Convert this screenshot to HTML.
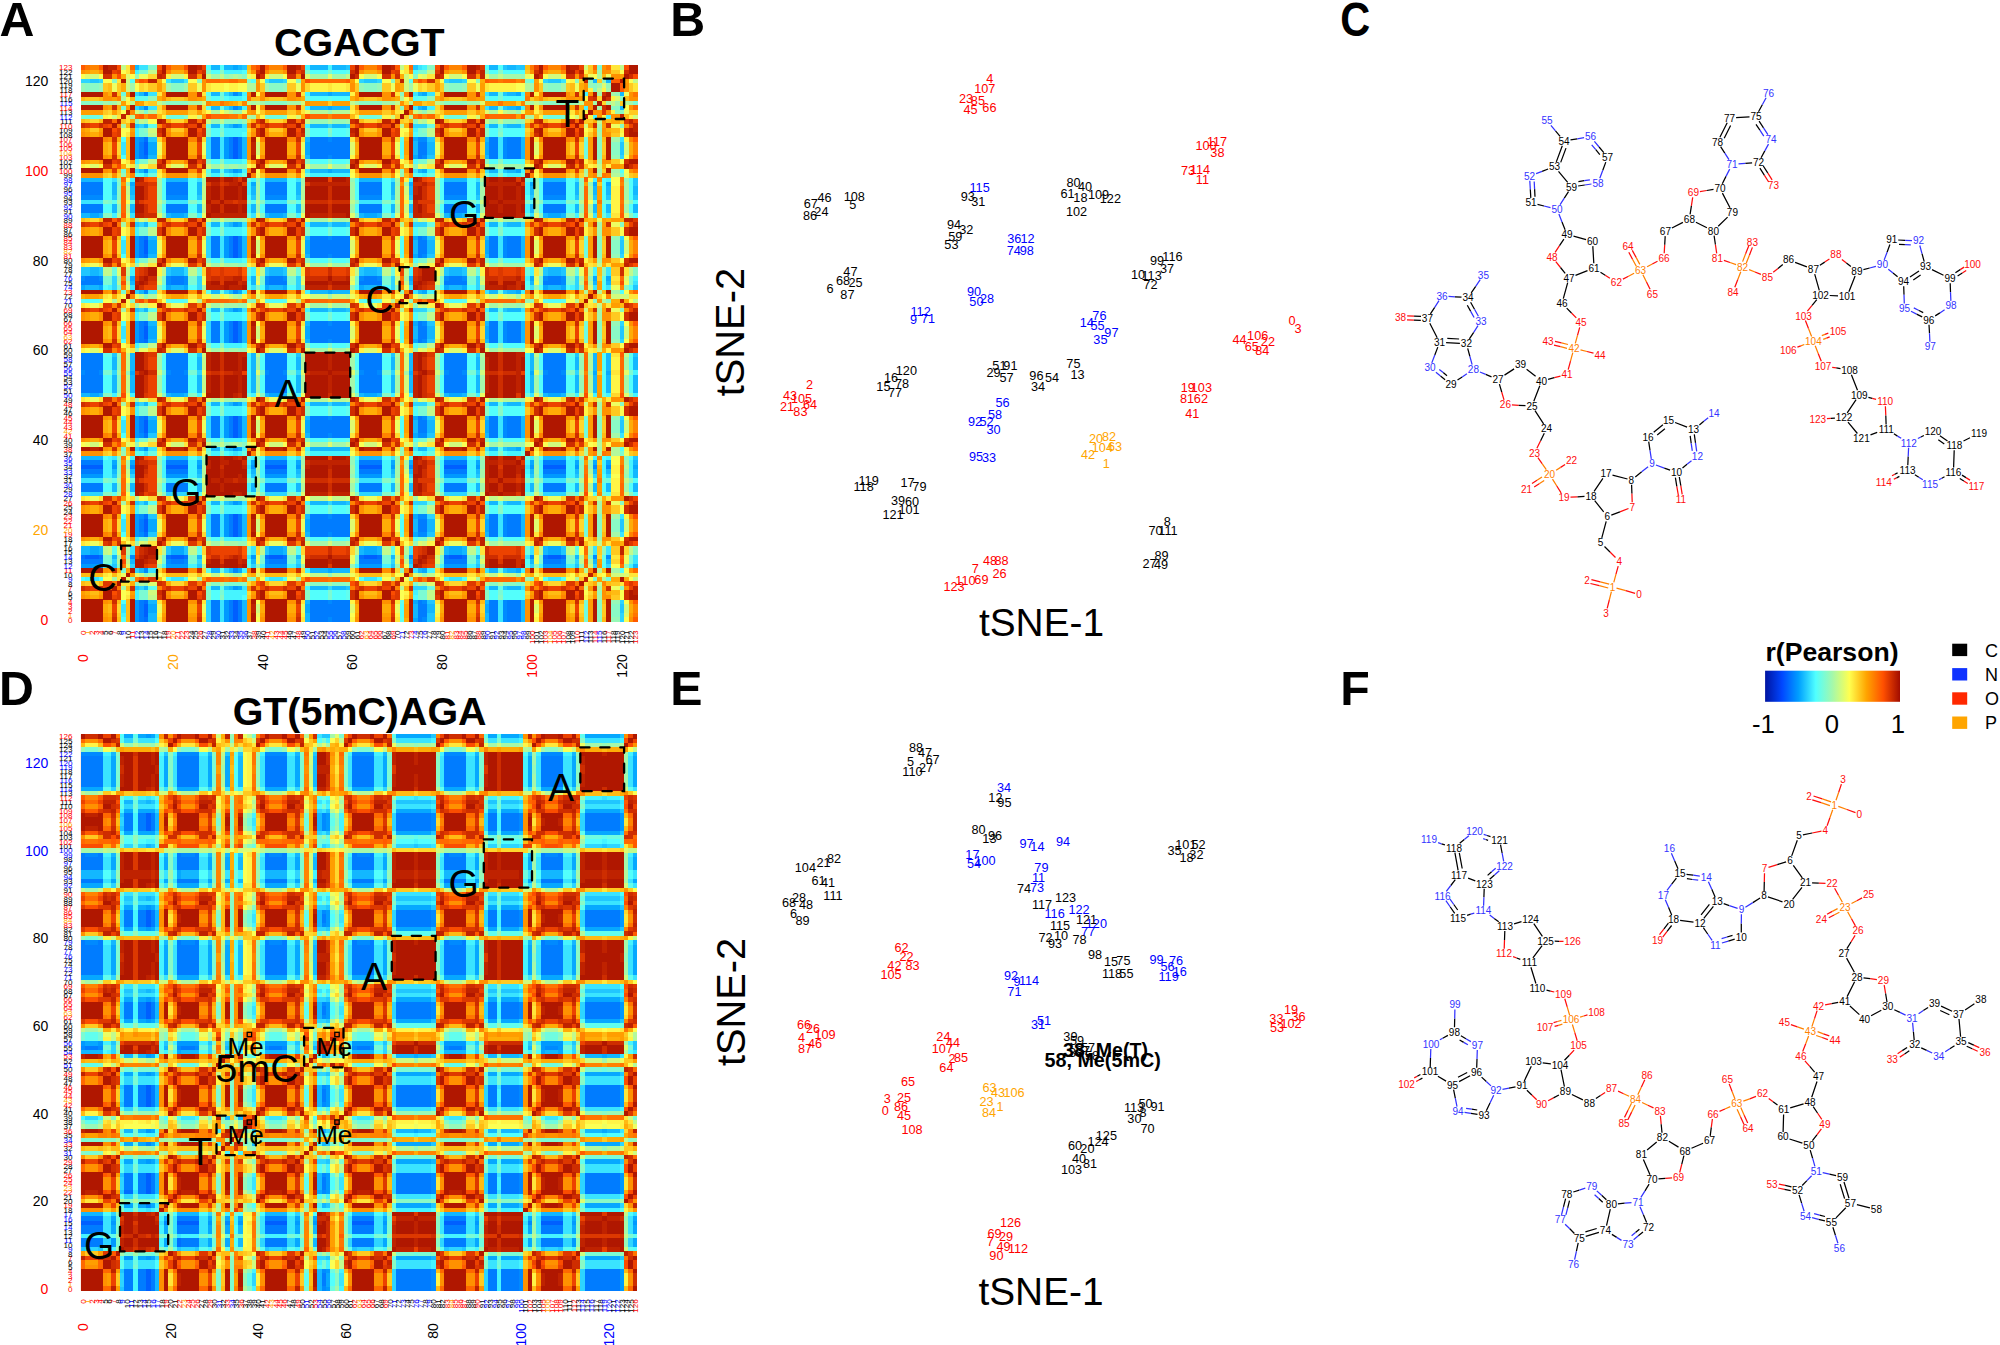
<!DOCTYPE html>
<html><head><meta charset="utf-8"><title>Figure</title>
<style>
html,body{margin:0;padding:0;background:#fff;}
body{width:2000px;height:1345px;overflow:hidden;}
svg{display:block;font-family:"Liberation Sans",sans-serif;}
</style></head><body>
<svg width="2000" height="1345" viewBox="0 0 2000 1345">
<rect width="2000" height="1345" fill="#fff"/>
<rect x="81.00" y="65.45" width="556.30" height="556.25" fill="#d85a10"/>
<g transform="translate(80.70 65.15) scale(4.49113 4.49073)" shape-rendering="crispEdges" fill="none" stroke-width="1.04">
<g transform="translate(0 .5)">
<path stroke="#005fff" d="M34 123h1M14 122h1M34 122h1M14 121h1M34 121h1M14 120h1M34 120h1M34 119h1M1 109h3M20 109h3M42 109h3M63 109h3M82 109h3M104 109h3M34 104h1M14 103h1M34 103h1M14 102h1M34 102h1M14 101h1M34 101h1M34 100h1M0 89h5M19 89h5M41 89h5M62 89h5M81 89h5M103 89h5M34 82h1M14 81h1M34 81h1M14 80h1M34 80h1M14 79h1M34 79h1M34 78h1M34 61h1M14 60h1M34 60h1M14 59h1M34 59h1M14 58h1M34 58h1M34 57h1M34 42h1M14 41h1M34 41h1M14 40h1M34 40h1M14 39h1M34 39h1M34 38h1M34 20h1M14 19h1M34 19h1M14 18h1M34 18h1M14 17h1M34 17h1M34 16h1"/>
<path stroke="#006eff" d="M14 123h1M14 119h1M0 109h1M4 109h1M19 109h1M23 109h1M41 109h1M45 109h1M62 109h1M66 109h1M81 109h1M85 109h1M103 109h1M107 109h1M14 104h1M14 100h1M14 82h1M14 78h1M14 61h1M14 57h1M14 42h1M14 38h1M14 20h1M14 16h1"/>
<path stroke="#007cff" d="M13 123h1M29 123h2M33 123h1M35 123h1M51 123h4M56 123h4M75 123h1M91 123h2M95 123h3M13 122h1M29 122h2M33 122h1M35 122h1M51 122h9M75 122h2M91 122h2M95 122h3M13 121h1M29 121h2M33 121h1M35 121h1M51 121h9M75 121h2M91 121h2M95 121h3M13 120h1M29 120h2M33 120h1M35 120h1M51 120h9M75 120h2M91 120h2M95 120h3M13 119h1M29 119h2M33 119h1M35 119h1M51 119h4M56 119h4M75 119h1M91 119h2M95 119h3M0 110h5M20 110h3M42 110h4M62 110h5M81 110h5M103 110h4M29 104h2M33 104h1M35 104h1M51 104h4M56 104h4M91 104h2M95 104h3M13 103h1M29 103h2M33 103h1M35 103h1M51 103h9M75 103h2M91 103h2M95 103h3M13 102h1M29 102h2M33 102h1M35 102h1M51 102h9M75 102h2M91 102h2M95 102h3M13 101h1M29 101h2M33 101h1M35 101h1M51 101h9M75 101h2M91 101h2M95 101h3M29 100h2M33 100h1M35 100h1M51 100h4M56 100h4M91 100h2M95 100h3M0 94h5M19 94h5M41 94h5M62 94h5M81 94h5M103 94h5M0 93h5M19 93h5M41 93h5M62 93h5M81 93h5M103 93h5M0 90h5M19 90h5M41 90h5M62 90h5M81 90h5M103 90h5M0 88h5M19 88h5M41 88h5M62 88h5M81 88h5M103 88h5M29 82h2M33 82h1M35 82h1M51 82h4M56 82h4M91 82h2M95 82h3M13 81h1M29 81h2M33 81h1M35 81h1M51 81h9M75 81h2M91 81h2M95 81h3M13 80h1M29 80h2M33 80h1M35 80h1M51 80h9M75 80h2M91 80h2M95 80h3M13 79h1M29 79h2M33 79h1M35 79h1M51 79h9M75 79h2M91 79h2M95 79h3M13 78h1M29 78h2M33 78h1M35 78h1M51 78h4M56 78h4M75 78h1M91 78h2M95 78h3M0 72h5M19 72h5M41 72h5M62 72h5M81 72h5M103 72h5M0 71h5M19 71h5M41 71h5M62 71h5M81 71h5M103 71h5M0 70h5M19 70h5M41 70h5M62 70h5M81 70h5M103 70h5M0 69h5M19 69h5M41 69h5M62 69h5M81 69h5M103 69h5M1 68h3M20 68h3M42 68h3M63 68h3M82 68h3M104 68h3M0 67h5M19 67h5M41 67h5M62 67h5M81 67h5M103 67h5M0 66h5M19 66h5M41 66h5M62 66h5M81 66h5M103 66h5M0 65h5M19 65h5M41 65h5M62 65h5M81 65h5M103 65h5M0 64h5M19 64h5M41 64h5M62 64h5M81 64h5M103 64h5M13 61h1M29 61h2M33 61h1M35 61h1M51 61h4M56 61h4M75 61h1M91 61h2M95 61h3M13 60h1M29 60h2M33 60h1M35 60h1M51 60h9M75 60h2M91 60h2M95 60h3M13 59h1M29 59h2M33 59h1M35 59h1M51 59h9M75 59h2M91 59h2M95 59h3M13 58h1M29 58h2M33 58h1M35 58h1M51 58h9M75 58h2M91 58h2M95 58h3M13 57h1M29 57h2M33 57h1M35 57h1M51 57h4M56 57h4M75 57h1M91 57h2M95 57h3M0 48h5M20 48h3M42 48h4M62 48h5M81 48h5M103 48h4M1 47h3M20 47h3M42 47h3M63 47h3M82 47h3M104 47h3M13 42h1M29 42h2M33 42h1M35 42h1M51 42h4M56 42h4M75 42h1M91 42h2M95 42h3M13 41h1M29 41h2M33 41h1M35 41h1M51 41h9M75 41h2M91 41h2M95 41h3M13 40h1M29 40h2M33 40h1M35 40h1M51 40h9M75 40h2M91 40h2M95 40h3M13 39h1M29 39h2M33 39h1M35 39h1M51 39h9M75 39h2M91 39h2M95 39h3M13 38h1M29 38h2M33 38h1M35 38h1M51 38h4M56 38h4M75 38h1M91 38h2M95 38h3M0 32h5M19 32h5M41 32h5M62 32h5M81 32h5M103 32h5M0 31h5M19 31h5M41 31h5M62 31h5M81 31h5M103 31h5M0 28h5M19 28h5M41 28h5M62 28h5M81 28h5M103 28h5M0 27h5M19 27h5M41 27h5M62 27h5M81 27h5M103 27h5M0 26h5M19 26h5M41 26h5M62 26h5M81 26h5M103 26h5M13 20h1M29 20h2M33 20h1M35 20h1M51 20h4M56 20h4M75 20h1M91 20h2M95 20h3M13 19h1M29 19h2M33 19h1M35 19h1M51 19h9M75 19h2M91 19h2M95 19h3M13 18h1M29 18h2M33 18h1M35 18h1M51 18h9M75 18h2M91 18h2M95 18h3M13 17h1M29 17h2M33 17h1M35 17h1M51 17h9M75 17h2M91 17h2M95 17h3M29 16h2M33 16h1M35 16h1M51 16h4M56 16h4M91 16h2M95 16h3"/>
<path stroke="#008aff" d="M55 123h1M76 123h1M94 123h1M94 122h1M94 121h1M94 120h1M55 119h1M76 119h1M94 119h1M14 112h1M34 112h1M19 110h1M23 110h1M41 110h1M107 110h1M11 109h1M73 109h1M100 109h1M114 109h1M117 109h1M13 104h1M55 104h1M75 104h2M94 104h1M94 103h1M94 102h1M94 101h1M13 100h1M55 100h1M75 100h2M94 100h1M11 89h1M73 89h1M114 89h1M117 89h1M13 82h1M55 82h1M75 82h2M94 82h1M94 81h1M94 80h1M94 79h1M55 78h1M76 78h1M94 78h1M0 68h1M4 68h1M19 68h1M23 68h1M41 68h1M45 68h1M62 68h1M66 68h1M81 68h1M85 68h1M103 68h1M107 68h1M55 61h1M76 61h1M94 61h1M94 60h1M94 59h1M94 58h1M55 57h1M76 57h1M94 57h1M14 50h1M34 50h1M19 48h1M23 48h1M41 48h1M107 48h1M0 47h1M4 47h1M19 47h1M23 47h1M41 47h1M45 47h1M62 47h1M66 47h1M81 47h1M85 47h1M103 47h1M107 47h1M55 42h1M76 42h1M94 42h1M94 41h1M94 40h1M94 39h1M55 38h1M76 38h1M94 38h1M0 29h5M19 29h5M41 29h5M62 29h5M81 29h5M103 29h5M14 23h1M55 20h1M76 20h1M94 20h1M94 19h1M94 18h1M94 17h1M13 16h1M55 16h1M75 16h2M94 16h1M14 9h1M34 9h1M14 6h1M34 6h1"/>
<path stroke="#0099ff" d="M12 123h1M32 123h1M12 122h1M32 122h1M12 121h1M32 121h1M12 120h1M32 120h1M12 119h1M32 119h1M34 116h1M0 111h5M19 111h5M41 111h5M62 111h5M81 111h5M103 111h5M38 109h1M12 104h1M32 104h1M12 103h1M32 103h1M12 102h1M32 102h1M12 101h1M32 101h1M12 100h1M32 100h1M34 97h1M0 91h5M19 91h5M41 91h5M62 91h5M81 91h5M103 91h5M7 89h1M26 89h1M38 89h1M48 89h1M69 89h1M88 89h1M100 89h1M110 89h1M14 85h1M34 85h1M12 82h1M32 82h1M12 81h1M32 81h1M12 80h1M32 80h1M12 79h1M32 79h1M12 78h1M32 78h1M34 75h1M12 61h1M32 61h1M12 60h1M32 60h1M12 59h1M32 59h1M12 58h1M32 58h1M12 57h1M32 57h1M34 54h1M12 42h1M32 42h1M12 41h1M32 41h1M12 40h1M32 40h1M12 39h1M32 39h1M12 38h1M32 38h1M34 35h1M34 23h1M12 20h1M32 20h1M12 19h1M32 19h1M12 18h1M32 18h1M12 17h1M32 17h1M12 16h1M32 16h1M34 13h1"/>
<path stroke="#06a8ff" d="M74 123h1M15 121h2M50 121h1M90 121h1M15 120h2M50 120h1M90 120h1M74 119h1M35 116h1M35 112h1M55 112h1M76 112h1M97 112h1M2 108h2M20 108h3M42 108h3M63 108h3M82 108h3M104 108h3M2 107h2M20 107h3M42 107h3M63 107h3M82 107h3M104 107h3M74 104h1M15 103h2M50 103h1M90 103h1M15 102h2M50 102h1M90 102h1M15 101h2M50 101h1M90 101h1M74 100h1M35 97h1M123 89h1M7 88h1M11 88h1M26 88h1M38 88h1M48 88h1M69 88h1M73 88h1M88 88h1M100 88h1M110 88h1M114 88h1M117 88h1M35 85h1M97 85h1M74 82h1M15 81h2M50 81h1M90 81h1M15 80h2M50 80h1M90 80h1M15 79h2M50 79h1M90 79h1M74 78h1M35 75h1M2 73h2M20 73h3M42 73h3M63 73h3M82 73h3M104 73h3M11 68h1M73 68h1M100 68h1M114 68h1M117 68h1M74 61h1M15 60h2M50 60h1M90 60h1M15 59h2M50 59h1M90 59h1M15 58h2M50 58h1M90 58h1M74 57h1M35 54h1M35 50h1M55 50h1M76 50h1M97 50h1M0 49h1M4 49h1M19 49h1M23 49h1M41 49h1M45 49h1M62 49h1M66 49h1M81 49h1M85 49h1M103 49h1M107 49h1M11 47h1M73 47h1M100 47h1M114 47h1M117 47h1M74 42h1M15 41h2M50 41h1M90 41h1M15 40h2M50 40h1M90 40h1M15 39h2M50 39h1M90 39h1M74 38h1M35 35h1M2 33h2M20 33h3M42 33h3M63 33h3M82 33h3M104 33h3M11 26h1M38 26h1M73 26h1M100 26h1M114 26h1M117 26h1M35 23h1M55 23h1M76 23h1M97 23h1M74 20h1M15 19h2M50 19h1M90 19h1M15 18h2M50 18h1M90 18h1M15 17h2M50 17h1M90 17h1M74 16h1M35 13h1M35 9h1M55 9h1M76 9h1M97 9h1M35 6h1M55 6h1M76 6h1M97 6h1M34 0h1"/>
<path stroke="#13b7ff" d="M15 123h2M36 123h1M50 123h1M90 123h1M98 123h1M15 122h2M36 122h1M50 122h1M74 122h1M90 122h1M98 122h1M36 121h1M74 121h1M77 121h2M98 121h1M36 120h1M74 120h1M77 120h2M98 120h1M15 119h2M36 119h1M50 119h1M90 119h1M98 119h1M14 116h1M29 116h2M33 116h1M51 116h4M56 116h3M91 116h2M95 116h3M13 112h1M29 112h2M33 112h1M51 112h4M56 112h4M75 112h1M91 112h2M95 112h2M123 111h1M11 110h1M38 110h1M73 110h1M100 110h1M114 110h1M117 110h1M7 109h1M26 109h1M48 109h1M69 109h1M88 109h1M110 109h1M0 108h2M4 108h1M45 108h1M62 108h1M66 108h1M81 108h1M85 108h1M103 108h1M0 107h2M4 107h1M45 107h1M62 107h1M66 107h1M81 107h1M85 107h1M103 107h1M36 104h1M50 104h1M90 104h1M98 104h1M36 103h1M74 103h1M77 103h2M98 103h1M36 102h1M74 102h1M77 102h2M98 102h1M36 101h1M74 101h1M77 101h2M98 101h1M36 100h1M50 100h1M90 100h1M98 100h1M14 97h1M29 97h2M33 97h1M51 97h4M56 97h3M91 97h2M95 97h3M7 94h1M11 94h1M26 94h1M38 94h1M48 94h1M69 94h1M73 94h1M88 94h1M100 94h1M110 94h1M114 94h1M117 94h1M123 94h1M7 93h1M11 93h1M26 93h1M38 93h1M48 93h1M69 93h1M73 93h1M88 93h1M100 93h1M110 93h1M114 93h1M117 93h1M123 93h1M123 91h1M7 90h1M11 90h1M26 90h1M38 90h1M48 90h1M69 90h1M73 90h1M88 90h1M100 90h1M110 90h1M114 90h1M117 90h1M123 90h1M123 88h1M0 87h5M19 87h5M41 87h5M62 87h5M81 87h5M103 87h5M13 85h1M29 85h2M33 85h1M51 85h9M75 85h2M91 85h2M95 85h2M36 82h1M50 82h1M90 82h1M98 82h1M36 81h1M74 81h1M77 81h2M98 81h1M36 80h1M74 80h1M77 80h2M98 80h1M36 79h1M74 79h1M77 79h2M98 79h1M15 78h2M36 78h1M50 78h1M90 78h1M98 78h1M14 75h1M29 75h2M33 75h1M51 75h4M56 75h3M91 75h2M95 75h3M0 73h2M4 73h1M19 73h1M23 73h1M41 73h1M45 73h1M62 73h1M66 73h1M81 73h1M85 73h1M103 73h1M107 73h1M7 72h1M11 72h1M26 72h1M38 72h1M48 72h1M69 72h1M73 72h1M88 72h1M100 72h1M110 72h1M114 72h1M117 72h1M123 72h1M7 71h1M11 71h1M26 71h1M38 71h1M48 71h1M69 71h1M73 71h1M88 71h1M100 71h1M110 71h1M114 71h1M117 71h1M123 71h1M7 70h1M11 70h1M26 70h1M38 70h1M48 70h1M69 70h1M73 70h1M88 70h1M100 70h1M110 70h1M114 70h1M117 70h1M123 70h1M7 69h1M11 69h1M26 69h1M38 69h1M48 69h1M69 69h1M73 69h1M88 69h1M100 69h1M110 69h1M114 69h1M117 69h1M123 69h1M38 68h1M7 67h1M11 67h1M26 67h1M38 67h1M48 67h1M69 67h1M73 67h1M88 67h1M100 67h1M110 67h1M114 67h1M117 67h1M123 67h1M7 66h1M11 66h1M26 66h1M38 66h1M48 66h1M69 66h1M73 66h1M88 66h1M100 66h1M110 66h1M114 66h1M117 66h1M123 66h1M7 65h1M11 65h1M26 65h1M38 65h1M48 65h1M69 65h1M73 65h1M88 65h1M100 65h1M110 65h1M114 65h1M117 65h1M123 65h1M11 64h1M38 64h1M73 64h1M100 64h1M114 64h1M117 64h1M15 61h2M36 61h1M50 61h1M90 61h1M98 61h1M36 60h1M74 60h1M77 60h2M98 60h1M36 59h1M74 59h1M77 59h2M98 59h1M36 58h1M74 58h1M77 58h2M98 58h1M15 57h2M36 57h1M50 57h1M90 57h1M98 57h1M14 54h1M29 54h2M33 54h1M51 54h4M56 54h3M91 54h2M95 54h3M13 50h1M29 50h2M33 50h1M51 50h4M56 50h4M75 50h1M91 50h2M95 50h2M1 49h3M20 49h3M42 49h3M63 49h3M82 49h3M104 49h3M11 48h1M38 48h1M73 48h1M100 48h1M114 48h1M117 48h1M38 47h1M2 46h2M20 46h3M42 46h3M63 46h3M82 46h3M104 46h3M2 45h2M20 45h3M42 45h3M63 45h3M82 45h3M104 45h3M15 42h2M36 42h1M50 42h1M90 42h1M98 42h1M36 41h1M74 41h1M77 41h2M98 41h1M36 40h1M74 40h1M77 40h2M98 40h1M36 39h1M74 39h1M77 39h2M98 39h1M15 38h2M36 38h1M50 38h1M90 38h1M98 38h1M14 35h1M29 35h2M33 35h1M51 35h4M56 35h3M91 35h2M95 35h3M0 33h2M4 33h1M19 33h1M23 33h1M41 33h1M45 33h1M62 33h1M66 33h1M81 33h1M85 33h1M103 33h1M107 33h1M7 32h1M11 32h1M26 32h1M38 32h1M48 32h1M69 32h1M73 32h1M88 32h1M100 32h1M110 32h1M114 32h1M117 32h1M123 32h1M7 31h1M11 31h1M26 31h1M38 31h1M48 31h1M69 31h1M73 31h1M88 31h1M100 31h1M110 31h1M114 31h1M117 31h1M123 31h1M7 28h1M11 28h1M26 28h1M38 28h1M48 28h1M69 28h1M73 28h1M88 28h1M100 28h1M110 28h1M114 28h1M117 28h1M123 28h1M7 27h1M11 27h1M26 27h1M38 27h1M48 27h1M69 27h1M73 27h1M88 27h1M100 27h1M110 27h1M114 27h1M117 27h1M123 27h1M7 26h1M26 26h1M48 26h1M69 26h1M88 26h1M110 26h1M0 25h5M19 25h5M41 25h5M62 25h5M81 25h5M103 25h5M13 23h1M29 23h2M33 23h1M51 23h4M56 23h4M75 23h1M91 23h2M95 23h2M15 20h2M36 20h1M50 20h1M90 20h1M98 20h1M36 19h1M74 19h1M77 19h2M98 19h1M36 18h1M74 18h1M77 18h2M98 18h1M36 17h1M74 17h1M77 17h2M98 17h1M36 16h1M50 16h1M90 16h1M98 16h1M14 13h1M29 13h2M33 13h1M51 13h4M56 13h3M91 13h2M95 13h3M13 9h1M29 9h2M33 9h1M51 9h4M56 9h4M75 9h1M91 9h2M95 9h2M120 9h1M13 6h1M29 6h2M33 6h1M51 6h4M56 6h4M75 6h1M91 6h2M95 6h2M120 6h1M114 3h1M117 3h1M12 0h1M29 0h2M32 0h2M35 0h1M51 0h4M56 0h3M91 0h2M95 0h2"/>
<path stroke="#20c6ff" d="M77 123h2M77 122h2M120 121h1M120 120h1M77 119h2M12 116h1M32 116h1M59 116h1M94 116h1M94 112h1M7 111h1M26 111h1M48 111h1M69 111h1M88 111h1M110 111h1M19 108h1M23 108h1M41 108h1M107 108h1M19 107h1M23 107h1M41 107h1M107 107h1M15 104h2M77 104h2M120 103h1M120 102h1M120 101h1M15 100h2M12 97h1M32 97h1M59 97h1M94 97h1M7 91h1M26 91h1M38 91h1M48 91h1M69 91h1M88 91h1M100 91h1M110 91h1M123 87h1M32 85h1M94 85h1M15 82h2M77 82h2M120 81h1M120 80h1M120 79h1M77 78h2M12 75h1M32 75h1M59 75h1M94 75h1M7 64h1M26 64h1M48 64h1M69 64h1M88 64h1M110 64h1M123 64h1M77 61h2M120 60h1M120 59h1M120 58h1M77 57h2M12 54h1M32 54h1M59 54h1M94 54h1M94 50h1M123 49h1M0 46h2M4 46h1M19 46h1M41 46h1M45 46h1M62 46h1M66 46h1M81 46h1M85 46h1M103 46h1M107 46h1M0 45h2M4 45h1M19 45h1M41 45h1M45 45h1M62 45h1M66 45h1M81 45h1M85 45h1M103 45h1M107 45h1M77 42h2M120 41h1M120 40h1M120 39h1M77 38h2M12 35h1M32 35h1M59 35h1M94 35h1M7 29h1M11 29h1M26 29h1M38 29h1M48 29h1M69 29h1M73 29h1M88 29h1M100 29h1M110 29h1M114 29h1M117 29h1M123 29h1M123 26h1M123 25h1M32 23h1M94 23h1M77 20h2M120 19h1M120 18h1M120 17h1M15 16h2M77 16h2M12 13h1M32 13h1M59 13h1M94 13h1M94 9h1M94 6h1M2 3h2M20 3h3M42 3h3M63 3h3M82 3h3M104 3h3M36 0h1M59 0h1M74 0h1M94 0h1M97 0h2"/>
<path stroke="#2dd5ff" d="M28 123h1M120 123h1M28 122h1M120 122h1M28 121h1M28 120h1M28 119h1M120 119h1M13 116h1M55 116h1M74 116h3M12 112h1M32 112h1M11 111h1M38 111h1M73 111h1M100 111h1M114 111h1M117 111h1M7 110h1M26 110h1M48 110h1M69 110h1M88 110h1M110 110h1M28 104h1M28 103h1M28 102h1M28 101h1M28 100h1M77 100h2M13 97h1M55 97h1M74 97h3M0 95h5M19 95h5M41 95h5M62 95h5M81 95h5M103 95h5M11 91h1M73 91h1M114 91h1M117 91h1M12 85h1M28 82h1M28 81h1M28 80h1M28 79h1M28 78h1M120 78h1M13 75h1M55 75h1M74 75h3M7 68h1M26 68h1M48 68h1M69 68h1M88 68h1M110 68h1M28 61h1M120 61h1M28 60h1M28 59h1M28 58h1M28 57h1M120 57h1M13 54h1M55 54h1M74 54h3M12 50h1M32 50h1M7 49h1M26 49h1M48 49h1M69 49h1M88 49h1M110 49h1M7 48h1M26 48h1M48 48h1M69 48h1M88 48h1M110 48h1M7 47h1M26 47h1M48 47h1M69 47h1M88 47h1M110 47h1M23 46h1M23 45h1M28 42h1M120 42h1M28 41h1M28 40h1M28 39h1M28 38h1M120 38h1M13 35h1M55 35h1M74 35h3M12 23h1M28 20h1M120 20h1M28 19h1M28 18h1M28 17h1M28 16h1M13 13h1M55 13h1M74 13h3M12 9h1M32 9h1M12 6h1M32 6h1M0 3h2M4 3h1M45 3h1M62 3h1M66 3h1M81 3h1M85 3h1M103 3h1"/>
<path stroke="#3ae4ff" d="M31 123h1M93 123h1M31 122h1M93 122h1M9 121h1M31 121h1M93 121h1M9 120h1M31 120h1M93 120h1M31 119h1M93 119h1M36 116h1M98 116h1M2 114h2M20 114h3M42 114h3M63 114h3M82 114h3M104 114h3M15 112h2M74 112h1M90 112h1M123 110h1M37 109h1M99 109h1M123 109h1M11 108h1M38 108h1M73 108h1M100 108h1M114 108h1M117 108h1M11 107h1M38 107h1M73 107h1M100 107h1M114 107h1M117 107h1M31 104h1M93 104h1M120 104h1M9 103h1M31 103h1M93 103h1M9 102h1M31 102h1M93 102h1M9 101h1M31 101h1M93 101h1M31 100h1M93 100h1M120 100h1M36 97h1M98 97h1M0 92h5M19 92h5M41 92h5M62 92h5M81 92h5M103 92h5M37 89h1M99 89h1M7 87h1M26 87h1M48 87h1M69 87h1M88 87h1M110 87h1M14 86h1M34 86h1M15 85h2M74 85h1M90 85h1M31 82h1M93 82h1M120 82h1M9 81h1M31 81h1M93 81h1M9 80h1M31 80h1M93 80h1M9 79h1M31 79h1M93 79h1M31 78h1M93 78h1M36 75h1M98 75h1M100 73h1M31 61h1M93 61h1M9 60h1M31 60h1M93 60h1M9 59h1M31 59h1M93 59h1M9 58h1M31 58h1M93 58h1M31 57h1M93 57h1M36 54h1M98 54h1M15 50h2M74 50h1M90 50h1M11 49h1M38 49h1M73 49h1M100 49h1M114 49h1M117 49h1M123 48h1M117 46h1M117 45h1M31 42h1M93 42h1M9 41h1M31 41h1M93 41h1M9 40h1M31 40h1M93 40h1M9 39h1M31 39h1M93 39h1M31 38h1M93 38h1M36 35h1M98 35h1M11 33h1M38 33h1M73 33h1M100 33h1M114 33h1M117 33h1M0 30h5M19 30h5M41 30h5M62 30h5M81 30h5M103 30h5M7 25h1M26 25h1M48 25h1M69 25h1M88 25h1M110 25h1M14 24h1M34 24h1M15 23h2M50 23h1M74 23h1M90 23h1M31 20h1M93 20h1M9 19h1M31 19h1M93 19h1M9 18h1M31 18h1M93 18h1M9 17h1M31 17h1M93 17h1M31 16h1M93 16h1M120 16h1M36 13h1M98 13h1M15 9h2M74 9h1M90 9h1M15 6h2M74 6h1M77 6h2M90 6h1M19 3h1M23 3h1M41 3h1M107 3h1M13 0h2M75 0h1"/>
<path stroke="#46f4ff" d="M9 122h1M12 118h1M32 118h4M12 117h1M32 117h5M74 117h1M50 116h1M90 116h1M1 114h1M36 112h1M50 112h1M77 112h2M98 112h1M5 111h2M18 111h1M24 111h2M40 111h1M46 111h2M61 111h1M67 111h2M80 111h1M86 111h2M102 111h1M108 111h2M122 111h1M12 105h1M32 105h4M12 99h1M32 99h4M12 98h1M32 98h4M50 97h1M90 97h1M37 94h1M99 94h1M37 93h1M99 93h1M5 91h2M18 91h1M24 91h2M40 91h1M46 91h2M61 91h1M67 91h2M80 91h1M86 91h2M102 91h1M108 91h2M122 91h1M5 90h2M18 90h1M24 90h2M37 90h1M40 90h1M46 90h2M61 90h1M67 90h2M80 90h1M86 90h2M99 90h1M102 90h1M108 90h2M116 90h1M122 90h1M5 89h2M18 89h1M24 89h2M40 89h1M46 89h2M61 89h1M67 89h2M80 89h1M86 89h2M102 89h1M108 89h2M116 89h1M122 89h1M5 88h2M18 88h1M24 88h2M37 88h1M40 88h1M46 88h2M61 88h1M67 88h2M80 88h1M86 88h2M99 88h1M102 88h1M108 88h2M116 88h1M122 88h1M6 87h1M11 87h1M38 87h1M73 87h1M100 87h1M109 87h1M114 87h1M117 87h1M29 86h2M33 86h1M35 86h1M51 86h9M76 86h1M91 86h2M95 86h3M36 85h1M50 85h1M77 85h2M98 85h1M12 83h1M32 83h4M12 77h1M32 77h4M12 76h1M32 76h4M50 75h1M90 75h1M7 73h1M11 73h1M26 73h1M38 73h1M48 73h1M69 73h1M73 73h1M88 73h1M110 73h1M114 73h1M117 73h1M123 73h1M37 72h1M99 72h1M37 71h1M99 71h1M37 70h1M99 70h1M37 69h1M99 69h1M37 68h1M99 68h1M123 68h1M37 67h1M99 67h1M37 66h1M99 66h1M37 65h1M99 65h1M37 64h1M99 64h1M12 62h1M32 62h4M12 56h1M32 56h4M12 55h1M32 55h4M50 54h1M90 54h1M36 50h1M50 50h1M77 50h2M98 50h1M6 49h1M109 49h1M37 47h1M99 47h1M123 47h1M11 46h1M38 46h1M73 46h1M100 46h1M114 46h1M11 45h1M38 45h1M73 45h1M100 45h1M114 45h1M12 43h1M32 43h4M12 37h1M32 37h4M12 36h1M32 36h4M50 35h1M90 35h1M7 33h1M26 33h1M48 33h1M69 33h1M88 33h1M110 33h1M37 32h1M99 32h1M37 31h1M99 31h1M37 28h1M99 28h1M37 27h1M99 27h1M37 26h1M99 26h1M11 25h1M38 25h1M73 25h1M100 25h1M114 25h1M117 25h1M29 24h2M33 24h1M35 24h1M51 24h9M76 24h1M91 24h2M95 24h3M36 23h1M77 23h2M98 23h1M12 21h1M32 21h4M12 15h1M32 15h4M12 14h1M32 14h5M74 14h1M50 13h1M90 13h1M114 11h1M117 11h1M36 9h1M50 9h1M77 9h2M98 9h1M112 9h1M33 7h3M36 6h1M50 6h1M98 6h1M112 6h1M12 1h1M32 1h4M50 0h1M55 0h1M76 0h1"/>
<path stroke="#53fffc" d="M9 123h1M71 122h1M71 121h1M71 120h1M9 119h1M29 118h2M36 118h1M51 118h4M56 118h3M74 118h1M91 118h2M94 118h5M29 117h2M51 117h4M56 117h3M91 117h2M94 117h5M0 114h1M4 114h1M19 114h1M23 114h1M41 114h1M45 114h1M62 114h1M66 114h1M81 114h1M85 114h1M103 114h1M107 114h1M120 112h1M116 111h1M37 110h1M99 110h1M29 105h2M36 105h1M51 105h4M56 105h3M74 105h1M91 105h2M94 105h5M9 104h1M71 103h1M71 102h1M71 101h1M9 100h1M29 99h2M36 99h1M51 99h4M56 99h3M74 99h1M91 99h2M94 99h5M29 98h2M36 98h1M51 98h4M56 98h3M74 98h1M91 98h2M94 98h5M123 95h1M5 94h2M18 94h1M24 94h2M40 94h1M46 94h2M61 94h1M67 94h2M80 94h1M86 94h2M102 94h1M108 94h2M116 94h1M122 94h1M5 93h2M18 93h1M24 93h2M40 93h1M46 93h2M61 93h1M67 93h2M80 93h1M86 93h2M102 93h1M108 93h2M116 93h1M122 93h1M123 92h1M37 91h1M99 91h1M116 91h1M5 87h1M18 87h1M24 87h2M40 87h1M46 87h2M61 87h1M67 87h2M80 87h1M86 87h2M102 87h1M108 87h1M116 87h1M122 87h1M13 86h1M32 86h1M75 86h1M94 86h1M120 85h1M29 83h2M36 83h1M51 83h4M56 83h3M74 83h1M91 83h2M94 83h5M9 82h1M71 81h1M71 80h1M71 79h1M9 78h1M29 77h2M36 77h1M51 77h4M56 77h3M74 77h1M91 77h2M94 77h5M29 76h2M36 76h1M51 76h4M56 76h3M74 76h1M91 76h2M94 76h5M5 72h2M18 72h1M24 72h2M40 72h1M46 72h2M61 72h1M67 72h2M80 72h1M86 72h2M102 72h1M108 72h2M116 72h1M122 72h1M5 71h2M18 71h1M24 71h2M40 71h1M46 71h2M61 71h1M67 71h2M80 71h1M86 71h2M102 71h1M108 71h2M116 71h1M122 71h1M5 70h2M18 70h1M24 70h2M40 70h1M46 70h2M61 70h1M67 70h2M80 70h1M86 70h2M102 70h1M108 70h2M116 70h1M122 70h1M5 69h2M18 69h1M24 69h2M40 69h1M46 69h2M61 69h1M67 69h2M80 69h1M86 69h2M102 69h1M108 69h2M116 69h1M122 69h1M5 67h2M18 67h1M24 67h2M40 67h1M46 67h2M61 67h1M67 67h2M80 67h1M86 67h2M102 67h1M108 67h2M116 67h1M122 67h1M5 66h2M18 66h1M24 66h2M40 66h1M46 66h2M61 66h1M67 66h2M80 66h1M86 66h2M102 66h1M108 66h2M116 66h1M122 66h1M5 65h2M18 65h1M24 65h2M40 65h1M46 65h2M61 65h1M67 65h2M80 65h1M86 65h2M102 65h1M108 65h2M116 65h1M122 65h1M116 64h1M29 62h2M36 62h1M51 62h4M56 62h3M74 62h1M91 62h2M94 62h5M9 61h1M71 60h1M71 59h1M71 58h1M9 57h1M29 56h2M36 56h1M51 56h4M56 56h3M74 56h1M91 56h2M94 56h5M29 55h2M36 55h1M51 55h4M56 55h3M74 55h1M91 55h2M94 55h5M1 52h3M20 52h3M42 52h3M63 52h3M82 52h3M104 52h3M120 50h1M5 49h1M18 49h1M24 49h2M40 49h1M46 49h2M61 49h1M67 49h2M80 49h1M86 49h2M102 49h1M108 49h1M116 49h1M122 49h1M37 48h1M99 48h1M29 43h2M36 43h1M51 43h4M56 43h3M74 43h1M91 43h2M94 43h5M9 42h1M71 41h1M71 40h1M71 39h1M9 38h1M29 37h2M36 37h1M51 37h4M56 37h3M74 37h1M91 37h2M94 37h5M29 36h2M36 36h1M51 36h4M56 36h3M74 36h1M91 36h2M94 36h5M123 33h1M5 32h2M18 32h1M24 32h2M40 32h1M46 32h2M61 32h1M67 32h2M80 32h1M86 32h2M102 32h1M108 32h2M116 32h1M122 32h1M5 31h2M18 31h1M24 31h2M40 31h1M46 31h2M61 31h1M67 31h2M80 31h1M86 31h2M102 31h1M108 31h2M116 31h1M122 31h1M123 30h1M5 29h2M18 29h1M24 29h2M37 29h1M40 29h1M46 29h2M61 29h1M67 29h2M80 29h1M86 29h2M99 29h1M102 29h1M108 29h2M116 29h1M122 29h1M5 28h2M18 28h1M24 28h2M40 28h1M46 28h2M61 28h1M67 28h2M80 28h1M86 28h2M102 28h1M108 28h2M116 28h1M122 28h1M5 27h2M18 27h1M24 27h2M40 27h1M46 27h2M61 27h1M67 27h2M80 27h1M86 27h2M102 27h1M108 27h2M116 27h1M122 27h1M5 26h2M18 26h1M24 26h2M40 26h1M46 26h2M61 26h1M67 26h2M80 26h1M86 26h2M102 26h1M108 26h2M116 26h1M122 26h1M5 25h2M18 25h1M24 25h2M40 25h1M46 25h2M61 25h1M67 25h2M80 25h1M86 25h2M102 25h1M108 25h2M116 25h1M122 25h1M13 24h1M32 24h1M75 24h1M94 24h1M120 23h1M29 21h2M36 21h1M51 21h4M56 21h3M74 21h1M91 21h2M94 21h5M9 20h1M71 19h1M71 18h1M71 17h1M9 16h1M29 15h2M36 15h1M51 15h4M56 15h3M74 15h1M91 15h2M94 15h5M29 14h2M51 14h4M56 14h3M91 14h2M94 14h5M12 7h1M29 7h2M32 7h1M36 7h1M51 7h4M56 7h4M74 7h1M91 7h2M94 7h5M11 3h1M38 3h1M73 3h1M100 3h1M29 1h2M36 1h1M51 1h4M56 1h3M74 1h1M91 1h2M94 1h5M28 0h1M31 0h1M90 0h1M93 0h1"/>
<path stroke="#61feee" d="M71 123h1M71 119h1M59 118h1M59 117h1M15 116h2M28 116h1M31 116h1M93 116h1M28 112h1M37 111h1M99 111h1M116 110h1M116 109h1M7 108h1M26 108h1M48 108h1M69 108h1M88 108h1M110 108h1M7 107h1M26 107h1M48 107h1M69 107h1M88 107h1M110 107h1M59 105h1M71 104h1M71 100h1M59 99h1M59 98h1M15 97h2M28 97h1M31 97h1M93 97h1M7 95h1M11 95h1M26 95h1M38 95h1M48 95h1M69 95h1M73 95h1M88 95h1M100 95h1M110 95h1M114 95h1M117 95h1M7 92h1M26 92h1M38 92h1M48 92h1M69 92h1M88 92h1M100 92h1M110 92h1M12 86h1M74 86h1M28 85h1M31 85h1M93 85h1M59 83h1M71 82h1M71 78h1M59 77h1M59 76h1M15 75h2M28 75h1M31 75h1M93 75h1M116 68h1M5 64h2M18 64h1M24 64h2M40 64h1M46 64h2M61 64h1M67 64h2M80 64h1M86 64h2M102 64h1M108 64h2M122 64h1M59 62h1M71 61h1M71 57h1M59 56h1M59 55h1M15 54h2M28 54h1M31 54h1M93 54h1M0 52h1M4 52h1M19 52h1M23 52h1M41 52h1M45 52h1M62 52h1M66 52h1M81 52h1M85 52h1M103 52h1M107 52h1M28 50h1M37 49h1M99 49h1M116 48h1M116 47h1M59 43h1M71 42h1M71 38h1M59 37h1M59 36h1M15 35h2M28 35h1M31 35h1M93 35h1M7 30h1M26 30h1M38 30h1M48 30h1M69 30h1M88 30h1M100 30h1M110 30h1M12 24h1M74 24h1M28 23h1M31 23h1M93 23h1M59 21h1M71 20h1M71 16h1M59 15h1M59 14h1M15 13h2M28 13h1M31 13h1M93 13h1M28 9h1M13 7h2M55 7h1M75 7h2M28 6h1M59 1h1"/>
<path stroke="#6ffce0" d="M112 122h1M112 121h1M112 120h1M77 116h2M100 114h1M117 114h1M31 112h1M93 112h1M37 108h1M99 108h1M37 107h1M99 107h1M112 103h1M112 102h1M112 101h1M77 97h2M11 92h1M73 92h1M114 92h1M117 92h1M37 87h1M99 87h1M15 86h2M36 86h1M50 86h1M77 86h2M90 86h1M98 86h1M112 81h1M112 80h1M112 79h1M77 75h2M37 73h1M99 73h1M116 73h1M112 60h1M112 59h1M112 58h1M77 54h2M31 50h1M93 50h1M7 46h1M26 46h1M37 46h1M48 46h1M69 46h1M88 46h1M99 46h1M110 46h1M7 45h1M26 45h1M37 45h1M48 45h1M69 45h1M88 45h1M99 45h1M110 45h1M112 41h1M112 40h1M112 39h1M77 35h2M37 33h1M99 33h1M116 33h1M11 30h1M73 30h1M114 30h1M117 30h1M37 25h1M99 25h1M15 24h2M36 24h1M50 24h1M77 24h2M90 24h1M98 24h1M9 23h1M112 19h1M112 18h1M112 17h1M77 13h2M1 11h3M20 11h3M42 11h3M63 11h3M82 11h3M104 11h3M31 9h1M93 9h1M50 7h1M90 7h1M9 6h1M31 6h1M93 6h1"/>
<path stroke="#7cfbd3" d="M112 123h1M112 119h1M13 118h2M55 118h1M75 118h2M13 117h2M31 117h1M55 117h1M75 117h2M93 117h1M33 115h3M74 115h1M97 115h1M11 114h1M38 114h1M73 114h1M114 114h1M9 112h1M5 110h2M18 110h1M24 110h2M40 110h1M46 110h2M61 110h1M67 110h2M80 110h1M86 110h2M102 110h1M108 110h2M122 110h1M5 109h2M18 109h1M24 109h2M40 109h1M46 109h2M61 109h1M67 109h2M80 109h1M86 109h2M102 109h1M108 109h1M113 109h1M122 109h1M13 105h2M55 105h1M75 105h2M112 104h1M13 99h2M55 99h1M75 99h2M13 98h2M55 98h1M75 98h2M37 95h1M99 95h1M116 95h1M6 92h1M109 92h1M116 92h1M8 90h1M8 89h1M8 88h1M111 88h1M28 86h1M120 86h1M9 85h1M13 83h2M55 83h1M75 83h2M112 82h1M112 78h1M13 77h2M55 77h1M75 77h2M13 76h2M55 76h1M75 76h2M5 68h2M18 68h1M24 68h2M40 68h1M46 68h2M61 68h1M67 68h2M80 68h1M86 68h2M102 68h1M108 68h1M122 68h1M13 62h2M55 62h1M75 62h2M112 61h1M112 57h1M13 56h2M55 56h1M75 56h2M13 55h2M55 55h1M75 55h2M9 50h1M8 49h1M5 48h2M18 48h1M24 48h2M40 48h1M46 48h2M61 48h1M67 48h2M80 48h1M86 48h2M102 48h1M108 48h2M122 48h1M5 47h2M18 47h1M24 47h2M40 47h1M46 47h2M61 47h1M67 47h2M80 47h1M86 47h2M102 47h1M108 47h1M122 47h1M13 43h2M55 43h1M75 43h2M112 42h1M112 38h1M13 37h2M55 37h1M75 37h2M13 36h2M55 36h1M75 36h2M6 30h1M109 30h1M116 30h1M8 26h1M28 24h1M120 24h1M13 21h2M55 21h1M75 21h2M112 20h1M112 16h1M13 15h2M55 15h1M75 15h2M13 14h1M31 14h1M75 14h1M93 14h1M35 12h1M0 11h1M4 11h1M19 11h1M41 11h1M45 11h1M62 11h1M66 11h1M81 11h1M85 11h1M103 11h1M107 11h1M14 10h1M9 9h1M123 8h1M28 7h1M31 7h1M93 7h1M37 3h1M99 3h1M13 1h2M55 1h1M75 1h2M115 0h1"/>
<path stroke="#8afac5" d="M115 123h1M115 122h1M118 122h2M115 121h1M118 121h2M115 120h1M118 120h2M115 119h1M28 118h1M31 118h1M50 118h1M90 118h1M93 118h1M28 117h1M50 117h1M90 117h1M120 116h1M12 115h1M29 115h2M32 115h1M36 115h1M51 115h4M56 115h3M91 115h2M94 115h3M98 115h1M14 113h1M71 112h1M8 111h1M111 111h1M10 109h1M72 109h1M109 109h1M123 108h1M123 107h1M28 105h1M31 105h1M50 105h1M90 105h1M93 105h1M115 104h1M115 103h1M118 103h2M115 102h1M118 102h2M115 101h1M118 101h2M112 100h1M115 100h1M28 99h1M31 99h1M50 99h1M90 99h1M93 99h1M28 98h1M31 98h1M50 98h1M90 98h1M93 98h1M120 97h1M5 95h2M18 95h1M24 95h2M40 95h1M46 95h2M61 95h1M67 95h2M80 95h1M86 95h2M102 95h1M108 95h2M122 95h1M8 94h1M8 93h1M5 92h1M18 92h1M24 92h2M37 92h1M40 92h1M46 92h2M61 92h1M67 92h2M80 92h1M86 92h2M99 92h1M102 92h1M108 92h1M122 92h1M8 91h1M111 91h1M111 90h1M111 89h1M8 87h1M39 87h1M121 87h1M31 86h1M93 86h1M71 85h1M36 84h1M74 84h1M28 83h1M31 83h1M50 83h1M90 83h1M93 83h1M115 82h1M115 81h1M118 81h2M115 80h1M118 80h2M115 79h1M118 79h2M115 78h1M28 77h1M31 77h1M50 77h1M90 77h1M93 77h1M28 76h1M31 76h1M50 76h1M90 76h1M93 76h1M120 75h1M5 73h2M18 73h1M24 73h2M40 73h1M46 73h2M61 73h1M67 73h2M80 73h1M86 73h2M102 73h1M108 73h2M122 73h1M8 72h1M8 71h1M8 70h1M8 69h1M109 68h1M8 67h1M8 66h1M8 65h1M28 62h1M31 62h1M50 62h1M90 62h1M93 62h1M115 61h1M115 60h1M118 60h2M115 59h1M118 59h2M115 58h1M118 58h2M115 57h1M28 56h1M31 56h1M50 56h1M90 56h1M93 56h1M28 55h1M31 55h1M50 55h1M90 55h1M93 55h1M120 54h1M11 52h1M38 52h1M73 52h1M100 52h1M114 52h1M117 52h1M14 51h1M71 50h1M39 49h1M111 49h1M121 49h1M109 47h1M123 46h1M123 45h1M28 43h1M31 43h1M50 43h1M90 43h1M93 43h1M115 42h1M115 41h1M118 41h2M115 40h1M118 40h2M115 39h1M118 39h2M115 38h1M28 37h1M31 37h1M50 37h1M90 37h1M93 37h1M28 36h1M31 36h1M50 36h1M90 36h1M93 36h1M120 35h1M5 33h2M18 33h1M24 33h2M40 33h1M46 33h2M61 33h1M67 33h2M80 33h1M86 33h2M102 33h1M108 33h2M122 33h1M8 32h1M8 31h1M5 30h1M18 30h1M24 30h2M37 30h1M40 30h1M46 30h2M61 30h1M67 30h2M80 30h1M86 30h2M99 30h1M102 30h1M108 30h1M122 30h1M8 29h1M8 28h1M8 27h1M111 26h1M8 25h1M31 24h1M93 24h1M71 23h1M28 21h1M31 21h1M50 21h1M90 21h1M93 21h1M115 20h1M115 19h1M118 19h2M115 18h1M118 18h2M115 17h1M118 17h2M115 16h1M28 15h1M31 15h1M50 15h1M90 15h1M93 15h1M14 14h1M28 14h1M50 14h1M55 14h1M76 14h1M90 14h1M120 13h1M12 12h1M32 12h3M74 12h1M97 12h1M23 11h1M120 10h1M71 9h1M118 9h2M0 8h5M19 8h5M41 8h5M62 8h5M81 8h5M103 8h5M120 7h1M71 6h1M1 5h3M20 5h3M42 5h3M63 5h3M82 5h3M104 5h3M114 5h1M1 4h3M20 4h3M42 4h3M63 4h3M82 4h3M104 4h3M114 4h1M7 3h1M26 3h1M48 3h1M69 3h1M88 3h1M110 3h1M113 3h1M116 3h1M36 2h1M74 2h1M28 1h1M31 1h1M50 1h1M90 1h1M93 1h1M15 0h2M77 0h2"/>
<path stroke="#97f9b8" d="M118 123h2M118 119h2M115 117h1M59 115h1M37 114h1M99 114h1M55 113h1M76 113h1M97 113h1M17 111h1M39 111h1M60 111h1M79 111h1M101 111h1M121 111h1M116 108h1M116 107h1M12 106h1M35 106h2M74 106h1M111 94h1M111 93h1M39 91h1M60 91h1M101 91h1M121 91h1M89 89h1M113 89h1M17 88h1M60 88h1M70 88h1M79 88h1M89 88h1M101 88h1M113 88h1M17 87h1M60 87h1M70 87h1M79 87h1M101 87h1M111 87h1M9 86h1M71 86h1M12 84h1M32 84h1M98 84h1M118 78h2M74 74h1M111 72h1M111 71h1M111 70h1M111 69h1M10 68h1M113 68h1M111 67h1M111 66h1M111 65h1M8 64h1M12 63h1M32 63h1M35 63h2M74 63h1M98 63h1M118 61h2M118 57h2M35 53h2M74 53h1M97 53h1M37 52h1M99 52h1M17 49h1M49 49h1M60 49h1M70 49h1M79 49h1M89 49h1M101 49h1M10 47h1M113 47h1M116 46h1M116 45h1M12 44h1M35 44h2M74 44h1M118 42h2M118 38h2M34 34h2M74 34h1M97 34h1M111 32h1M111 31h1M111 29h1M111 28h1M111 27h1M10 26h1M70 26h1M89 26h1M113 26h1M39 25h1M60 25h1M101 25h1M111 25h1M121 25h1M9 24h1M71 24h1M12 22h1M32 22h1M35 22h2M74 22h1M98 22h1M118 20h2M115 14h1M29 12h2M36 12h1M51 12h4M56 12h3M91 12h2M94 12h3M98 12h1M34 10h2M55 10h1M76 10h1M97 10h1M119 10h1M6 8h1M109 8h1M15 7h2M77 7h2M119 6h1M0 5h1M4 5h1M45 5h1M62 5h1M66 5h1M81 5h1M85 5h1M103 5h1M0 4h1M4 4h1M45 4h1M62 4h1M66 4h1M81 4h1M85 4h1M103 4h1M113 4h1M117 4h1M12 2h1M32 2h1M98 2h1"/>
<path stroke="#a5f8aa" d="M115 118h1M9 116h1M115 116h1M14 115h1M55 115h1M76 115h1M7 114h1M26 114h1M48 114h1M69 114h1M88 114h1M110 114h1M34 113h2M118 112h2M49 111h1M70 111h1M89 111h1M8 109h1M29 106h2M32 106h3M51 106h4M56 106h3M91 106h2M94 106h5M115 105h1M118 104h2M118 100h2M115 99h1M115 98h1M9 97h1M115 97h1M35 96h1M74 96h1M17 94h1M39 94h1M60 94h1M70 94h1M79 94h1M89 94h1M101 94h1M121 94h1M17 93h1M39 93h1M60 93h1M70 93h1M79 93h1M89 93h1M101 93h1M121 93h1M17 91h1M49 91h1M70 91h1M79 91h1M89 91h1M17 90h1M39 90h1M49 90h1M60 90h1M70 90h1M79 90h1M89 90h1M101 90h1M121 90h1M10 89h1M17 89h1M60 89h1M70 89h1M79 89h1M101 89h1M10 88h1M27 88h1M39 88h1M49 88h1M72 88h1M121 88h1M49 87h1M89 87h1M112 85h1M115 85h1M29 84h2M33 84h1M35 84h1M51 84h4M56 84h3M91 84h2M94 84h4M115 83h1M118 82h2M115 77h1M115 76h1M9 75h1M115 75h1M12 74h1M32 74h2M35 74h2M97 74h2M17 72h1M39 72h1M60 72h1M70 72h1M79 72h1M89 72h1M101 72h1M121 72h1M17 71h1M39 71h1M60 71h1M70 71h1M79 71h1M89 71h1M101 71h1M121 71h1M17 70h1M39 70h1M60 70h1M70 70h1M79 70h1M89 70h1M101 70h1M121 70h1M17 69h1M39 69h1M60 69h1M70 69h1M79 69h1M89 69h1M101 69h1M121 69h1M8 68h1M72 68h1M17 67h1M39 67h1M60 67h1M70 67h1M79 67h1M89 67h1M101 67h1M121 67h1M17 66h1M39 66h1M60 66h1M70 66h1M79 66h1M89 66h1M101 66h1M121 66h1M17 65h1M39 65h1M60 65h1M70 65h1M79 65h1M89 65h1M101 65h1M121 65h1M111 64h1M29 63h2M33 63h2M51 63h4M56 63h3M91 63h2M94 63h4M115 62h1M115 56h1M115 55h1M9 54h1M115 54h1M12 53h1M29 53h2M32 53h3M51 53h4M56 53h3M91 53h2M94 53h3M98 53h1M35 51h1M55 51h1M76 51h1M97 51h1M118 50h2M27 49h1M8 47h1M72 47h1M29 44h2M32 44h3M51 44h4M56 44h3M91 44h2M94 44h5M115 43h1M115 37h1M115 36h1M9 35h1M115 35h1M12 34h1M29 34h2M32 34h2M36 34h1M51 34h4M56 34h3M91 34h2M94 34h3M17 32h1M39 32h1M60 32h1M70 32h1M79 32h1M89 32h1M101 32h1M121 32h1M17 31h1M39 31h1M60 31h1M70 31h1M79 31h1M89 31h1M101 31h1M121 31h1M17 29h1M39 29h1M60 29h1M70 29h1M79 29h1M89 29h1M101 29h1M121 29h1M17 28h1M39 28h1M60 28h1M70 28h1M79 28h1M89 28h1M101 28h1M121 28h1M17 27h1M39 27h1M60 27h1M70 27h1M79 27h1M89 27h1M101 27h1M121 27h1M17 26h1M39 26h1M49 26h1M60 26h1M72 26h1M79 26h1M101 26h1M121 26h1M17 25h1M49 25h1M70 25h1M79 25h1M112 23h1M115 23h1M118 23h2M29 22h2M33 22h2M51 22h4M56 22h3M91 22h2M94 22h4M115 21h1M118 16h2M115 15h1M9 13h1M115 13h1M59 12h1M38 11h1M100 11h1M115 9h1M5 8h1M7 8h1M18 8h1M24 8h3M38 8h1M40 8h1M46 8h3M61 8h1M67 8h3M80 8h1M86 8h3M100 8h1M102 8h1M108 8h1M110 8h1M114 8h1M117 8h1M119 8h1M122 8h1M115 6h1M118 6h1M11 5h1M19 5h1M23 5h1M41 5h1M73 5h1M100 5h1M107 5h1M117 5h1M11 4h1M19 4h1M23 4h1M41 4h1M73 4h1M100 4h1M107 4h1M115 4h1M29 2h2M33 2h1M35 2h1M51 2h4M56 2h3M91 2h2M94 2h4M115 1h1"/>
<path stroke="#b3f99c" d="M71 116h1M13 115h1M28 115h1M31 115h1M50 115h1M75 115h1M90 115h1M93 115h1M116 114h1M15 113h2M112 112h1M115 112h1M27 111h1M8 110h1M113 110h1M111 109h1M10 108h1M72 108h1M113 108h1M10 107h1M72 107h1M113 107h1M59 106h1M71 97h1M12 96h1M32 96h3M36 96h1M97 96h2M8 95h1M49 94h1M113 94h1M49 93h1M113 93h1M8 92h1M27 91h1M27 90h1M113 90h1M27 89h1M39 89h1M49 89h1M72 89h1M121 89h1M27 87h1M112 86h1M115 86h1M118 86h2M118 85h2M34 84h1M115 84h1M71 75h1M29 74h2M34 74h1M51 74h4M56 74h3M91 74h2M94 74h3M8 73h1M49 72h1M113 72h1M49 71h1M113 71h1M49 70h1M113 70h1M49 69h1M113 69h1M111 68h1M49 67h1M113 67h1M49 66h1M113 66h1M49 65h1M113 65h1M17 64h1M70 64h1M79 64h1M89 64h1M113 64h1M71 54h1M59 53h1M7 52h1M26 52h1M48 52h1M69 52h1M88 52h1M110 52h1M116 52h1M15 51h2M34 51h1M112 50h1M115 50h1M8 48h1M113 48h1M111 47h1M59 44h1M71 35h1M59 34h1M98 34h1M8 33h1M49 32h1M113 32h1M49 31h1M113 31h1M8 30h1M49 29h1M49 28h1M113 28h1M49 27h1M113 27h1M27 26h1M27 25h1M89 25h1M112 24h1M115 24h1M118 24h2M71 13h1M14 12h1M55 12h1M76 12h1M11 11h1M37 11h1M73 11h1M99 11h1M13 10h1M15 10h2M29 10h2M33 10h1M51 10h4M56 10h4M75 10h1M91 10h2M95 10h2M11 8h1M37 8h1M39 8h1M73 8h1M99 8h1M121 8h1M9 7h1M71 7h1M37 5h2M99 5h1M37 4h2M99 4h1M34 2h1M115 2h1"/>
<path stroke="#c2fa8d" d="M15 118h2M77 118h2M77 117h2M115 115h1M123 114h1M13 113h1M29 113h2M33 113h1M51 113h4M56 113h4M75 113h1M77 113h2M91 113h2M95 113h2M10 110h1M72 110h1M111 110h1M89 109h1M5 108h1M18 108h1M24 108h2M40 108h1M46 108h2M61 108h1M67 108h2M80 108h1M86 108h2M102 108h1M108 108h1M122 108h1M5 107h1M18 107h1M24 107h2M40 107h1M46 107h2M61 107h1M67 107h2M80 107h1M86 107h2M102 107h1M108 107h1M122 107h1M31 106h1M93 106h1M115 106h1M15 105h2M77 105h2M15 99h2M77 99h2M15 98h2M77 98h2M29 96h2M51 96h4M56 96h3M91 96h2M94 96h3M10 94h1M27 94h1M10 93h1M27 93h1M17 92h1M39 92h1M60 92h1M70 92h1M79 92h1M101 92h1M111 92h1M121 92h1M10 90h1M31 84h1M59 84h1M93 84h1M15 83h2M77 83h2M15 77h2M77 77h2M15 76h2M77 76h2M59 74h1M10 72h1M27 72h1M10 71h1M27 71h1M10 70h1M27 70h1M10 69h1M27 69h1M10 67h1M27 67h1M10 66h1M27 66h1M10 65h1M27 65h1M10 64h1M39 64h1M49 64h1M60 64h1M72 64h1M101 64h1M121 64h1M31 63h1M59 63h1M93 63h1M115 63h1M15 62h2M77 62h2M15 56h2M77 56h2M15 55h2M77 55h2M31 53h1M93 53h1M115 53h1M123 52h1M13 51h1M59 51h1M75 51h1M77 51h2M10 48h1M72 48h1M111 48h1M5 46h2M10 46h1M18 46h1M24 46h2M40 46h1M46 46h2M61 46h1M67 46h2M72 46h1M80 46h1M86 46h2M102 46h1M108 46h2M113 46h1M122 46h1M5 45h2M10 45h1M18 45h1M24 45h2M40 45h1M46 45h2M61 45h1M67 45h2M72 45h1M80 45h1M86 45h2M102 45h1M108 45h2M113 45h1M122 45h1M31 44h1M93 44h1M115 44h1M15 43h2M77 43h2M15 37h2M77 37h2M15 36h2M77 36h2M14 34h1M111 33h1M10 32h1M27 32h1M10 31h1M27 31h1M17 30h1M39 30h1M60 30h1M70 30h1M79 30h1M101 30h1M111 30h1M121 30h1M27 29h1M113 29h1M10 28h1M27 28h1M10 27h1M27 27h1M31 22h1M59 22h1M93 22h1M115 22h1M15 21h2M77 21h2M15 15h2M77 15h2M77 14h2M13 12h1M31 12h1M75 12h1M90 12h1M93 12h1M115 12h1M77 10h2M94 10h1M8 8h1M17 8h1M60 8h1M70 8h1M79 8h1M101 8h1M111 8h1M118 8h1M115 5h1M123 3h1M31 2h1M59 2h1M93 2h1M15 1h2M77 1h2M9 0h1M71 0h1M120 0h1"/>
<path stroke="#d0fb7f" d="M39 121h1M121 121h1M39 120h1M121 120h1M15 117h2M112 116h1M32 113h1M94 113h1M118 113h3M113 111h1M17 109h1M70 109h1M79 109h1M6 108h1M109 108h1M6 107h1M109 107h1M14 106h1M28 106h1M55 106h1M76 106h1M39 103h1M121 103h1M39 102h1M121 102h1M39 101h1M121 101h1M112 97h1M59 96h1M115 96h1M17 95h1M39 95h1M60 95h1M70 95h1M79 95h1M101 95h1M111 95h1M121 95h1M72 94h1M72 93h1M49 92h1M89 92h1M10 91h1M113 91h1M72 90h1M2 84h2M20 84h3M28 84h1M42 84h3M63 84h3M82 84h3M104 84h3M39 81h1M121 81h1M39 80h1M121 80h1M39 79h1M121 79h1M112 75h1M31 74h1M93 74h1M115 74h1M111 73h1M72 72h1M72 71h1M72 70h1M72 69h1M17 68h1M70 68h1M79 68h1M89 68h1M72 67h1M72 66h1M72 65h1M27 64h1M28 63h1M39 60h1M121 60h1M39 59h1M121 59h1M39 58h1M121 58h1M112 54h1M14 53h1M28 53h1M55 53h1M76 53h1M29 51h2M33 51h1M51 51h4M56 51h3M91 51h2M95 51h2M118 51h4M113 49h1M17 47h1M70 47h1M79 47h1M89 47h1M14 44h1M28 44h1M55 44h1M76 44h1M39 41h1M121 41h1M39 40h1M121 40h1M39 39h1M121 39h1M112 35h1M31 34h1M55 34h1M76 34h1M93 34h1M72 32h1M72 31h1M49 30h1M89 30h1M10 29h1M72 28h1M72 27h1M28 22h1M39 19h1M121 19h1M39 18h1M121 18h1M39 17h1M121 17h1M15 14h2M112 13h1M28 12h1M50 12h1M7 11h1M26 11h1M48 11h1M69 11h1M88 11h1M110 11h1M123 11h1M12 10h1M32 10h1M74 10h1M27 8h1M49 8h1M10 5h1M72 5h1M10 4h1M72 4h1M10 3h1M72 3h1M2 2h2M20 2h3M28 2h1M42 2h3M63 2h3M72 2h1M82 2h3M104 2h3M112 0h1"/>
<path stroke="#dffc70" d="M121 122h1M60 121h1M101 121h1M60 120h1M101 120h1M15 115h2M77 115h2M12 113h1M39 113h1M74 113h1M90 113h1M121 113h1M10 111h1M17 110h1M70 110h1M79 110h1M89 110h1M49 109h1M8 108h1M8 107h1M13 106h1M50 106h1M75 106h1M90 106h1M60 103h1M101 103h1M60 102h1M101 102h1M60 101h1M101 101h1M31 96h1M93 96h1M49 95h1M89 95h1M27 92h1M10 84h1M50 84h1M55 84h1M72 84h1M76 84h1M90 84h1M60 81h1M101 81h1M60 80h1M101 80h1M60 79h1M101 79h1M14 74h1M28 74h1M55 74h1M76 74h1M17 73h1M39 73h1M60 73h1M70 73h1M79 73h1M101 73h1M121 73h1M39 68h1M49 68h1M60 68h1M101 68h1M121 68h1M2 63h2M20 63h3M42 63h3M50 63h1M55 63h1M63 63h3M76 63h1M82 63h3M90 63h1M104 63h3M60 60h1M101 60h1M60 59h1M101 59h1M60 58h1M101 58h1M13 53h1M50 53h1M75 53h1M90 53h1M39 51h1M94 51h1M10 49h1M17 48h1M70 48h1M79 48h1M89 48h1M39 47h1M49 47h1M60 47h1M101 47h1M121 47h1M8 46h1M8 45h1M13 44h1M50 44h1M75 44h1M90 44h1M60 41h1M101 41h1M60 40h1M101 40h1M60 39h1M101 39h1M13 34h1M28 34h1M75 34h1M90 34h1M115 34h1M10 33h1M17 33h1M39 33h1M60 33h1M70 33h1M79 33h1M89 33h1M101 33h1M113 33h1M121 33h1M27 30h1M72 29h1M2 22h2M20 22h3M42 22h3M50 22h1M55 22h1M63 22h3M76 22h1M82 22h3M90 22h1M104 22h3M60 19h1M101 19h1M60 18h1M101 18h1M60 17h1M101 17h1M90 10h1M89 8h1M119 7h1M116 4h1M1 2h1M10 2h1M50 2h1M55 2h1M76 2h1M90 2h1"/>
<path stroke="#edfe62" d="M39 122h1M17 121h1M27 121h1M49 121h1M70 121h1M79 121h1M17 120h1M27 120h1M49 120h1M70 120h1M79 120h1M118 116h2M10 114h1M9 113h1M50 113h1M60 113h1M101 113h1M72 111h1M39 110h1M49 110h1M60 110h1M101 110h1M121 110h1M27 109h1M39 109h1M60 109h1M101 109h1M121 109h1M2 106h2M20 106h3M42 106h3M63 106h3M82 106h3M104 106h3M17 103h1M27 103h1M49 103h1M70 103h1M79 103h1M17 102h1M27 102h1M49 102h1M70 102h1M79 102h1M17 101h1M27 101h1M49 101h1M70 101h1M79 101h1M118 97h2M2 96h2M14 96h1M20 96h3M28 96h1M42 96h3M55 96h1M63 96h3M76 96h1M82 96h3M90 96h1M104 96h3M27 95h1M72 91h1M113 87h1M39 86h1M121 86h1M1 84h1M13 84h2M37 84h1M75 84h1M99 84h1M17 81h1M27 81h1M49 81h1M70 81h1M79 81h1M17 80h1M27 80h1M49 80h1M70 80h1M79 80h1M17 79h1M27 79h1M49 79h1M70 79h1M79 79h1M118 75h2M2 74h2M13 74h1M20 74h3M42 74h3M50 74h1M63 74h3M75 74h1M82 74h3M90 74h1M104 74h3M10 73h1M49 73h1M89 73h1M113 73h1M27 68h1M10 63h1M13 63h2M72 63h1M75 63h1M17 60h1M27 60h1M49 60h1M70 60h1M79 60h1M17 59h1M27 59h1M49 59h1M70 59h1M79 59h1M17 58h1M27 58h1M49 58h1M70 58h1M79 58h1M118 54h2M2 53h2M20 53h3M42 53h3M63 53h3M82 53h3M104 53h3M12 51h1M32 51h1M60 51h1M74 51h1M90 51h1M101 51h1M72 49h1M118 49h2M39 48h1M49 48h1M60 48h1M101 48h1M121 48h1M27 47h1M111 46h1M111 45h1M2 44h2M20 44h3M42 44h3M63 44h3M82 44h3M104 44h3M17 41h1M27 41h1M49 41h1M70 41h1M79 41h1M17 40h1M27 40h1M49 40h1M70 40h1M79 40h1M17 39h1M27 39h1M49 39h1M70 39h1M79 39h1M118 35h2M50 34h1M27 33h1M49 33h1M72 33h1M113 25h1M39 24h1M121 24h1M10 22h1M13 22h2M72 22h1M75 22h1M17 19h1M27 19h1M49 19h1M70 19h1M79 19h1M17 18h1M27 18h1M49 18h1M70 18h1M79 18h1M17 17h1M27 17h1M49 17h1M70 17h1M79 17h1M118 13h2M77 12h2M36 10h1M50 10h1M98 10h1M121 10h1M121 6h1M7 5h1M26 5h1M48 5h1M69 5h1M74 5h1M88 5h1M110 5h1M7 4h1M26 4h1M48 4h1M69 4h1M74 4h1M88 4h1M110 4h1M13 2h2M37 2h1M75 2h1M99 2h1M113 2h1M117 2h1"/>
<path stroke="#fbff54" d="M39 123h1M121 123h1M60 122h1M101 122h1M39 119h1M121 119h1M9 118h1M71 118h1M120 118h1M9 117h1M71 117h1M112 117h1M120 117h1M5 114h2M18 114h1M24 114h2M40 114h1M46 114h2M61 114h1M67 114h2M72 114h1M80 114h1M86 114h2M102 114h1M108 114h2M113 114h1M122 114h1M17 113h1M28 113h1M31 113h1M36 113h1M49 113h1M70 113h2M79 113h1M93 113h1M98 113h1M109 113h1M116 113h1M121 112h1M118 111h2M27 110h1M111 108h1M111 107h1M10 106h1M72 106h1M9 105h1M71 105h1M120 105h1M9 99h1M71 99h1M120 99h1M9 98h1M71 98h1M120 98h1M13 96h1M50 96h1M75 96h1M10 95h1M113 95h1M10 92h1M113 92h1M118 91h2M118 88h2M10 87h1M118 87h2M60 86h1M70 86h1M101 86h1M0 84h1M4 84h1M45 84h1M62 84h1M66 84h1M81 84h1M85 84h1M100 84h1M103 84h1M113 84h1M117 84h1M9 83h1M71 83h1M120 83h1M39 78h1M121 78h1M9 77h1M71 77h1M120 77h1M9 76h1M71 76h1M120 76h1M10 74h1M72 74h1M27 73h1M72 73h1M1 63h1M37 63h1M99 63h1M9 62h1M71 62h1M120 62h1M39 61h1M121 61h1M39 57h1M121 57h1M9 56h1M71 56h1M120 56h1M9 55h1M71 55h1M120 55h1M10 53h1M37 53h1M72 53h1M99 53h1M5 52h2M10 52h1M18 52h1M24 52h2M40 52h1M46 52h2M61 52h1M67 52h2M80 52h1M86 52h2M102 52h1M108 52h2M122 52h1M9 51h1M17 51h1M49 51h2M70 51h1M79 51h1M109 51h1M116 51h1M121 50h1M27 48h1M10 44h1M72 44h1M9 43h1M71 43h1M120 43h1M39 42h1M121 42h1M39 38h1M121 38h1M9 37h1M71 37h1M120 37h1M9 36h1M71 36h1M120 36h1M10 30h1M113 30h1M118 26h2M10 25h1M118 25h2M60 24h1M70 24h1M101 24h1M39 23h1M121 23h1M1 22h1M37 22h1M99 22h1M9 21h1M71 21h1M120 21h1M39 20h1M121 20h1M9 15h1M71 15h1M120 15h1M9 14h2M71 14h2M112 14h1M15 12h2M6 11h1M109 11h1M9 10h1M28 10h1M31 10h1M39 10h1M93 10h1M121 9h1M10 7h1M72 7h1M39 6h1M12 5h1M32 5h1M35 5h2M97 5h2M12 4h1M32 4h1M35 4h2M97 4h2M5 3h2M18 3h1M24 3h2M40 3h1M46 3h2M61 3h1M67 3h2M80 3h1M86 3h2M102 3h1M108 3h1M122 3h1M0 2h1M4 2h1M11 2h1M45 2h1M62 2h1M66 2h1M73 2h1M81 2h1M85 2h1M100 2h1M103 2h1M114 2h1M9 1h1M71 1h1M120 1h1"/>
<path stroke="#fff446" d="M60 123h1M101 123h1M17 122h1M27 122h1M49 122h1M70 122h1M79 122h1M60 119h1M101 119h1M112 118h1M10 117h1M72 117h1M6 113h1M27 113h1M115 113h1M39 112h1M70 108h1M70 107h1M1 106h1M37 106h1M77 106h2M99 106h1M112 105h1M39 104h1M121 104h1M121 100h1M112 99h1M112 98h1M1 96h1M10 96h1M37 96h1M72 96h1M99 96h1M72 95h1M118 94h2M118 93h2M72 92h1M118 92h2M118 90h2M118 89h2M72 87h1M17 86h1M27 86h1M49 86h1M79 86h1M39 85h1M121 85h1M11 84h1M19 84h1M38 84h1M41 84h1M73 84h1M107 84h1M114 84h1M112 83h1M39 82h1M121 82h1M60 78h1M101 78h1M112 77h1M112 76h1M1 74h1M37 74h1M99 74h1M118 72h2M118 71h2M118 70h2M118 69h2M118 67h2M118 66h2M118 65h2M0 63h1M4 63h1M45 63h1M62 63h1M66 63h1M81 63h1M85 63h1M100 63h1M103 63h1M113 63h1M117 63h1M112 62h1M60 61h1M101 61h1M60 57h1M101 57h1M112 56h1M112 55h1M1 53h1M15 53h2M77 53h2M72 52h1M113 52h1M6 51h1M27 51h2M31 51h1M36 51h1M71 51h1M93 51h1M98 51h1M39 50h1M17 46h1M70 46h1M79 46h1M89 46h1M17 45h1M70 45h1M79 45h1M89 45h1M1 44h1M37 44h1M77 44h2M99 44h1M112 43h1M60 42h1M101 42h1M60 38h1M101 38h1M112 37h1M112 36h1M77 34h2M118 32h2M118 31h2M72 30h1M118 30h2M118 29h2M118 28h2M118 27h2M72 25h1M17 24h1M27 24h1M49 24h1M79 24h1M60 23h1M101 23h1M0 22h1M4 22h1M45 22h1M62 22h1M66 22h1M81 22h1M85 22h1M100 22h1M103 22h1M113 22h1M117 22h1M112 21h1M60 20h1M101 20h1M39 16h1M121 16h1M112 15h1M120 14h1M5 11h1M18 11h1M24 11h2M40 11h1M46 11h2M61 11h1M67 11h2M80 11h1M86 11h2M102 11h1M108 11h1M113 11h1M116 11h1M122 11h1M60 10h1M71 10h1M101 10h1M112 10h1M118 10h1M39 9h1M10 8h1M112 7h1M118 7h1M60 6h1M101 6h1M29 5h3M33 5h2M51 5h4M56 5h3M91 5h6M113 5h1M116 5h1M29 4h3M33 4h2M51 4h4M56 4h3M91 4h6M109 3h1M19 2h1M23 2h1M38 2h1M41 2h1M107 2h1M112 1h1"/>
<path stroke="#ffe63a" d="M17 123h1M27 123h1M49 123h1M70 123h1M79 123h1M17 119h1M27 119h1M49 119h1M70 119h1M79 119h1M10 118h1M72 118h1M9 115h2M71 115h2M112 115h1M120 115h1M8 114h1M5 113h1M8 113h1M18 113h1M24 113h2M40 113h1M46 113h2M61 113h1M67 113h2M80 113h1M86 113h2M102 113h1M108 113h1M111 113h2M122 113h2M60 112h1M101 112h1M118 109h2M17 108h1M79 108h1M89 108h1M17 107h1M79 107h1M89 107h1M0 106h1M4 106h1M15 106h2M45 106h1M62 106h1M66 106h1M81 106h1M85 106h1M100 106h1M103 106h1M113 106h1M117 106h1M10 105h1M72 105h1M60 104h1M101 104h1M39 100h1M10 99h1M72 99h1M10 98h1M72 98h1M0 96h1M4 96h1M45 96h1M62 96h1M66 96h1M81 96h1M85 96h1M100 96h1M103 96h1M117 96h1M118 95h2M60 85h1M101 85h1M23 84h1M77 84h2M10 83h1M72 83h1M60 82h1M101 82h1M17 78h1M27 78h1M49 78h1M70 78h1M79 78h1M10 77h1M72 77h1M10 76h1M72 76h1M0 74h1M4 74h1M45 74h1M62 74h1M66 74h1M77 74h2M81 74h1M85 74h1M100 74h1M103 74h1M113 74h1M117 74h1M118 68h2M118 64h2M11 63h1M19 63h1M38 63h1M41 63h1M73 63h1M77 63h2M107 63h1M114 63h1M10 62h1M72 62h1M17 61h1M27 61h1M49 61h1M70 61h1M79 61h1M17 57h1M27 57h1M49 57h1M70 57h1M79 57h1M10 56h1M72 56h1M10 55h1M72 55h1M0 53h1M4 53h1M45 53h1M62 53h1M66 53h1M81 53h1M85 53h1M100 53h1M103 53h1M113 53h1M117 53h1M8 52h1M5 51h1M8 51h1M18 51h1M24 51h2M40 51h1M46 51h2M61 51h1M67 51h2M80 51h1M86 51h2M102 51h1M108 51h1M122 51h2M60 50h1M101 50h1M118 47h2M39 46h1M49 46h1M60 46h1M101 46h1M121 46h1M39 45h1M49 45h1M60 45h1M101 45h1M121 45h1M0 44h1M4 44h1M15 44h2M45 44h1M62 44h1M66 44h1M81 44h1M85 44h1M100 44h1M103 44h1M113 44h1M117 44h1M10 43h1M72 43h1M17 42h1M27 42h1M49 42h1M70 42h1M79 42h1M17 38h1M27 38h1M49 38h1M70 38h1M79 38h1M10 37h1M72 37h1M10 36h1M72 36h1M15 34h2M118 33h2M17 23h1M27 23h1M49 23h1M70 23h1M79 23h1M11 22h1M19 22h1M38 22h1M41 22h1M73 22h1M77 22h2M107 22h1M114 22h1M10 21h1M72 21h1M17 20h1M27 20h1M49 20h1M70 20h1M79 20h1M60 16h1M101 16h1M10 15h1M72 15h1M113 14h1M10 12h1M8 11h1M10 11h1M17 10h1M49 10h1M70 10h1M79 10h1M109 10h1M60 9h1M101 9h1M17 6h1M27 6h1M49 6h1M70 6h1M79 6h1M14 5h1M28 5h1M55 5h1M59 5h1M76 5h1M90 5h1M123 5h1M14 4h1M28 4h1M55 4h1M59 4h1M76 4h1M90 4h1M123 4h1M8 3h1M77 2h2M10 1h1M72 1h1M10 0h1M72 0h1M118 0h2"/>
<path stroke="#ffd72d" d="M8 121h1M89 121h1M111 121h1M8 120h1M89 120h1M111 120h1M37 117h1M99 117h1M113 117h1M2 115h2M20 115h3M37 115h1M42 115h3M63 115h3M82 115h3M99 115h1M104 115h3M89 113h1M17 112h1M27 112h1M49 112h1M70 112h1M79 112h1M118 110h2M115 109h1M27 108h1M39 108h1M49 108h1M60 108h1M101 108h1M121 108h1M27 107h1M39 107h1M49 107h1M60 107h1M101 107h1M121 107h1M11 106h1M19 106h1M23 106h1M38 106h1M41 106h1M73 106h1M107 106h1M114 106h1M17 104h1M27 104h1M49 104h1M70 104h1M79 104h1M8 103h1M89 103h1M111 103h1M8 102h1M89 102h1M111 102h1M8 101h1M89 101h1M111 101h1M17 100h1M27 100h1M49 100h1M60 100h1M70 100h1M79 100h1M101 100h1M11 96h1M15 96h2M19 96h1M23 96h1M38 96h1M41 96h1M73 96h1M77 96h2M107 96h1M113 96h2M6 86h1M8 86h1M89 86h1M109 86h1M111 86h1M17 85h1M27 85h1M49 85h1M70 85h1M79 85h1M15 84h2M17 82h1M27 82h1M49 82h1M70 82h1M79 82h1M8 81h1M89 81h1M111 81h1M8 80h1M89 80h1M111 80h1M8 79h1M89 79h1M111 79h1M11 74h1M15 74h2M19 74h1M23 74h1M38 74h1M41 74h1M73 74h1M107 74h1M114 74h1M118 73h2M15 63h2M23 63h1M8 60h1M89 60h1M111 60h1M8 59h1M89 59h1M111 59h1M8 58h1M89 58h1M111 58h1M11 53h1M19 53h1M23 53h1M38 53h1M41 53h1M73 53h1M107 53h1M114 53h1M111 51h1M115 51h1M17 50h1M27 50h1M49 50h1M70 50h1M79 50h1M118 48h2M27 46h1M27 45h1M11 44h1M19 44h1M23 44h1M38 44h1M41 44h1M73 44h1M107 44h1M114 44h1M8 41h1M89 41h1M111 41h1M8 40h1M89 40h1M111 40h1M8 39h1M89 39h1M111 39h1M2 34h2M10 34h1M20 34h3M37 34h1M42 34h3M63 34h3M82 34h3M99 34h1M104 34h3M6 24h1M8 24h1M89 24h1M109 24h1M111 24h1M15 22h2M23 22h1M8 19h1M89 19h1M111 19h1M8 18h1M89 18h1M111 18h1M8 17h1M89 17h1M111 17h1M17 16h1M27 16h1M49 16h1M70 16h1M79 16h1M37 14h1M99 14h1M2 12h2M20 12h3M37 12h1M42 12h3M63 12h3M72 12h1M82 12h3M99 12h1M104 12h3M6 10h1M27 10h1M17 9h1M27 9h1M49 9h1M70 9h1M79 9h1M14 8h1M72 8h1M116 8h1M115 7h1M13 5h1M50 5h1M75 5h1M13 4h1M50 4h1M75 4h1M15 2h2"/>
<path stroke="#ffc920" d="M8 122h1M89 122h1M111 122h1M116 122h1M109 121h1M116 121h1M109 120h1M116 120h1M37 118h1M99 118h1M113 118h1M118 118h2M1 115h1M113 115h1M118 115h2M111 114h1M115 108h1M118 108h2M115 107h1M118 107h2M37 105h1M99 105h1M113 105h1M118 105h2M109 103h1M116 103h1M109 102h1M116 102h1M109 101h1M116 101h1M37 99h1M99 99h1M113 99h1M118 99h2M37 98h1M99 98h1M113 98h1M118 98h2M115 88h1M5 86h1M18 86h1M24 86h2M40 86h1M46 86h2M61 86h1M67 86h2M80 86h1M86 86h2M102 86h1M108 86h1M122 86h1M37 83h1M99 83h1M113 83h1M118 83h2M109 81h1M116 81h1M109 80h1M116 80h1M109 79h1M116 79h1M37 77h1M99 77h1M113 77h1M118 77h2M37 76h1M99 76h1M113 76h1M118 76h2M115 68h1M37 62h1M99 62h1M113 62h1M118 62h2M109 60h1M116 60h1M109 59h1M116 59h1M109 58h1M116 58h1M37 56h1M99 56h1M113 56h1M118 56h2M37 55h1M99 55h1M113 55h1M118 55h2M112 53h1M111 52h1M89 51h1M112 51h1M115 47h1M118 46h2M118 45h2M37 43h1M99 43h1M113 43h1M118 43h2M109 41h1M116 41h1M109 40h1M116 40h1M109 39h1M116 39h1M37 37h1M99 37h1M113 37h1M118 37h2M37 36h1M99 36h1M113 36h1M118 36h2M1 34h1M72 34h1M115 26h1M5 24h1M18 24h1M24 24h2M40 24h1M46 24h2M61 24h1M67 24h2M80 24h1M86 24h2M102 24h1M108 24h1M122 24h1M116 23h1M37 21h1M99 21h1M113 21h1M118 21h2M109 19h1M116 19h1M109 18h1M116 18h1M109 17h1M116 17h1M37 15h1M99 15h1M113 15h1M118 15h2M2 14h2M20 14h3M42 14h3M63 14h3M82 14h3M104 14h3M1 12h1M9 12h1M71 12h1M112 12h2M120 12h1M70 11h1M72 11h1M111 11h1M5 10h1M8 10h1M18 10h1M24 10h2M40 10h1M46 10h2M61 10h1M67 10h2M80 10h1M86 10h2M102 10h1M108 10h1M111 10h1M122 10h2M15 8h2M35 8h1M55 8h1M76 8h1M97 8h1M120 8h1M1 7h3M20 7h3M42 7h3M63 7h3M82 7h3M100 7h1M104 7h3M5 5h1M8 5h1M15 5h2M18 5h1M24 5h2M40 5h1M46 5h2M61 5h1M67 5h2M77 5h2M80 5h1M86 5h2M102 5h1M108 5h1M122 5h1M5 4h1M8 4h1M15 4h2M18 4h1M24 4h2M40 4h1M46 4h2M61 4h1M67 4h2M77 4h2M80 4h1M86 4h2M102 4h1M108 4h1M122 4h1M111 3h1M115 3h1M37 1h1M99 1h1M113 1h1M118 1h2M113 0h1"/>
<path stroke="#ffbb13" d="M8 123h1M10 123h1M89 123h1M111 123h1M116 123h1M10 122h1M6 121h1M10 121h1M6 120h1M10 120h1M8 119h1M10 119h1M89 119h1M111 119h1M116 119h1M2 117h2M20 117h3M42 117h3M63 117h3M82 117h3M104 117h3M118 117h2M10 116h1M0 115h1M4 115h1M45 115h1M62 115h1M66 115h1M81 115h1M85 115h1M100 115h1M103 115h1M117 115h1M17 114h1M70 114h1M79 114h1M0 113h5M7 113h1M19 113h5M26 113h1M37 113h1M41 113h5M48 113h1M62 113h5M69 113h1M81 113h5M88 113h1M99 113h1M103 113h5M110 113h1M116 112h1M9 106h1M71 106h1M112 106h1M10 104h1M116 104h1M6 103h1M10 103h1M6 102h1M10 102h1M6 101h1M10 101h1M10 100h1M116 100h1M10 97h1M10 86h1M72 86h1M123 86h1M116 85h1M112 84h1M116 84h1M10 82h1M116 82h1M6 81h1M10 81h1M6 80h1M10 80h1M6 79h1M10 79h1M8 78h1M10 78h1M89 78h1M111 78h1M116 78h1M10 75h1M112 63h1M8 61h1M10 61h1M89 61h1M111 61h1M116 61h1M6 60h1M10 60h1M6 59h1M10 59h1M6 58h1M10 58h1M8 57h1M10 57h1M89 57h1M111 57h1M116 57h1M10 54h1M9 53h1M71 53h1M120 53h1M17 52h1M70 52h1M79 52h1M37 51h1M99 51h1M116 50h1M115 46h1M115 45h1M9 44h1M71 44h1M112 44h1M8 42h1M10 42h1M89 42h1M111 42h1M116 42h1M6 41h1M10 41h1M6 40h1M10 40h1M6 39h1M10 39h1M8 38h1M10 38h1M89 38h1M111 38h1M116 38h1M10 35h1M0 34h1M4 34h1M45 34h1M62 34h1M66 34h1M81 34h1M85 34h1M100 34h1M103 34h1M113 34h1M10 24h1M72 24h1M123 24h1M8 23h1M89 23h1M111 23h1M112 22h1M8 20h1M10 20h1M89 20h1M111 20h1M116 20h1M6 19h1M10 19h1M6 18h1M10 18h1M6 17h1M10 17h1M10 16h1M116 16h1M118 14h2M10 13h1M0 12h1M4 12h1M45 12h1M62 12h1M66 12h1M81 12h1M85 12h1M100 12h1M103 12h1M117 12h1M17 11h1M39 11h1M60 11h1M79 11h1M101 11h1M121 11h1M89 10h1M77 8h2M0 7h1M4 7h1M11 7h1M19 7h1M23 7h1M38 7h2M41 7h1M45 7h1M62 7h1M66 7h1M73 7h1M81 7h1M85 7h1M103 7h1M107 7h1M121 7h1M8 6h1M111 6h1M6 5h1M109 5h1M6 4h1M109 4h1M70 3h1M112 2h1M116 2h1M37 0h1M99 0h1"/>
<path stroke="#ffac06" d="M72 123h1M6 122h1M109 122h1M5 121h1M18 121h1M24 121h2M40 121h1M46 121h2M61 121h1M67 121h2M80 121h1M86 121h2M102 121h1M108 121h1M122 121h1M5 120h1M18 120h1M24 120h2M40 120h1M46 120h2M61 120h1M67 120h2M80 120h1M86 120h2M102 120h1M108 120h1M122 120h1M72 119h1M2 118h2M20 118h3M42 118h3M63 118h3M82 118h3M104 118h3M1 117h1M117 117h1M72 116h1M11 115h1M19 115h1M23 115h1M38 115h1M41 115h1M73 115h1M107 115h1M114 115h1M39 114h1M60 114h1M89 114h1M101 114h1M118 114h2M121 114h1M38 113h1M100 113h1M8 112h1M89 112h1M111 112h1M116 106h1M120 106h1M2 105h2M20 105h3M42 105h3M63 105h3M82 105h3M104 105h3M8 104h1M72 104h1M89 104h1M111 104h1M5 103h1M18 103h1M24 103h2M40 103h1M46 103h2M61 103h1M67 103h2M80 103h1M86 103h2M102 103h1M108 103h1M122 103h1M5 102h1M18 102h1M24 102h2M40 102h1M46 102h2M61 102h1M67 102h2M80 102h1M86 102h2M102 102h1M108 102h1M122 102h1M5 101h1M18 101h1M24 101h2M40 101h1M46 101h2M61 101h1M67 101h2M80 101h1M86 101h2M102 101h1M108 101h1M122 101h1M8 100h1M72 100h1M89 100h1M111 100h1M2 99h2M20 99h3M42 99h3M63 99h3M82 99h3M104 99h3M2 98h2M20 98h3M42 98h3M63 98h3M82 98h3M104 98h3M72 97h1M116 96h1M115 89h1M8 85h1M10 85h1M89 85h1M111 85h1M9 84h1M71 84h1M2 83h2M20 83h3M42 83h3M63 83h3M82 83h3M104 83h3M8 82h1M72 82h1M89 82h1M111 82h1M5 81h1M18 81h1M24 81h2M40 81h1M46 81h2M61 81h1M67 81h2M80 81h1M86 81h2M102 81h1M108 81h1M122 81h1M5 80h1M18 80h1M24 80h2M40 80h1M46 80h2M61 80h1M67 80h2M80 80h1M86 80h2M102 80h1M108 80h1M122 80h1M5 79h1M18 79h1M24 79h2M40 79h1M46 79h2M61 79h1M67 79h2M80 79h1M86 79h2M102 79h1M108 79h1M122 79h1M72 78h1M2 77h2M20 77h3M42 77h3M63 77h3M82 77h3M104 77h3M2 76h2M20 76h3M42 76h3M63 76h3M82 76h3M104 76h3M72 75h1M112 74h1M116 74h1M9 63h1M71 63h1M116 63h1M2 62h2M20 62h3M42 62h3M63 62h3M82 62h3M104 62h3M72 61h1M5 60h1M18 60h1M24 60h2M40 60h1M46 60h2M61 60h1M67 60h2M80 60h1M86 60h2M102 60h1M108 60h1M122 60h1M5 59h1M18 59h1M24 59h2M40 59h1M46 59h2M61 59h1M67 59h2M80 59h1M86 59h2M102 59h1M108 59h1M122 59h1M5 58h1M18 58h1M24 58h2M40 58h1M46 58h2M61 58h1M67 58h2M80 58h1M86 58h2M102 58h1M108 58h1M122 58h1M72 57h1M2 56h2M20 56h3M42 56h3M63 56h3M82 56h3M104 56h3M2 55h2M20 55h3M42 55h3M63 55h3M82 55h3M104 55h3M72 54h1M116 53h1M39 52h1M60 52h1M89 52h1M101 52h1M118 52h2M121 52h1M0 51h1M4 51h1M7 51h1M19 51h1M23 51h1M26 51h1M41 51h1M45 51h1M48 51h1M62 51h1M66 51h1M69 51h1M81 51h1M85 51h1M88 51h1M103 51h1M107 51h1M110 51h1M8 50h1M89 50h1M111 50h1M116 44h1M120 44h1M2 43h2M20 43h3M42 43h3M63 43h3M82 43h3M104 43h3M72 42h1M5 41h1M18 41h1M24 41h2M40 41h1M46 41h2M61 41h1M67 41h2M80 41h1M86 41h2M102 41h1M108 41h1M122 41h1M5 40h1M18 40h1M24 40h2M40 40h1M46 40h2M61 40h1M67 40h2M80 40h1M86 40h2M102 40h1M108 40h1M122 40h1M5 39h1M18 39h1M24 39h2M40 39h1M46 39h2M61 39h1M67 39h2M80 39h1M86 39h2M102 39h1M108 39h1M122 39h1M72 38h1M2 37h2M20 37h3M42 37h3M63 37h3M82 37h3M104 37h3M2 36h2M20 36h3M42 36h3M63 36h3M82 36h3M104 36h3M72 35h1M9 34h1M11 34h1M19 34h1M23 34h1M38 34h1M41 34h1M71 34h1M73 34h1M107 34h1M112 34h1M114 34h1M117 34h1M120 34h1M10 23h1M109 23h1M9 22h1M71 22h1M116 22h1M2 21h2M20 21h3M42 21h3M63 21h3M82 21h3M104 21h3M72 20h1M5 19h1M18 19h1M24 19h2M40 19h1M46 19h2M61 19h1M67 19h2M80 19h1M86 19h2M102 19h1M108 19h1M122 19h1M5 18h1M18 18h1M24 18h2M40 18h1M46 18h2M61 18h1M67 18h2M80 18h1M86 18h2M102 18h1M108 18h1M122 18h1M5 17h1M18 17h1M24 17h2M40 17h1M46 17h2M61 17h1M67 17h2M80 17h1M86 17h2M102 17h1M108 17h1M122 17h1M8 16h1M72 16h1M89 16h1M111 16h1M2 15h2M20 15h3M42 15h3M63 15h3M82 15h3M104 15h3M1 14h1M100 14h1M117 14h1M72 13h1M11 12h1M19 12h1M23 12h1M38 12h1M41 12h1M73 12h1M107 12h1M114 12h1M118 12h2M49 11h1M89 11h1M8 9h1M89 9h1M111 9h1M34 8h1M17 7h1M27 7h1M49 7h1M60 7h1M70 7h1M79 7h1M101 7h1M6 6h1M89 6h1M109 6h1M9 5h1M71 5h1M111 5h1M9 4h1M71 4h1M111 4h1M17 3h1M79 3h1M89 3h1M9 2h1M71 2h1M2 1h2M20 1h3M42 1h3M63 1h3M82 1h3M104 1h3"/>
<path stroke="#ff9e00" d="M6 123h1M109 123h1M113 123h1M5 122h1M18 122h1M24 122h2M40 122h1M46 122h2M61 122h1M67 122h2M72 122h1M80 122h1M86 122h2M102 122h1M108 122h1M113 122h1M122 122h1M72 121h1M113 121h1M72 120h1M113 120h1M6 119h1M109 119h1M113 119h1M1 118h1M0 117h1M4 117h1M11 117h1M38 117h1M45 117h1M62 117h1M66 117h1M73 117h1M81 117h1M85 117h1M100 117h1M103 117h1M114 117h1M113 116h1M116 116h1M27 114h1M49 114h1M115 114h1M11 113h1M73 113h1M114 113h1M117 113h1M6 112h1M10 112h1M109 112h1M115 110h1M118 106h2M1 105h1M113 104h1M72 103h1M113 103h1M72 102h1M113 102h1M72 101h1M113 101h1M113 100h1M1 99h1M1 98h1M113 97h1M116 97h1M9 96h1M71 96h1M112 96h1M115 94h1M115 93h1M115 90h1M112 88h1M113 86h1M6 85h1M109 85h1M120 84h1M1 83h1M113 82h1M72 81h1M113 81h1M72 80h1M113 80h1M72 79h1M113 79h1M6 78h1M109 78h1M113 78h1M1 77h1M1 76h1M113 75h1M116 75h1M9 74h1M71 74h1M120 74h1M115 72h1M115 71h1M115 70h1M115 69h1M115 67h1M115 66h1M115 65h1M115 64h1M120 63h1M1 62h1M6 61h1M109 61h1M113 61h1M72 60h1M113 60h1M72 59h1M113 59h1M72 58h1M113 58h1M6 57h1M109 57h1M113 57h1M1 56h1M1 55h1M113 54h1M116 54h1M118 53h2M27 52h1M49 52h1M1 51h3M20 51h3M42 51h3M63 51h3M82 51h3M104 51h3M6 50h1M10 50h1M109 50h1M115 49h1M115 48h1M118 44h2M1 43h1M6 42h1M109 42h1M113 42h1M72 41h1M113 41h1M72 40h1M113 40h1M72 39h1M113 39h1M6 38h1M109 38h1M113 38h1M1 37h1M1 36h1M113 35h1M116 35h1M116 34h1M118 34h2M115 33h1M115 32h1M115 31h1M115 29h1M115 28h1M115 27h1M112 26h1M113 24h1M6 23h1M120 22h1M1 21h1M6 20h1M109 20h1M113 20h1M72 19h1M113 19h1M72 18h1M113 18h1M72 17h1M113 17h1M113 16h1M1 15h1M0 14h1M4 14h1M11 14h1M38 14h1M45 14h1M62 14h1M66 14h1M73 14h1M81 14h1M85 14h1M103 14h1M114 14h1M113 13h1M116 13h1M27 11h1M35 11h1M97 11h1M0 10h5M7 10h1M19 10h5M26 10h1M37 10h1M41 10h5M48 10h1M62 10h5M69 10h1M81 10h5M88 10h1M99 10h1M103 10h5M110 10h1M6 9h1M10 9h1M109 9h1M9 8h1M13 8h1M29 8h2M33 8h1M51 8h4M56 8h4M74 8h2M90 8h3M94 8h3M7 7h1M26 7h1M48 7h1M69 7h1M88 7h2M110 7h1M10 6h1M17 5h1M70 5h1M79 5h1M89 5h1M17 4h1M70 4h1M79 4h1M89 4h1M39 3h1M49 3h1M60 3h1M101 3h1M121 3h1M120 2h1M1 1h1"/>
<path stroke="#ff9100" d="M5 123h1M18 123h1M24 123h2M37 123h1M40 123h1M46 123h2M61 123h1M67 123h2M80 123h1M86 123h2M99 123h1M102 123h1M108 123h1M122 123h1M37 122h1M99 122h1M37 121h1M99 121h1M37 120h1M99 120h1M5 119h1M18 119h1M24 119h2M37 119h1M40 119h1M46 119h2M61 119h1M67 119h2M80 119h1M86 119h2M99 119h1M102 119h1M108 119h1M122 119h1M0 118h1M4 118h1M11 118h1M38 118h1M45 118h1M62 118h1M66 118h1M73 118h1M81 118h1M85 118h1M100 118h1M103 118h1M114 118h1M116 118h2M19 117h1M23 117h1M41 117h1M107 117h1M116 117h1M37 116h1M99 116h1M121 116h1M35 114h1M97 114h1M5 112h1M18 112h1M24 112h2M40 112h1M46 112h2M61 112h1M67 112h2M80 112h1M86 112h2M102 112h1M108 112h1M122 112h1M115 111h1M112 109h1M0 105h1M4 105h1M11 105h1M38 105h1M45 105h1M62 105h1M66 105h1M73 105h1M81 105h1M85 105h1M100 105h1M103 105h1M114 105h1M116 105h2M6 104h1M37 104h1M99 104h1M109 104h1M37 103h1M99 103h1M37 102h1M99 102h1M37 101h1M99 101h1M6 100h1M37 100h1M99 100h1M109 100h1M0 99h1M4 99h1M11 99h1M38 99h1M45 99h1M62 99h1M66 99h1M73 99h1M81 99h1M85 99h1M100 99h1M103 99h1M114 99h1M116 99h2M0 98h1M4 98h1M11 98h1M38 98h1M45 98h1M62 98h1M66 98h1M73 98h1M81 98h1M85 98h1M100 98h1M103 98h1M114 98h1M116 98h2M37 97h1M99 97h1M121 97h1M118 96h3M115 91h1M9 88h1M71 88h1M0 86h5M7 86h1M19 86h5M26 86h1M41 86h5M48 86h1M62 86h5M69 86h1M81 86h5M88 86h1M103 86h5M110 86h1M5 85h1M18 85h1M24 85h2M40 85h1M46 85h2M61 85h1M67 85h2M72 85h1M80 85h1M86 85h2M102 85h1M108 85h1M113 85h1M122 85h1M118 84h2M0 83h1M4 83h1M11 83h1M38 83h1M45 83h1M62 83h1M66 83h1M73 83h1M81 83h1M85 83h1M100 83h1M103 83h1M114 83h1M116 83h2M6 82h1M37 82h1M99 82h1M109 82h1M37 81h1M99 81h1M37 80h1M99 80h1M37 79h1M99 79h1M5 78h1M18 78h1M24 78h2M37 78h1M40 78h1M46 78h2M61 78h1M67 78h2M80 78h1M86 78h2M99 78h1M102 78h1M108 78h1M122 78h1M0 77h1M4 77h1M11 77h1M38 77h1M45 77h1M62 77h1M66 77h1M73 77h1M81 77h1M85 77h1M100 77h1M103 77h1M114 77h1M116 77h2M0 76h1M4 76h1M11 76h1M38 76h1M45 76h1M62 76h1M66 76h1M73 76h1M81 76h1M85 76h1M100 76h1M103 76h1M114 76h1M116 76h2M37 75h1M99 75h1M121 75h1M118 74h2M115 73h1M118 63h2M0 62h1M4 62h1M11 62h1M38 62h1M45 62h1M62 62h1M66 62h1M73 62h1M81 62h1M85 62h1M100 62h1M103 62h1M114 62h1M116 62h2M5 61h1M18 61h1M24 61h2M37 61h1M40 61h1M46 61h2M61 61h1M67 61h2M80 61h1M86 61h2M99 61h1M102 61h1M108 61h1M122 61h1M37 60h1M99 60h1M37 59h1M99 59h1M37 58h1M99 58h1M5 57h1M18 57h1M24 57h2M37 57h1M40 57h1M46 57h2M61 57h1M67 57h2M80 57h1M86 57h2M99 57h1M102 57h1M108 57h1M122 57h1M0 56h1M4 56h1M11 56h1M38 56h1M45 56h1M62 56h1M66 56h1M73 56h1M81 56h1M85 56h1M100 56h1M103 56h1M114 56h1M116 56h2M0 55h1M4 55h1M11 55h1M38 55h1M45 55h1M62 55h1M66 55h1M73 55h1M81 55h1M85 55h1M100 55h1M103 55h1M114 55h1M116 55h2M37 54h1M99 54h1M121 54h1M35 52h1M97 52h1M115 52h1M38 51h1M100 51h1M5 50h1M18 50h1M24 50h2M40 50h1M46 50h2M61 50h1M67 50h2M80 50h1M86 50h2M102 50h1M108 50h1M122 50h1M0 43h1M4 43h1M11 43h1M38 43h1M45 43h1M62 43h1M66 43h1M73 43h1M81 43h1M85 43h1M100 43h1M103 43h1M114 43h1M116 43h2M5 42h1M18 42h1M24 42h2M37 42h1M40 42h1M46 42h2M61 42h1M67 42h2M80 42h1M86 42h2M99 42h1M102 42h1M108 42h1M122 42h1M37 41h1M99 41h1M37 40h1M99 40h1M37 39h1M99 39h1M5 38h1M18 38h1M24 38h2M37 38h1M40 38h1M46 38h2M61 38h1M67 38h2M80 38h1M86 38h2M99 38h1M102 38h1M108 38h1M122 38h1M0 37h1M4 37h1M11 37h1M38 37h1M45 37h1M62 37h1M66 37h1M73 37h1M81 37h1M85 37h1M100 37h1M103 37h1M114 37h1M116 37h2M0 36h1M4 36h1M11 36h1M38 36h1M45 36h1M62 36h1M66 36h1M73 36h1M81 36h1M85 36h1M100 36h1M103 36h1M114 36h1M116 36h2M37 35h1M99 35h1M121 35h1M9 26h1M71 26h1M0 24h5M7 24h1M19 24h5M26 24h1M41 24h5M48 24h1M62 24h5M69 24h1M81 24h5M88 24h1M103 24h5M110 24h1M5 23h1M18 23h1M24 23h2M40 23h1M46 23h2M61 23h1M67 23h2M72 23h1M80 23h1M86 23h2M102 23h1M108 23h1M113 23h1M122 23h1M118 22h2M0 21h1M4 21h1M11 21h1M38 21h1M45 21h1M62 21h1M66 21h1M73 21h1M81 21h1M85 21h1M100 21h1M103 21h1M114 21h1M116 21h2M5 20h1M18 20h1M24 20h2M37 20h1M40 20h1M46 20h2M61 20h1M67 20h2M80 20h1M86 20h2M99 20h1M102 20h1M108 20h1M122 20h1M37 19h1M99 19h1M37 18h1M99 18h1M37 17h1M99 17h1M6 16h1M37 16h1M99 16h1M109 16h1M0 15h1M4 15h1M11 15h1M38 15h1M45 15h1M62 15h1M66 15h1M73 15h1M81 15h1M85 15h1M100 15h1M103 15h1M114 15h1M116 15h2M19 14h1M23 14h1M41 14h1M107 14h1M116 14h1M37 13h1M99 13h1M121 13h1M116 12h1M14 11h1M115 11h1M118 11h2M38 10h1M100 10h1M114 10h2M117 10h1M5 9h1M18 9h1M24 9h2M40 9h1M46 9h2M61 9h1M67 9h2M80 9h1M86 9h2M102 9h1M108 9h1M113 9h1M122 9h1M12 8h1M32 8h1M50 8h1M71 8h1M112 8h2M5 7h2M18 7h1M24 7h2M40 7h1M46 7h2M61 7h1M67 7h2M80 7h1M86 7h2M102 7h1M108 7h2M111 7h1M122 7h2M5 6h1M18 6h1M24 6h2M40 6h1M46 6h2M61 6h1M67 6h2M80 6h1M86 6h2M102 6h1M108 6h1M113 6h1M122 6h1M27 5h1M39 5h1M49 5h1M60 5h1M101 5h1M112 5h1M121 5h1M27 4h1M39 4h1M49 4h1M60 4h1M101 4h1M112 4h1M121 4h1M27 3h1M7 2h1M26 2h1M48 2h1M69 2h1M88 2h1M110 2h1M118 2h2M0 1h1M4 1h1M11 1h1M38 1h1M45 1h1M62 1h1M66 1h1M73 1h1M81 1h1M85 1h1M100 1h1M103 1h1M114 1h1M116 1h2M116 0h1"/>
<path stroke="#ff8300" d="M123 121h1M123 120h1M19 118h1M23 118h1M41 118h1M107 118h1M17 116h1M39 116h1M60 116h1M70 116h1M79 116h1M101 116h1M116 115h1M74 114h1M37 112h1M72 112h1M99 112h1M113 112h1M71 109h1M7 106h1M26 106h1M48 106h1M69 106h1M88 106h1M110 106h1M19 105h1M23 105h1M41 105h1M107 105h1M5 104h1M18 104h1M24 104h2M40 104h1M46 104h2M61 104h1M67 104h2M80 104h1M86 104h2M102 104h1M108 104h1M122 104h1M123 103h1M123 102h1M123 101h1M5 100h1M18 100h1M24 100h2M40 100h1M46 100h2M61 100h1M67 100h2M80 100h1M86 100h2M102 100h1M108 100h1M122 100h1M19 99h1M23 99h1M41 99h1M107 99h1M19 98h1M23 98h1M41 98h1M107 98h1M17 97h1M39 97h1M60 97h1M70 97h1M79 97h1M101 97h1M115 95h1M120 88h1M115 87h1M120 87h1M11 86h1M38 86h1M73 86h1M100 86h1M114 86h1M117 86h1M37 85h1M99 85h1M7 84h1M26 84h1M48 84h1M69 84h1M88 84h1M110 84h1M19 83h1M23 83h1M41 83h1M107 83h1M5 82h1M18 82h1M24 82h2M40 82h1M46 82h2M61 82h1M67 82h2M80 82h1M86 82h2M102 82h1M108 82h1M122 82h1M123 81h1M123 80h1M123 79h1M19 77h1M23 77h1M41 77h1M107 77h1M19 76h1M23 76h1M41 76h1M107 76h1M17 75h1M39 75h1M60 75h1M70 75h1M79 75h1M101 75h1M112 68h1M7 63h1M26 63h1M48 63h1M69 63h1M88 63h1M110 63h1M19 62h1M23 62h1M41 62h1M107 62h1M123 60h1M123 59h1M123 58h1M19 56h1M23 56h1M41 56h1M107 56h1M19 55h1M23 55h1M41 55h1M107 55h1M17 54h1M39 54h1M60 54h1M70 54h1M79 54h1M101 54h1M7 53h1M26 53h1M48 53h1M69 53h1M88 53h1M110 53h1M14 52h1M74 52h1M11 51h1M73 51h1M114 51h1M117 51h1M37 50h1M72 50h1M99 50h1M113 50h1M9 49h1M71 49h1M120 49h1M112 47h1M7 44h1M26 44h1M48 44h1M69 44h1M88 44h1M110 44h1M19 43h1M23 43h1M41 43h1M107 43h1M123 41h1M123 40h1M123 39h1M19 37h1M23 37h1M41 37h1M107 37h1M19 36h1M23 36h1M41 36h1M107 36h1M17 35h1M39 35h1M60 35h1M70 35h1M79 35h1M101 35h1M120 26h1M115 25h1M11 24h1M38 24h1M73 24h1M100 24h1M114 24h1M117 24h1M37 23h1M99 23h1M7 22h1M26 22h1M48 22h1M69 22h1M88 22h1M110 22h1M19 21h1M23 21h1M41 21h1M107 21h1M123 19h1M123 18h1M123 17h1M5 16h1M18 16h1M24 16h2M40 16h1M46 16h2M61 16h1M67 16h2M80 16h1M86 16h2M102 16h1M108 16h1M122 16h1M19 15h1M23 15h1M41 15h1M107 15h1M17 13h1M39 13h1M60 13h1M70 13h1M79 13h1M101 13h1M55 11h1M76 11h1M11 10h1M73 10h1M37 9h1M72 9h1M99 9h1M28 8h1M36 8h1M98 8h1M8 7h1M37 6h1M72 6h1M99 6h1M35 3h2M74 3h1M97 3h1M19 1h1M23 1h1M41 1h1M107 1h1M2 0h2M20 0h3M42 0h3M63 0h3M82 0h3M104 0h3"/>
<path stroke="#ff7500" d="M123 122h1M8 116h1M27 116h1M49 116h1M7 115h1M26 115h1M48 115h1M69 115h1M88 115h1M110 115h1M12 114h1M14 114h1M32 114h1M36 114h1M55 114h1M76 114h1M9 111h1M120 111h1M9 109h1M8 97h1M27 97h1M49 97h1M7 96h1M26 96h1M48 96h1M69 96h1M88 96h1M110 96h1M115 92h1M120 92h1M9 91h1M120 91h1M71 90h1M112 90h1M71 89h1M112 89h1M9 87h1M116 86h1M8 75h1M27 75h1M49 75h1M7 74h1M26 74h1M48 74h1M69 74h1M88 74h1M110 74h1M9 68h1M71 68h1M8 54h1M27 54h1M49 54h1M33 52h2M55 52h1M76 52h1M112 49h1M9 47h1M71 47h1M8 35h1M27 35h1M49 35h1M115 30h1M120 30h1M120 25h1M116 24h1M123 23h1M8 13h1M27 13h1M49 13h1M33 11h2M74 11h1M31 8h1M93 8h1M37 7h1M99 7h1M123 6h1M12 3h1M31 3h2M93 3h1M98 3h1M1 0h1M100 0h1M117 0h1"/>
<path stroke="#ff6800" d="M111 116h1M29 114h3M33 114h2M51 114h4M56 114h4M91 114h6M98 114h1M123 112h1M71 111h1M112 111h1M112 108h1M112 107h1M111 97h1M120 95h1M9 94h1M71 94h1M112 94h1M120 94h1M9 93h1M71 93h1M112 93h1M120 93h1M9 92h1M71 92h1M112 92h1M71 91h1M112 91h1M9 90h1M120 90h1M9 89h1M120 89h1M71 87h1M112 87h1M123 85h1M111 75h1M9 72h1M71 72h1M112 72h1M120 72h1M9 71h1M71 71h1M112 71h1M120 71h1M9 70h1M71 70h1M112 70h1M120 70h1M9 69h1M71 69h1M112 69h1M120 69h1M120 68h1M9 67h1M71 67h1M112 67h1M120 67h1M9 66h1M71 66h1M112 66h1M120 66h1M9 65h1M71 65h1M112 65h1M120 65h1M9 64h1M71 64h1M112 64h1M111 54h1M12 52h1M29 52h4M36 52h1M51 52h4M56 52h4M91 52h6M98 52h1M123 50h1M120 47h1M112 46h1M112 45h1M111 35h1M9 32h1M71 32h1M112 32h1M120 32h1M9 31h1M71 31h1M112 31h1M120 31h1M9 30h1M71 30h1M112 30h1M9 29h1M71 29h1M112 29h1M120 29h1M9 28h1M71 28h1M112 28h1M120 28h1M9 27h1M71 27h1M112 27h1M120 27h1M9 25h1M71 25h1M111 13h1M7 12h1M26 12h1M48 12h1M69 12h1M88 12h1M110 12h1M12 11h1M15 11h2M29 11h4M36 11h1M51 11h4M56 11h4M77 11h2M91 11h6M123 9h1M28 3h3M33 3h2M51 3h8M76 3h1M91 3h2M94 3h3M11 0h1M38 0h1M73 0h1M114 0h1"/>
<path stroke="#ff5a00" d="M123 123h1M123 119h1M89 116h1M28 114h1M90 114h1M112 110h1M120 109h1M36 108h1M98 108h1M36 107h1M98 107h1M123 104h1M89 97h1M9 95h1M71 95h1M15 87h2M77 87h2M123 82h1M123 78h1M89 75h1M120 64h1M123 61h1M123 57h1M89 54h1M123 53h1M28 52h1M90 52h1M112 48h1M36 46h1M36 45h1M123 42h1M123 38h1M89 35h1M7 34h1M26 34h1M48 34h1M69 34h1M88 34h1M110 34h1M9 33h1M71 33h1M112 33h1M120 33h1M15 25h2M112 25h1M123 20h1M123 16h1M89 13h1M13 11h1M75 11h1M90 11h1M98 11h1M120 5h1M120 4h1M14 3h1M59 3h1M90 3h1M118 3h2M0 0h1M4 0h1M19 0h1M41 0h1M45 0h1M62 0h1M66 0h1M70 0h1M81 0h1M85 0h1M103 0h1M107 0h1"/>
<path stroke="#fb4d00" d="M7 117h1M26 117h1M48 117h1M69 117h1M88 117h1M110 117h1M6 116h1M109 116h1M39 115h1M60 115h1M101 115h1M121 115h1M123 115h1M13 114h1M50 114h1M75 114h1M9 110h1M71 110h1M120 110h1M36 109h1M98 109h1M123 106h1M123 100h1M6 97h1M109 97h1M112 95h1M14 87h1M8 84h1M123 84h1M6 75h1M109 75h1M9 73h1M71 73h1M112 73h1M120 73h1M8 63h1M6 54h1M109 54h1M13 52h1M50 52h1M75 52h1M9 48h1M71 48h1M120 48h1M98 46h1M98 45h1M123 44h1M6 35h1M109 35h1M14 25h1M77 25h2M8 22h1M7 14h1M26 14h1M48 14h1M69 14h1M88 14h1M110 14h1M6 13h1M109 13h1M28 11h1M50 11h1M13 3h1M50 3h1M75 3h1M8 2h1M123 2h1M8 0h1M17 0h1M23 0h1M39 0h1M79 0h1M121 0h1"/>
<path stroke="#ec4200" d="M7 121h1M26 121h1M48 121h1M69 121h1M88 121h1M110 121h1M7 120h1M26 120h1M48 120h1M69 120h1M88 120h1M110 120h1M7 118h1M26 118h1M48 118h1M69 118h1M88 118h1M110 118h1M2 116h2M5 116h1M18 116h1M20 116h3M24 116h2M40 116h1M42 116h3M46 116h2M61 116h1M63 116h3M67 116h2M80 116h1M82 116h3M86 116h2M102 116h1M104 116h3M108 116h1M122 116h1M27 115h1M49 115h1M15 111h2M77 111h2M28 109h1M31 109h1M74 109h1M93 109h1M12 108h1M29 108h6M50 108h5M56 108h3M71 108h1M74 108h1M91 108h6M12 107h1M29 107h6M50 107h5M56 107h3M71 107h1M74 107h1M91 107h6M7 105h1M26 105h1M48 105h1M69 105h1M88 105h1M110 105h1M7 103h1M26 103h1M48 103h1M69 103h1M88 103h1M110 103h1M7 102h1M26 102h1M48 102h1M69 102h1M88 102h1M110 102h1M7 101h1M26 101h1M48 101h1M69 101h1M88 101h1M110 101h1M7 99h1M26 99h1M48 99h1M69 99h1M88 99h1M110 99h1M7 98h1M26 98h1M48 98h1M69 98h1M88 98h1M110 98h1M2 97h2M5 97h1M18 97h1M20 97h3M24 97h2M40 97h1M42 97h3M46 97h2M61 97h1M63 97h3M67 97h2M80 97h1M82 97h3M86 97h2M102 97h1M104 97h3M108 97h1M122 97h1M8 96h1M123 96h1M14 95h1M15 94h2M77 94h2M15 93h2M77 93h2M14 92h3M15 91h2M77 91h2M15 90h2M77 90h2M15 89h2M77 89h2M55 87h1M76 87h1M7 83h1M26 83h1M48 83h1M69 83h1M88 83h1M110 83h1M7 81h1M26 81h1M48 81h1M69 81h1M88 81h1M110 81h1M7 80h1M26 80h1M48 80h1M69 80h1M88 80h1M110 80h1M7 79h1M26 79h1M48 79h1M69 79h1M88 79h1M110 79h1M7 77h1M26 77h1M48 77h1M69 77h1M88 77h1M110 77h1M7 76h1M26 76h1M48 76h1M69 76h1M88 76h1M110 76h1M2 75h2M5 75h1M18 75h1M20 75h3M24 75h2M40 75h1M42 75h3M46 75h2M61 75h1M63 75h3M67 75h2M80 75h1M82 75h3M86 75h2M102 75h1M104 75h3M108 75h1M122 75h1M8 74h1M123 74h1M15 73h2M15 72h2M77 72h2M15 71h2M77 71h2M15 70h2M77 70h2M15 69h2M77 69h2M36 68h1M98 68h1M15 67h2M77 67h2M15 66h2M77 66h2M15 65h2M77 65h2M123 63h1M7 62h1M26 62h1M48 62h1M69 62h1M88 62h1M110 62h1M7 60h1M26 60h1M48 60h1M69 60h1M88 60h1M110 60h1M7 59h1M26 59h1M48 59h1M69 59h1M88 59h1M110 59h1M7 58h1M26 58h1M48 58h1M69 58h1M88 58h1M110 58h1M7 56h1M26 56h1M48 56h1M69 56h1M88 56h1M110 56h1M7 55h1M26 55h1M48 55h1M69 55h1M88 55h1M110 55h1M2 54h2M5 54h1M18 54h1M20 54h3M24 54h2M40 54h1M42 54h3M46 54h2M61 54h1M63 54h3M67 54h2M80 54h1M82 54h3M86 54h2M102 54h1M104 54h3M108 54h1M122 54h1M15 52h2M77 52h2M14 49h3M36 47h1M98 47h1M12 46h1M29 46h2M32 46h3M51 46h4M56 46h3M71 46h1M91 46h2M94 46h3M12 45h1M29 45h2M32 45h3M51 45h4M56 45h3M71 45h1M91 45h2M94 45h3M7 43h1M26 43h1M48 43h1M69 43h1M88 43h1M110 43h1M7 41h1M26 41h1M48 41h1M69 41h1M88 41h1M110 41h1M7 40h1M26 40h1M48 40h1M69 40h1M88 40h1M110 40h1M7 39h1M26 39h1M48 39h1M69 39h1M88 39h1M110 39h1M7 37h1M26 37h1M48 37h1M69 37h1M88 37h1M110 37h1M7 36h1M26 36h1M48 36h1M69 36h1M88 36h1M110 36h1M2 35h2M5 35h1M18 35h1M20 35h3M24 35h2M40 35h1M42 35h3M46 35h2M61 35h1M63 35h3M67 35h2M80 35h1M82 35h3M86 35h2M102 35h1M104 35h3M108 35h1M122 35h1M15 32h2M77 32h2M15 31h2M77 31h2M14 30h3M15 29h2M77 29h2M15 28h2M77 28h2M15 27h2M77 27h2M55 25h1M76 25h1M123 22h1M7 21h1M26 21h1M48 21h1M69 21h1M88 21h1M110 21h1M7 19h1M26 19h1M48 19h1M69 19h1M88 19h1M110 19h1M7 18h1M26 18h1M48 18h1M69 18h1M88 18h1M110 18h1M7 17h1M26 17h1M48 17h1M69 17h1M88 17h1M110 17h1M7 15h1M26 15h1M48 15h1M69 15h1M88 15h1M110 15h1M2 13h2M5 13h1M18 13h1M20 13h3M24 13h2M40 13h1M42 13h3M46 13h2M61 13h1M63 13h3M67 13h2M80 13h1M82 13h3M86 13h2M102 13h1M104 13h3M108 13h1M122 13h1M123 12h1M7 1h1M26 1h1M48 1h1M69 1h1M88 1h1M110 1h1M27 0h1M49 0h1M60 0h1M101 0h1M111 0h1"/>
<path stroke="#dd3800" d="M7 122h1M26 122h1M48 122h1M69 122h1M88 122h1M110 122h1M8 118h1M17 118h1M70 118h1M79 118h1M8 117h1M70 117h1M1 116h1M100 116h1M5 115h2M18 115h1M24 115h2M40 115h1M46 115h2M61 115h1M67 115h2M80 115h1M86 115h2M89 115h1M102 115h1M108 115h2M122 115h1M15 114h2M77 114h2M14 111h1M55 111h1M76 111h1M31 110h1M77 110h2M93 110h1M12 109h1M32 109h1M50 109h1M9 108h1M28 108h1M35 108h1M59 108h1M75 108h1M97 108h1M9 107h1M28 107h1M35 107h1M59 107h1M75 107h1M97 107h1M5 106h1M18 106h1M24 106h2M40 106h1M46 106h2M61 106h1M67 106h2M80 106h1M86 106h2M102 106h1M108 106h1M122 106h1M8 105h1M17 105h1M70 105h1M79 105h1M8 99h1M17 99h1M70 99h1M79 99h1M8 98h1M17 98h1M70 98h1M79 98h1M1 97h1M100 97h1M15 95h2M55 95h1M76 95h3M97 95h1M13 92h1M55 92h1M75 92h4M97 92h1M14 91h1M93 89h1M15 88h2M77 88h2M98 88h1M97 87h1M111 84h1M8 83h1M17 83h1M70 83h1M79 83h1M8 77h1M17 77h1M70 77h1M79 77h1M8 76h1M17 76h1M70 76h1M79 76h1M1 75h1M100 75h1M14 73h1M77 73h2M97 73h1M12 68h1M28 68h1M31 68h1M74 68h1M93 68h1M15 64h2M77 64h2M8 62h1M17 62h1M70 62h1M79 62h1M8 56h1M17 56h1M70 56h1M79 56h1M8 55h1M17 55h1M70 55h1M79 55h1M1 54h1M100 54h1M5 53h2M18 53h1M24 53h2M40 53h1M46 53h2M61 53h1M67 53h2M80 53h1M86 53h2M102 53h1M108 53h2M122 53h1M55 49h1M77 49h2M15 48h2M31 48h1M93 48h1M12 47h1M28 47h1M31 47h1M93 47h1M9 46h1M13 46h1M28 46h1M31 46h1M35 46h1M50 46h1M59 46h1M74 46h1M93 46h1M97 46h1M9 45h1M13 45h1M28 45h1M31 45h1M35 45h1M50 45h1M59 45h1M74 45h1M93 45h1M97 45h1M5 44h1M18 44h1M24 44h2M40 44h1M46 44h2M61 44h1M67 44h2M80 44h1M86 44h2M102 44h1M108 44h1M122 44h1M8 43h1M17 43h1M70 43h1M79 43h1M8 37h1M17 37h1M70 37h1M79 37h1M8 36h1M17 36h1M70 36h1M79 36h1M1 35h1M100 35h1M8 34h1M123 34h1M13 30h1M34 30h1M55 30h1M75 30h4M15 26h2M28 26h1M31 26h1M36 26h1M50 26h1M77 26h2M98 26h1M35 25h1M97 25h1M7 23h1M26 23h1M48 23h1M69 23h1M88 23h1M110 23h1M8 21h1M17 21h1M70 21h1M79 21h1M8 15h1M17 15h1M70 15h1M79 15h1M8 14h1M70 14h1M1 13h1M100 13h1M39 12h1M121 12h1M116 10h1M113 7h1M111 2h1M8 1h1M17 1h1M70 1h1M79 1h1M89 0h1"/>
<path stroke="#ce2d00" d="M7 123h1M26 123h1M48 123h1M69 123h1M88 123h1M110 123h1M7 119h1M26 119h1M48 119h1M69 119h1M88 119h1M110 119h1M27 118h1M39 118h1M49 118h1M60 118h1M101 118h1M121 118h1M17 117h1M27 117h1M39 117h1M49 117h1M60 117h1M79 117h1M101 117h1M121 117h1M0 116h1M4 116h1M11 116h1M19 116h1M23 116h1M38 116h1M41 116h1M45 116h1M62 116h1M66 116h1M73 116h1M81 116h1M85 116h1M103 116h1M107 116h1M114 116h1M117 116h1M17 115h1M70 115h1M79 115h1M7 112h1M26 112h1M48 112h1M69 112h1M88 112h1M110 112h1M97 111h1M15 110h2M35 110h1M74 110h1M97 110h1M29 109h2M33 109h1M35 109h1M51 109h4M56 109h4M77 109h2M90 109h3M94 109h4M13 108h1M55 108h1M76 108h1M90 108h1M13 107h1M55 107h1M76 107h1M90 107h1M6 106h1M8 106h1M109 106h1M27 105h1M39 105h1M49 105h1M60 105h1M101 105h1M121 105h1M7 104h1M26 104h1M48 104h1M69 104h1M88 104h1M110 104h1M7 100h1M26 100h1M48 100h1M69 100h1M88 100h1M110 100h1M27 99h1M39 99h1M49 99h1M60 99h1M101 99h1M121 99h1M27 98h1M39 98h1M49 98h1M60 98h1M101 98h1M121 98h1M0 97h1M4 97h1M11 97h1M19 97h1M23 97h1M38 97h1M41 97h1M45 97h1M62 97h1M66 97h1M73 97h1M81 97h1M85 97h1M103 97h1M107 97h1M114 97h1M117 97h1M5 96h2M18 96h1M24 96h2M40 96h1M46 96h2M61 96h1M67 96h2M70 96h1M80 96h1M86 96h2M102 96h1M108 96h2M111 96h1M122 96h1M14 94h1M55 94h1M76 94h1M93 94h1M14 93h1M55 93h1M76 93h1M93 93h1M34 92h1M50 92h5M56 92h4M91 92h2M94 92h3M98 92h1M55 91h1M76 91h1M93 91h1M97 91h1M14 90h1M55 90h1M76 90h1M93 90h1M31 89h1M13 88h2M36 88h1M50 88h1M75 88h1M93 88h1M35 87h1M93 87h1M7 85h1M26 85h1M48 85h1M69 85h1M88 85h1M110 85h1M5 84h2M18 84h1M24 84h2M40 84h1M46 84h2M61 84h1M67 84h2M70 84h1M80 84h1M86 84h2M102 84h1M108 84h2M122 84h1M27 83h1M39 83h1M49 83h1M60 83h1M101 83h1M121 83h1M7 82h1M26 82h1M48 82h1M69 82h1M88 82h1M110 82h1M7 78h1M26 78h1M48 78h1M69 78h1M88 78h1M110 78h1M27 77h1M39 77h1M49 77h1M60 77h1M101 77h1M121 77h1M27 76h1M39 76h1M49 76h1M60 76h1M101 76h1M121 76h1M0 75h1M4 75h1M11 75h1M19 75h1M23 75h1M38 75h1M41 75h1M45 75h1M62 75h1M66 75h1M73 75h1M81 75h1M85 75h1M103 75h1M107 75h1M114 75h1M117 75h1M5 74h2M18 74h1M24 74h2M40 74h1M46 74h2M61 74h1M67 74h2M70 74h1M80 74h1M86 74h2M102 74h1M108 74h1M111 74h1M122 74h1M31 73h1M35 73h1M55 73h1M76 73h1M93 73h1M14 72h1M31 72h1M76 72h1M93 72h1M14 71h1M31 71h1M76 71h1M93 71h1M14 70h1M31 70h1M76 70h1M93 70h1M14 69h1M31 69h1M76 69h1M93 69h1M15 68h2M29 68h2M32 68h2M50 68h1M77 68h2M90 68h3M94 68h3M14 67h1M31 67h1M76 67h1M93 67h1M14 66h1M31 66h1M76 66h1M93 66h1M14 65h1M31 65h1M76 65h1M93 65h1M14 64h1M31 64h1M93 64h1M5 63h2M18 63h1M24 63h2M40 63h1M46 63h2M61 63h1M67 63h2M70 63h1M80 63h1M86 63h2M102 63h1M108 63h1M111 63h1M122 63h1M27 62h1M39 62h1M49 62h1M60 62h1M101 62h1M121 62h1M7 61h1M26 61h1M48 61h1M69 61h1M88 61h1M110 61h1M7 57h1M26 57h1M48 57h1M69 57h1M88 57h1M110 57h1M27 56h1M39 56h1M49 56h1M60 56h1M101 56h1M121 56h1M27 55h1M39 55h1M49 55h1M60 55h1M101 55h1M121 55h1M0 54h1M4 54h1M11 54h1M19 54h1M23 54h1M38 54h1M41 54h1M45 54h1M62 54h1M66 54h1M73 54h1M81 54h1M85 54h1M103 54h1M107 54h1M114 54h1M117 54h1M8 53h1M27 53h1M39 53h1M49 53h1M60 53h1M101 53h1M121 53h1M7 50h1M26 50h1M48 50h1M69 50h1M88 50h1M110 50h1M13 49h1M76 49h1M97 49h1M35 48h1M77 48h2M97 48h1M15 47h2M29 47h2M32 47h2M50 47h5M56 47h3M74 47h1M90 47h3M94 47h3M14 46h1M55 46h1M75 46h1M90 46h1M120 46h1M14 45h1M55 45h1M75 45h1M90 45h1M120 45h1M6 44h1M8 44h1M109 44h1M27 43h1M39 43h1M49 43h1M60 43h1M101 43h1M121 43h1M7 42h1M26 42h1M48 42h1M69 42h1M88 42h1M110 42h1M7 38h1M26 38h1M48 38h1M69 38h1M88 38h1M110 38h1M27 37h1M39 37h1M49 37h1M60 37h1M101 37h1M121 37h1M27 36h1M39 36h1M49 36h1M60 36h1M101 36h1M121 36h1M0 35h1M4 35h1M11 35h1M19 35h1M23 35h1M38 35h1M41 35h1M45 35h1M62 35h1M66 35h1M73 35h1M81 35h1M85 35h1M103 35h1M107 35h1M114 35h1M117 35h1M14 33h3M55 33h1M76 33h3M14 32h1M31 32h1M55 32h1M76 32h1M14 31h1M31 31h1M55 31h1M76 31h1M29 30h2M32 30h2M35 30h2M50 30h5M56 30h4M14 29h1M31 29h1M55 29h1M76 29h1M14 28h1M31 28h1M55 28h1M76 28h1M14 27h1M31 27h1M55 27h1M76 27h1M12 26h3M32 26h1M74 26h2M31 25h1M5 22h2M18 22h1M24 22h2M40 22h1M46 22h2M61 22h1M67 22h2M70 22h1M80 22h1M86 22h2M102 22h1M108 22h1M111 22h1M122 22h1M27 21h1M39 21h1M49 21h1M60 21h1M101 21h1M121 21h1M7 20h1M26 20h1M48 20h1M69 20h1M88 20h1M110 20h1M7 16h1M26 16h1M48 16h1M69 16h1M88 16h1M110 16h1M27 15h1M39 15h1M49 15h1M60 15h1M101 15h1M121 15h1M17 14h1M27 14h1M39 14h1M79 14h1M121 14h1M0 13h1M4 13h1M11 13h1M19 13h1M23 13h1M38 13h1M41 13h1M45 13h1M62 13h1M66 13h1M73 13h1M81 13h1M85 13h1M103 13h1M107 13h1M114 13h1M117 13h1M27 12h1M49 12h1M60 12h1M101 12h1M7 9h1M26 9h1M48 9h1M69 9h1M88 9h1M110 9h1M116 9h1M114 7h1M117 7h1M7 6h1M26 6h1M48 6h1M69 6h1M88 6h1M110 6h1M116 6h1M77 3h2M5 2h2M18 2h1M24 2h2M40 2h1M46 2h2M61 2h1M67 2h2M70 2h1M80 2h1M86 2h2M102 2h1M108 2h2M122 2h1M27 1h1M39 1h1M49 1h1M60 1h1M101 1h1M121 1h1"/>
<path stroke="#bf2200" d="M38 121h1M38 120h1M89 118h1M111 118h1M89 117h1M111 117h1M123 117h1M123 116h1M112 114h1M113 113h1M31 111h1M35 111h1M75 111h1M90 111h1M93 111h1M14 110h1M28 110h1M36 110h1M55 110h1M76 110h1M90 110h1M98 110h1M13 109h1M15 109h2M34 109h1M75 109h1M14 108h1M120 108h1M14 107h1M120 107h1M27 106h1M39 106h1M49 106h1M60 106h1M89 106h1M101 106h1M121 106h1M89 105h1M111 105h1M38 103h1M38 102h1M38 101h1M89 99h1M111 99h1M89 98h1M111 98h1M123 97h1M17 96h1M79 96h1M13 95h1M34 95h2M51 95h4M56 95h4M74 95h2M91 95h2M94 95h3M31 94h1M74 94h1M90 94h1M97 94h1M31 93h1M74 93h1M90 93h1M97 93h1M12 92h1M29 92h2M32 92h2M35 92h2M74 92h1M90 92h1M31 91h1M35 91h1M90 91h1M31 90h1M74 90h1M90 90h1M97 90h1M14 89h1M28 89h1M36 89h1M50 89h1M55 89h1M74 89h1M76 89h1M90 89h1M97 89h2M12 88h1M28 88h1M31 88h2M51 88h9M74 88h1M76 88h1M90 88h3M94 88h3M13 87h1M31 87h1M34 87h1M59 87h1M75 87h1M90 87h1M2 85h2M20 85h3M42 85h3M63 85h3M82 85h3M104 85h3M17 84h1M79 84h1M89 83h1M111 83h1M38 81h1M38 80h1M38 79h1M89 77h1M111 77h1M89 76h1M111 76h1M123 75h1M17 74h1M79 74h1M109 74h1M34 73h1M74 73h1M28 72h1M35 72h1M55 72h1M74 72h1M90 72h1M97 72h1M28 71h1M35 71h1M55 71h1M74 71h1M90 71h1M97 71h1M28 70h1M35 70h1M55 70h1M74 70h1M90 70h1M97 70h1M28 69h1M35 69h1M55 69h1M74 69h1M90 69h1M97 69h1M13 68h1M34 68h2M51 68h4M56 68h4M75 68h1M97 68h1M28 67h1M35 67h1M55 67h1M74 67h1M90 67h1M97 67h1M28 66h1M35 66h1M55 66h1M74 66h1M90 66h1M97 66h1M28 65h1M35 65h1M55 65h1M74 65h1M90 65h1M97 65h1M28 64h1M35 64h2M55 64h1M74 64h1M76 64h1M97 64h2M17 63h1M79 63h1M109 63h1M89 62h1M111 62h1M38 60h1M38 59h1M38 58h1M89 56h1M111 56h1M89 55h1M111 55h1M123 54h1M89 53h1M120 52h1M28 49h4M33 49h3M50 49h5M56 49h4M75 49h1M90 49h4M95 49h2M12 48h1M14 48h1M28 48h1M36 48h1M55 48h1M74 48h1M76 48h1M90 48h1M98 48h1M13 47h1M34 47h2M59 47h1M75 47h1M97 47h1M27 44h1M39 44h1M49 44h1M60 44h1M89 44h1M101 44h1M121 44h1M89 43h1M111 43h1M38 41h1M38 40h1M38 39h1M89 37h1M111 37h1M89 36h1M111 36h1M123 35h1M5 34h2M17 34h2M24 34h2M40 34h1M46 34h2M61 34h1M67 34h2M70 34h1M79 34h2M86 34h2M102 34h1M108 34h2M121 34h2M12 33h2M29 33h8M51 33h4M56 33h3M74 33h2M97 33h2M28 32h1M35 32h1M74 32h1M93 32h1M97 32h1M28 31h1M35 31h1M74 31h1M93 31h1M97 31h1M12 30h1M74 30h1M91 30h2M94 30h5M28 29h1M35 29h1M93 29h1M97 29h1M28 28h1M35 28h1M74 28h1M93 28h1M97 28h1M28 27h1M35 27h1M74 27h1M93 27h1M97 27h1M29 26h2M33 26h2M51 26h9M76 26h1M90 26h7M13 25h1M34 25h1M59 25h1M75 25h1M90 25h1M93 25h1M17 22h1M79 22h1M109 22h1M89 21h1M111 21h1M38 19h1M38 18h1M38 17h1M89 15h1M111 15h1M49 14h1M60 14h1M89 14h1M101 14h1M111 14h1M123 14h1M123 13h1M5 12h2M18 12h1M24 12h2M40 12h1M46 12h2M61 12h1M67 12h2M80 12h1M86 12h2M102 12h1M108 12h2M122 12h1M9 11h1M120 11h1M10 10h1M15 3h2M71 3h1M112 3h1M17 2h1M79 2h1M89 2h1M89 1h1M111 1h1M6 0h2M26 0h1M48 0h1M69 0h1M88 0h1M109 0h2"/>
<path stroke="#b01700" d="M0 123h5M11 123h1M19 123h5M38 123h1M41 123h5M62 123h5M73 123h1M81 123h5M100 123h1M103 123h5M114 123h1M117 123h1M0 122h5M11 122h1M19 122h5M38 122h1M41 122h5M62 122h5M73 122h1M81 122h5M100 122h1M103 122h5M114 122h1M117 122h1M0 121h5M11 121h1M19 121h5M41 121h5M62 121h5M73 121h1M81 121h5M100 121h1M103 121h5M114 121h1M117 121h1M0 120h5M11 120h1M19 120h5M41 120h5M62 120h5M73 120h1M81 120h5M100 120h1M103 120h5M114 120h1M117 120h1M0 119h5M11 119h1M19 119h5M38 119h1M41 119h5M62 119h5M73 119h1M81 119h5M100 119h1M103 119h5M114 119h1M117 119h1M5 118h2M18 118h1M24 118h2M40 118h1M46 118h2M61 118h1M67 118h2M80 118h1M86 118h2M102 118h1M108 118h2M122 118h2M5 117h2M18 117h1M24 117h2M40 117h1M46 117h2M61 117h1M67 117h2M80 117h1M86 117h2M102 117h1M108 117h2M122 117h1M7 116h1M26 116h1M48 116h1M69 116h1M88 116h1M110 116h1M8 115h1M111 115h1M9 114h1M71 114h1M120 114h1M10 113h1M72 113h1M0 112h5M11 112h1M19 112h5M38 112h1M41 112h5M62 112h5M73 112h1M81 112h5M100 112h1M103 112h5M114 112h1M117 112h1M12 111h2M28 111h3M32 111h3M36 111h1M50 111h5M56 111h4M74 111h1M91 111h2M94 111h3M98 111h1M12 110h2M29 110h2M32 110h3M50 110h5M56 110h4M75 110h1M91 110h2M94 110h3M14 109h1M55 109h1M76 109h1M15 108h2M77 108h2M15 107h2M77 107h2M17 106h1M70 106h1M79 106h1M111 106h1M5 105h2M18 105h1M24 105h2M40 105h1M46 105h2M61 105h1M67 105h2M80 105h1M86 105h2M102 105h1M108 105h2M122 105h2M0 104h5M11 104h1M19 104h5M38 104h1M41 104h5M62 104h5M73 104h1M81 104h5M100 104h1M103 104h5M114 104h1M117 104h1M0 103h5M11 103h1M19 103h5M41 103h5M62 103h5M73 103h1M81 103h5M100 103h1M103 103h5M114 103h1M117 103h1M0 102h5M11 102h1M19 102h5M41 102h5M62 102h5M73 102h1M81 102h5M100 102h1M103 102h5M114 102h1M117 102h1M0 101h5M11 101h1M19 101h5M41 101h5M62 101h5M73 101h1M81 101h5M100 101h1M103 101h5M114 101h1M117 101h1M0 100h5M11 100h1M19 100h5M38 100h1M41 100h5M62 100h5M73 100h1M81 100h5M100 100h1M103 100h5M114 100h1M117 100h1M5 99h2M18 99h1M24 99h2M40 99h1M46 99h2M61 99h1M67 99h2M80 99h1M86 99h2M102 99h1M108 99h2M122 99h2M5 98h2M18 98h1M24 98h2M40 98h1M46 98h2M61 98h1M67 98h2M80 98h1M86 98h2M102 98h1M108 98h2M122 98h2M7 97h1M26 97h1M48 97h1M69 97h1M88 97h1M110 97h1M27 96h1M39 96h1M49 96h1M60 96h1M89 96h1M101 96h1M121 96h1M12 95h1M28 95h6M36 95h1M50 95h1M90 95h1M93 95h1M98 95h1M12 94h2M28 94h3M32 94h5M50 94h5M56 94h4M75 94h1M91 94h2M94 94h3M98 94h1M12 93h2M28 93h3M32 93h5M50 93h5M56 93h4M75 93h1M91 93h2M94 93h3M98 93h1M28 92h1M31 92h1M93 92h1M12 91h2M28 91h3M32 91h3M36 91h1M50 91h5M56 91h4M74 91h2M91 91h2M94 91h3M98 91h1M12 90h2M28 90h3M32 90h5M50 90h5M56 90h4M75 90h1M91 90h2M94 90h3M98 90h1M12 89h2M29 89h2M32 89h4M51 89h4M56 89h4M75 89h1M91 89h2M94 89h3M29 88h2M33 88h3M97 88h1M12 87h1M28 87h3M32 87h2M36 87h1M50 87h5M56 87h3M74 87h1M91 87h2M94 87h3M98 87h1M37 86h1M99 86h1M0 85h2M4 85h1M11 85h1M19 85h1M23 85h1M38 85h1M41 85h1M45 85h1M62 85h1M66 85h1M73 85h1M81 85h1M85 85h1M100 85h1M103 85h1M107 85h1M114 85h1M117 85h1M27 84h1M39 84h1M49 84h1M60 84h1M89 84h1M101 84h1M121 84h1M5 83h2M18 83h1M24 83h2M40 83h1M46 83h2M61 83h1M67 83h2M80 83h1M86 83h2M102 83h1M108 83h2M122 83h2M0 82h5M11 82h1M19 82h5M38 82h1M41 82h5M62 82h5M73 82h1M81 82h5M100 82h1M103 82h5M114 82h1M117 82h1M0 81h5M11 81h1M19 81h5M41 81h5M62 81h5M73 81h1M81 81h5M100 81h1M103 81h5M114 81h1M117 81h1M0 80h5M11 80h1M19 80h5M41 80h5M62 80h5M73 80h1M81 80h5M100 80h1M103 80h5M114 80h1M117 80h1M0 79h5M11 79h1M19 79h5M41 79h5M62 79h5M73 79h1M81 79h5M100 79h1M103 79h5M114 79h1M117 79h1M0 78h5M11 78h1M19 78h5M38 78h1M41 78h5M62 78h5M73 78h1M81 78h5M100 78h1M103 78h5M114 78h1M117 78h1M5 77h2M18 77h1M24 77h2M40 77h1M46 77h2M61 77h1M67 77h2M80 77h1M86 77h2M102 77h1M108 77h2M122 77h2M5 76h2M18 76h1M24 76h2M40 76h1M46 76h2M61 76h1M67 76h2M80 76h1M86 76h2M102 76h1M108 76h2M122 76h2M7 75h1M26 75h1M48 75h1M69 75h1M88 75h1M110 75h1M27 74h1M39 74h1M49 74h1M60 74h1M89 74h1M101 74h1M121 74h1M12 73h2M28 73h3M32 73h2M36 73h1M50 73h5M56 73h4M75 73h1M90 73h3M94 73h3M98 73h1M12 72h2M29 72h2M32 72h3M36 72h1M50 72h5M56 72h4M75 72h1M91 72h2M94 72h3M98 72h1M12 71h2M29 71h2M32 71h3M36 71h1M50 71h5M56 71h4M75 71h1M91 71h2M94 71h3M98 71h1M12 70h2M29 70h2M32 70h3M36 70h1M50 70h5M56 70h4M75 70h1M91 70h2M94 70h3M98 70h1M12 69h2M29 69h2M32 69h3M36 69h1M50 69h5M56 69h4M75 69h1M91 69h2M94 69h3M98 69h1M14 68h1M55 68h1M76 68h1M12 67h2M29 67h2M32 67h3M36 67h1M50 67h5M56 67h4M75 67h1M91 67h2M94 67h3M98 67h1M12 66h2M29 66h2M32 66h3M36 66h1M50 66h5M56 66h4M75 66h1M91 66h2M94 66h3M98 66h1M12 65h2M29 65h2M32 65h3M36 65h1M50 65h5M56 65h4M75 65h1M91 65h2M94 65h3M98 65h1M12 64h2M29 64h2M32 64h3M50 64h5M56 64h4M75 64h1M90 64h3M94 64h3M27 63h1M39 63h1M49 63h1M60 63h1M89 63h1M101 63h1M121 63h1M5 62h2M18 62h1M24 62h2M40 62h1M46 62h2M61 62h1M67 62h2M80 62h1M86 62h2M102 62h1M108 62h2M122 62h2M0 61h5M11 61h1M19 61h5M38 61h1M41 61h5M62 61h5M73 61h1M81 61h5M100 61h1M103 61h5M114 61h1M117 61h1M0 60h5M11 60h1M19 60h5M41 60h5M62 60h5M73 60h1M81 60h5M100 60h1M103 60h5M114 60h1M117 60h1M0 59h5M11 59h1M19 59h5M41 59h5M62 59h5M73 59h1M81 59h5M100 59h1M103 59h5M114 59h1M117 59h1M0 58h5M11 58h1M19 58h5M41 58h5M62 58h5M73 58h1M81 58h5M100 58h1M103 58h5M114 58h1M117 58h1M0 57h5M11 57h1M19 57h5M38 57h1M41 57h5M62 57h5M73 57h1M81 57h5M100 57h1M103 57h5M114 57h1M117 57h1M5 56h2M18 56h1M24 56h2M40 56h1M46 56h2M61 56h1M67 56h2M80 56h1M86 56h2M102 56h1M108 56h2M122 56h2M5 55h2M18 55h1M24 55h2M40 55h1M46 55h2M61 55h1M67 55h2M80 55h1M86 55h2M102 55h1M108 55h2M122 55h2M7 54h1M26 54h1M48 54h1M69 54h1M88 54h1M110 54h1M17 53h1M70 53h1M79 53h1M111 53h1M9 52h1M71 52h1M112 52h1M10 51h1M72 51h1M113 51h1M0 50h5M11 50h1M19 50h5M38 50h1M41 50h5M62 50h5M73 50h1M81 50h5M100 50h1M103 50h5M114 50h1M117 50h1M12 49h1M32 49h1M36 49h1M74 49h1M94 49h1M98 49h1M13 48h1M29 48h2M32 48h3M50 48h5M56 48h4M75 48h1M91 48h2M94 48h3M14 47h1M55 47h1M76 47h3M15 46h2M76 46h3M15 45h2M76 45h3M17 44h1M70 44h1M79 44h1M111 44h1M5 43h2M18 43h1M24 43h2M40 43h1M46 43h2M61 43h1M67 43h2M80 43h1M86 43h2M102 43h1M108 43h2M122 43h2M0 42h5M11 42h1M19 42h5M38 42h1M41 42h5M62 42h5M73 42h1M81 42h5M100 42h1M103 42h5M114 42h1M117 42h1M0 41h5M11 41h1M19 41h5M41 41h5M62 41h5M73 41h1M81 41h5M100 41h1M103 41h5M114 41h1M117 41h1M0 40h5M11 40h1M19 40h5M41 40h5M62 40h5M73 40h1M81 40h5M100 40h1M103 40h5M114 40h1M117 40h1M0 39h5M11 39h1M19 39h5M41 39h5M62 39h5M73 39h1M81 39h5M100 39h1M103 39h5M114 39h1M117 39h1M0 38h5M11 38h1M19 38h5M38 38h1M41 38h5M62 38h5M73 38h1M81 38h5M100 38h1M103 38h5M114 38h1M117 38h1M5 37h2M18 37h1M24 37h2M40 37h1M46 37h2M61 37h1M67 37h2M80 37h1M86 37h2M102 37h1M108 37h2M122 37h2M5 36h2M18 36h1M24 36h2M40 36h1M46 36h2M61 36h1M67 36h2M80 36h1M86 36h2M102 36h1M108 36h2M122 36h2M7 35h1M26 35h1M48 35h1M69 35h1M88 35h1M110 35h1M27 34h1M39 34h1M49 34h1M60 34h1M89 34h1M101 34h1M111 34h1M28 33h1M50 33h1M59 33h1M90 33h7M12 32h2M29 32h2M32 32h3M36 32h1M50 32h5M56 32h4M75 32h1M90 32h3M94 32h3M98 32h1M12 31h2M29 31h2M32 31h3M36 31h1M50 31h5M56 31h4M75 31h1M90 31h3M94 31h3M98 31h1M28 30h1M31 30h1M90 30h1M93 30h1M12 29h2M29 29h2M32 29h3M36 29h1M50 29h5M56 29h4M74 29h2M90 29h3M94 29h3M98 29h1M12 28h2M29 28h2M32 28h3M36 28h1M50 28h5M56 28h4M75 28h1M90 28h3M94 28h3M98 28h1M12 27h2M29 27h2M32 27h3M36 27h1M50 27h5M56 27h4M75 27h1M90 27h3M94 27h3M98 27h1M35 26h1M97 26h1M12 25h1M28 25h3M32 25h2M36 25h1M50 25h5M56 25h3M74 25h1M91 25h2M94 25h3M98 25h1M37 24h1M99 24h1M0 23h5M11 23h1M19 23h5M38 23h1M41 23h5M62 23h5M73 23h1M81 23h5M100 23h1M103 23h5M114 23h1M117 23h1M27 22h1M39 22h1M49 22h1M60 22h1M89 22h1M101 22h1M121 22h1M5 21h2M18 21h1M24 21h2M40 21h1M46 21h2M61 21h1M67 21h2M80 21h1M86 21h2M102 21h1M108 21h2M122 21h2M0 20h5M11 20h1M19 20h5M38 20h1M41 20h5M62 20h5M73 20h1M81 20h5M100 20h1M103 20h5M114 20h1M117 20h1M0 19h5M11 19h1M19 19h5M41 19h5M62 19h5M73 19h1M81 19h5M100 19h1M103 19h5M114 19h1M117 19h1M0 18h5M11 18h1M19 18h5M41 18h5M62 18h5M73 18h1M81 18h5M100 18h1M103 18h5M114 18h1M117 18h1M0 17h5M11 17h1M19 17h5M41 17h5M62 17h5M73 17h1M81 17h5M100 17h1M103 17h5M114 17h1M117 17h1M0 16h5M11 16h1M19 16h5M38 16h1M41 16h5M62 16h5M73 16h1M81 16h5M100 16h1M103 16h5M114 16h1M117 16h1M5 15h2M18 15h1M24 15h2M40 15h1M46 15h2M61 15h1M67 15h2M80 15h1M86 15h2M102 15h1M108 15h2M122 15h2M5 14h2M18 14h1M24 14h2M40 14h1M46 14h2M61 14h1M67 14h2M80 14h1M86 14h2M102 14h1M108 14h2M122 14h1M7 13h1M26 13h1M48 13h1M69 13h1M88 13h1M110 13h1M8 12h1M17 12h1M70 12h1M79 12h1M89 12h1M111 12h1M71 11h1M112 11h1M72 10h1M113 10h1M0 9h5M11 9h1M19 9h5M38 9h1M41 9h5M62 9h5M73 9h1M81 9h5M100 9h1M103 9h5M114 9h1M117 9h1M115 8h1M116 7h1M0 6h5M11 6h1M19 6h5M38 6h1M41 6h5M62 6h5M73 6h1M81 6h5M100 6h1M103 6h5M114 6h1M117 6h1M118 5h2M118 4h2M9 3h1M120 3h1M27 2h1M39 2h1M49 2h1M60 2h1M101 2h1M121 2h1M5 1h2M18 1h1M24 1h2M40 1h1M46 1h2M61 1h1M67 1h2M80 1h1M86 1h2M102 1h1M108 1h2M122 1h2M5 0h1M18 0h1M24 0h2M40 0h1M46 0h2M61 0h1M67 0h2M80 0h1M86 0h2M102 0h1M108 0h1M122 0h2"/>
</g></g>
<rect x="80.90" y="734.50" width="556.05" height="556.10" fill="#d85a10"/>
<g transform="translate(80.60 734.20) scale(4.38307 4.38346)" shape-rendering="crispEdges" fill="none" stroke-width="1.04">
<g transform="translate(0 .5)">
<path stroke="#005fff" d="M15 126h1M15 125h1M15 124h1M15 123h1M15 122h1M0 111h5M22 111h5M42 111h5M62 111h5M83 111h5M105 111h5M15 104h1M15 103h1M15 102h1M15 101h1M15 100h1M15 84h1M15 83h1M15 82h1M15 81h1M15 80h1M15 64h1M15 63h1M15 62h1M15 61h1M15 43h1M15 42h1M15 41h1M15 40h1M15 21h1M15 20h1M15 19h1M15 18h1"/>
<path stroke="#006eff" d="M22 116h1M22 115h1M10 104h2"/>
<path stroke="#007cff" d="M10 126h2M13 126h2M16 126h1M72 126h8M93 126h2M96 126h4M115 126h8M10 125h2M13 125h2M16 125h1M55 125h1M72 125h8M93 125h2M96 125h4M115 125h8M10 124h2M13 124h2M16 124h1M55 124h1M72 124h8M93 124h2M96 124h4M115 124h8M10 123h2M13 123h2M16 123h1M55 123h1M72 123h8M93 123h2M96 123h4M115 123h8M10 122h2M13 122h2M16 122h1M72 122h8M93 122h2M96 122h4M115 122h8M0 116h5M23 116h4M42 116h5M62 116h5M83 116h5M105 116h5M0 115h5M23 115h4M42 115h5M62 115h5M83 115h5M105 115h5M0 113h5M22 113h5M42 113h5M62 113h5M83 113h5M105 113h5M0 112h5M22 112h5M42 112h5M62 112h5M83 112h5M105 112h5M0 110h5M22 110h5M42 110h5M62 110h5M83 110h5M105 110h5M13 104h2M16 104h1M72 104h8M93 104h2M96 104h4M115 104h8M10 103h2M13 103h2M16 103h1M55 103h1M72 103h8M93 103h2M96 103h4M115 103h8M10 102h2M13 102h2M16 102h1M55 102h1M72 102h8M93 102h2M96 102h4M115 102h8M10 101h2M13 101h2M16 101h1M55 101h1M72 101h8M93 101h2M96 101h4M115 101h8M10 100h2M13 100h2M16 100h1M72 100h8M93 100h2M96 100h4M115 100h8M10 84h2M13 84h2M16 84h1M72 84h8M93 84h2M96 84h4M115 84h8M10 83h2M13 83h2M16 83h1M55 83h1M72 83h8M93 83h2M96 83h4M115 83h8M10 82h2M13 82h2M16 82h1M55 82h1M72 82h8M93 82h2M96 82h4M115 82h8M10 81h2M13 81h2M16 81h1M55 81h1M72 81h8M93 81h2M96 81h4M115 81h8M10 80h2M13 80h2M16 80h1M72 80h8M93 80h2M96 80h4M115 80h8M1 71h3M23 71h3M43 71h3M63 71h3M84 71h3M10 64h2M13 64h2M16 64h1M72 64h8M93 64h2M96 64h4M115 64h8M10 63h2M13 63h2M16 63h1M55 63h1M72 63h8M93 63h2M96 63h4M115 63h8M10 62h2M13 62h2M16 62h1M55 62h1M72 62h8M93 62h2M96 62h4M115 62h8M10 61h2M13 61h2M16 61h1M72 61h8M93 61h2M96 61h4M115 61h8M0 54h5M22 54h5M42 54h5M62 54h5M83 54h5M105 54h5M0 53h5M22 53h5M42 53h5M62 53h5M83 53h5M105 53h5M0 52h5M22 52h5M42 52h5M62 52h5M83 52h5M105 52h5M0 51h5M22 51h5M42 51h5M62 51h5M83 51h5M105 51h5M0 50h5M22 50h5M42 50h5M62 50h5M83 50h5M105 50h5M0 49h5M22 49h5M42 49h5M62 49h5M83 49h5M105 49h5M0 48h5M22 48h5M42 48h5M62 48h5M83 48h5M105 48h5M0 47h1M4 47h1M22 47h1M26 47h1M42 47h1M46 47h1M62 47h1M66 47h1M83 47h1M87 47h1M105 47h1M109 47h1M10 43h2M13 43h2M16 43h1M72 43h8M93 43h2M96 43h4M115 43h8M10 42h2M13 42h2M16 42h1M55 42h1M72 42h8M93 42h2M96 42h4M115 42h8M10 41h2M13 41h2M16 41h1M55 41h1M72 41h8M93 41h2M96 41h4M115 41h8M10 40h2M13 40h2M16 40h1M72 40h8M93 40h2M96 40h4M115 40h8M0 33h5M22 33h5M42 33h5M62 33h5M83 33h5M105 33h5M0 30h5M22 30h5M42 30h5M62 30h5M83 30h5M105 30h5M0 29h5M22 29h5M42 29h5M62 29h5M83 29h5M105 29h5M0 28h5M22 28h5M42 28h5M62 28h5M83 28h5M105 28h5M0 27h1M4 27h1M22 27h1M26 27h1M42 27h1M46 27h1M62 27h1M66 27h1M83 27h1M87 27h1M105 27h1M109 27h1M10 21h2M13 21h2M16 21h1M72 21h8M93 21h2M96 21h4M115 21h8M10 20h2M13 20h2M16 20h1M72 20h8M93 20h2M96 20h4M115 20h8M10 19h2M13 19h2M16 19h1M72 19h8M93 19h2M96 19h4M115 19h8M10 18h2M13 18h2M16 18h1M72 18h8M93 18h2M96 18h4M115 18h8M0 11h5M22 11h5M42 11h5M62 11h5M83 11h5M105 11h5M0 10h5M22 10h5M42 10h5M62 10h5M83 10h5M105 10h5M0 9h5M22 9h5M42 9h5M62 9h5M83 9h5M105 9h5M0 8h5M22 8h5M42 8h5M62 8h5M83 8h5M105 8h5M0 7h5M22 7h5M42 7h5M62 7h5M83 7h5M105 7h5M0 6h5M22 6h5M42 6h5M62 6h5M83 6h5M105 6h5M0 5h5M22 5h5M42 5h5M62 5h5M83 5h5M105 5h5"/>
<path stroke="#008aff" d="M55 126h1M80 126h1M100 126h1M80 125h1M100 125h1M80 124h1M100 124h1M80 123h1M100 123h1M55 122h1M80 122h1M100 122h1M19 111h1M33 111h1M102 111h1M15 107h1M55 104h1M80 104h1M100 104h1M80 103h1M100 103h1M80 102h1M100 102h1M80 101h1M100 101h1M55 100h1M80 100h1M100 100h1M15 93h1M55 84h1M80 84h1M100 84h1M80 83h1M100 83h1M80 82h1M100 82h1M80 81h1M100 81h1M55 80h1M80 80h1M100 80h1M0 71h1M4 71h1M22 71h1M26 71h1M42 71h1M46 71h1M62 71h1M66 71h1M83 71h1M87 71h1M106 71h3M55 64h1M80 64h1M100 64h1M80 63h1M100 63h1M80 62h1M100 62h1M55 61h1M80 61h1M100 61h1M1 47h3M23 47h3M43 47h3M63 47h3M84 47h3M106 47h3M55 43h1M80 43h1M100 43h1M80 42h1M100 42h1M80 41h1M100 41h1M55 40h1M80 40h1M100 40h1M1 27h3M23 27h3M43 27h3M63 27h3M84 27h3M106 27h3M55 21h1M80 21h1M100 21h1M55 20h1M80 20h1M100 20h1M55 19h1M80 19h1M100 19h1M55 18h1M80 18h1M100 18h1M0 4h5M22 4h5M42 4h5M62 4h5M83 4h5M105 4h5"/>
<path stroke="#0099ff" d="M56 126h1M123 126h1M123 125h1M123 124h1M123 123h1M56 122h1M123 122h1M10 119h2M15 119h1M7 116h1M112 116h1M7 115h1M112 115h1M7 111h1M29 111h1M36 111h1M49 111h1M53 111h1M69 111h1M90 111h1M112 111h1M126 111h1M56 104h1M123 104h1M56 103h1M123 103h1M56 102h1M123 102h1M56 101h1M123 101h1M56 100h1M123 100h1M15 97h1M15 90h1M56 84h1M123 84h1M56 83h1M123 83h1M56 82h1M123 82h1M56 81h1M123 81h1M56 80h1M123 80h1M15 77h1M15 73h1M105 71h1M109 71h1M0 70h1M4 70h1M22 70h5M42 70h5M62 70h5M83 70h5M105 70h5M15 65h1M56 64h1M123 64h1M56 63h1M123 63h1M56 62h1M123 62h1M56 61h1M123 61h1M15 60h1M15 44h1M56 43h1M123 43h1M56 42h1M123 42h1M56 41h1M123 41h1M56 40h1M123 40h1M15 39h1M56 21h1M123 21h1M56 20h1M123 20h1M56 19h1M123 19h1M56 18h1M123 18h1M15 0h1"/>
<path stroke="#06a8ff" d="M56 125h1M56 124h1M56 123h1M13 119h2M16 119h1M72 119h8M93 119h2M96 119h4M115 119h8M19 116h1M29 116h1M33 116h1M49 116h1M69 116h1M90 116h1M102 116h1M126 116h1M19 115h1M29 115h1M33 115h1M49 115h1M69 115h1M90 115h1M102 115h1M126 115h1M7 113h1M19 113h1M29 113h1M33 113h1M49 113h1M69 113h1M90 113h1M102 113h1M112 113h1M126 113h1M7 112h1M19 112h1M29 112h1M33 112h1M49 112h1M69 112h1M90 112h1M102 112h1M112 112h1M126 112h1M7 110h1M19 110h1M29 110h1M33 110h1M36 110h1M49 110h1M53 110h1M69 110h1M90 110h1M102 110h1M112 110h1M126 110h1M10 107h2M13 107h2M16 107h1M72 107h8M93 107h2M96 107h4M115 107h8M54 104h1M10 97h2M13 97h2M16 97h1M72 97h8M93 97h2M96 97h4M115 97h8M10 93h2M13 93h2M16 93h1M72 93h8M93 93h2M96 93h4M115 93h8M16 90h1M76 90h1M119 90h1M10 77h2M13 77h2M16 77h1M72 77h8M93 77h2M96 77h4M115 77h8M16 73h1M76 73h1M119 73h1M22 72h1M105 72h1M109 72h1M1 70h3M10 65h2M13 65h2M16 65h1M72 65h8M93 65h2M96 65h4M115 65h8M10 60h2M13 60h2M16 60h1M72 60h8M93 60h2M96 60h4M115 60h8M0 55h5M22 55h5M42 55h5M62 55h5M83 55h5M105 55h5M7 54h1M19 54h1M29 54h1M33 54h1M49 54h1M69 54h1M90 54h1M102 54h1M112 54h1M126 54h1M7 53h1M19 53h1M29 53h1M33 53h1M49 53h1M69 53h1M90 53h1M102 53h1M112 53h1M126 53h1M7 52h1M19 52h1M29 52h1M33 52h1M49 52h1M69 52h1M90 52h1M102 52h1M112 52h1M126 52h1M7 51h1M19 51h1M29 51h1M33 51h1M49 51h1M69 51h1M90 51h1M102 51h1M112 51h1M126 51h1M7 50h1M19 50h1M29 50h1M33 50h1M49 50h1M69 50h1M90 50h1M102 50h1M112 50h1M126 50h1M7 49h1M19 49h1M29 49h1M33 49h1M49 49h1M69 49h1M90 49h1M102 49h1M112 49h1M126 49h1M7 48h1M19 48h1M29 48h1M33 48h1M49 48h1M69 48h1M90 48h1M102 48h1M112 48h1M126 48h1M10 44h2M13 44h2M16 44h1M72 44h8M93 44h2M96 44h4M115 44h8M10 39h2M13 39h2M16 39h1M72 39h8M93 39h2M96 39h4M115 39h8M0 34h5M22 34h5M42 34h5M62 34h5M83 34h5M105 34h5M7 33h1M19 33h1M29 33h1M33 33h1M49 33h1M69 33h1M90 33h1M102 33h1M112 33h1M126 33h1M22 32h1M22 31h1M7 30h1M19 30h1M29 30h1M33 30h1M49 30h1M69 30h1M90 30h1M102 30h1M112 30h1M126 30h1M7 29h1M19 29h1M29 29h1M33 29h1M49 29h1M69 29h1M90 29h1M102 29h1M112 29h1M126 29h1M7 28h1M19 28h1M29 28h1M33 28h1M49 28h1M69 28h1M90 28h1M102 28h1M112 28h1M126 28h1M10 22h2M13 22h4M72 22h8M93 22h2M96 22h4M115 22h8M10 17h2M13 17h4M72 17h8M93 17h2M96 17h4M115 17h8M0 12h5M22 12h5M42 12h5M62 12h5M83 12h5M105 12h5M7 11h1M19 11h1M29 11h1M33 11h1M49 11h1M69 11h1M90 11h1M102 11h1M112 11h1M126 11h1M7 10h1M19 10h1M29 10h1M33 10h1M49 10h1M69 10h1M90 10h1M102 10h1M112 10h1M126 10h1M7 9h1M19 9h1M29 9h1M33 9h1M49 9h1M69 9h1M90 9h1M102 9h1M112 9h1M126 9h1M7 8h1M19 8h1M29 8h1M33 8h1M49 8h1M69 8h1M90 8h1M102 8h1M112 8h1M126 8h1M7 7h1M19 7h1M29 7h1M33 7h1M49 7h1M69 7h1M90 7h1M102 7h1M112 7h1M126 7h1M7 6h1M19 6h1M29 6h1M33 6h1M49 6h1M69 6h1M90 6h1M102 6h1M112 6h1M126 6h1M7 5h1M19 5h1M29 5h1M33 5h1M49 5h1M69 5h1M90 5h1M102 5h1M112 5h1M126 5h1M10 0h2M13 0h2M16 0h1M72 0h8M93 0h2M96 0h4M115 0h8"/>
<path stroke="#13b7ff" d="M17 126h1M54 126h1M17 125h1M54 125h1M17 124h1M54 124h1M17 123h1M54 123h1M17 122h1M54 122h1M80 119h1M100 119h1M36 116h1M53 116h1M36 115h1M53 115h1M36 113h1M53 113h1M36 112h1M53 112h1M0 109h5M22 109h5M42 109h5M62 109h5M83 109h5M105 109h5M55 107h1M17 104h1M17 103h1M54 103h1M17 102h1M54 102h1M17 101h1M54 101h1M17 100h1M54 100h1M80 97h1M100 97h1M39 93h1M55 93h1M10 90h2M13 90h2M39 90h1M55 90h1M72 90h4M77 90h3M93 90h2M96 90h4M115 90h4M120 90h3M33 87h1M36 87h1M17 84h1M54 84h1M17 83h1M54 83h1M17 82h1M54 82h1M17 81h1M54 81h1M17 80h1M54 80h1M80 77h1M100 77h1M10 73h2M13 73h2M55 73h1M72 73h4M77 73h3M93 73h2M96 73h4M115 73h4M120 73h3M0 72h5M23 72h4M42 72h5M62 72h5M83 72h5M106 72h3M19 71h1M33 71h1M36 71h1M53 71h1M102 71h1M17 64h1M54 64h1M17 63h1M54 63h1M17 62h1M54 62h1M17 61h1M54 61h1M15 58h1M36 54h1M53 54h1M36 53h1M53 53h1M36 52h1M53 52h1M36 51h1M53 51h1M36 50h1M53 50h1M36 49h1M53 49h1M36 48h1M53 48h1M7 47h1M19 47h1M29 47h1M33 47h1M49 47h1M69 47h1M90 47h1M102 47h1M112 47h1M126 47h1M17 43h1M54 43h1M17 42h1M54 42h1M17 41h1M54 41h1M17 40h1M54 40h1M15 37h1M36 33h1M53 33h1M0 32h5M23 32h4M42 32h5M62 32h5M83 32h5M105 32h5M0 31h5M23 31h4M42 31h5M62 31h5M83 31h5M105 31h5M36 30h1M53 30h1M36 29h1M53 29h1M36 28h1M53 28h1M7 27h1M19 27h1M29 27h1M33 27h1M49 27h1M69 27h1M90 27h1M102 27h1M112 27h1M126 27h1M15 25h1M17 21h1M54 21h1M17 20h1M54 20h1M17 19h1M54 19h1M17 18h1M54 18h1M10 15h2M15 15h1M36 11h1M53 11h1M36 10h1M53 10h1M36 9h1M53 9h1M36 8h1M53 8h1M36 7h1M53 7h1M36 6h1M53 6h1M36 5h1M53 5h1M7 4h1M29 4h1M49 4h1M69 4h1M90 4h1M112 4h1M126 4h1"/>
<path stroke="#20c6ff" d="M9 126h1M9 122h1M56 119h1M123 119h1M0 117h1M4 117h1M22 117h1M26 117h1M42 117h1M46 117h1M62 117h1M66 117h1M83 117h1M87 117h1M105 117h1M109 117h1M56 107h1M80 107h1M100 107h1M9 104h1M9 100h1M56 97h1M123 97h1M56 93h1M80 93h1M100 93h1M9 84h1M9 80h1M56 77h1M123 77h1M80 73h1M100 73h1M126 71h1M7 70h1M19 70h1M29 70h1M33 70h1M49 70h1M69 70h1M90 70h1M102 70h1M112 70h1M126 70h1M56 65h1M80 65h1M100 65h1M123 65h1M56 60h1M80 60h1M100 60h1M123 60h1M10 58h2M13 58h2M16 58h1M72 58h8M93 58h2M96 58h4M115 58h8M36 47h1M53 47h1M56 44h1M80 44h1M100 44h1M123 44h1M56 39h1M80 39h1M100 39h1M123 39h1M10 37h2M13 37h2M16 37h1M72 37h8M93 37h2M96 37h4M115 37h8M36 27h1M53 27h1M16 25h1M76 25h1M119 25h1M56 22h1M80 22h1M100 22h1M123 22h1M9 21h1M9 18h1M56 17h1M80 17h1M100 17h1M123 17h1M13 15h2M16 15h1M72 15h8M93 15h2M96 15h4M115 15h8M19 4h1M33 4h1M36 4h1M53 4h1M102 4h1M55 0h2M80 0h1M100 0h1M123 0h1"/>
<path stroke="#2dd5ff" d="M71 126h1M92 126h1M114 126h1M9 125h1M39 125h1M71 125h1M92 125h1M114 125h1M9 124h1M39 124h1M71 124h1M92 124h1M114 124h1M9 123h1M39 123h1M71 123h1M92 123h1M114 123h1M71 122h1M92 122h1M114 122h1M10 121h2M10 120h2M17 119h1M54 119h2M1 117h3M23 117h3M43 117h3M63 117h3M84 117h3M106 117h3M5 116h2M21 116h1M27 116h2M41 116h1M47 116h2M61 116h1M67 116h2M82 116h1M88 116h2M104 116h1M110 116h2M125 116h1M5 115h2M21 115h1M27 115h2M41 115h1M47 115h2M61 115h1M67 115h2M82 115h1M88 115h2M104 115h1M110 115h2M125 115h1M7 109h1M29 109h1M49 109h1M69 109h1M90 109h1M112 109h1M123 107h1M10 105h2M71 104h1M92 104h1M114 104h1M9 103h1M71 103h1M92 103h1M114 103h1M9 102h1M71 102h1M92 102h1M114 102h1M9 101h1M71 101h1M92 101h1M114 101h1M71 100h1M92 100h1M114 100h1M10 99h2M10 98h2M17 97h1M54 97h2M123 93h1M56 90h1M80 90h1M100 90h1M1 87h3M10 85h2M71 84h1M92 84h1M114 84h1M9 83h1M71 83h1M92 83h1M114 83h1M9 82h1M71 82h1M92 82h1M114 82h1M9 81h1M71 81h1M92 81h1M114 81h1M71 80h1M92 80h1M114 80h1M10 79h2M10 78h2M17 77h1M54 77h2M56 73h1M7 72h1M29 72h1M49 72h1M69 72h1M90 72h1M112 72h1M7 71h1M29 71h1M49 71h1M69 71h1M90 71h1M112 71h1M36 70h1M53 70h1M17 65h1M54 65h2M9 64h1M71 64h1M92 64h1M114 64h1M9 63h1M71 63h1M92 63h1M114 63h1M9 62h1M71 62h1M92 62h1M114 62h1M9 61h1M71 61h1M92 61h1M114 61h1M17 60h1M54 60h2M10 59h2M80 58h1M100 58h1M7 55h1M29 55h1M49 55h1M69 55h1M90 55h1M112 55h1M17 44h1M54 44h2M9 43h1M71 43h1M92 43h1M114 43h1M9 42h1M71 42h1M92 42h1M114 42h1M9 41h1M71 41h1M92 41h1M114 41h1M9 40h1M71 40h1M92 40h1M114 40h1M17 39h1M54 39h2M10 38h2M80 37h1M100 37h1M7 34h1M29 34h1M49 34h1M69 34h1M90 34h1M112 34h1M7 32h1M29 32h1M49 32h1M69 32h1M90 32h1M112 32h1M7 31h1M29 31h1M49 31h1M69 31h1M90 31h1M112 31h1M10 25h2M13 25h2M55 25h1M72 25h4M77 25h3M93 25h2M96 25h4M115 25h4M120 25h3M17 22h1M54 22h1M71 21h1M92 21h1M114 21h1M9 20h1M71 20h1M92 20h1M114 20h1M9 19h1M71 19h1M92 19h1M114 19h1M71 18h1M92 18h1M114 18h1M17 17h1M54 17h1M10 16h2M80 15h1M100 15h1M7 12h1M29 12h1M49 12h1M69 12h1M90 12h1M112 12h1M10 1h2"/>
<path stroke="#3ae4ff" d="M59 125h1M59 124h1M59 123h1M13 121h4M72 121h8M93 121h2M96 121h4M115 121h8M13 120h4M72 120h8M93 120h2M96 120h4M115 120h8M22 114h1M5 113h2M21 113h1M27 113h2M41 113h1M47 113h2M61 113h1M67 113h2M82 113h1M88 113h2M104 113h1M110 113h2M125 113h1M5 112h2M21 112h1M27 112h2M41 112h1M47 112h2M61 112h1M67 112h2M82 112h1M88 112h2M104 112h1M110 112h2M125 112h1M5 111h2M18 111h1M21 111h1M27 111h2M41 111h1M47 111h2M61 111h1M67 111h2M82 111h1M88 111h2M101 111h1M104 111h1M110 111h2M125 111h1M5 110h2M21 110h1M27 110h2M41 110h1M47 110h2M61 110h1M67 110h2M82 110h1M88 110h2M104 110h1M110 110h2M125 110h1M126 109h1M15 108h1M13 105h4M72 105h8M93 105h2M96 105h4M115 105h8M12 104h1M95 104h1M39 103h1M59 103h1M39 102h1M59 102h1M39 101h1M59 101h1M95 100h1M13 99h4M72 99h8M93 99h2M96 99h4M115 99h8M13 98h4M72 98h8M93 98h2M96 98h4M115 98h8M123 90h1M23 87h3M43 87h3M63 87h3M84 87h3M106 87h3M13 85h4M72 85h8M93 85h2M96 85h4M115 85h8M95 84h1M39 83h1M59 83h1M39 82h1M59 82h1M39 81h1M59 81h1M95 80h1M13 79h4M72 79h8M93 79h2M96 79h4M115 79h8M13 78h4M72 78h8M93 78h2M96 78h4M115 78h8M123 73h1M126 72h1M39 63h1M59 63h1M39 62h1M59 62h1M13 59h4M72 59h8M93 59h2M96 59h4M115 59h8M54 58h1M56 58h1M123 58h1M10 57h2M13 57h4M72 57h8M93 57h2M96 57h4M115 57h8M19 55h1M33 55h1M53 55h1M102 55h1M126 55h1M5 54h2M21 54h1M27 54h2M41 54h1M47 54h2M61 54h1M67 54h2M82 54h1M88 54h2M104 54h1M110 54h2M125 54h1M5 53h2M21 53h1M27 53h2M41 53h1M47 53h2M61 53h1M67 53h2M82 53h1M88 53h2M104 53h1M110 53h2M125 53h1M5 52h2M21 52h1M27 52h2M41 52h1M47 52h2M61 52h1M67 52h2M82 52h1M88 52h2M104 52h1M110 52h2M125 52h1M5 51h2M21 51h1M27 51h2M41 51h1M47 51h2M61 51h1M67 51h2M82 51h1M88 51h2M104 51h1M110 51h2M125 51h1M5 50h2M21 50h1M27 50h2M41 50h1M47 50h2M61 50h1M67 50h2M82 50h1M88 50h2M104 50h1M110 50h2M125 50h1M5 49h2M21 49h1M27 49h2M41 49h1M47 49h2M61 49h1M67 49h2M82 49h1M88 49h2M104 49h1M110 49h2M125 49h1M5 48h2M21 48h1M27 48h2M41 48h1M47 48h2M61 48h1M67 48h2M82 48h1M88 48h2M104 48h1M110 48h2M125 48h1M39 42h1M59 42h1M39 41h1M59 41h1M13 38h4M72 38h8M93 38h2M96 38h4M115 38h8M54 37h1M56 37h1M123 37h1M10 36h2M13 36h4M72 36h8M93 36h2M96 36h4M115 36h8M19 34h1M33 34h1M53 34h1M102 34h1M126 34h1M5 33h2M21 33h1M27 33h2M41 33h1M47 33h2M61 33h1M67 33h2M82 33h1M88 33h2M104 33h1M110 33h2M125 33h1M19 32h1M33 32h1M102 32h1M126 32h1M19 31h1M33 31h1M102 31h1M126 31h1M5 30h2M21 30h1M27 30h2M41 30h1M47 30h2M61 30h1M67 30h2M82 30h1M88 30h2M104 30h1M110 30h2M125 30h1M5 29h2M21 29h1M27 29h2M41 29h1M47 29h2M61 29h1M67 29h2M82 29h1M88 29h2M104 29h1M110 29h2M125 29h1M5 28h2M21 28h1M27 28h2M41 28h1M47 28h2M61 28h1M67 28h2M82 28h1M88 28h2M104 28h1M110 28h2M125 28h1M56 25h1M80 25h1M100 25h1M55 22h1M39 20h1M39 19h1M55 17h1M13 16h4M72 16h8M93 16h2M96 16h4M115 16h8M54 15h1M56 15h1M123 15h1M15 14h1M76 14h1M119 14h1M19 12h1M33 12h1M53 12h1M102 12h1M126 12h1M5 11h2M21 11h1M27 11h2M41 11h1M47 11h2M61 11h1M67 11h2M82 11h1M88 11h2M104 11h1M110 11h2M125 11h1M5 10h2M21 10h1M27 10h2M41 10h1M47 10h2M61 10h1M67 10h2M82 10h1M88 10h2M104 10h1M110 10h2M125 10h1M5 9h2M21 9h1M27 9h2M41 9h1M47 9h2M61 9h1M67 9h2M82 9h1M88 9h2M104 9h1M110 9h2M125 9h1M5 8h2M21 8h1M27 8h2M41 8h1M47 8h2M61 8h1M67 8h2M82 8h1M88 8h2M104 8h1M110 8h2M125 8h1M5 7h2M21 7h1M27 7h2M41 7h1M47 7h2M61 7h1M67 7h2M82 7h1M88 7h2M104 7h1M110 7h2M125 7h1M5 6h2M21 6h1M27 6h2M41 6h1M47 6h2M61 6h1M67 6h2M82 6h1M88 6h2M104 6h1M110 6h2M125 6h1M5 5h2M21 5h1M27 5h2M41 5h1M47 5h2M61 5h1M67 5h2M82 5h1M88 5h2M104 5h1M110 5h2M125 5h1M13 1h4M72 1h8M93 1h2M96 1h4M115 1h8M17 0h1M54 0h1"/>
<path stroke="#46f4ff" d="M12 126h1M39 126h1M59 126h1M95 126h1M12 125h1M95 125h1M12 124h1M95 124h1M12 123h1M95 123h1M12 122h1M39 122h1M59 122h1M95 122h1M56 121h1M80 121h1M100 121h1M123 121h1M54 120h1M56 120h1M80 120h1M100 120h1M123 120h1M9 119h1M7 117h1M29 117h1M49 117h1M69 117h1M90 117h1M112 117h1M18 116h1M101 116h1M18 115h1M101 115h1M0 114h5M23 114h4M42 114h5M62 114h5M83 114h5M105 114h5M18 113h1M101 113h1M18 112h1M101 112h1M35 111h1M18 110h1M35 110h1M101 110h1M19 109h1M33 109h1M102 109h1M10 108h2M13 108h2M16 108h1M72 108h8M93 108h2M96 108h4M115 108h8M17 107h1M54 107h1M56 105h1M80 105h1M100 105h1M123 105h1M12 103h1M95 103h1M12 102h1M95 102h1M12 101h1M95 101h1M12 100h1M39 100h1M59 100h1M56 99h1M80 99h1M100 99h1M123 99h1M56 98h1M80 98h1M100 98h1M123 98h1M9 97h1M33 95h1M36 95h1M17 93h1M31 93h1M54 93h1M15 91h2M76 91h1M119 91h1M31 90h1M0 87h1M4 87h1M26 87h1M42 87h1M46 87h1M62 87h1M66 87h1M83 87h1M87 87h1M56 85h1M80 85h1M100 85h1M123 85h1M12 84h1M39 84h1M59 84h1M12 83h1M95 83h1M12 82h1M95 82h1M12 81h1M95 81h1M12 80h1M39 80h1M59 80h1M56 79h1M80 79h1M100 79h1M123 79h1M56 78h1M80 78h1M100 78h1M123 78h1M9 77h1M6 72h1M19 72h1M33 72h1M102 72h1M5 70h2M21 70h1M27 70h2M41 70h1M47 70h2M61 70h1M67 70h2M82 70h1M88 70h2M104 70h1M110 70h2M125 70h1M9 65h1M12 64h1M39 64h1M59 64h1M95 64h1M12 63h1M95 63h1M12 62h1M95 62h1M12 61h1M39 61h1M59 61h1M95 61h1M9 60h1M56 59h1M80 59h1M100 59h1M123 59h1M17 58h1M36 55h1M18 54h1M101 54h1M18 53h1M101 53h1M18 52h1M101 52h1M18 51h1M101 51h1M18 50h1M101 50h1M18 49h1M101 49h1M18 48h1M101 48h1M5 47h2M21 47h1M27 47h2M41 47h1M47 47h2M61 47h1M67 47h2M82 47h1M88 47h2M104 47h1M110 47h2M125 47h1M9 44h1M12 43h1M39 43h1M59 43h1M95 43h1M12 42h1M95 42h1M12 41h1M95 41h1M12 40h1M39 40h1M59 40h1M95 40h1M9 39h1M56 38h1M80 38h1M100 38h1M123 38h1M17 37h1M36 34h1M18 33h1M101 33h1M36 32h1M53 32h1M36 31h1M53 31h1M18 30h1M101 30h1M18 29h1M101 29h1M18 28h1M101 28h1M5 27h2M21 27h1M27 27h2M41 27h1M47 27h2M61 27h1M67 27h2M82 27h1M88 27h2M104 27h1M110 27h2M125 27h1M123 25h1M15 24h2M76 24h1M119 24h1M9 22h1M12 21h1M39 21h1M59 21h1M95 21h1M12 20h1M59 20h1M95 20h1M12 19h1M59 19h1M95 19h1M12 18h1M39 18h1M59 18h1M95 18h1M9 17h1M56 16h1M80 16h1M100 16h1M123 16h1M17 15h1M10 14h2M13 14h2M16 14h1M72 14h4M77 14h3M93 14h2M96 14h4M115 14h4M120 14h3M36 12h1M18 11h1M101 11h1M18 10h1M101 10h1M18 9h1M101 9h1M18 8h1M101 8h1M18 7h1M101 7h1M18 6h1M101 6h1M18 5h1M101 5h1M5 4h2M21 4h1M27 4h2M41 4h1M47 4h2M61 4h1M67 4h2M82 4h1M88 4h2M104 4h1M110 4h2M125 4h1M56 1h1M80 1h1M100 1h1M123 1h1"/>
<path stroke="#53fffc" d="M57 125h1M57 124h1M57 123h1M17 121h1M54 121h1M17 120h1M126 117h1M35 116h1M35 115h1M35 113h1M35 112h1M5 109h2M21 109h1M27 109h2M36 109h1M41 109h1M47 109h2M53 109h1M61 109h1M67 109h2M82 109h1M88 109h2M104 109h1M110 109h2M125 109h1M55 108h2M80 108h1M100 108h1M39 107h1M17 105h1M54 105h1M39 104h1M59 104h1M57 103h1M57 102h1M57 101h1M17 99h1M54 99h1M17 98h1M54 98h1M10 91h2M13 91h2M72 91h4M77 91h3M93 91h2M96 91h4M115 91h4M120 91h3M17 90h1M54 90h1M19 87h1M22 87h1M53 87h1M102 87h1M105 87h1M109 87h1M17 85h1M54 85h1M57 83h1M57 82h1M57 81h1M17 79h1M54 79h1M17 78h1M54 78h1M17 73h1M39 73h1M54 73h1M5 72h1M21 72h1M27 72h2M36 72h1M41 72h1M47 72h2M53 72h1M61 72h1M67 72h2M82 72h1M88 72h2M104 72h1M110 72h2M125 72h1M18 71h1M101 71h1M18 70h1M101 70h1M57 63h1M57 62h1M17 59h1M54 59h1M9 58h1M55 58h1M56 57h1M80 57h1M100 57h1M123 57h1M35 54h1M35 53h1M35 52h1M35 51h1M35 50h1M35 49h1M35 48h1M18 47h1M35 47h1M101 47h1M57 42h1M57 41h1M17 38h1M54 38h1M9 37h1M55 37h1M56 36h1M80 36h1M100 36h1M123 36h1M35 33h1M5 32h2M21 32h1M27 32h2M41 32h1M47 32h2M61 32h1M67 32h2M82 32h1M88 32h2M104 32h1M110 32h2M125 32h1M5 31h2M21 31h1M27 31h2M41 31h1M47 31h2M61 31h1M67 31h2M82 31h1M88 31h2M104 31h1M110 31h2M125 31h1M35 30h1M35 29h1M35 28h1M18 27h1M35 27h1M101 27h1M10 24h2M13 24h2M72 24h4M77 24h3M93 24h2M96 24h4M115 24h4M120 24h3M17 16h1M54 16h1M9 15h1M55 15h1M56 14h1M35 11h1M35 10h1M35 9h1M35 8h1M35 7h1M35 6h1M35 5h1M18 4h1M101 4h1M17 1h1M54 1h1M9 0h1"/>
<path stroke="#61feee" d="M38 125h1M51 125h1M38 124h1M51 124h1M38 123h1M51 123h1M9 121h1M9 120h1M12 119h1M71 119h1M92 119h1M95 119h1M114 119h1M5 117h2M19 117h1M21 117h1M27 117h2M33 117h1M41 117h1M47 117h2M61 117h1M67 117h2M82 117h1M88 117h2M102 117h1M104 117h1M110 117h2M125 117h1M7 114h1M29 114h1M49 114h1M69 114h1M90 114h1M112 114h1M126 114h1M123 108h1M9 107h1M59 107h1M71 107h1M92 107h1M114 107h1M9 105h1M51 103h1M51 102h1M51 101h1M9 99h1M9 98h1M12 97h1M71 97h1M92 97h1M95 97h1M114 97h1M9 93h1M59 93h1M71 93h1M92 93h1M114 93h1M56 91h1M80 91h1M100 91h1M123 91h1M1 88h3M9 85h1M51 83h1M51 82h1M51 81h1M9 79h1M9 78h1M12 77h1M71 77h1M92 77h1M95 77h1M114 77h1M1 75h3M23 75h3M43 75h3M63 75h3M84 75h3M59 73h1M35 70h1M1 69h3M23 69h3M43 69h3M63 69h3M84 69h3M1 68h3M23 68h3M43 68h3M63 68h3M84 68h3M10 66h2M13 66h4M72 66h8M93 66h2M96 66h4M115 66h8M12 65h1M71 65h1M92 65h1M95 65h1M114 65h1M57 64h1M51 63h1M51 62h1M57 61h1M12 60h1M71 60h1M92 60h1M95 60h1M114 60h1M9 59h1M17 57h1M54 57h1M5 55h2M21 55h1M27 55h2M41 55h1M47 55h2M61 55h1M67 55h2M82 55h1M88 55h2M104 55h1M110 55h2M125 55h1M10 45h2M13 45h4M72 45h8M93 45h2M96 45h4M115 45h8M12 44h1M71 44h1M92 44h1M95 44h1M114 44h1M57 43h1M51 42h1M51 41h1M57 40h1M12 39h1M71 39h1M92 39h1M95 39h1M114 39h1M9 38h1M17 36h1M54 36h1M5 34h2M21 34h1M27 34h2M41 34h1M47 34h2M61 34h1M67 34h2M82 34h1M88 34h2M104 34h1M110 34h2M125 34h1M17 25h1M54 25h1M56 24h1M80 24h1M100 24h1M10 23h2M16 23h1M76 23h1M119 23h1M12 22h1M71 22h1M92 22h1M95 22h1M114 22h1M57 20h1M57 19h1M12 17h1M71 17h1M92 17h1M95 17h1M114 17h1M9 16h1M54 14h1M80 14h1M100 14h1M123 14h1M5 12h2M21 12h1M27 12h2M41 12h1M47 12h2M61 12h1M67 12h2M82 12h1M88 12h2M104 12h1M110 12h2M125 12h1M35 4h1M9 1h1M12 0h1M71 0h1M92 0h1M95 0h1M114 0h1"/>
<path stroke="#6ffce0" d="M57 126h1M57 122h1M12 120h1M95 120h1M16 118h1M76 118h1M119 118h1M36 117h1M53 117h1M30 116h1M50 116h1M70 116h1M91 116h1M30 115h1M50 115h1M70 115h1M91 115h1M6 114h1M19 114h1M33 114h1M102 114h1M8 110h1M30 110h1M50 110h1M70 110h1M91 110h1M18 109h1M101 109h1M17 108h1M54 108h1M12 107h1M95 107h1M38 103h1M38 102h1M38 101h1M57 100h1M10 96h2M16 96h1M76 96h1M119 96h1M12 93h1M95 93h1M54 91h2M9 90h1M59 90h1M71 90h1M92 90h1M114 90h1M23 88h3M43 88h3M53 88h1M63 88h3M84 88h3M106 88h3M57 84h1M38 83h1M38 82h1M38 81h1M57 80h1M10 76h2M16 76h1M76 76h1M119 76h1M106 75h3M9 73h1M38 73h1M57 73h1M71 73h1M92 73h1M114 73h1M18 72h1M35 72h1M101 72h1M35 71h1M106 69h3M106 68h3M54 66h1M56 66h1M80 66h1M100 66h1M123 66h1M51 64h1M38 63h1M38 62h1M51 61h1M12 58h1M71 58h1M92 58h1M95 58h1M114 58h1M55 57h1M18 55h1M35 55h1M101 55h1M54 45h1M56 45h1M80 45h1M100 45h1M123 45h1M51 43h1M38 42h1M38 41h1M51 40h1M12 37h1M71 37h1M92 37h1M95 37h1M114 37h1M55 36h1M18 34h1M35 34h1M101 34h1M18 32h1M35 32h1M101 32h1M18 31h1M35 31h1M101 31h1M9 25h1M39 25h1M55 24h1M123 24h1M13 23h3M56 23h1M72 23h4M77 23h3M93 23h2M96 23h4M115 23h4M120 23h3M57 21h1M38 20h1M51 20h1M38 19h1M51 19h1M57 18h1M12 15h1M71 15h1M92 15h1M95 15h1M114 15h1M17 14h1M18 12h1M35 12h1M101 12h1"/>
<path stroke="#7cfbd3" d="M34 126h1M51 126h1M31 125h1M34 125h1M31 124h1M34 124h1M31 123h1M34 123h1M34 122h1M51 122h1M12 121h1M55 121h1M95 121h1M55 120h1M10 118h2M13 118h3M72 118h4M77 118h3M93 118h2M96 118h4M115 118h4M120 118h3M8 116h1M8 115h1M5 114h1M21 114h1M27 114h2M36 114h1M41 114h1M47 114h2M53 114h1M61 114h1M67 114h2M82 114h1M88 114h2M104 114h1M110 114h2M125 114h1M8 113h1M30 113h1M50 113h1M70 113h1M91 113h1M8 112h1M30 112h1M50 112h1M70 112h1M91 112h1M8 111h1M30 111h1M50 111h1M70 111h1M91 111h1M113 110h1M35 109h1M39 108h1M38 107h1M57 107h1M12 105h1M55 105h1M95 105h1M34 104h1M57 104h1M31 103h1M34 103h1M31 102h1M34 102h1M31 101h1M34 101h1M34 100h1M51 100h1M12 99h1M55 99h1M95 99h1M12 98h1M55 98h1M95 98h1M59 97h1M13 96h3M56 96h1M72 96h4M77 96h3M93 96h2M96 96h4M115 96h4M120 96h3M1 95h3M23 95h3M43 95h3M63 95h3M84 95h3M106 95h3M57 93h1M0 92h5M22 92h5M42 92h5M62 92h5M83 92h5M105 92h5M17 91h1M12 90h1M57 90h1M95 90h1M19 88h1M102 88h1M18 87h1M101 87h1M126 87h1M12 85h1M55 85h1M95 85h1M34 84h1M51 84h1M31 83h1M34 83h1M31 82h1M34 82h1M31 81h1M34 81h1M34 80h1M51 80h1M12 79h1M55 79h1M95 79h1M12 78h1M55 78h1M95 78h1M59 77h1M13 76h3M56 76h1M72 76h4M77 76h3M93 76h2M96 76h4M115 76h4M120 76h3M0 75h1M4 75h1M26 75h1M42 75h1M46 75h1M62 75h1M66 75h1M83 75h1M87 75h1M12 73h1M95 73h1M5 71h2M21 71h1M27 71h2M41 71h1M47 71h2M61 71h1M67 71h2M82 71h1M88 71h2M104 71h1M110 71h2M125 71h1M30 70h1M50 70h1M70 70h1M91 70h1M0 69h1M4 69h1M26 69h1M42 69h1M46 69h1M53 69h1M62 69h1M66 69h1M83 69h1M87 69h1M0 68h1M4 68h1M26 68h1M42 68h1M46 68h1M53 68h1M62 68h1M66 68h1M83 68h1M87 68h1M17 66h1M34 64h1M38 64h1M31 63h1M34 63h1M31 62h1M34 62h1M34 61h1M38 61h1M12 59h1M55 59h1M95 59h1M9 57h1M12 57h1M8 54h1M30 54h1M50 54h1M70 54h1M91 54h1M8 53h1M30 53h1M50 53h1M70 53h1M91 53h1M8 52h1M30 52h1M50 52h1M70 52h1M91 52h1M8 51h1M30 51h1M50 51h1M70 51h1M91 51h1M8 50h1M30 50h1M50 50h1M70 50h1M91 50h1M8 49h1M30 49h1M50 49h1M70 49h1M91 49h1M8 48h1M30 48h1M50 48h1M70 48h1M91 48h1M1 46h3M23 46h3M43 46h3M63 46h3M84 46h3M106 46h3M17 45h1M34 43h1M38 43h1M31 42h1M34 42h1M31 41h1M34 41h1M34 40h1M38 40h1M12 38h1M55 38h1M95 38h1M9 36h1M12 36h1M8 33h1M30 33h1M50 33h1M70 33h1M91 33h1M8 30h1M30 30h1M50 30h1M70 30h1M91 30h1M8 29h1M30 29h1M50 29h1M70 29h1M91 29h1M8 28h1M30 28h1M50 28h1M70 28h1M91 28h1M12 25h1M59 25h1M71 25h1M92 25h1M95 25h1M114 25h1M17 24h1M54 24h1M54 23h1M80 23h1M100 23h1M123 23h1M34 22h1M34 21h1M51 21h1M31 20h1M34 20h1M31 19h1M34 19h1M34 18h1M51 18h1M34 17h1M12 16h1M55 16h1M95 16h1M9 14h1M55 14h1M8 11h1M30 11h1M50 11h1M70 11h1M91 11h1M8 10h1M30 10h1M50 10h1M70 10h1M91 10h1M8 9h1M30 9h1M50 9h1M70 9h1M91 9h1M8 8h1M30 8h1M50 8h1M70 8h1M91 8h1M8 7h1M30 7h1M50 7h1M70 7h1M91 7h1M8 6h1M30 6h1M50 6h1M70 6h1M91 6h1M8 5h1M30 5h1M50 5h1M70 5h1M91 5h1M1 3h3M23 3h3M43 3h3M63 3h3M84 3h3M12 1h1M55 1h1M95 1h1M39 0h1M59 0h1"/>
<path stroke="#8afac5" d="M31 126h1M38 126h1M58 125h1M58 124h1M58 123h1M31 122h1M38 122h1M34 121h1M71 121h1M92 121h1M114 121h1M34 120h1M71 120h1M92 120h1M114 120h1M34 119h1M39 119h1M59 119h1M54 118h1M56 118h1M80 118h1M100 118h1M18 117h1M35 117h1M101 117h1M20 116h1M40 116h1M60 116h1M81 116h1M113 116h1M20 115h1M40 115h1M60 115h1M81 115h1M113 115h1M18 114h1M35 114h1M101 114h1M20 113h1M60 113h1M81 113h1M113 113h1M20 112h1M60 112h1M81 112h1M113 112h1M20 111h1M60 111h1M81 111h1M113 111h1M20 110h1M40 110h1M60 110h1M81 110h1M9 108h1M12 108h1M59 108h1M71 108h1M92 108h1M95 108h1M114 108h1M51 107h1M10 106h2M13 106h4M72 106h8M93 106h2M96 106h4M115 106h8M34 105h1M71 105h1M92 105h1M114 105h1M51 104h1M58 103h1M58 102h1M58 101h1M38 100h1M34 99h1M71 99h1M92 99h1M114 99h1M34 98h1M71 98h1M92 98h1M114 98h1M34 97h1M39 97h1M54 96h1M80 96h1M100 96h1M123 96h1M0 95h1M4 95h1M39 94h1M37 93h2M51 93h1M5 92h3M21 92h1M27 92h3M41 92h1M47 92h3M61 92h1M67 92h3M82 92h1M88 92h3M104 92h1M110 92h3M125 92h1M9 91h1M12 91h1M39 91h1M33 89h1M0 88h1M4 88h1M26 88h1M33 88h1M42 88h1M46 88h1M62 88h1M66 88h1M83 88h1M87 88h1M7 87h1M29 87h1M32 87h1M35 87h1M49 87h1M69 87h1M90 87h1M112 87h1M10 86h2M16 86h1M76 86h1M119 86h1M34 85h1M71 85h1M92 85h1M114 85h1M38 84h1M58 83h1M58 82h1M58 81h1M38 80h1M34 79h1M71 79h1M92 79h1M114 79h1M34 78h1M71 78h1M92 78h1M114 78h1M34 77h1M39 77h1M54 76h1M80 76h1M100 76h1M123 76h1M19 75h1M22 75h1M33 75h1M53 75h1M102 75h1M105 75h1M109 75h1M51 73h1M8 72h1M30 72h1M50 72h1M70 72h1M91 72h1M8 70h1M19 69h1M22 69h1M33 69h1M36 69h1M102 69h1M19 68h1M22 68h1M33 68h1M36 68h1M102 68h1M105 68h1M109 68h1M9 66h1M34 65h1M39 65h1M59 65h1M31 64h1M58 63h1M58 62h1M31 61h1M34 60h1M39 60h1M59 60h1M34 59h1M71 59h1M92 59h1M114 59h1M34 58h1M95 57h1M20 54h1M60 54h1M81 54h1M113 54h1M20 53h1M60 53h1M81 53h1M113 53h1M20 52h1M60 52h1M81 52h1M113 52h1M20 51h1M60 51h1M81 51h1M113 51h1M20 50h1M60 50h1M81 50h1M113 50h1M20 49h1M60 49h1M81 49h1M113 49h1M20 48h1M60 48h1M81 48h1M113 48h1M8 47h1M30 47h1M50 47h1M70 47h1M91 47h1M9 45h1M34 44h1M39 44h1M59 44h1M31 43h1M58 42h1M58 41h1M31 40h1M34 39h1M39 39h1M59 39h1M34 38h1M71 38h1M92 38h1M114 38h1M34 37h1M95 36h1M20 33h1M60 33h1M81 33h1M113 33h1M20 30h1M60 30h1M81 30h1M113 30h1M20 29h1M60 29h1M81 29h1M113 29h1M20 28h1M60 28h1M81 28h1M113 28h1M8 27h1M30 27h1M50 27h1M70 27h1M91 27h1M38 25h1M57 25h1M17 23h1M59 22h1M38 21h1M38 18h1M59 17h1M34 16h1M71 16h1M92 16h1M114 16h1M34 15h1M12 14h1M95 14h1M20 11h1M60 11h1M81 11h1M113 11h1M20 10h1M60 10h1M81 10h1M113 10h1M20 9h1M60 9h1M81 9h1M113 9h1M20 8h1M60 8h1M81 8h1M113 8h1M20 7h1M60 7h1M81 7h1M113 7h1M20 6h1M60 6h1M81 6h1M113 6h1M20 5h1M60 5h1M81 5h1M113 5h1M8 4h1M30 4h1M50 4h1M70 4h1M91 4h1M106 3h3M34 1h1M71 1h1M92 1h1M114 1h1"/>
<path stroke="#97f9b8" d="M37 125h1M37 124h1M37 123h1M17 118h1M123 118h1M103 116h1M124 116h1M103 115h1M124 115h1M40 113h1M40 112h1M40 111h1M32 110h1M103 110h1M124 110h1M8 109h1M30 109h1M50 109h1M70 109h1M91 109h1M38 108h1M57 108h1M54 106h1M56 106h1M31 104h1M38 104h1M37 103h1M37 102h1M37 101h1M31 100h1M17 96h1M22 95h1M26 95h1M42 95h1M46 95h1M62 95h1M66 95h1M83 95h1M87 95h1M16 94h1M38 94h1M76 94h1M119 94h1M126 92h1M71 91h1M92 91h1M95 91h1M114 91h1M38 90h1M51 90h1M1 89h3M23 89h3M43 89h3M63 89h3M84 89h3M18 88h1M22 88h1M32 88h1M36 88h1M101 88h1M13 86h3M56 86h1M72 86h4M77 86h3M93 86h2M96 86h4M115 86h4M120 86h3M31 84h1M37 83h1M37 82h1M37 81h1M31 80h1M17 76h1M36 75h1M20 72h1M60 72h1M81 72h1M20 70h1M40 70h1M60 70h1M81 70h1M113 70h1M105 69h1M109 69h1M12 66h1M95 66h1M58 64h1M37 63h1M37 62h1M58 61h1M34 57h1M71 57h1M92 57h1M114 57h1M40 54h1M40 53h1M40 52h1M40 51h1M103 51h1M124 51h1M40 50h1M103 50h1M124 50h1M40 49h1M40 48h1M20 47h1M60 47h1M81 47h1M113 47h1M0 46h1M4 46h1M19 46h1M22 46h1M26 46h1M33 46h1M42 46h1M46 46h1M53 46h1M62 46h1M66 46h1M83 46h1M87 46h1M102 46h1M12 45h1M95 45h1M58 43h1M37 42h1M37 41h1M58 40h1M34 36h1M71 36h1M92 36h1M114 36h1M40 33h1M8 32h1M30 32h1M50 32h1M70 32h1M91 32h1M8 31h1M30 31h1M50 31h1M70 31h1M91 31h1M40 30h1M40 29h1M40 28h1M20 27h1M60 27h1M81 27h1M113 27h1M51 25h1M9 24h1M12 24h1M95 24h1M9 23h1M12 23h1M39 22h1M31 21h1M58 20h1M58 19h1M31 18h1M39 17h1M40 11h1M40 10h1M40 9h1M40 8h1M103 8h1M124 8h1M40 7h1M103 7h1M124 7h1M40 6h1M40 5h1M20 4h1M60 4h1M81 4h1M113 4h1M0 3h1M4 3h1M22 3h1M26 3h1M42 3h1M46 3h1M62 3h1M66 3h1M83 3h1M87 3h1M10 2h2M16 2h1M76 2h1M119 2h1M34 0h1"/>
<path stroke="#a5f8aa" d="M58 126h1M58 122h1M9 118h1M12 118h1M8 117h1M30 117h1M50 117h1M70 117h1M91 117h1M8 114h1M30 114h1M50 114h1M70 114h1M91 114h1M103 113h1M124 113h1M103 112h1M124 112h1M32 111h1M103 111h1M124 111h1M20 109h1M60 109h1M81 109h1M34 108h1M51 108h1M31 107h1M34 107h1M17 106h1M80 106h1M100 106h1M123 106h1M9 96h1M12 96h1M19 95h1M53 95h1M102 95h1M105 95h1M109 95h1M15 94h1M34 93h1M18 92h2M33 92h1M36 92h1M38 92h1M53 92h1M101 92h2M59 91h1M34 90h1M37 90h1M36 89h1M53 89h1M106 89h3M34 88h1M105 88h1M109 88h1M54 86h1M80 86h1M100 86h1M123 86h1M9 76h1M12 76h1M18 75h1M101 75h1M76 74h1M119 74h1M31 73h1M34 73h1M37 73h1M58 73h1M40 72h1M113 72h1M103 70h1M124 70h1M18 69h1M101 69h1M18 68h1M101 68h1M1 67h3M23 67h3M43 67h3M63 67h3M84 67h3M34 66h1M55 66h1M37 64h1M37 61h1M39 58h1M59 58h1M1 56h3M8 55h1M30 55h1M50 55h1M70 55h1M91 55h1M103 54h1M124 54h1M103 53h1M124 53h1M103 52h1M124 52h1M32 51h1M32 50h1M103 49h1M124 49h1M103 48h1M124 48h1M40 47h1M103 47h1M124 47h1M18 46h1M36 46h1M101 46h1M105 46h1M109 46h1M34 45h1M55 45h1M37 43h1M37 40h1M39 37h1M59 37h1M1 35h3M8 34h1M30 34h1M50 34h1M70 34h1M91 34h1M103 33h1M124 33h1M20 32h1M40 32h1M60 32h1M81 32h1M113 32h1M20 31h1M40 31h1M60 31h1M81 31h1M113 31h1M103 30h1M124 30h1M103 29h1M124 29h1M103 28h1M124 28h1M40 27h1M103 27h1M124 27h1M0 26h5M22 26h5M42 26h5M62 26h5M83 26h5M105 26h5M34 25h1M71 24h1M92 24h1M114 24h1M34 23h1M55 23h1M95 23h1M58 21h1M37 20h1M37 19h1M58 18h1M59 15h1M34 14h1M71 14h1M92 14h1M114 14h1M1 13h3M8 12h1M30 12h1M50 12h1M70 12h1M91 12h1M103 11h1M124 11h1M103 10h1M124 10h1M103 9h1M124 9h1M32 8h1M32 7h1M103 6h1M124 6h1M103 5h1M124 5h1M40 4h1M103 4h1M124 4h1M19 3h1M33 3h1M36 3h1M53 3h1M102 3h1M105 3h1M109 3h1M13 2h3M56 2h1M72 2h4M77 2h3M93 2h2M96 2h4M115 2h4M120 2h3M57 0h1"/>
<path stroke="#b3f99c" d="M37 126h1M37 122h1M34 118h1M55 118h1M95 118h1M20 117h1M60 117h1M81 117h1M32 116h1M32 115h1M20 114h1M40 114h1M60 114h1M81 114h1M32 113h1M32 112h1M52 111h1M52 110h1M40 109h1M103 109h1M113 109h1M31 108h1M37 108h1M58 108h1M37 107h1M58 107h1M9 106h1M12 106h1M34 106h1M95 106h1M58 104h1M37 100h1M58 100h1M51 97h1M57 97h1M34 96h1M95 96h1M18 95h1M101 95h1M10 94h2M13 94h2M56 94h1M72 94h4M77 94h3M93 94h2M96 94h4M115 94h4M120 94h3M58 93h1M8 92h1M20 92h1M30 92h1M40 92h1M50 92h1M60 92h1M70 92h1M81 92h1M91 92h1M58 90h1M0 89h1M4 89h1M18 89h2M26 89h1M42 89h1M46 89h1M62 89h1M66 89h1M83 89h1M87 89h1M101 89h2M12 86h1M17 86h1M34 86h1M37 84h1M58 84h1M37 80h1M58 80h1M51 77h1M57 77h1M34 76h1M95 76h1M29 75h1M49 75h1M69 75h1M90 75h1M126 75h1M15 74h2M103 72h1M124 72h1M8 71h1M32 70h1M29 69h1M49 69h1M69 69h1M90 69h1M126 69h1M29 68h1M49 68h1M69 68h1M90 68h1M126 68h1M53 67h1M106 67h3M71 66h1M92 66h1M114 66h1M57 65h1M57 60h1M59 57h1M23 56h3M43 56h3M63 56h3M84 56h3M106 56h3M20 55h1M60 55h1M81 55h1M113 55h1M32 54h1M32 53h1M32 52h1M32 49h1M32 48h1M71 45h1M92 45h1M114 45h1M57 44h1M57 39h1M59 36h1M23 35h3M43 35h3M63 35h3M84 35h3M106 35h3M20 34h1M60 34h1M81 34h1M113 34h1M32 33h1M103 32h1M124 32h1M103 31h1M124 31h1M32 30h1M32 29h1M32 28h1M6 26h2M29 26h1M49 26h1M69 26h1M90 26h1M112 26h1M31 25h1M37 25h1M58 25h1M34 24h1M39 24h1M59 24h1M37 21h1M37 18h1M39 15h1M23 13h3M43 13h3M63 13h3M84 13h3M106 13h3M20 12h1M60 12h1M81 12h1M113 12h1M32 11h1M32 10h1M32 9h1M32 6h1M32 5h1M18 3h1M101 3h1M54 2h1M80 2h1M100 2h1M123 2h1M51 0h1"/>
<path stroke="#c2fa8d" d="M59 121h1M59 120h1M51 119h1M57 119h1M40 117h1M103 117h1M113 117h1M103 114h1M113 114h1M124 114h1M124 109h1M59 105h1M37 104h1M59 99h1M59 98h1M31 97h1M38 97h1M55 96h1M29 95h1M49 95h1M69 95h1M90 95h1M55 94h1M80 94h1M100 94h1M37 92h1M103 92h1M113 92h1M124 92h1M57 91h1M22 89h1M34 89h1M29 88h1M49 88h1M69 88h1M90 88h1M126 88h1M9 86h1M95 86h1M59 85h1M59 79h1M59 78h1M31 77h1M38 77h1M55 76h1M7 75h1M112 75h1M56 74h1M30 71h1M32 71h1M50 71h1M70 71h1M91 71h1M52 70h1M7 69h1M35 69h1M112 69h1M7 68h1M35 68h1M112 68h1M0 67h1M4 67h1M18 67h2M33 67h1M36 67h1M101 67h2M51 65h1M51 60h1M59 59h1M39 57h1M0 56h1M4 56h1M40 55h1M103 55h1M52 51h1M52 50h1M32 47h1M29 46h1M49 46h1M69 46h1M90 46h1M126 46h1M51 44h1M51 39h1M59 38h1M39 36h1M0 35h1M4 35h1M40 34h1M103 34h1M32 27h1M5 26h1M19 26h1M21 26h1M27 26h2M33 26h1M41 26h1M47 26h2M61 26h1M67 26h2M82 26h1M88 26h2M102 26h1M104 26h1M110 26h2M125 26h2M71 23h1M92 23h1M114 23h1M51 22h1M57 22h1M51 17h1M57 17h1M59 16h1M59 14h1M0 13h1M4 13h1M40 12h1M103 12h1M52 8h1M52 7h1M32 4h1M29 3h1M49 3h1M69 3h1M90 3h1M126 3h1M12 2h1M17 2h1M34 2h1M59 1h1M38 0h1"/>
<path stroke="#d0fb7f" d="M39 121h1M39 120h1M31 119h1M71 118h1M92 118h1M114 118h1M124 117h1M52 116h1M52 115h1M52 113h1M52 112h1M55 106h1M39 105h1M39 99h1M39 98h1M71 96h1M92 96h1M114 96h1M7 95h1M112 95h1M126 95h1M123 94h1M51 91h1M105 89h1M109 89h1M52 88h1M5 87h2M21 87h1M27 87h2M41 87h1M47 87h2M61 87h1M67 87h2M82 87h1M88 87h2M104 87h1M110 87h2M125 87h1M39 85h1M39 79h1M39 78h1M71 76h1M92 76h1M114 76h1M35 75h1M10 74h2M13 74h2M38 74h1M55 74h1M72 74h4M77 74h3M93 74h2M96 74h4M115 74h4M120 74h3M20 71h1M52 71h1M60 71h1M81 71h1M113 71h1M22 67h1M26 67h1M42 67h1M46 67h1M62 67h1M66 67h1M83 67h1M87 67h1M31 65h1M38 65h1M31 60h1M38 60h1M39 59h1M57 58h1M18 56h2M22 56h1M26 56h1M33 56h1M42 56h1M46 56h1M53 56h1M62 56h1M66 56h1M83 56h1M87 56h1M101 56h2M124 55h1M52 54h1M52 53h1M52 52h1M52 49h1M52 48h1M52 47h1M7 46h1M35 46h1M112 46h1M31 44h1M38 44h1M31 39h1M38 39h1M39 38h1M57 37h1M18 35h2M22 35h1M26 35h1M33 35h1M42 35h1M46 35h1M53 35h1M62 35h1M66 35h1M83 35h1M87 35h1M101 35h2M124 34h1M52 33h1M32 32h1M32 31h1M52 30h1M52 29h1M52 28h1M52 27h1M20 26h1M30 26h1M36 26h1M50 26h1M53 26h1M60 26h1M70 26h1M81 26h1M91 26h1M31 22h1M31 17h1M39 16h1M39 14h1M18 13h2M22 13h1M26 13h1M33 13h1M42 13h1M46 13h1M53 13h1M62 13h1M66 13h1M83 13h1M87 13h1M101 13h2M124 12h1M52 11h1M52 10h1M52 9h1M52 6h1M52 5h1M7 3h1M112 3h1M9 2h1M95 2h1M39 1h1M31 0h1"/>
<path stroke="#dffc70" d="M38 119h1M32 109h1M71 106h1M92 106h1M114 106h1M58 97h1M17 94h1M54 94h1M59 94h1M38 91h1M58 91h1M7 88h1M35 88h1M112 88h1M55 86h1M58 77h1M80 74h1M100 74h1M32 72h1M40 71h1M103 71h1M124 71h1M105 67h1M109 67h1M59 66h1M31 58h1M51 58h1M36 56h1M105 56h1M109 56h1M32 55h1M59 45h1M31 37h1M51 37h1M36 35h1M105 35h1M109 35h1M32 34h1M8 26h1M37 26h2M40 26h1M103 26h1M113 26h1M124 26h1M38 24h1M57 24h1M38 22h1M38 17h1M51 15h1M57 15h1M36 13h1M105 13h1M109 13h1M32 12h1M52 4h1M35 3h1M55 2h1M58 0h1"/>
<path stroke="#edfe62" d="M58 119h1M59 118h1M32 114h1M37 110h1M37 97h1M12 94h1M57 94h1M95 94h1M16 89h1M29 89h1M49 89h1M56 89h1M69 89h1M76 89h1M90 89h1M119 89h1M126 89h1M52 87h1M71 86h1M92 86h1M114 86h1M37 77h1M39 74h1M123 74h1M37 70h1M32 69h1M5 68h2M21 68h1M27 68h2M32 68h1M41 68h1M47 68h2M61 68h1M67 68h2M82 68h1M88 68h2M104 68h1M110 68h2M125 68h1M58 65h1M58 60h1M38 58h1M57 57h1M58 44h1M58 39h1M38 37h1M57 36h1M52 32h1M52 31h1M51 24h1M59 23h1M58 22h1M58 17h1M31 15h1M71 2h1M92 2h1M114 2h1M37 0h1"/>
<path stroke="#fbff54" d="M51 121h1M57 121h1M31 120h1M51 120h1M57 120h1M37 119h1M39 118h1M32 117h1M37 116h1M37 115h1M37 114h2M37 113h1M37 112h1M37 111h1M38 110h1M59 106h1M51 105h1M57 105h1M51 99h1M57 99h1M51 98h1M57 98h1M59 96h1M6 95h1M9 94h1M58 94h1M71 94h1M92 94h1M114 94h1M7 89h1M10 89h6M52 89h1M54 89h1M72 89h4M77 89h3M93 89h7M112 89h1M115 89h4M120 89h3M12 88h1M16 88h1M54 88h1M56 88h1M76 88h1M95 88h1M119 88h1M8 87h1M51 85h1M57 85h1M51 79h1M57 79h1M51 78h1M57 78h1M59 76h1M5 75h2M21 75h1M27 75h2M41 75h1M47 75h2M61 75h1M67 75h2M82 75h1M88 75h2M104 75h1M110 75h2M125 75h1M37 74h1M54 74h1M57 74h1M59 74h1M37 72h2M52 72h1M38 70h1M52 69h1M52 68h1M16 67h1M29 67h1M35 67h1M49 67h1M69 67h1M76 67h1M90 67h1M119 67h1M126 67h1M39 66h1M37 65h1M37 60h1M51 59h1M57 59h1M58 58h1M31 57h1M38 57h1M51 57h1M29 56h1M35 56h1M49 56h1M69 56h1M90 56h1M126 56h1M52 55h1M37 54h1M37 53h1M37 52h1M37 51h1M37 50h1M37 49h1M37 48h1M37 47h1M32 46h1M52 46h1M39 45h1M37 44h1M37 39h1M51 38h1M57 38h1M58 37h1M31 36h1M38 36h1M51 36h1M29 35h1M35 35h1M49 35h1M69 35h1M90 35h1M126 35h1M52 34h1M37 33h1M37 32h1M37 31h1M37 30h1M37 29h1M37 28h1M37 27h1M34 26h1M58 26h1M31 24h1M37 24h1M58 24h1M39 23h1M37 22h1M37 17h1M51 16h1M57 16h1M38 15h1M57 14h1M29 13h1M35 13h1M49 13h1M69 13h1M90 13h1M126 13h1M52 12h1M37 11h1M37 10h1M37 9h1M37 8h1M37 7h1M37 6h1M37 5h1M37 4h1M5 3h2M21 3h1M27 3h2M41 3h1M47 3h2M61 3h1M67 3h2M82 3h1M88 3h2M104 3h1M110 3h2M125 3h1M51 1h1M57 1h1"/>
<path stroke="#fff446" d="M40 125h1M60 125h1M81 125h1M103 125h1M124 125h1M40 124h1M60 124h1M81 124h1M103 124h1M124 124h1M40 123h1M60 123h1M81 123h1M103 123h1M124 123h1M31 121h1M37 117h2M38 116h1M38 115h1M52 114h1M38 113h1M38 112h1M58 110h1M37 109h2M52 109h1M20 108h1M40 108h1M60 108h1M81 108h1M103 108h1M124 108h1M18 106h1M39 106h1M101 106h1M31 105h1M31 99h1M31 98h1M39 96h1M5 95h1M21 95h1M27 95h2M32 95h1M35 95h1M41 95h1M47 95h2M61 95h1M67 95h2M82 95h1M88 95h2M104 95h1M110 95h2M125 95h1M31 94h1M37 94h1M51 94h1M52 92h1M31 91h1M37 91h1M9 89h1M17 89h1M32 89h1M35 89h1M80 89h1M100 89h1M123 89h1M9 88h3M13 88h2M17 88h1M72 88h4M77 88h3M93 88h2M96 88h4M115 88h4M120 88h4M20 87h1M30 87h1M50 87h1M70 87h1M91 87h1M1 86h3M18 86h1M53 86h1M59 86h1M101 86h1M31 85h1M31 79h1M31 78h1M39 76h1M32 75h1M12 74h1M17 74h1M34 74h1M58 74h1M40 73h1M60 73h1M81 73h1M103 73h1M124 73h1M58 70h1M5 69h2M21 69h1M27 69h2M41 69h1M47 69h2M61 69h1M67 69h2M82 69h1M88 69h2M104 69h1M110 69h2M125 69h1M8 68h1M10 67h2M13 67h3M32 67h1M34 67h1M52 67h1M56 67h1M72 67h4M77 67h3M93 67h2M96 67h4M115 67h4M120 67h3M31 59h1M37 58h1M58 57h1M7 56h1M112 56h1M38 54h1M38 53h1M38 52h1M38 51h1M38 50h1M38 49h1M38 48h1M5 46h2M21 46h1M27 46h2M34 46h1M41 46h1M47 46h2M61 46h1M67 46h2M82 46h1M88 46h2M104 46h1M110 46h2M125 46h1M31 38h1M37 37h1M58 36h1M7 35h1M112 35h1M38 33h1M38 32h1M38 31h1M38 30h1M38 29h1M38 28h1M32 26h1M39 26h1M57 26h1M59 26h1M31 16h1M58 15h1M31 14h1M38 14h1M51 14h1M7 13h1M112 13h1M38 11h1M38 10h1M38 9h1M38 8h1M38 7h1M38 6h1M38 5h1M38 4h1M32 3h1M1 2h3M18 2h1M53 2h1M59 2h1M101 2h1M31 1h1"/>
<path stroke="#ffe63a" d="M20 125h1M20 124h1M20 123h1M38 121h1M57 118h1M52 117h1M38 111h1M30 108h1M50 108h1M70 108h1M91 108h1M1 106h3M23 106h3M43 106h3M53 106h1M63 106h3M84 106h3M38 105h1M20 103h1M40 103h1M60 103h1M81 103h1M103 103h1M124 103h1M20 102h1M40 102h1M60 102h1M81 102h1M103 102h1M124 102h1M20 101h1M40 101h1M60 101h1M81 101h1M103 101h1M124 101h1M38 99h1M38 98h1M18 96h1M101 96h1M58 92h1M5 88h1M15 88h1M21 88h1M27 88h2M41 88h1M47 88h2M61 88h1M67 88h2M80 88h1M82 88h1M88 88h2M100 88h1M104 88h1M110 88h2M125 88h1M60 87h1M81 87h1M103 87h1M113 87h1M124 87h1M23 86h3M43 86h3M63 86h3M84 86h3M38 85h1M20 83h1M40 83h1M60 83h1M81 83h1M103 83h1M124 83h1M20 82h1M40 82h1M60 82h1M81 82h1M103 82h1M124 82h1M20 81h1M40 81h1M60 81h1M81 81h1M103 81h1M124 81h1M38 79h1M38 78h1M18 76h1M101 76h1M52 75h1M9 74h1M51 74h1M95 74h1M20 73h1M20 68h1M30 68h1M50 68h1M70 68h1M91 68h1M7 67h1M17 67h1M54 67h1M80 67h1M100 67h1M112 67h1M123 67h1M18 66h1M57 66h1M101 66h1M20 63h1M40 63h1M60 63h1M81 63h1M103 63h1M124 63h1M20 62h1M40 62h1M60 62h1M81 62h1M103 62h1M124 62h1M38 59h1M37 57h1M16 56h1M32 56h1M34 56h1M76 56h1M119 56h1M37 55h2M58 51h1M58 50h1M38 47h1M18 45h1M57 45h1M101 45h1M20 42h1M40 42h1M60 42h1M81 42h1M103 42h1M124 42h1M20 41h1M40 41h1M60 41h1M81 41h1M103 41h1M124 41h1M38 38h1M37 36h1M16 35h1M32 35h1M34 35h1M76 35h1M119 35h1M37 34h2M38 27h1M15 26h2M31 26h1M35 26h1M51 26h2M56 26h1M76 26h1M119 26h1M20 25h1M40 25h1M60 25h1M81 25h1M103 25h1M124 25h1M18 23h1M57 23h1M101 23h1M103 20h1M124 20h1M103 19h1M124 19h1M38 16h1M37 15h1M58 14h1M34 13h1M37 12h2M58 8h1M58 7h1M34 3h1M52 3h1M23 2h3M39 2h1M43 2h3M63 2h3M84 2h3M106 2h3M38 1h1"/>
<path stroke="#ffd72d" d="M58 121h1M32 120h1M38 120h1M52 120h1M58 120h1M18 118h1M31 118h1M38 118h1M51 118h1M101 118h1M58 116h1M58 115h1M58 114h1M58 113h1M58 112h1M58 111h1M8 108h1M113 108h1M20 107h1M40 107h1M60 107h1M81 107h1M103 107h1M124 107h1M19 106h1M33 106h1M36 106h1M102 106h1M106 106h3M58 105h1M58 99h1M58 98h1M57 96h1M8 95h1M6 94h1M40 94h1M60 94h1M81 94h1M20 93h1M40 93h1M60 93h1M81 93h1M103 93h1M124 93h1M35 92h1M34 91h1M20 90h1M40 90h1M60 90h1M81 90h1M103 90h1M124 90h1M55 89h1M71 89h1M92 89h1M114 89h1M6 88h1M8 88h1M71 88h1M92 88h1M114 88h1M40 87h1M19 86h1M32 86h2M36 86h1M39 86h1M52 86h1M102 86h1M106 86h3M58 85h1M58 79h1M58 78h1M57 76h1M8 75h1M6 74h1M40 74h1M60 74h1M71 74h1M81 74h1M92 74h1M114 74h1M58 72h1M37 71h1M8 69h1M60 68h1M81 68h1M103 68h1M113 68h1M9 67h1M31 66h2M51 66h2M103 64h1M124 64h1M103 61h1M124 61h1M58 59h1M56 56h1M58 54h1M58 53h1M58 52h1M58 49h1M58 48h1M58 47h1M31 45h2M51 45h2M103 43h1M124 43h1M103 40h1M124 40h1M58 38h1M56 35h1M58 33h1M58 32h1M58 31h1M58 30h1M58 29h1M58 28h1M58 27h1M10 26h2M13 26h2M18 26h1M55 26h1M72 26h4M77 26h4M93 26h2M96 26h6M115 26h4M120 26h3M31 23h1M51 23h1M20 20h1M40 20h1M60 20h1M81 20h1M20 19h1M40 19h1M60 19h1M81 19h1M58 16h1M37 14h1M16 13h1M32 13h1M56 13h1M76 13h1M119 13h1M58 11h1M58 10h1M58 9h1M58 6h1M58 5h1M58 4h1M37 3h2M19 2h1M33 2h1M36 2h1M102 2h1M58 1h1"/>
<path stroke="#ffc920" d="M8 125h1M30 125h1M32 125h1M50 125h1M70 125h1M91 125h1M113 125h1M8 124h1M30 124h1M32 124h1M50 124h1M70 124h1M91 124h1M113 124h1M8 123h1M30 123h1M32 123h1M50 123h1M70 123h1M91 123h1M113 123h1M18 121h1M32 121h1M37 121h1M52 121h1M101 121h1M18 120h1M37 120h1M101 120h1M1 118h3M23 118h3M37 118h1M43 118h3M53 118h1M58 118h1M63 118h3M84 118h3M34 110h1M58 109h1M5 108h2M21 108h1M27 108h2M41 108h1M47 108h2M61 108h1M67 108h2M82 108h1M88 108h2M104 108h1M110 108h2M125 108h1M31 106h2M38 106h1M51 106h2M57 106h1M18 105h1M32 105h1M37 105h1M52 105h1M101 105h1M8 103h1M8 102h1M8 101h1M18 99h1M32 99h1M37 99h1M52 99h1M101 99h1M18 98h1M32 98h1M37 98h1M52 98h1M101 98h1M1 96h3M31 96h2M38 96h1M51 96h1M53 96h1M20 95h1M30 95h1M50 95h1M52 95h1M70 95h1M91 95h1M1 94h3M5 94h1M20 94h2M27 94h2M30 94h1M41 94h1M47 94h2M50 94h1M61 94h1M67 94h2M70 94h1M82 94h1M88 94h2M91 94h1M103 94h2M110 94h2M124 94h2M16 92h1M39 92h1M76 92h1M119 92h1M5 89h2M8 89h1M21 89h1M27 89h2M41 89h1M47 89h2M59 89h1M61 89h1M67 89h2M82 89h1M88 89h2M104 89h1M110 89h2M125 89h1M20 88h1M30 88h1M50 88h1M70 88h1M91 88h1M34 87h1M18 85h1M32 85h1M37 85h1M52 85h1M101 85h1M8 83h1M8 82h1M8 81h1M18 79h1M32 79h1M37 79h1M52 79h1M101 79h1M18 78h1M32 78h1M37 78h1M52 78h1M101 78h1M1 76h3M31 76h2M38 76h1M51 76h1M53 76h1M20 75h1M30 75h1M50 75h1M70 75h1M91 75h1M5 74h1M20 74h2M27 74h2M31 74h1M41 74h1M47 74h2M61 74h1M67 74h2M82 74h1M88 74h2M103 74h2M110 74h2M124 74h2M8 73h1M30 73h1M50 73h1M70 73h1M91 73h1M113 73h1M16 69h1M20 69h1M30 69h1M34 69h1M50 69h1M56 69h1M70 69h1M76 69h1M91 69h1M119 69h1M40 68h1M124 68h1M12 67h1M95 67h1M1 66h3M38 66h1M53 66h1M58 66h1M20 64h1M40 64h1M60 64h1M81 64h1M8 63h1M8 62h1M20 61h1M40 61h1M60 61h1M81 61h1M18 59h1M32 59h1M37 59h1M52 59h1M101 59h1M32 58h1M5 56h2M10 56h2M13 56h3M21 56h1M27 56h2M37 56h2M41 56h1M47 56h2M52 56h1M61 56h1M67 56h2M72 56h4M77 56h3M82 56h1M88 56h2M93 56h2M96 56h4M104 56h1M110 56h2M115 56h4M120 56h3M125 56h1M16 46h1M37 46h2M56 46h1M76 46h1M119 46h1M1 45h3M38 45h1M53 45h1M58 45h1M20 43h1M40 43h1M60 43h1M81 43h1M8 42h1M8 41h1M20 40h1M40 40h1M60 40h1M81 40h1M18 38h1M32 38h1M37 38h1M52 38h1M101 38h1M32 37h1M5 35h2M10 35h2M13 35h3M21 35h1M27 35h2M37 35h2M41 35h1M47 35h2M52 35h1M61 35h1M67 35h2M72 35h4M77 35h3M82 35h1M88 35h2M93 35h2M96 35h4M104 35h1M110 35h2M115 35h4M120 35h3M125 35h1M12 26h1M17 26h1M54 26h1M123 26h1M8 25h1M30 25h1M50 25h1M70 25h1M91 25h1M113 25h1M1 23h3M32 23h1M38 23h1M52 23h2M58 23h1M18 16h1M32 16h1M37 16h1M52 16h1M101 16h1M5 13h2M10 13h2M15 13h1M21 13h1M27 13h2M37 13h2M41 13h1M47 13h2M52 13h1M61 13h1M67 13h2M82 13h1M88 13h2M104 13h1M110 13h2M125 13h1M32 2h1M52 2h1M18 1h1M32 1h1M37 1h1M52 1h1M101 1h1"/>
<path stroke="#ffbb13" d="M20 126h1M32 126h1M40 126h1M60 126h1M81 126h1M103 126h1M124 126h1M52 125h1M52 124h1M52 123h1M20 122h1M32 122h1M40 122h1M60 122h1M81 122h1M103 122h1M124 122h1M32 119h1M19 118h1M32 118h2M36 118h1M52 118h1M102 118h1M106 118h3M58 117h1M34 111h1M57 110h1M8 107h1M30 107h1M50 107h1M70 107h1M91 107h1M0 106h1M4 106h1M26 106h1M37 106h1M42 106h1M46 106h1M58 106h1M62 106h1M66 106h1M83 106h1M87 106h1M32 104h1M30 103h1M32 103h1M50 103h1M70 103h1M91 103h1M113 103h1M30 102h1M32 102h1M50 102h1M70 102h1M91 102h1M113 102h1M30 101h1M32 101h1M50 101h1M70 101h1M91 101h1M113 101h1M20 100h1M32 100h1M103 100h1M124 100h1M32 97h1M19 96h1M23 96h3M33 96h1M37 96h1M43 96h3M52 96h1M58 96h1M63 96h3M84 96h3M102 96h1M106 96h3M40 95h1M60 95h1M81 95h1M103 95h1M113 95h1M124 95h1M0 94h1M4 94h1M7 94h2M22 94h5M29 94h1M42 94h5M49 94h1M62 94h5M69 94h1M83 94h5M90 94h1M105 94h5M112 94h2M8 93h1M30 93h1M50 93h1M70 93h1M91 93h1M15 92h1M56 92h2M8 90h1M20 89h1M30 89h1M50 89h1M70 89h1M91 89h1M55 88h1M59 88h1M103 88h1M113 88h1M124 88h1M0 86h1M4 86h1M31 86h1M57 86h1M20 84h1M32 84h1M103 84h1M124 84h1M30 83h1M32 83h1M50 83h1M70 83h1M91 83h1M113 83h1M30 82h1M32 82h1M50 82h1M70 82h1M91 82h1M113 82h1M30 81h1M32 81h1M50 81h1M70 81h1M91 81h1M113 81h1M20 80h1M32 80h1M103 80h1M124 80h1M32 77h1M19 76h1M23 76h3M33 76h1M37 76h1M43 76h3M52 76h1M58 76h1M63 76h3M84 76h3M102 76h1M106 76h3M60 75h1M81 75h1M103 75h1M113 75h1M124 75h1M1 74h3M8 74h1M30 74h1M50 74h1M70 74h1M91 74h1M38 71h1M34 70h1M57 70h1M40 69h1M60 69h1M81 69h1M103 69h1M113 69h1M124 69h1M16 68h1M34 68h1M56 68h1M76 68h1M119 68h1M37 67h1M55 67h1M71 67h1M92 67h1M114 67h1M23 66h3M37 66h1M43 66h3M63 66h3M84 66h3M32 65h1M52 65h1M32 64h1M30 63h1M32 63h1M50 63h1M70 63h1M91 63h1M113 63h1M30 62h1M32 62h1M50 62h1M70 62h1M91 62h1M113 62h1M32 61h1M32 60h1M52 60h1M52 58h1M18 57h1M32 57h1M52 57h1M101 57h1M12 56h1M54 56h1M80 56h1M95 56h1M100 56h1M123 56h1M58 55h1M34 51h1M34 50h1M8 46h1M10 46h6M30 46h1M50 46h1M58 46h1M70 46h1M72 46h4M77 46h3M91 46h1M93 46h2M96 46h4M115 46h4M120 46h3M23 45h3M37 45h1M43 45h3M63 45h3M84 45h3M32 44h1M52 44h1M32 43h1M30 42h1M32 42h1M50 42h1M70 42h1M91 42h1M113 42h1M30 41h1M32 41h1M50 41h1M70 41h1M91 41h1M113 41h1M32 40h1M32 39h1M52 39h1M52 37h1M18 36h1M32 36h1M52 36h1M101 36h1M12 35h1M54 35h1M80 35h1M95 35h1M100 35h1M123 35h1M58 34h1M9 26h1M71 26h1M92 26h1M95 26h1M114 26h1M18 24h1M32 24h1M101 24h1M23 23h3M37 23h1M43 23h3M63 23h3M84 23h3M32 22h1M52 22h1M20 21h1M32 21h1M40 21h1M60 21h1M81 21h1M103 21h1M124 21h1M8 20h1M30 20h1M32 20h1M50 20h1M70 20h1M91 20h1M113 20h1M8 19h1M30 19h1M32 19h1M50 19h1M70 19h1M91 19h1M113 19h1M20 18h1M32 18h1M40 18h1M60 18h1M81 18h1M103 18h1M124 18h1M32 17h1M52 17h1M32 15h1M52 15h1M18 14h1M32 14h1M101 14h1M12 13h3M54 13h1M72 13h4M77 13h3M93 13h2M96 13h4M115 13h4M120 13h3M58 12h1M34 8h1M34 7h1M8 3h1M16 3h1M30 3h1M50 3h1M56 3h1M58 3h1M70 3h1M76 3h1M91 3h1M119 3h1M0 2h1M4 2h1M26 2h1M31 2h1M38 2h1M42 2h1M46 2h1M51 2h1M57 2h1M62 2h1M66 2h1M83 2h1M87 2h1"/>
<path stroke="#ffac06" d="M52 126h1M52 122h1M53 120h1M52 119h1M34 116h1M34 115h1M34 113h1M34 112h1M31 110h1M32 108h1M52 108h1M113 107h1M35 106h1M52 104h1M103 104h1M124 104h1M52 103h1M52 102h1M52 101h1M40 100h1M52 100h1M60 100h1M81 100h1M52 97h1M36 96h1M16 95h1M56 95h1M76 95h1M119 95h1M18 94h1M101 94h1M126 94h1M113 93h1M10 92h2M13 92h2M51 92h1M55 92h1M72 92h4M77 92h3M93 92h2M96 92h4M115 92h4M120 92h3M20 91h1M40 91h1M52 91h1M60 91h1M81 91h1M103 91h1M124 91h1M30 90h1M50 90h1M70 90h1M91 90h1M113 90h1M60 89h1M81 89h1M103 89h1M113 89h1M124 89h1M40 88h1M60 88h1M81 88h1M26 86h1M35 86h1M38 86h1M42 86h1M46 86h1M51 86h1M58 86h1M62 86h1M66 86h1M83 86h1M87 86h1M40 84h1M52 84h1M60 84h1M81 84h1M52 83h1M52 82h1M52 81h1M40 80h1M52 80h1M60 80h1M81 80h1M52 77h1M36 76h1M34 75h1M40 75h1M0 74h1M4 74h1M7 74h1M18 74h1M22 74h5M29 74h1M35 74h1M42 74h5M49 74h1M62 74h5M69 74h1M83 74h5M90 74h1M101 74h1M105 74h5M112 74h2M6 73h1M34 71h1M58 71h1M31 70h1M10 69h6M54 69h1M72 69h4M77 69h3M93 69h7M115 69h4M120 69h3M10 68h2M5 67h2M21 67h1M27 67h2M38 67h1M41 67h1M47 67h2M58 67h1M61 67h1M67 67h2M82 67h1M88 67h2M104 67h1M110 67h2M125 67h1M19 66h1M33 66h1M36 66h1M102 66h1M106 66h3M18 65h1M101 65h1M8 64h1M30 64h1M50 64h1M52 64h1M70 64h1M91 64h1M113 64h1M52 63h1M52 62h1M8 61h1M30 61h1M50 61h1M52 61h1M70 61h1M91 61h1M113 61h1M18 60h1M101 60h1M18 58h1M101 58h1M9 56h1M17 56h1M39 56h1M55 56h1M58 56h2M34 54h1M34 53h1M34 52h1M57 51h1M57 50h1M34 49h1M34 48h1M34 47h1M9 46h1M17 46h1M20 46h1M39 46h2M54 46h1M57 46h1M59 46h2M80 46h2M95 46h1M100 46h1M113 46h1M123 46h1M19 45h1M33 45h1M36 45h1M102 45h1M106 45h3M18 44h1M101 44h1M8 43h1M30 43h1M50 43h1M52 43h1M70 43h1M91 43h1M113 43h1M52 42h1M52 41h1M8 40h1M30 40h1M50 40h1M52 40h1M70 40h1M91 40h1M113 40h1M18 39h1M101 39h1M18 37h1M101 37h1M9 35h1M17 35h1M39 35h1M55 35h1M58 35h2M34 33h1M34 30h1M34 29h1M34 28h1M34 27h1M5 25h2M21 25h1M27 25h2M32 25h1M41 25h1M47 25h2M61 25h1M67 25h2M82 25h1M88 25h2M104 25h1M110 25h2M125 25h1M52 24h1M19 23h1M33 23h1M36 23h1M102 23h1M106 23h3M18 22h1M101 22h1M52 21h1M52 20h1M52 19h1M52 18h1M18 17h1M101 17h1M18 15h1M101 15h1M52 14h1M17 13h1M58 13h1M80 13h1M95 13h1M100 13h1M123 13h1M34 11h1M34 10h1M34 9h1M57 8h1M57 7h1M34 6h1M34 5h1M10 3h6M20 3h1M39 3h2M57 3h1M59 3h2M72 3h4M77 3h3M81 3h1M93 3h2M96 3h4M113 3h1M115 3h4M120 3h3M22 2h1M35 2h1M37 2h1M58 2h1M32 0h1"/>
<path stroke="#ff9e00" d="M8 126h1M113 126h1M6 125h1M35 125h1M6 124h1M35 124h1M6 123h1M35 123h1M8 122h1M113 122h1M53 121h1M1 120h3M18 119h1M101 119h1M0 118h1M4 118h1M26 118h1M42 118h1M46 118h1M62 118h1M66 118h1M83 118h1M87 118h1M57 116h1M57 115h1M57 114h1M57 113h1M57 112h1M51 110h1M7 108h1M29 108h1M49 108h1M69 108h1M90 108h1M112 108h1M32 107h1M22 106h1M105 106h1M109 106h1M53 105h1M20 104h1M40 104h1M60 104h1M81 104h1M8 100h1M53 99h1M53 98h1M18 97h1M101 97h1M19 94h1M53 94h1M102 94h1M54 92h1M80 92h1M100 92h1M123 92h1M1 91h3M40 89h1M51 89h1M58 87h1M22 86h1M37 86h1M53 85h1M8 84h1M8 80h1M53 79h1M53 78h1M18 77h1M101 77h1M16 75h1M37 75h1M56 75h1M76 75h1M119 75h1M126 74h1M5 73h1M21 73h1M27 73h2M32 73h1M41 73h1M47 73h2M61 73h1M67 73h2M82 73h1M88 73h2M104 73h1M110 73h2M125 73h1M34 72h1M57 72h1M51 70h1M9 69h1M17 69h1M80 69h1M100 69h1M123 69h1M13 68h3M54 68h1M72 68h4M77 68h4M93 68h2M96 68h5M115 68h4M120 68h4M35 66h1M53 59h1M57 56h1M34 55h1M57 54h1M57 53h1M57 52h1M31 51h1M31 50h1M57 49h1M57 48h1M31 46h1M51 46h1M103 46h1M124 46h1M35 45h1M53 38h1M57 35h1M34 34h1M57 33h1M57 32h1M57 31h1M57 30h1M57 29h1M57 28h1M52 25h1M35 24h1M35 23h1M8 21h1M8 18h1M53 16h1M8 13h2M39 13h1M55 13h1M57 13h1M59 13h1M34 12h1M57 11h1M57 10h1M57 9h1M31 8h1M31 7h1M57 6h1M57 5h1M34 4h1M9 3h1M17 3h1M31 3h1M54 3h1M80 3h1M95 3h1M100 3h1M103 3h1M123 3h2M105 2h1M109 2h1M53 1h1M52 0h1"/>
<path stroke="#ff9100" d="M18 126h1M30 126h1M50 126h1M70 126h1M91 126h1M101 126h1M5 125h1M18 125h1M21 125h1M27 125h2M41 125h1M47 125h2M61 125h1M67 125h2M82 125h1M88 125h2M101 125h1M104 125h1M110 125h2M125 125h1M5 124h1M18 124h1M21 124h1M27 124h2M41 124h1M47 124h2M61 124h1M67 124h2M82 124h1M88 124h2M101 124h1M104 124h1M110 124h2M125 124h1M5 123h1M18 123h1M21 123h1M27 123h2M41 123h1M47 123h2M61 123h1M67 123h2M82 123h1M88 123h2M101 123h1M104 123h1M110 123h2M125 123h1M18 122h1M30 122h1M50 122h1M70 122h1M91 122h1M101 122h1M1 121h3M19 121h1M23 121h3M33 121h1M43 121h3M63 121h3M84 121h3M102 121h1M19 120h1M23 120h3M33 120h1M35 120h2M43 120h3M63 120h3M84 120h3M102 120h1M106 120h3M22 118h1M34 117h1M57 117h1M31 116h1M31 115h1M31 111h1M57 111h1M39 110h1M59 110h1M34 109h1M57 109h1M0 108h5M22 108h5M42 108h5M62 108h5M83 108h5M105 108h5M126 108h1M5 107h2M21 107h1M27 107h2M41 107h1M47 107h2M52 107h1M61 107h1M67 107h2M82 107h1M88 107h2M104 107h1M110 107h2M125 107h1M126 106h1M1 105h3M19 105h1M23 105h3M33 105h1M43 105h3M63 105h3M84 105h3M102 105h1M8 104h1M18 104h1M101 104h1M5 103h2M18 103h1M21 103h1M27 103h2M35 103h1M41 103h1M47 103h2M61 103h1M67 103h2M82 103h1M88 103h2M101 103h1M104 103h1M110 103h2M125 103h1M5 102h2M18 102h1M21 102h1M27 102h2M35 102h1M41 102h1M47 102h2M61 102h1M67 102h2M82 102h1M88 102h2M101 102h1M104 102h1M110 102h2M125 102h1M5 101h2M18 101h1M21 101h1M27 101h2M35 101h1M41 101h1M47 101h2M61 101h1M67 101h2M82 101h1M88 101h2M101 101h1M104 101h1M110 101h2M125 101h1M18 100h1M30 100h1M50 100h1M70 100h1M91 100h1M101 100h1M113 100h1M1 99h3M19 99h1M23 99h3M33 99h1M43 99h3M63 99h3M84 99h3M102 99h1M1 98h3M19 98h1M23 98h3M33 98h1M43 98h3M63 98h3M84 98h3M102 98h1M103 97h1M124 97h1M0 96h1M4 96h1M26 96h1M35 96h1M42 96h1M46 96h1M62 96h1M66 96h1M83 96h1M87 96h1M10 95h2M15 95h1M34 95h1M37 95h2M33 94h2M36 94h1M5 93h2M21 93h1M27 93h2M32 93h1M41 93h1M47 93h2M52 93h1M61 93h1M67 93h2M82 93h1M88 93h2M104 93h1M110 93h2M125 93h1M9 92h1M17 92h1M31 92h2M59 92h1M71 92h1M92 92h1M114 92h1M6 91h1M23 91h3M30 91h1M43 91h3M50 91h1M53 91h1M63 91h3M70 91h1M84 91h3M91 91h1M106 91h3M113 91h1M6 90h1M32 90h1M31 89h1M57 89h1M31 88h1M16 87h1M56 87h1M76 87h1M119 87h1M105 86h1M109 86h1M1 85h3M19 85h1M23 85h3M33 85h1M43 85h3M63 85h3M84 85h3M102 85h1M18 84h1M30 84h1M50 84h1M70 84h1M91 84h1M101 84h1M113 84h1M5 83h2M18 83h1M21 83h1M27 83h2M35 83h1M41 83h1M47 83h2M61 83h1M67 83h2M82 83h1M88 83h2M101 83h1M104 83h1M110 83h2M125 83h1M5 82h2M18 82h1M21 82h1M27 82h2M35 82h1M41 82h1M47 82h2M61 82h1M67 82h2M82 82h1M88 82h2M101 82h1M104 82h1M110 82h2M125 82h1M5 81h2M18 81h1M21 81h1M27 81h2M35 81h1M41 81h1M47 81h2M61 81h1M67 81h2M82 81h1M88 81h2M101 81h1M104 81h1M110 81h2M125 81h1M18 80h1M30 80h1M50 80h1M70 80h1M91 80h1M101 80h1M113 80h1M1 79h3M19 79h1M23 79h3M33 79h1M43 79h3M63 79h3M84 79h3M102 79h1M1 78h3M19 78h1M23 78h3M33 78h1M43 78h3M63 78h3M84 78h3M102 78h1M103 77h1M124 77h1M0 76h1M4 76h1M26 76h1M35 76h1M42 76h1M46 76h1M62 76h1M66 76h1M83 76h1M87 76h1M19 74h1M33 74h1M53 74h1M102 74h1M35 73h1M52 73h1M39 70h1M9 68h1M12 68h1M17 68h1M95 68h1M8 67h1M0 66h1M4 66h1M18 64h1M35 64h1M101 64h1M5 63h2M18 63h1M21 63h1M27 63h2M35 63h1M41 63h1M47 63h2M61 63h1M67 63h2M82 63h1M88 63h2M101 63h1M104 63h1M110 63h2M125 63h1M5 62h2M18 62h1M21 62h1M27 62h2M35 62h1M41 62h1M47 62h2M61 62h1M67 62h2M82 62h1M88 62h2M101 62h1M104 62h1M110 62h2M125 62h1M18 61h1M35 61h1M101 61h1M1 59h3M19 59h1M23 59h3M33 59h1M43 59h3M63 59h3M84 59h3M102 59h1M8 56h1M20 56h1M30 56h2M40 56h1M50 56h2M60 56h1M70 56h2M81 56h1M91 56h2M103 56h1M114 56h1M124 56h1M51 51h1M51 50h1M57 47h1M55 46h1M71 46h1M92 46h1M114 46h1M0 45h1M4 45h1M18 43h1M35 43h1M101 43h1M5 42h2M18 42h1M21 42h1M27 42h2M35 42h1M41 42h1M47 42h2M61 42h1M67 42h2M82 42h1M88 42h2M101 42h1M104 42h1M110 42h2M125 42h1M5 41h2M18 41h1M21 41h1M27 41h2M35 41h1M41 41h1M47 41h2M61 41h1M67 41h2M82 41h1M88 41h2M101 41h1M104 41h1M110 41h2M125 41h1M18 40h1M35 40h1M101 40h1M1 38h3M19 38h1M23 38h3M33 38h1M43 38h3M63 38h3M84 38h3M102 38h1M8 35h1M20 35h1M30 35h2M40 35h1M50 35h2M60 35h1M70 35h2M81 35h1M91 35h2M103 35h1M114 35h1M124 35h1M34 32h1M34 31h1M57 27h1M0 23h1M4 23h1M26 23h1M42 23h1M46 23h1M62 23h1M66 23h1M83 23h1M87 23h1M18 21h1M30 21h1M50 21h1M70 21h1M91 21h1M101 21h1M113 21h1M6 20h1M18 20h1M35 20h1M101 20h1M6 19h1M18 19h1M35 19h1M101 19h1M18 18h1M30 18h1M50 18h1M70 18h1M91 18h1M101 18h1M113 18h1M1 16h3M19 16h1M23 16h3M33 16h1M43 16h3M63 16h3M84 16h3M102 16h1M20 13h1M30 13h1M40 13h1M50 13h1M60 13h1M70 13h1M81 13h1M91 13h1M103 13h1M124 13h1M51 8h1M51 7h1M57 4h1M51 3h1M55 3h1M29 2h1M49 2h1M69 2h1M90 2h1M126 2h1M1 1h3M19 1h1M23 1h3M33 1h1M43 1h3M63 1h3M84 1h3M102 1h1M18 0h1M20 0h1M101 0h1M103 0h1M124 0h1"/>
<path stroke="#ff8300" d="M35 126h1M35 122h1M35 121h2M106 121h3M35 118h1M105 118h1M109 118h1M39 116h1M51 116h1M39 115h1M51 115h1M31 114h1M51 114h1M31 113h1M51 113h1M31 112h1M51 112h1M51 111h1M19 108h1M33 108h1M36 108h1M53 108h1M102 108h1M18 107h1M35 107h1M101 107h1M29 106h1M49 106h1M69 106h1M90 106h1M35 105h2M106 105h3M30 104h1M35 104h1M50 104h1M70 104h1M91 104h1M113 104h1M35 100h1M35 99h2M106 99h3M35 98h2M106 98h3M20 97h1M40 97h1M60 97h1M81 97h1M22 96h1M12 95h3M54 95h1M72 95h4M77 95h4M93 95h8M115 95h4M120 95h3M18 93h1M101 93h1M0 91h1M4 91h2M8 91h1M19 91h1M21 91h2M26 91h3M41 91h2M46 91h3M61 91h2M66 91h3M82 91h2M87 91h3M102 91h1M104 91h2M109 91h3M125 91h1M5 90h1M18 90h1M21 90h1M27 90h2M41 90h1M47 90h2M52 90h1M61 90h1M67 90h2M82 90h1M88 90h2M101 90h1M104 90h1M110 90h2M125 90h1M51 88h1M10 87h2M54 87h1M29 86h1M49 86h1M69 86h1M90 86h1M126 86h1M35 85h2M106 85h3M35 84h1M35 80h1M35 79h2M106 79h3M35 78h2M106 78h3M20 77h1M40 77h1M60 77h1M81 77h1M22 76h1M10 75h6M38 75h1M54 75h1M72 75h4M77 75h3M93 75h2M96 75h4M115 75h4M120 75h3M36 74h1M18 73h1M101 73h1M31 72h1M39 72h1M51 72h1M59 70h1M55 69h1M71 69h1M92 69h1M114 69h1M55 68h1M71 68h1M92 68h1M114 68h1M20 67h1M30 67h2M50 67h1M70 67h1M91 67h1M113 67h1M26 66h1M42 66h1M46 66h1M62 66h1M66 66h1M83 66h1M87 66h1M35 65h1M103 65h1M124 65h1M6 64h1M6 61h1M35 60h1M103 60h1M124 60h1M35 59h2M106 59h3M35 58h1M1 57h3M35 57h1M53 57h1M113 56h1M57 55h1M31 54h1M51 54h1M31 53h1M51 53h1M31 52h1M51 52h1M39 51h1M59 51h1M39 50h1M59 50h1M31 49h1M51 49h1M31 48h1M51 48h1M31 47h1M26 45h1M42 45h1M46 45h1M62 45h1M66 45h1M83 45h1M87 45h1M35 44h1M103 44h1M124 44h1M6 43h1M6 40h1M35 39h1M103 39h1M124 39h1M35 38h2M106 38h3M35 37h1M1 36h3M35 36h1M53 36h1M113 35h1M57 34h1M31 33h1M51 33h1M31 32h1M51 32h1M31 31h1M51 31h1M31 30h1M51 30h1M31 29h1M51 29h1M31 28h1M51 28h1M31 27h1M22 23h1M35 22h1M35 21h1M5 20h1M21 20h1M27 20h2M41 20h1M47 20h2M61 20h1M67 20h2M82 20h1M88 20h2M104 20h1M110 20h2M125 20h1M5 19h1M21 19h1M27 19h2M41 19h1M47 19h2M61 19h1M67 19h2M82 19h1M88 19h2M104 19h1M110 19h2M125 19h1M35 18h1M35 17h1M35 16h2M106 16h3M35 15h1M1 14h3M23 14h3M35 14h1M43 14h3M53 14h1M63 14h3M84 14h3M31 13h1M51 13h1M71 13h1M92 13h1M113 13h2M57 12h1M31 11h1M51 11h1M31 10h1M51 10h1M31 9h1M51 9h1M39 8h1M59 8h1M39 7h1M59 7h1M31 6h1M51 6h1M31 5h1M51 5h1M31 4h1M71 3h1M92 3h1M114 3h1M35 1h2M106 1h3M40 0h1M60 0h1M81 0h1"/>
<path stroke="#ff7500" d="M20 119h1M35 119h1M103 119h1M124 119h1M29 118h1M49 118h1M69 118h1M90 118h1M126 118h1M39 117h1M59 116h1M59 115h1M34 114h1M39 114h1M39 113h1M59 113h1M39 112h1M59 112h1M39 111h1M59 111h1M31 109h1M39 109h1M51 109h1M7 106h1M112 106h1M8 97h1M35 97h1M105 96h1M109 96h1M17 95h1M123 95h1M12 92h1M95 92h1M7 91h1M29 91h1M49 91h1M69 91h1M90 91h1M112 91h1M126 91h1M9 87h1M12 87h4M17 87h1M72 87h4M77 87h4M93 87h8M115 87h4M120 87h4M8 77h1M35 77h1M105 76h1M109 76h1M17 75h1M80 75h1M95 75h1M100 75h1M123 75h1M59 72h1M57 71h1M37 69h1M37 68h1M39 67h2M51 67h1M57 67h1M59 67h2M81 67h1M103 67h1M124 67h1M22 66h1M20 65h1M40 65h1M60 65h1M81 65h1M5 64h1M21 64h1M27 64h2M41 64h1M47 64h2M61 64h1M67 64h2M82 64h1M88 64h2M104 64h1M110 64h2M125 64h1M5 61h1M21 61h1M27 61h2M41 61h1M47 61h2M61 61h1M67 61h2M82 61h1M88 61h2M104 61h1M110 61h2M125 61h1M20 60h1M40 60h1M60 60h1M81 60h1M53 58h1M19 57h1M23 57h3M33 57h1M36 57h1M43 57h3M63 57h3M84 57h3M102 57h1M106 57h3M31 55h1M39 54h1M59 54h1M39 53h1M59 53h1M39 52h1M59 52h1M39 49h1M59 49h1M39 48h1M59 48h1M39 47h1M51 47h1M22 45h1M20 44h1M40 44h1M60 44h1M81 44h1M5 43h1M21 43h1M27 43h2M41 43h1M47 43h2M61 43h1M67 43h2M82 43h1M88 43h2M104 43h1M110 43h2M125 43h1M5 40h1M21 40h1M27 40h2M41 40h1M47 40h2M61 40h1M67 40h2M82 40h1M88 40h2M104 40h1M110 40h2M125 40h1M20 39h1M40 39h1M60 39h1M81 39h1M53 37h1M19 36h1M23 36h3M33 36h1M36 36h1M43 36h3M63 36h3M84 36h3M102 36h1M106 36h3M31 34h1M39 33h1M59 33h1M39 32h1M39 31h1M39 30h1M59 30h1M39 29h1M59 29h1M39 28h1M59 28h1M39 27h1M51 27h1M1 24h3M23 24h3M43 24h3M53 24h1M60 24h1M63 24h3M81 24h1M84 24h3M106 24h3M105 23h1M109 23h1M103 22h1M124 22h1M103 17h1M124 17h1M53 15h1M19 14h1M33 14h1M36 14h1M102 14h1M106 14h3M31 12h1M39 11h1M59 11h1M39 10h1M59 10h1M39 9h1M59 9h1M39 6h1M59 6h1M39 5h1M59 5h1M39 4h1M51 4h1M7 2h1M112 2h1M8 0h1M35 0h1"/>
<path stroke="#ff6800" d="M5 126h2M21 126h1M27 126h2M41 126h1M47 126h2M61 126h1M67 126h2M82 126h1M88 126h2M104 126h1M110 126h2M125 126h1M5 122h2M21 122h1M27 122h2M41 122h1M47 122h2M61 122h1M67 122h2M82 122h1M88 122h2M104 122h1M110 122h2M125 122h1M0 121h1M4 121h1M0 120h1M4 120h1M26 120h1M42 120h1M46 120h1M62 120h1M66 120h1M83 120h1M87 120h1M40 119h1M60 119h1M81 119h1M31 117h1M51 117h1M59 117h1M59 109h1M0 105h1M4 105h1M6 100h1M0 99h1M4 99h1M0 98h1M4 98h1M30 97h1M50 97h1M70 97h1M91 97h1M113 97h1M29 96h1M49 96h1M69 96h1M90 96h1M126 96h1M9 95h1M55 95h1M57 88h1M7 86h1M112 86h1M0 85h1M4 85h1M6 84h1M6 80h1M0 79h1M4 79h1M0 78h1M4 78h1M30 77h1M50 77h1M70 77h1M91 77h1M113 77h1M29 76h1M49 76h1M69 76h1M90 76h1M126 76h1M9 75h1M58 75h1M31 71h1M38 68h1M105 66h1M109 66h1M8 65h1M8 60h1M0 59h1M4 59h1M1 58h3M20 58h1M103 58h1M124 58h1M39 55h1M51 55h1M59 55h1M59 47h1M105 45h1M109 45h1M8 44h1M8 39h1M0 38h1M4 38h1M1 37h3M20 37h1M103 37h1M124 37h1M39 34h1M51 34h1M59 34h1M59 32h1M59 31h1M59 27h1M7 25h1M29 25h1M35 25h1M49 25h1M69 25h1M90 25h1M112 25h1M0 24h1M4 24h3M8 24h1M19 24h3M26 24h3M30 24h1M33 24h1M36 24h1M40 24h3M46 24h3M50 24h1M61 24h2M66 24h3M70 24h1M82 24h2M87 24h3M91 24h1M102 24h3M110 24h2M124 24h2M29 23h1M49 23h1M69 23h1M90 23h1M126 23h1M20 22h1M53 22h1M5 21h2M21 21h1M27 21h2M41 21h1M47 21h2M61 21h1M67 21h2M82 21h1M88 21h2M104 21h1M110 21h2M125 21h1M5 18h2M21 18h1M27 18h2M41 18h1M47 18h2M61 18h1M67 18h2M82 18h1M88 18h2M104 18h1M110 18h2M125 18h1M20 17h1M53 17h1M0 16h1M4 16h1M1 15h3M19 15h1M23 15h3M33 15h1M36 15h1M43 15h3M63 15h3M84 15h3M102 15h1M39 12h1M51 12h1M59 12h1M59 4h1M0 1h1M4 1h1M30 0h1M50 0h1M70 0h1M91 0h1M113 0h1"/>
<path stroke="#ff5a00" d="M26 121h1M42 121h1M46 121h1M62 121h1M66 121h1M83 121h1M87 121h1M22 120h1M8 119h1M7 118h1M112 118h1M59 114h1M26 105h1M42 105h1M46 105h1M62 105h1M66 105h1M83 105h1M87 105h1M6 104h1M5 100h1M21 100h1M27 100h2M41 100h1M47 100h2M61 100h1M67 100h2M82 100h1M88 100h2M104 100h1M110 100h2M125 100h1M26 99h1M42 99h1M46 99h1M62 99h1M66 99h1M83 99h1M87 99h1M26 98h1M42 98h1M46 98h1M62 98h1M66 98h1M83 98h1M87 98h1M58 95h1M71 95h1M92 95h1M114 95h1M39 89h1M39 88h1M37 87h2M55 87h1M71 87h1M92 87h1M114 87h1M26 85h1M42 85h1M46 85h1M62 85h1M66 85h1M83 85h1M87 85h1M5 84h1M21 84h1M27 84h2M41 84h1M47 84h2M61 84h1M67 84h2M82 84h1M88 84h2M104 84h1M110 84h2M125 84h1M5 80h1M21 80h1M27 80h2M41 80h1M47 80h2M61 80h1M67 80h2M82 80h1M88 80h2M104 80h1M110 80h2M125 80h1M26 79h1M42 79h1M46 79h1M62 79h1M66 79h1M83 79h1M87 79h1M26 78h1M42 78h1M46 78h1M62 78h1M66 78h1M83 78h1M87 78h1M55 75h1M39 71h1M51 71h1M59 71h1M38 69h1M59 69h1M58 68h2M29 66h1M49 66h1M69 66h1M90 66h1M126 66h1M30 65h1M50 65h1M53 65h1M70 65h1M91 65h1M113 65h1M30 60h1M50 60h1M53 60h1M70 60h1M91 60h1M113 60h1M26 59h1M42 59h1M46 59h1M62 59h1M66 59h1M83 59h1M87 59h1M8 58h1M19 58h1M23 58h3M33 58h1M36 58h1M40 58h1M43 58h3M60 58h1M63 58h3M81 58h1M84 58h3M102 58h1M106 58h3M0 57h1M4 57h1M26 57h1M42 57h1M46 57h1M62 57h1M66 57h1M83 57h1M87 57h1M29 45h1M49 45h1M69 45h1M90 45h1M126 45h1M30 44h1M50 44h1M53 44h1M70 44h1M91 44h1M113 44h1M30 39h1M50 39h1M53 39h1M70 39h1M91 39h1M113 39h1M26 38h1M42 38h1M46 38h1M62 38h1M66 38h1M83 38h1M87 38h1M8 37h1M19 37h1M23 37h3M33 37h1M36 37h1M40 37h1M43 37h3M60 37h1M63 37h3M81 37h1M84 37h3M102 37h1M106 37h3M0 36h1M4 36h1M26 36h1M42 36h1M46 36h1M62 36h1M66 36h1M83 36h1M87 36h1M105 25h1M109 25h1M126 25h1M7 24h1M22 24h1M29 24h1M49 24h1M69 24h1M90 24h1M105 24h1M109 24h1M112 24h2M126 24h1M1 22h3M8 22h1M40 22h1M60 22h1M81 22h1M1 17h3M8 17h1M40 17h1M60 17h1M81 17h1M26 16h1M42 16h1M46 16h1M62 16h1M66 16h1M83 16h1M87 16h1M20 15h1M103 15h1M106 15h3M124 15h1M0 14h1M4 14h1M26 14h1M42 14h1M46 14h1M62 14h1M66 14h1M83 14h1M87 14h1M26 1h1M42 1h1M46 1h1M62 1h1M66 1h1M83 1h1M87 1h1"/>
<path stroke="#fb4d00" d="M22 121h1M103 121h1M124 121h1M105 120h1M109 120h1M124 120h1M30 119h1M50 119h1M53 119h1M70 119h1M91 119h1M113 119h1M22 105h1M103 105h1M124 105h1M5 104h1M21 104h1M27 104h2M41 104h1M47 104h2M61 104h1M67 104h2M82 104h1M88 104h2M104 104h1M110 104h2M125 104h1M22 99h1M103 99h1M124 99h1M22 98h1M103 98h1M124 98h1M7 96h1M112 96h1M59 95h1M22 85h1M103 85h1M124 85h1M22 79h1M103 79h1M124 79h1M22 78h1M103 78h1M124 78h1M7 76h1M112 76h1M71 75h1M92 75h1M114 75h1M7 73h1M112 73h1M31 68h1M39 68h1M51 68h1M57 68h1M1 65h3M19 65h1M23 65h3M33 65h1M36 65h1M43 65h3M63 65h3M84 65h3M102 65h1M1 60h3M19 60h1M23 60h3M33 60h1M36 60h1M43 60h3M63 60h3M84 60h3M102 60h1M22 59h1M103 59h1M124 59h1M20 57h1M22 57h1M103 57h1M105 57h1M109 57h1M124 57h1M1 44h3M19 44h1M23 44h3M33 44h1M36 44h1M43 44h3M63 44h3M84 44h3M102 44h1M1 39h3M19 39h1M23 39h3M33 39h1M36 39h1M43 39h3M63 39h3M84 39h3M102 39h1M22 38h1M103 38h1M124 38h1M20 36h1M22 36h1M103 36h1M105 36h1M109 36h1M124 36h1M0 25h5M22 25h5M42 25h5M62 25h5M83 25h5M106 25h3M7 23h1M112 23h1M19 22h1M23 22h3M30 22h1M33 22h1M36 22h1M43 22h3M50 22h1M63 22h3M70 22h1M84 22h3M91 22h1M102 22h1M106 22h3M113 22h1M19 17h1M23 17h3M30 17h1M33 17h1M36 17h1M43 17h3M50 17h1M63 17h3M70 17h1M84 17h3M91 17h1M102 17h1M106 17h3M113 17h1M22 16h1M103 16h1M124 16h1M8 15h1M40 15h1M60 15h1M81 15h1M22 14h1M5 2h2M21 2h1M27 2h2M41 2h1M47 2h2M61 2h1M67 2h2M82 2h1M88 2h2M104 2h1M110 2h2M125 2h1M22 1h1M103 1h1M124 1h1"/>
<path stroke="#ec4200" d="M7 125h1M29 125h1M49 125h1M69 125h1M90 125h1M112 125h1M7 124h1M29 124h1M49 124h1M69 124h1M90 124h1M112 124h1M7 123h1M29 123h1M49 123h1M69 123h1M90 123h1M112 123h1M20 121h1M105 121h1M109 121h1M126 121h1M20 120h1M29 120h1M49 120h1M69 120h1M90 120h1M103 120h1M126 120h1M1 119h3M19 119h1M23 119h3M33 119h1M36 119h1M43 119h3M63 119h3M84 119h3M102 119h1M56 117h1M76 117h1M119 117h1M55 114h1M71 110h1M92 110h1M114 110h1M35 108h1M7 107h1M112 107h1M5 106h2M21 106h1M27 106h2M41 106h1M47 106h2M61 106h1M67 106h2M82 106h1M88 106h2M104 106h1M110 106h2M125 106h1M20 105h1M105 105h1M109 105h1M126 105h1M7 103h1M112 103h1M7 102h1M112 102h1M7 101h1M112 101h1M20 99h1M105 99h1M109 99h1M126 99h1M20 98h1M105 98h1M109 98h1M126 98h1M1 97h3M6 97h1M53 97h1M7 93h1M112 93h1M18 91h1M101 91h1M7 90h1M112 90h1M20 85h1M105 85h1M109 85h1M126 85h1M7 83h1M112 83h1M7 82h1M112 82h1M7 81h1M112 81h1M20 79h1M105 79h1M109 79h1M126 79h1M20 78h1M105 78h1M109 78h1M126 78h1M1 77h3M6 77h1M53 77h1M29 73h1M49 73h1M69 73h1M90 73h1M12 71h1M9 70h1M71 70h1M92 70h1M114 70h1M39 69h1M58 69h1M7 66h1M112 66h1M106 65h3M7 63h1M112 63h1M7 62h1M112 62h1M106 60h3M20 59h1M105 59h1M109 59h1M126 59h1M0 58h1M4 58h1M26 58h1M30 58h1M42 58h1M46 58h1M50 58h1M62 58h1M66 58h1M70 58h1M83 58h1M87 58h1M91 58h1M113 58h1M8 57h1M40 57h1M60 57h1M81 57h1M7 45h1M112 45h1M106 44h3M7 42h1M112 42h1M7 41h1M112 41h1M106 39h3M20 38h1M105 38h1M109 38h1M126 38h1M0 37h1M4 37h1M26 37h1M30 37h1M42 37h1M46 37h1M50 37h1M62 37h1M66 37h1M70 37h1M83 37h1M87 37h1M91 37h1M113 37h1M8 36h1M40 36h1M60 36h1M81 36h1M18 25h2M33 25h1M36 25h1M53 25h1M101 25h2M20 16h1M105 16h1M109 16h1M126 16h1M0 15h1M4 15h1M26 15h1M42 15h1M46 15h1M62 15h1M66 15h1M83 15h1M87 15h1M113 15h1M20 14h1M103 14h1M105 14h1M109 14h1M124 14h1M20 1h1M105 1h1M109 1h1M126 1h1M5 0h2M21 0h1M27 0h2M41 0h1M47 0h2M61 0h1M67 0h2M82 0h1M88 0h2M104 0h1M110 0h2M125 0h1"/>
<path stroke="#dd3800" d="M8 121h1M29 121h1M40 121h1M49 121h1M60 121h1M69 121h1M81 121h1M90 121h1M8 120h1M40 120h1M106 119h3M5 118h2M21 118h1M27 118h2M41 118h1M47 118h2M61 118h1M67 118h2M82 118h1M88 118h2M104 118h1M110 118h2M125 118h1M12 117h1M16 117h1M9 114h1M15 114h1M71 114h9M92 114h3M96 114h4M114 114h9M12 111h1M95 111h1M9 110h1M95 110h1M56 109h1M76 109h1M119 109h1M29 107h1M49 107h1M69 107h1M90 107h1M8 105h1M29 105h1M40 105h1M49 105h1M60 105h1M69 105h1M81 105h1M90 105h1M29 103h1M49 103h1M69 103h1M90 103h1M29 102h1M49 102h1M69 102h1M90 102h1M29 101h1M49 101h1M69 101h1M90 101h1M8 99h1M29 99h1M40 99h1M49 99h1M60 99h1M69 99h1M81 99h1M90 99h1M8 98h1M29 98h1M40 98h1M49 98h1M60 98h1M69 98h1M81 98h1M90 98h1M5 97h1M19 97h1M21 97h1M23 97h3M27 97h2M33 97h1M36 97h1M41 97h1M43 97h3M47 97h2M61 97h1M63 97h3M67 97h2M82 97h1M84 97h3M88 97h2M102 97h1M104 97h1M106 97h3M110 97h2M125 97h1M35 94h1M29 93h1M49 93h1M69 93h1M90 93h1M32 91h1M29 90h1M49 90h1M69 90h1M90 90h1M51 87h1M5 86h2M21 86h1M27 86h2M41 86h1M47 86h2M61 86h1M67 86h2M82 86h1M88 86h2M104 86h1M110 86h2M125 86h1M8 85h1M29 85h1M40 85h1M49 85h1M60 85h1M69 85h1M81 85h1M90 85h1M29 83h1M49 83h1M69 83h1M90 83h1M29 82h1M49 82h1M69 82h1M90 82h1M29 81h1M49 81h1M69 81h1M90 81h1M8 79h1M29 79h1M40 79h1M49 79h1M60 79h1M69 79h1M81 79h1M90 79h1M8 78h1M29 78h1M40 78h1M49 78h1M60 78h1M69 78h1M81 78h1M90 78h1M5 77h1M19 77h1M21 77h1M23 77h3M27 77h2M33 77h1M36 77h1M41 77h1M43 77h3M47 77h2M61 77h1M63 77h3M67 77h2M82 77h1M84 77h3M88 77h2M102 77h1M104 77h1M106 77h3M110 77h2M125 77h1M39 75h1M59 75h1M95 71h1M17 70h1M0 65h1M4 65h3M21 65h1M26 65h3M41 65h2M46 65h3M61 65h2M66 65h3M82 65h2M87 65h3M104 65h1M110 65h2M125 65h1M29 63h1M49 63h1M69 63h1M90 63h1M29 62h1M49 62h1M69 62h1M90 62h1M0 60h1M4 60h3M21 60h1M26 60h3M41 60h2M46 60h3M61 60h2M66 60h3M82 60h2M87 60h3M104 60h1M110 60h2M125 60h1M8 59h1M29 59h1M40 59h1M49 59h1M60 59h1M69 59h1M81 59h1M90 59h1M22 58h1M105 58h1M109 58h1M6 57h1M29 57h2M49 57h2M69 57h2M90 57h2M113 57h1M126 57h1M12 55h1M56 55h1M12 54h1M12 53h1M12 52h1M12 51h1M92 51h1M114 51h1M12 50h1M92 50h1M114 50h1M12 49h1M12 48h1M12 47h1M0 44h1M4 44h3M21 44h1M26 44h3M41 44h2M46 44h3M61 44h2M66 44h3M82 44h2M87 44h3M104 44h1M110 44h2M125 44h1M29 42h1M49 42h1M69 42h1M90 42h1M29 41h1M49 41h1M69 41h1M90 41h1M0 39h1M4 39h3M21 39h1M26 39h3M41 39h2M46 39h3M61 39h2M66 39h3M82 39h2M87 39h3M104 39h1M110 39h2M125 39h1M8 38h1M29 38h1M40 38h1M49 38h1M60 38h1M69 38h1M81 38h1M90 38h1M22 37h1M105 37h1M109 37h1M6 36h1M29 36h2M49 36h2M69 36h2M90 36h2M113 36h1M126 36h1M12 34h1M56 34h1M12 33h1M12 30h1M12 29h1M12 28h1M12 27h1M0 22h1M4 22h1M26 22h1M42 22h1M46 22h1M62 22h1M66 22h1M83 22h1M87 22h1M7 20h1M29 20h1M49 20h1M69 20h1M90 20h1M112 20h1M7 19h1M29 19h1M49 19h1M69 19h1M90 19h1M112 19h1M0 17h1M4 17h1M26 17h1M42 17h1M46 17h1M62 17h1M66 17h1M83 17h1M87 17h1M8 16h1M29 16h1M40 16h1M49 16h1M60 16h1M69 16h1M81 16h1M90 16h1M22 15h1M30 15h1M50 15h1M70 15h1M91 15h1M8 14h1M29 14h1M40 14h1M49 14h1M60 14h1M69 14h1M81 14h1M90 14h1M126 14h1M12 12h1M56 12h1M12 11h1M12 10h1M12 9h1M12 8h1M71 8h1M92 8h1M12 7h1M71 7h1M92 7h1M12 6h1M12 5h1M8 1h1M29 1h1M40 1h1M49 1h1M60 1h1M69 1h1M81 1h1M90 1h1"/>
<path stroke="#ce2d00" d="M126 125h1M126 124h1M126 123h1M7 121h1M30 121h1M50 121h1M70 121h1M91 121h1M112 121h2M7 120h1M60 120h1M81 120h1M112 120h2M5 119h2M21 119h1M27 119h2M41 119h1M47 119h2M61 119h1M67 119h2M82 119h1M88 119h2M104 119h1M110 119h2M125 119h1M15 117h1M95 117h1M12 116h1M56 116h1M95 116h1M12 115h1M56 115h1M95 115h1M10 114h2M13 114h2M17 114h1M54 114h1M56 114h1M80 114h1M100 114h1M123 114h1M12 113h1M56 113h1M95 113h1M12 112h1M56 112h1M95 112h1M9 111h1M56 111h1M71 111h1M92 111h1M114 111h1M17 110h1M54 110h2M123 110h1M12 109h1M16 109h1M7 105h1M30 105h1M50 105h1M70 105h1M91 105h1M112 105h2M53 104h1M126 103h1M126 102h1M126 101h1M7 99h1M30 99h1M50 99h1M70 99h1M91 99h1M112 99h2M7 98h1M30 98h1M50 98h1M70 98h1M91 98h1M112 98h2M5 96h1M21 96h1M27 96h2M41 96h1M47 96h2M61 96h1M67 96h2M82 96h1M88 96h2M104 96h1M110 96h2M125 96h1M35 93h1M33 91h1M36 91h1M35 90h1M105 90h1M109 90h1M58 89h1M58 88h1M57 87h1M7 85h1M30 85h1M50 85h1M70 85h1M91 85h1M112 85h2M126 83h1M126 82h1M126 81h1M7 79h1M30 79h1M50 79h1M70 79h1M91 79h1M112 79h2M7 78h1M30 78h1M50 78h1M70 78h1M91 78h1M112 78h2M5 76h1M21 76h1M27 76h2M41 76h1M47 76h2M61 76h1M67 76h2M82 76h1M88 76h2M104 76h1M110 76h2M125 76h1M22 73h1M105 73h1M109 73h1M126 73h1M12 72h1M16 72h1M76 72h1M119 72h1M16 71h1M56 71h1M76 71h1M119 71h1M10 70h6M55 70h1M72 70h4M77 70h4M93 70h8M115 70h4M120 70h4M31 69h1M51 69h1M8 66h1M20 66h1M103 66h1M124 66h1M22 65h1M29 65h1M49 65h1M69 65h1M90 65h1M105 65h1M109 65h1M126 65h1M7 64h1M29 64h1M49 64h1M69 64h1M90 64h1M112 64h1M126 63h1M126 62h1M7 61h1M29 61h1M49 61h1M69 61h1M90 61h1M112 61h1M22 60h1M29 60h1M49 60h1M69 60h1M90 60h1M105 60h1M109 60h1M126 60h1M7 59h1M30 59h1M50 59h1M70 59h1M91 59h1M112 59h2M6 58h1M126 58h1M5 57h1M7 57h1M21 57h1M27 57h2M41 57h1M47 57h2M61 57h1M67 57h2M82 57h1M88 57h2M104 57h1M110 57h3M125 57h1M16 55h1M76 55h1M95 55h1M119 55h1M56 54h1M95 54h1M56 53h1M95 53h1M56 52h1M95 52h1M9 51h1M71 51h1M95 51h1M9 50h1M71 50h1M95 50h1M56 49h1M95 49h1M56 48h1M95 48h1M56 47h1M95 47h1M8 45h1M20 45h1M103 45h1M124 45h1M22 44h1M29 44h1M49 44h1M69 44h1M90 44h1M105 44h1M109 44h1M126 44h1M7 43h1M29 43h1M49 43h1M69 43h1M90 43h1M112 43h1M126 42h1M126 41h1M7 40h1M29 40h1M49 40h1M69 40h1M90 40h1M112 40h1M22 39h1M29 39h1M49 39h1M69 39h1M90 39h1M105 39h1M109 39h1M126 39h1M7 38h1M30 38h1M50 38h1M70 38h1M91 38h1M112 38h2M6 37h1M126 37h1M5 36h1M7 36h1M21 36h1M27 36h2M41 36h1M47 36h2M61 36h1M67 36h2M82 36h1M88 36h2M104 36h1M110 36h3M125 36h1M16 34h1M76 34h1M95 34h1M119 34h1M56 33h1M16 32h1M55 32h2M76 32h1M119 32h1M16 31h1M55 31h2M76 31h1M119 31h1M56 30h1M56 29h1M56 28h1M56 27h1M5 23h2M8 23h1M20 23h2M27 23h2M41 23h1M47 23h2M61 23h1M67 23h2M82 23h1M88 23h2M103 23h2M110 23h2M124 23h2M5 22h2M21 22h2M27 22h3M41 22h1M47 22h3M61 22h1M67 22h3M82 22h1M88 22h3M104 22h2M109 22h3M125 22h2M7 21h1M29 21h1M49 21h1M69 21h1M90 21h1M112 21h1M7 18h1M29 18h1M49 18h1M69 18h1M90 18h1M112 18h1M5 17h2M21 17h2M27 17h3M41 17h1M47 17h3M61 17h1M67 17h3M82 17h1M88 17h3M104 17h2M109 17h3M125 17h2M7 16h1M30 16h1M50 16h1M70 16h1M91 16h1M112 16h2M105 15h1M109 15h1M126 15h1M5 14h3M21 14h1M27 14h2M30 14h1M41 14h1M47 14h2M50 14h1M61 14h1M67 14h2M70 14h1M82 14h1M88 14h2M91 14h1M104 14h1M110 14h4M125 14h1M16 12h1M76 12h1M95 12h1M119 12h1M56 11h1M95 11h1M56 10h1M95 10h1M56 9h1M95 9h1M9 8h1M95 8h1M114 8h1M9 7h1M95 7h1M114 7h1M56 6h1M95 6h1M56 5h1M95 5h1M12 4h1M56 4h1M95 4h1M7 1h1M30 1h1M50 1h1M70 1h1M91 1h1M112 1h2M1 0h3M23 0h3M43 0h3M53 0h1M63 0h3M84 0h3"/>
<path stroke="#bf2200" d="M7 126h1M29 126h1M36 126h1M49 126h1M53 126h1M69 126h1M90 126h1M112 126h1M22 125h1M105 125h1M109 125h1M22 124h1M105 124h1M109 124h1M22 123h1M105 123h1M109 123h1M7 122h1M29 122h1M36 122h1M49 122h1M53 122h1M69 122h1M90 122h1M112 122h1M30 120h1M50 120h1M70 120h1M91 120h1M0 119h1M4 119h1M22 119h1M26 119h1M42 119h1M46 119h1M62 119h1M66 119h1M83 119h1M87 119h1M105 119h1M109 119h1M40 118h1M60 118h1M81 118h1M103 118h1M124 118h1M10 117h2M13 117h2M55 117h1M72 117h4M77 117h3M93 117h2M96 117h4M115 117h4M120 117h3M9 116h1M71 116h1M76 116h1M92 116h1M114 116h1M119 116h1M9 115h1M71 115h1M76 115h1M92 115h1M114 115h1M119 115h1M16 114h1M9 113h1M71 113h1M76 113h1M92 113h1M114 113h1M119 113h1M9 112h1M71 112h1M76 112h1M92 112h1M114 112h1M119 112h1M17 111h1M54 111h1M76 111h1M119 111h1M12 110h1M56 110h1M72 110h4M77 110h4M93 110h2M96 110h5M115 110h4M120 110h3M15 109h1M55 109h1M95 109h1M22 107h1M105 107h1M109 107h1M126 107h1M1 104h3M7 104h1M19 104h1M23 104h3M29 104h1M33 104h1M36 104h1M43 104h3M49 104h1M63 104h3M69 104h1M84 104h3M90 104h1M102 104h1M112 104h1M22 103h1M105 103h1M109 103h1M22 102h1M105 102h1M109 102h1M22 101h1M105 101h1M109 101h1M7 100h1M29 100h1M36 100h1M49 100h1M53 100h1M69 100h1M90 100h1M112 100h1M0 97h1M4 97h1M22 97h1M26 97h1M42 97h1M46 97h1M62 97h1M66 97h1M83 97h1M87 97h1M105 97h1M109 97h1M6 96h1M103 96h1M124 96h1M39 95h1M57 95h1M22 93h1M105 93h1M109 93h1M126 93h1M0 90h1M4 90h1M22 90h1M26 90h1M42 90h1M46 90h1M62 90h1M66 90h1M83 90h1M87 90h1M126 90h1M31 87h1M8 86h1M7 84h1M29 84h1M36 84h1M49 84h1M53 84h1M69 84h1M90 84h1M112 84h1M22 83h1M105 83h1M109 83h1M22 82h1M105 82h1M109 82h1M22 81h1M105 81h1M109 81h1M7 80h1M29 80h1M36 80h1M49 80h1M53 80h1M69 80h1M90 80h1M112 80h1M0 77h1M4 77h1M22 77h1M26 77h1M42 77h1M46 77h1M62 77h1M66 77h1M83 77h1M87 77h1M105 77h1M109 77h1M6 76h1M103 76h1M124 76h1M0 73h1M4 73h1M26 73h1M42 73h1M46 73h1M62 73h1M66 73h1M83 73h1M87 73h1M15 72h1M55 72h2M71 72h1M92 72h1M95 72h1M114 72h1M9 71h1M17 71h1M54 71h1M71 71h1M92 71h1M114 71h1M16 70h1M54 70h1M57 69h1M5 66h2M21 66h1M27 66h2M30 66h1M40 66h2M47 66h2M50 66h1M60 66h2M67 66h2M70 66h1M81 66h2M88 66h2M91 66h1M104 66h1M110 66h2M113 66h1M125 66h1M7 65h1M112 65h1M53 64h1M126 64h1M22 63h1M105 63h1M109 63h1M22 62h1M105 62h1M109 62h1M53 61h1M126 61h1M7 60h1M112 60h1M5 58h1M7 58h1M21 58h1M27 58h3M41 58h1M47 58h3M61 58h1M67 58h3M82 58h1M88 58h3M104 58h1M110 58h3M125 58h1M15 55h1M54 55h2M9 54h1M16 54h1M71 54h1M92 54h1M114 54h1M119 54h1M9 53h1M16 53h1M71 53h1M92 53h1M114 53h1M119 53h1M9 52h1M16 52h1M71 52h1M92 52h1M114 52h1M119 52h1M17 51h1M54 51h3M123 51h1M17 50h1M54 50h3M123 50h1M9 49h1M16 49h1M71 49h1M92 49h1M114 49h1M119 49h1M9 48h1M16 48h1M71 48h1M92 48h1M114 48h1M119 48h1M9 47h1M16 47h1M71 47h1M76 47h1M92 47h1M114 47h1M119 47h1M5 45h2M21 45h1M27 45h2M30 45h1M40 45h2M47 45h2M50 45h1M60 45h2M67 45h2M70 45h1M81 45h2M88 45h2M91 45h1M104 45h1M110 45h2M113 45h1M125 45h1M7 44h1M112 44h1M53 43h1M126 43h1M22 42h1M105 42h1M109 42h1M22 41h1M105 41h1M109 41h1M53 40h1M126 40h1M7 39h1M112 39h1M5 37h1M7 37h1M21 37h1M27 37h3M41 37h1M47 37h3M61 37h1M67 37h3M82 37h1M88 37h3M104 37h1M110 37h3M125 37h1M15 34h1M54 34h2M9 33h1M16 33h1M71 33h1M76 33h1M92 33h1M95 33h1M114 33h1M119 33h1M9 32h7M17 32h1M54 32h1M71 32h5M77 32h4M92 32h8M114 32h5M120 32h4M9 31h7M17 31h1M54 31h1M71 31h5M77 31h4M92 31h8M114 31h5M120 31h4M9 30h1M16 30h1M71 30h1M76 30h1M92 30h1M95 30h1M114 30h1M119 30h1M9 29h1M16 29h1M71 29h1M76 29h1M92 29h1M95 29h1M114 29h1M119 29h1M9 28h1M16 28h1M71 28h1M76 28h1M92 28h1M95 28h1M114 28h1M119 28h1M9 27h1M16 27h1M71 27h1M76 27h1M92 27h1M95 27h1M114 27h1M119 27h1M30 23h1M40 23h1M50 23h1M60 23h1M70 23h1M81 23h1M91 23h1M113 23h1M7 22h1M112 22h1M1 21h3M19 21h1M33 21h1M36 21h1M53 21h1M102 21h1M126 21h1M105 20h1M109 20h1M126 20h1M105 19h1M109 19h1M126 19h1M1 18h3M19 18h1M33 18h1M36 18h1M53 18h1M102 18h1M126 18h1M7 17h1M112 17h1M5 15h3M21 15h1M27 15h3M41 15h1M47 15h3M61 15h1M67 15h3M82 15h1M88 15h3M104 15h1M110 15h3M125 15h1M15 12h1M54 12h2M9 11h1M16 11h1M71 11h1M76 11h1M92 11h1M114 11h1M9 10h1M16 10h1M71 10h1M76 10h1M92 10h1M114 10h1M9 9h1M16 9h1M71 9h1M76 9h1M92 9h1M114 9h1M17 8h1M54 8h3M17 7h1M54 7h3M9 6h1M16 6h1M71 6h1M76 6h1M92 6h1M114 6h1M9 5h1M16 5h1M71 5h1M76 5h1M92 5h1M114 5h1M16 4h1M71 4h1M76 4h1M92 4h1M119 4h1M8 2h1M30 2h1M50 2h1M70 2h1M91 2h1M113 2h1M19 0h1M33 0h1M36 0h1M102 0h1M106 0h3"/>
<path stroke="#b01700" d="M0 126h5M19 126h1M22 126h5M33 126h1M42 126h5M62 126h5M83 126h5M102 126h1M105 126h5M126 126h1M0 125h5M19 125h1M23 125h4M33 125h1M36 125h1M42 125h5M53 125h1M62 125h5M83 125h5M102 125h1M106 125h3M0 124h5M19 124h1M23 124h4M33 124h1M36 124h1M42 124h5M53 124h1M62 124h5M83 124h5M102 124h1M106 124h3M0 123h5M19 123h1M23 123h4M33 123h1M36 123h1M42 123h5M53 123h1M62 123h5M83 123h5M102 123h1M106 123h3M0 122h5M19 122h1M22 122h5M33 122h1M42 122h5M62 122h5M83 122h5M102 122h1M105 122h5M126 122h1M5 121h2M21 121h1M27 121h2M41 121h1M47 121h2M61 121h1M67 121h2M82 121h1M88 121h2M104 121h1M110 121h2M125 121h1M5 120h2M21 120h1M27 120h2M41 120h1M47 120h2M61 120h1M67 120h2M82 120h1M88 120h2M104 120h1M110 120h2M125 120h1M7 119h1M29 119h1M49 119h1M69 119h1M90 119h1M112 119h1M126 119h1M8 118h1M20 118h1M30 118h1M50 118h1M70 118h1M91 118h1M113 118h1M9 117h1M17 117h1M54 117h1M71 117h1M80 117h1M92 117h1M100 117h1M114 117h1M123 117h1M10 116h2M13 116h5M54 116h2M72 116h4M77 116h4M93 116h2M96 116h5M115 116h4M120 116h4M10 115h2M13 115h5M54 115h2M72 115h4M77 115h4M93 115h2M96 115h5M115 115h4M120 115h4M12 114h1M95 114h1M10 113h2M13 113h5M54 113h2M72 113h4M77 113h4M93 113h2M96 113h5M115 113h4M120 113h4M10 112h2M13 112h5M54 112h2M72 112h4M77 112h4M93 112h2M96 112h5M115 112h4M120 112h4M10 111h2M13 111h4M55 111h1M72 111h4M77 111h4M93 111h2M96 111h5M115 111h4M120 111h4M10 110h2M13 110h4M76 110h1M119 110h1M9 109h3M13 109h2M17 109h1M54 109h1M71 109h5M77 109h4M92 109h3M96 109h5M114 109h5M120 109h4M18 108h1M101 108h1M0 107h5M19 107h1M23 107h4M33 107h1M36 107h1M42 107h5M53 107h1M62 107h5M83 107h5M102 107h1M106 107h3M8 106h1M20 106h1M30 106h1M40 106h1M50 106h1M60 106h1M70 106h1M81 106h1M91 106h1M103 106h1M113 106h1M124 106h1M5 105h2M21 105h1M27 105h2M41 105h1M47 105h2M61 105h1M67 105h2M82 105h1M88 105h2M104 105h1M110 105h2M125 105h1M0 104h1M4 104h1M22 104h1M26 104h1M42 104h1M46 104h1M62 104h1M66 104h1M83 104h1M87 104h1M105 104h5M126 104h1M0 103h5M19 103h1M23 103h4M33 103h1M36 103h1M42 103h5M53 103h1M62 103h5M83 103h5M102 103h1M106 103h3M0 102h5M19 102h1M23 102h4M33 102h1M36 102h1M42 102h5M53 102h1M62 102h5M83 102h5M102 102h1M106 102h3M0 101h5M19 101h1M23 101h4M33 101h1M36 101h1M42 101h5M53 101h1M62 101h5M83 101h5M102 101h1M106 101h3M0 100h5M19 100h1M22 100h5M33 100h1M42 100h5M62 100h5M83 100h5M102 100h1M105 100h5M126 100h1M5 99h2M21 99h1M27 99h2M41 99h1M47 99h2M61 99h1M67 99h2M82 99h1M88 99h2M104 99h1M110 99h2M125 99h1M5 98h2M21 98h1M27 98h2M41 98h1M47 98h2M61 98h1M67 98h2M82 98h1M88 98h2M104 98h1M110 98h2M125 98h1M7 97h1M29 97h1M49 97h1M69 97h1M90 97h1M112 97h1M126 97h1M8 96h1M20 96h1M30 96h1M40 96h1M50 96h1M60 96h1M70 96h1M81 96h1M91 96h1M113 96h1M31 95h1M51 95h1M32 94h1M52 94h1M0 93h5M19 93h1M23 93h4M33 93h1M36 93h1M42 93h5M53 93h1M62 93h5M83 93h5M102 93h1M106 93h3M34 92h1M35 91h1M1 90h3M19 90h1M23 90h3M33 90h1M36 90h1M43 90h3M53 90h1M63 90h3M84 90h3M102 90h1M106 90h3M37 89h2M37 88h2M39 87h1M59 87h1M20 86h1M30 86h1M40 86h1M50 86h1M60 86h1M70 86h1M81 86h1M91 86h1M103 86h1M113 86h1M124 86h1M5 85h2M21 85h1M27 85h2M41 85h1M47 85h2M61 85h1M67 85h2M82 85h1M88 85h2M104 85h1M110 85h2M125 85h1M0 84h5M19 84h1M22 84h5M33 84h1M42 84h5M62 84h5M83 84h5M102 84h1M105 84h5M126 84h1M0 83h5M19 83h1M23 83h4M33 83h1M36 83h1M42 83h5M53 83h1M62 83h5M83 83h5M102 83h1M106 83h3M0 82h5M19 82h1M23 82h4M33 82h1M36 82h1M42 82h5M53 82h1M62 82h5M83 82h5M102 82h1M106 82h3M0 81h5M19 81h1M23 81h4M33 81h1M36 81h1M42 81h5M53 81h1M62 81h5M83 81h5M102 81h1M106 81h3M0 80h5M19 80h1M22 80h5M33 80h1M42 80h5M62 80h5M83 80h5M102 80h1M105 80h5M126 80h1M5 79h2M21 79h1M27 79h2M41 79h1M47 79h2M61 79h1M67 79h2M82 79h1M88 79h2M104 79h1M110 79h2M125 79h1M5 78h2M21 78h1M27 78h2M41 78h1M47 78h2M61 78h1M67 78h2M82 78h1M88 78h2M104 78h1M110 78h2M125 78h1M7 77h1M29 77h1M49 77h1M69 77h1M90 77h1M112 77h1M126 77h1M8 76h1M20 76h1M30 76h1M40 76h1M50 76h1M60 76h1M70 76h1M81 76h1M91 76h1M113 76h1M31 75h1M51 75h1M57 75h1M32 74h1M52 74h1M1 73h3M19 73h1M23 73h3M33 73h1M36 73h1M43 73h3M53 73h1M63 73h3M84 73h3M102 73h1M106 73h3M9 72h3M13 72h2M17 72h1M54 72h1M72 72h4M77 72h4M93 72h2M96 72h5M115 72h4M120 72h4M10 71h2M13 71h3M55 71h1M72 71h4M77 71h4M93 71h2M96 71h5M115 71h4M120 71h4M56 70h1M76 70h1M119 70h1M0 64h5M19 64h1M22 64h5M33 64h1M36 64h1M42 64h5M62 64h5M83 64h5M102 64h1M105 64h5M0 63h5M19 63h1M23 63h4M33 63h1M36 63h1M42 63h5M53 63h1M62 63h5M83 63h5M102 63h1M106 63h3M0 62h5M19 62h1M23 62h4M33 62h1M36 62h1M42 62h5M53 62h1M62 62h5M83 62h5M102 62h1M106 62h3M0 61h5M19 61h1M22 61h5M33 61h1M36 61h1M42 61h5M62 61h5M83 61h5M102 61h1M105 61h5M5 59h2M21 59h1M27 59h2M41 59h1M47 59h2M61 59h1M67 59h2M82 59h1M88 59h2M104 59h1M110 59h2M125 59h1M9 55h3M13 55h2M17 55h1M71 55h5M77 55h4M92 55h3M96 55h5M114 55h5M120 55h4M10 54h2M13 54h3M17 54h1M54 54h2M72 54h9M93 54h2M96 54h5M115 54h4M120 54h4M10 53h2M13 53h3M17 53h1M54 53h2M72 53h9M93 53h2M96 53h5M115 53h4M120 53h4M10 52h2M13 52h3M17 52h1M54 52h2M72 52h9M93 52h2M96 52h5M115 52h4M120 52h4M10 51h2M13 51h4M72 51h9M93 51h2M96 51h5M115 51h8M10 50h2M13 50h4M72 50h9M93 50h2M96 50h5M115 50h8M10 49h2M13 49h3M17 49h1M54 49h2M72 49h9M93 49h2M96 49h5M115 49h4M120 49h4M10 48h2M13 48h3M17 48h1M54 48h2M72 48h9M93 48h2M96 48h5M115 48h4M120 48h4M10 47h2M13 47h3M17 47h1M54 47h2M72 47h4M77 47h4M93 47h2M96 47h5M115 47h4M120 47h4M0 43h5M19 43h1M22 43h5M33 43h1M36 43h1M42 43h5M62 43h5M83 43h5M102 43h1M105 43h5M0 42h5M19 42h1M23 42h4M33 42h1M36 42h1M42 42h5M53 42h1M62 42h5M83 42h5M102 42h1M106 42h3M0 41h5M19 41h1M23 41h4M33 41h1M36 41h1M42 41h5M53 41h1M62 41h5M83 41h5M102 41h1M106 41h3M0 40h5M19 40h1M22 40h5M33 40h1M36 40h1M42 40h5M62 40h5M83 40h5M102 40h1M105 40h5M5 38h2M21 38h1M27 38h2M41 38h1M47 38h2M61 38h1M67 38h2M82 38h1M88 38h2M104 38h1M110 38h2M125 38h1M9 34h3M13 34h2M17 34h1M71 34h5M77 34h4M92 34h3M96 34h5M114 34h5M120 34h4M10 33h2M13 33h3M17 33h1M54 33h2M72 33h4M77 33h4M93 33h2M96 33h5M115 33h4M120 33h4M100 32h1M100 31h1M10 30h2M13 30h3M17 30h1M54 30h2M72 30h4M77 30h4M93 30h2M96 30h5M115 30h4M120 30h4M10 29h2M13 29h3M17 29h1M54 29h2M72 29h4M77 29h4M93 29h2M96 29h5M115 29h4M120 29h4M10 28h2M13 28h3M17 28h1M54 28h2M72 28h4M77 28h4M93 28h2M96 28h5M115 28h4M120 28h4M10 27h2M13 27h3M17 27h1M54 27h2M72 27h4M77 27h4M93 27h2M96 27h5M115 27h4M120 27h4M0 21h1M4 21h1M22 21h5M42 21h5M62 21h5M83 21h5M105 21h5M0 20h5M19 20h1M22 20h5M33 20h1M36 20h1M42 20h5M53 20h1M62 20h5M83 20h5M102 20h1M106 20h3M0 19h5M19 19h1M22 19h5M33 19h1M36 19h1M42 19h5M53 19h1M62 19h5M83 19h5M102 19h1M106 19h3M0 18h1M4 18h1M22 18h5M42 18h5M62 18h5M83 18h5M105 18h5M5 16h2M21 16h1M27 16h2M41 16h1M47 16h2M61 16h1M67 16h2M82 16h1M88 16h2M104 16h1M110 16h2M125 16h1M9 12h3M13 12h2M17 12h1M71 12h5M77 12h4M92 12h3M96 12h5M114 12h5M120 12h4M10 11h2M13 11h3M17 11h1M54 11h2M72 11h4M77 11h4M93 11h2M96 11h5M115 11h9M10 10h2M13 10h3M17 10h1M54 10h2M72 10h4M77 10h4M93 10h2M96 10h5M115 10h9M10 9h2M13 9h3M17 9h1M54 9h2M72 9h4M77 9h4M93 9h2M96 9h5M115 9h9M10 8h2M13 8h4M72 8h9M93 8h2M96 8h5M115 8h9M10 7h2M13 7h4M72 7h9M93 7h2M96 7h5M115 7h9M10 6h2M13 6h3M17 6h1M54 6h2M72 6h4M77 6h4M93 6h2M96 6h5M115 6h9M10 5h2M13 5h3M17 5h1M54 5h2M72 5h4M77 5h4M93 5h2M96 5h5M115 5h9M9 4h3M13 4h3M17 4h1M54 4h2M72 4h4M77 4h4M93 4h2M96 4h5M114 4h5M120 4h4M20 2h1M40 2h1M60 2h1M81 2h1M103 2h1M124 2h1M5 1h2M21 1h1M27 1h2M41 1h1M47 1h2M61 1h1M67 1h2M82 1h1M88 1h2M104 1h1M110 1h2M125 1h1M0 0h1M4 0h1M7 0h1M22 0h1M26 0h1M29 0h1M42 0h1M46 0h1M49 0h1M62 0h1M66 0h1M69 0h1M83 0h1M87 0h1M90 0h1M105 0h1M109 0h1M112 0h1M126 0h1"/>
</g></g>
<rect x="121.1" y="545.7" width="35.9" height="35.9" fill="none" stroke="#000" stroke-width="2.3" stroke-dasharray="9.2 10.8" stroke-linecap="round"/>
<rect x="206.5" y="446.9" width="49.4" height="49.4" fill="none" stroke="#000" stroke-width="2.3" stroke-dasharray="9.2 10.8" stroke-linecap="round"/>
<rect x="305.3" y="352.6" width="44.9" height="44.9" fill="none" stroke="#000" stroke-width="2.3" stroke-dasharray="9.2 10.8" stroke-linecap="round"/>
<rect x="399.6" y="267.2" width="35.9" height="35.9" fill="none" stroke="#000" stroke-width="2.3" stroke-dasharray="9.2 10.8" stroke-linecap="round"/>
<rect x="484.9" y="168.4" width="49.4" height="49.4" fill="none" stroke="#000" stroke-width="2.3" stroke-dasharray="9.2 10.8" stroke-linecap="round"/>
<rect x="583.7" y="78.6" width="40.4" height="40.4" fill="none" stroke="#000" stroke-width="2.3" stroke-dasharray="9.2 10.8" stroke-linecap="round"/>
<text x="88.2" y="591.1" font-size="39.6">C</text>
<text x="171.1" y="505.8" font-size="39.3">G</text>
<text x="274.6" y="407.0" font-size="39.3">A</text>
<text x="365.5" y="313.0" font-size="39">C</text>
<text x="449.0" y="227.5" font-size="39">G</text>
<text x="555.5" y="127.0" font-size="39">T</text>
<g font-size="8.1" text-anchor="end">
<text x="72.5" y="622.7" fill="#ff0000">0</text>
<text x="72.5" y="618.2" fill="#ffa500">1</text>
<text x="72.5" y="613.7" fill="#ff0000">2</text>
<text x="72.5" y="609.2" fill="#ff0000">3</text>
<text x="72.5" y="604.7" fill="#ff0000">4</text>
<text x="72.5" y="600.2" fill="#000000">5</text>
<text x="72.5" y="595.7" fill="#000000">6</text>
<text x="72.5" y="591.2" fill="#ff0000">7</text>
<text x="72.5" y="586.7" fill="#000000">8</text>
<text x="72.5" y="582.2" fill="#0000ff">9</text>
<text x="72.5" y="577.7" fill="#000000">10</text>
<text x="72.5" y="573.3" fill="#ff0000">11</text>
<text x="72.5" y="568.8" fill="#0000ff">12</text>
<text x="72.5" y="564.3" fill="#000000">13</text>
<text x="72.5" y="559.8" fill="#0000ff">14</text>
<text x="72.5" y="555.3" fill="#000000">15</text>
<text x="72.5" y="550.8" fill="#000000">16</text>
<text x="72.5" y="546.3" fill="#000000">17</text>
<text x="72.5" y="541.8" fill="#000000">18</text>
<text x="72.5" y="537.3" fill="#ff0000">19</text>
<text x="72.5" y="532.8" fill="#ffa500">20</text>
<text x="72.5" y="528.3" fill="#ff0000">21</text>
<text x="72.5" y="523.9" fill="#ff0000">22</text>
<text x="72.5" y="519.4" fill="#ff0000">23</text>
<text x="72.5" y="514.9" fill="#000000">24</text>
<text x="72.5" y="510.4" fill="#000000">25</text>
<text x="72.5" y="505.9" fill="#ff0000">26</text>
<text x="72.5" y="501.4" fill="#000000">27</text>
<text x="72.5" y="496.9" fill="#0000ff">28</text>
<text x="72.5" y="492.4" fill="#000000">29</text>
<text x="72.5" y="487.9" fill="#0000ff">30</text>
<text x="72.5" y="483.4" fill="#000000">31</text>
<text x="72.5" y="479.0" fill="#000000">32</text>
<text x="72.5" y="474.5" fill="#0000ff">33</text>
<text x="72.5" y="470.0" fill="#000000">34</text>
<text x="72.5" y="465.5" fill="#0000ff">35</text>
<text x="72.5" y="461.0" fill="#0000ff">36</text>
<text x="72.5" y="456.5" fill="#000000">37</text>
<text x="72.5" y="452.0" fill="#ff0000">38</text>
<text x="72.5" y="447.5" fill="#000000">39</text>
<text x="72.5" y="443.0" fill="#000000">40</text>
<text x="72.5" y="438.5" fill="#ff0000">41</text>
<text x="72.5" y="434.0" fill="#ffa500">42</text>
<text x="72.5" y="429.6" fill="#ff0000">43</text>
<text x="72.5" y="425.1" fill="#ff0000">44</text>
<text x="72.5" y="420.6" fill="#ff0000">45</text>
<text x="72.5" y="416.1" fill="#000000">46</text>
<text x="72.5" y="411.6" fill="#000000">47</text>
<text x="72.5" y="407.1" fill="#ff0000">48</text>
<text x="72.5" y="402.6" fill="#000000">49</text>
<text x="72.5" y="398.1" fill="#0000ff">50</text>
<text x="72.5" y="393.6" fill="#000000">51</text>
<text x="72.5" y="389.1" fill="#0000ff">52</text>
<text x="72.5" y="384.6" fill="#000000">53</text>
<text x="72.5" y="380.2" fill="#000000">54</text>
<text x="72.5" y="375.7" fill="#0000ff">55</text>
<text x="72.5" y="371.2" fill="#0000ff">56</text>
<text x="72.5" y="366.7" fill="#000000">57</text>
<text x="72.5" y="362.2" fill="#0000ff">58</text>
<text x="72.5" y="357.7" fill="#000000">59</text>
<text x="72.5" y="353.2" fill="#000000">60</text>
<text x="72.5" y="348.7" fill="#000000">61</text>
<text x="72.5" y="344.2" fill="#ff0000">62</text>
<text x="72.5" y="339.7" fill="#ffa500">63</text>
<text x="72.5" y="335.2" fill="#ff0000">64</text>
<text x="72.5" y="330.8" fill="#ff0000">65</text>
<text x="72.5" y="326.3" fill="#ff0000">66</text>
<text x="72.5" y="321.8" fill="#000000">67</text>
<text x="72.5" y="317.3" fill="#000000">68</text>
<text x="72.5" y="312.8" fill="#ff0000">69</text>
<text x="72.5" y="308.3" fill="#000000">70</text>
<text x="72.5" y="303.8" fill="#0000ff">71</text>
<text x="72.5" y="299.3" fill="#000000">72</text>
<text x="72.5" y="294.8" fill="#ff0000">73</text>
<text x="72.5" y="290.3" fill="#0000ff">74</text>
<text x="72.5" y="285.9" fill="#000000">75</text>
<text x="72.5" y="281.4" fill="#0000ff">76</text>
<text x="72.5" y="276.9" fill="#000000">77</text>
<text x="72.5" y="272.4" fill="#000000">78</text>
<text x="72.5" y="267.9" fill="#000000">79</text>
<text x="72.5" y="263.4" fill="#000000">80</text>
<text x="72.5" y="258.9" fill="#ff0000">81</text>
<text x="72.5" y="254.4" fill="#ffa500">82</text>
<text x="72.5" y="249.9" fill="#ff0000">83</text>
<text x="72.5" y="245.4" fill="#ff0000">84</text>
<text x="72.5" y="240.9" fill="#ff0000">85</text>
<text x="72.5" y="236.5" fill="#000000">86</text>
<text x="72.5" y="232.0" fill="#000000">87</text>
<text x="72.5" y="227.5" fill="#ff0000">88</text>
<text x="72.5" y="223.0" fill="#000000">89</text>
<text x="72.5" y="218.5" fill="#0000ff">90</text>
<text x="72.5" y="214.0" fill="#000000">91</text>
<text x="72.5" y="209.5" fill="#0000ff">92</text>
<text x="72.5" y="205.0" fill="#000000">93</text>
<text x="72.5" y="200.5" fill="#000000">94</text>
<text x="72.5" y="196.0" fill="#0000ff">95</text>
<text x="72.5" y="191.5" fill="#000000">96</text>
<text x="72.5" y="187.1" fill="#0000ff">97</text>
<text x="72.5" y="182.6" fill="#0000ff">98</text>
<text x="72.5" y="178.1" fill="#000000">99</text>
<text x="72.5" y="173.6" fill="#ff0000">100</text>
<text x="72.5" y="169.1" fill="#000000">101</text>
<text x="72.5" y="164.6" fill="#000000">102</text>
<text x="72.5" y="160.1" fill="#ff0000">103</text>
<text x="72.5" y="155.6" fill="#ffa500">104</text>
<text x="72.5" y="151.1" fill="#ff0000">105</text>
<text x="72.5" y="146.6" fill="#ff0000">106</text>
<text x="72.5" y="142.1" fill="#ff0000">107</text>
<text x="72.5" y="137.7" fill="#000000">108</text>
<text x="72.5" y="133.2" fill="#000000">109</text>
<text x="72.5" y="128.7" fill="#ff0000">110</text>
<text x="72.5" y="124.2" fill="#000000">111</text>
<text x="72.5" y="119.7" fill="#0000ff">112</text>
<text x="72.5" y="115.2" fill="#000000">113</text>
<text x="72.5" y="110.7" fill="#ff0000">114</text>
<text x="72.5" y="106.2" fill="#0000ff">115</text>
<text x="72.5" y="101.7" fill="#000000">116</text>
<text x="72.5" y="97.2" fill="#ff0000">117</text>
<text x="72.5" y="92.7" fill="#000000">118</text>
<text x="72.5" y="88.3" fill="#000000">119</text>
<text x="72.5" y="83.8" fill="#000000">120</text>
<text x="72.5" y="79.3" fill="#000000">121</text>
<text x="72.5" y="74.8" fill="#000000">122</text>
<text x="72.5" y="70.3" fill="#ff0000">123</text>
</g>
<g font-size="8.1" text-anchor="end">
<text transform="translate(85.8 630.4) rotate(-90)" fill="#ff0000">0</text>
<text transform="translate(90.3 630.4) rotate(-90)" fill="#ffa500">1</text>
<text transform="translate(94.8 630.4) rotate(-90)" fill="#ff0000">2</text>
<text transform="translate(99.3 630.4) rotate(-90)" fill="#ff0000">3</text>
<text transform="translate(103.8 630.4) rotate(-90)" fill="#ff0000">4</text>
<text transform="translate(108.3 630.4) rotate(-90)" fill="#000000">5</text>
<text transform="translate(112.8 630.4) rotate(-90)" fill="#000000">6</text>
<text transform="translate(117.3 630.4) rotate(-90)" fill="#ff0000">7</text>
<text transform="translate(121.8 630.4) rotate(-90)" fill="#000000">8</text>
<text transform="translate(126.3 630.4) rotate(-90)" fill="#0000ff">9</text>
<text transform="translate(130.8 630.4) rotate(-90)" fill="#000000">10</text>
<text transform="translate(135.2 630.4) rotate(-90)" fill="#ff0000">11</text>
<text transform="translate(139.7 630.4) rotate(-90)" fill="#0000ff">12</text>
<text transform="translate(144.2 630.4) rotate(-90)" fill="#000000">13</text>
<text transform="translate(148.7 630.4) rotate(-90)" fill="#0000ff">14</text>
<text transform="translate(153.2 630.4) rotate(-90)" fill="#000000">15</text>
<text transform="translate(157.7 630.4) rotate(-90)" fill="#000000">16</text>
<text transform="translate(162.2 630.4) rotate(-90)" fill="#000000">17</text>
<text transform="translate(166.7 630.4) rotate(-90)" fill="#000000">18</text>
<text transform="translate(171.2 630.4) rotate(-90)" fill="#ff0000">19</text>
<text transform="translate(175.7 630.4) rotate(-90)" fill="#ffa500">20</text>
<text transform="translate(180.2 630.4) rotate(-90)" fill="#ff0000">21</text>
<text transform="translate(184.7 630.4) rotate(-90)" fill="#ff0000">22</text>
<text transform="translate(189.1 630.4) rotate(-90)" fill="#ff0000">23</text>
<text transform="translate(193.6 630.4) rotate(-90)" fill="#000000">24</text>
<text transform="translate(198.1 630.4) rotate(-90)" fill="#000000">25</text>
<text transform="translate(202.6 630.4) rotate(-90)" fill="#ff0000">26</text>
<text transform="translate(207.1 630.4) rotate(-90)" fill="#000000">27</text>
<text transform="translate(211.6 630.4) rotate(-90)" fill="#0000ff">28</text>
<text transform="translate(216.1 630.4) rotate(-90)" fill="#000000">29</text>
<text transform="translate(220.6 630.4) rotate(-90)" fill="#0000ff">30</text>
<text transform="translate(225.1 630.4) rotate(-90)" fill="#000000">31</text>
<text transform="translate(229.6 630.4) rotate(-90)" fill="#000000">32</text>
<text transform="translate(234.1 630.4) rotate(-90)" fill="#0000ff">33</text>
<text transform="translate(238.5 630.4) rotate(-90)" fill="#000000">34</text>
<text transform="translate(243.0 630.4) rotate(-90)" fill="#0000ff">35</text>
<text transform="translate(247.5 630.4) rotate(-90)" fill="#0000ff">36</text>
<text transform="translate(252.0 630.4) rotate(-90)" fill="#000000">37</text>
<text transform="translate(256.5 630.4) rotate(-90)" fill="#ff0000">38</text>
<text transform="translate(261.0 630.4) rotate(-90)" fill="#000000">39</text>
<text transform="translate(265.5 630.4) rotate(-90)" fill="#000000">40</text>
<text transform="translate(270.0 630.4) rotate(-90)" fill="#ff0000">41</text>
<text transform="translate(274.5 630.4) rotate(-90)" fill="#ffa500">42</text>
<text transform="translate(279.0 630.4) rotate(-90)" fill="#ff0000">43</text>
<text transform="translate(283.5 630.4) rotate(-90)" fill="#ff0000">44</text>
<text transform="translate(287.9 630.4) rotate(-90)" fill="#ff0000">45</text>
<text transform="translate(292.4 630.4) rotate(-90)" fill="#000000">46</text>
<text transform="translate(296.9 630.4) rotate(-90)" fill="#000000">47</text>
<text transform="translate(301.4 630.4) rotate(-90)" fill="#ff0000">48</text>
<text transform="translate(305.9 630.4) rotate(-90)" fill="#000000">49</text>
<text transform="translate(310.4 630.4) rotate(-90)" fill="#0000ff">50</text>
<text transform="translate(314.9 630.4) rotate(-90)" fill="#000000">51</text>
<text transform="translate(319.4 630.4) rotate(-90)" fill="#0000ff">52</text>
<text transform="translate(323.9 630.4) rotate(-90)" fill="#000000">53</text>
<text transform="translate(328.4 630.4) rotate(-90)" fill="#000000">54</text>
<text transform="translate(332.9 630.4) rotate(-90)" fill="#0000ff">55</text>
<text transform="translate(337.3 630.4) rotate(-90)" fill="#0000ff">56</text>
<text transform="translate(341.8 630.4) rotate(-90)" fill="#000000">57</text>
<text transform="translate(346.3 630.4) rotate(-90)" fill="#0000ff">58</text>
<text transform="translate(350.8 630.4) rotate(-90)" fill="#000000">59</text>
<text transform="translate(355.3 630.4) rotate(-90)" fill="#000000">60</text>
<text transform="translate(359.8 630.4) rotate(-90)" fill="#000000">61</text>
<text transform="translate(364.3 630.4) rotate(-90)" fill="#ff0000">62</text>
<text transform="translate(368.8 630.4) rotate(-90)" fill="#ffa500">63</text>
<text transform="translate(373.3 630.4) rotate(-90)" fill="#ff0000">64</text>
<text transform="translate(377.8 630.4) rotate(-90)" fill="#ff0000">65</text>
<text transform="translate(382.3 630.4) rotate(-90)" fill="#ff0000">66</text>
<text transform="translate(386.8 630.4) rotate(-90)" fill="#000000">67</text>
<text transform="translate(391.2 630.4) rotate(-90)" fill="#000000">68</text>
<text transform="translate(395.7 630.4) rotate(-90)" fill="#ff0000">69</text>
<text transform="translate(400.2 630.4) rotate(-90)" fill="#000000">70</text>
<text transform="translate(404.7 630.4) rotate(-90)" fill="#0000ff">71</text>
<text transform="translate(409.2 630.4) rotate(-90)" fill="#000000">72</text>
<text transform="translate(413.7 630.4) rotate(-90)" fill="#ff0000">73</text>
<text transform="translate(418.2 630.4) rotate(-90)" fill="#0000ff">74</text>
<text transform="translate(422.7 630.4) rotate(-90)" fill="#000000">75</text>
<text transform="translate(427.2 630.4) rotate(-90)" fill="#0000ff">76</text>
<text transform="translate(431.7 630.4) rotate(-90)" fill="#000000">77</text>
<text transform="translate(436.2 630.4) rotate(-90)" fill="#000000">78</text>
<text transform="translate(440.6 630.4) rotate(-90)" fill="#000000">79</text>
<text transform="translate(445.1 630.4) rotate(-90)" fill="#000000">80</text>
<text transform="translate(449.6 630.4) rotate(-90)" fill="#ff0000">81</text>
<text transform="translate(454.1 630.4) rotate(-90)" fill="#ffa500">82</text>
<text transform="translate(458.6 630.4) rotate(-90)" fill="#ff0000">83</text>
<text transform="translate(463.1 630.4) rotate(-90)" fill="#ff0000">84</text>
<text transform="translate(467.6 630.4) rotate(-90)" fill="#ff0000">85</text>
<text transform="translate(472.1 630.4) rotate(-90)" fill="#000000">86</text>
<text transform="translate(476.6 630.4) rotate(-90)" fill="#000000">87</text>
<text transform="translate(481.1 630.4) rotate(-90)" fill="#ff0000">88</text>
<text transform="translate(485.6 630.4) rotate(-90)" fill="#000000">89</text>
<text transform="translate(490.0 630.4) rotate(-90)" fill="#0000ff">90</text>
<text transform="translate(494.5 630.4) rotate(-90)" fill="#000000">91</text>
<text transform="translate(499.0 630.4) rotate(-90)" fill="#0000ff">92</text>
<text transform="translate(503.5 630.4) rotate(-90)" fill="#000000">93</text>
<text transform="translate(508.0 630.4) rotate(-90)" fill="#000000">94</text>
<text transform="translate(512.5 630.4) rotate(-90)" fill="#0000ff">95</text>
<text transform="translate(517.0 630.4) rotate(-90)" fill="#000000">96</text>
<text transform="translate(521.5 630.4) rotate(-90)" fill="#0000ff">97</text>
<text transform="translate(526.0 630.4) rotate(-90)" fill="#0000ff">98</text>
<text transform="translate(530.5 630.4) rotate(-90)" fill="#000000">99</text>
<text transform="translate(535.0 630.4) rotate(-90)" fill="#ff0000">100</text>
<text transform="translate(539.4 630.4) rotate(-90)" fill="#000000">101</text>
<text transform="translate(543.9 630.4) rotate(-90)" fill="#000000">102</text>
<text transform="translate(548.4 630.4) rotate(-90)" fill="#ff0000">103</text>
<text transform="translate(552.9 630.4) rotate(-90)" fill="#ffa500">104</text>
<text transform="translate(557.4 630.4) rotate(-90)" fill="#ff0000">105</text>
<text transform="translate(561.9 630.4) rotate(-90)" fill="#ff0000">106</text>
<text transform="translate(566.4 630.4) rotate(-90)" fill="#ff0000">107</text>
<text transform="translate(570.9 630.4) rotate(-90)" fill="#000000">108</text>
<text transform="translate(575.4 630.4) rotate(-90)" fill="#000000">109</text>
<text transform="translate(579.9 630.4) rotate(-90)" fill="#ff0000">110</text>
<text transform="translate(584.4 630.4) rotate(-90)" fill="#000000">111</text>
<text transform="translate(588.9 630.4) rotate(-90)" fill="#0000ff">112</text>
<text transform="translate(593.3 630.4) rotate(-90)" fill="#000000">113</text>
<text transform="translate(597.8 630.4) rotate(-90)" fill="#ff0000">114</text>
<text transform="translate(602.3 630.4) rotate(-90)" fill="#0000ff">115</text>
<text transform="translate(606.8 630.4) rotate(-90)" fill="#000000">116</text>
<text transform="translate(611.3 630.4) rotate(-90)" fill="#ff0000">117</text>
<text transform="translate(615.8 630.4) rotate(-90)" fill="#000000">118</text>
<text transform="translate(620.3 630.4) rotate(-90)" fill="#000000">119</text>
<text transform="translate(624.8 630.4) rotate(-90)" fill="#000000">120</text>
<text transform="translate(629.3 630.4) rotate(-90)" fill="#000000">121</text>
<text transform="translate(633.8 630.4) rotate(-90)" fill="#000000">122</text>
<text transform="translate(638.3 630.4) rotate(-90)" fill="#ff0000">123</text>
</g>
<g font-size="14">
<text x="48.4" y="624.9" text-anchor="end" fill="#ff0000">0</text>
<text transform="translate(87.9 654.3) rotate(-90)" text-anchor="end" fill="#ff0000">0</text>
<text x="48.4" y="535.0" text-anchor="end" fill="#ffa500">20</text>
<text transform="translate(177.8 654.3) rotate(-90)" text-anchor="end" fill="#ffa500">20</text>
<text x="48.4" y="445.2" text-anchor="end" fill="#000000">40</text>
<text transform="translate(267.6 654.3) rotate(-90)" text-anchor="end" fill="#000000">40</text>
<text x="48.4" y="355.4" text-anchor="end" fill="#000000">60</text>
<text transform="translate(357.4 654.3) rotate(-90)" text-anchor="end" fill="#000000">60</text>
<text x="48.4" y="265.6" text-anchor="end" fill="#000000">80</text>
<text transform="translate(447.2 654.3) rotate(-90)" text-anchor="end" fill="#000000">80</text>
<text x="48.4" y="175.8" text-anchor="end" fill="#ff0000">100</text>
<text transform="translate(537.1 654.3) rotate(-90)" text-anchor="end" fill="#ff0000">100</text>
<text x="48.4" y="86.0" text-anchor="end" fill="#000000">120</text>
<text transform="translate(626.9 654.3) rotate(-90)" text-anchor="end" fill="#000000">120</text>
</g>
<rect x="120.0" y="1203.2" width="48.2" height="48.2" fill="none" stroke="#000" stroke-width="2.3" stroke-dasharray="9.2 10.8" stroke-linecap="round"/>
<rect x="216.5" y="1115.6" width="39.4" height="39.5" fill="none" stroke="#000" stroke-width="2.3" stroke-dasharray="9.2 10.8" stroke-linecap="round"/>
<rect x="304.1" y="1027.9" width="39.4" height="39.5" fill="none" stroke="#000" stroke-width="2.3" stroke-dasharray="9.2 10.8" stroke-linecap="round"/>
<rect x="391.8" y="935.8" width="43.8" height="43.8" fill="none" stroke="#000" stroke-width="2.3" stroke-dasharray="9.2 10.8" stroke-linecap="round"/>
<rect x="483.8" y="839.4" width="48.2" height="48.2" fill="none" stroke="#000" stroke-width="2.3" stroke-dasharray="9.2 10.8" stroke-linecap="round"/>
<rect x="580.3" y="747.4" width="43.8" height="43.8" fill="none" stroke="#000" stroke-width="2.3" stroke-dasharray="9.2 10.8" stroke-linecap="round"/>
<text x="84.0" y="1259.0" font-size="39">G</text>
<text x="188.2" y="1164.6" font-size="39.3">T</text>
<text x="215.2" y="1081.6" font-size="39.6">5mC</text>
<text x="361.0" y="989.5" font-size="39">A</text>
<text x="448.5" y="896.5" font-size="39">G</text>
<text x="548.0" y="800.5" font-size="39">A</text>
<text x="227.6" y="1056.4" font-size="26">Me</text>
<text x="316.2" y="1056.4" font-size="26">Me</text>
<text x="227.6" y="1144.2" font-size="26">Me</text>
<text x="316.2" y="1144.2" font-size="26">Me</text>
<g font-size="8.1" text-anchor="end">
<text x="72.5" y="1291.6" fill="#ff0000">0</text>
<text x="72.5" y="1287.2" fill="#ffa500">1</text>
<text x="72.5" y="1282.8" fill="#ff0000">2</text>
<text x="72.5" y="1278.5" fill="#ff0000">3</text>
<text x="72.5" y="1274.1" fill="#ff0000">4</text>
<text x="72.5" y="1269.7" fill="#000000">5</text>
<text x="72.5" y="1265.3" fill="#000000">6</text>
<text x="72.5" y="1260.9" fill="#ff0000">7</text>
<text x="72.5" y="1256.5" fill="#000000">8</text>
<text x="72.5" y="1252.2" fill="#0000ff">9</text>
<text x="72.5" y="1247.8" fill="#000000">10</text>
<text x="72.5" y="1243.4" fill="#0000ff">11</text>
<text x="72.5" y="1239.0" fill="#000000">12</text>
<text x="72.5" y="1234.6" fill="#000000">13</text>
<text x="72.5" y="1230.2" fill="#0000ff">14</text>
<text x="72.5" y="1225.9" fill="#000000">15</text>
<text x="72.5" y="1221.5" fill="#0000ff">16</text>
<text x="72.5" y="1217.1" fill="#0000ff">17</text>
<text x="72.5" y="1212.7" fill="#000000">18</text>
<text x="72.5" y="1208.3" fill="#ff0000">19</text>
<text x="72.5" y="1203.9" fill="#000000">20</text>
<text x="72.5" y="1199.6" fill="#000000">21</text>
<text x="72.5" y="1195.2" fill="#ff0000">22</text>
<text x="72.5" y="1190.8" fill="#ffa500">23</text>
<text x="72.5" y="1186.4" fill="#ff0000">24</text>
<text x="72.5" y="1182.0" fill="#ff0000">25</text>
<text x="72.5" y="1177.6" fill="#ff0000">26</text>
<text x="72.5" y="1173.3" fill="#000000">27</text>
<text x="72.5" y="1168.9" fill="#000000">28</text>
<text x="72.5" y="1164.5" fill="#ff0000">29</text>
<text x="72.5" y="1160.1" fill="#000000">30</text>
<text x="72.5" y="1155.7" fill="#0000ff">31</text>
<text x="72.5" y="1151.3" fill="#000000">32</text>
<text x="72.5" y="1147.0" fill="#ff0000">33</text>
<text x="72.5" y="1142.6" fill="#0000ff">34</text>
<text x="72.5" y="1138.2" fill="#000000">35</text>
<text x="72.5" y="1133.8" fill="#ff0000">36</text>
<text x="72.5" y="1129.4" fill="#000000">37</text>
<text x="72.5" y="1125.0" fill="#000000">38</text>
<text x="72.5" y="1120.7" fill="#000000">39</text>
<text x="72.5" y="1116.3" fill="#000000">40</text>
<text x="72.5" y="1111.9" fill="#000000">41</text>
<text x="72.5" y="1107.5" fill="#ff0000">42</text>
<text x="72.5" y="1103.1" fill="#ffa500">43</text>
<text x="72.5" y="1098.7" fill="#ff0000">44</text>
<text x="72.5" y="1094.4" fill="#ff0000">45</text>
<text x="72.5" y="1090.0" fill="#ff0000">46</text>
<text x="72.5" y="1085.6" fill="#000000">47</text>
<text x="72.5" y="1081.2" fill="#000000">48</text>
<text x="72.5" y="1076.8" fill="#ff0000">49</text>
<text x="72.5" y="1072.4" fill="#000000">50</text>
<text x="72.5" y="1068.1" fill="#0000ff">51</text>
<text x="72.5" y="1063.7" fill="#000000">52</text>
<text x="72.5" y="1059.3" fill="#ff0000">53</text>
<text x="72.5" y="1054.9" fill="#0000ff">54</text>
<text x="72.5" y="1050.5" fill="#000000">55</text>
<text x="72.5" y="1046.1" fill="#0000ff">56</text>
<text x="72.5" y="1041.8" fill="#000000">57</text>
<text x="72.5" y="1037.4" fill="#000000">58</text>
<text x="72.5" y="1033.0" fill="#000000">59</text>
<text x="72.5" y="1028.6" fill="#000000">60</text>
<text x="72.5" y="1024.2" fill="#000000">61</text>
<text x="72.5" y="1019.8" fill="#ff0000">62</text>
<text x="72.5" y="1015.5" fill="#ffa500">63</text>
<text x="72.5" y="1011.1" fill="#ff0000">64</text>
<text x="72.5" y="1006.7" fill="#ff0000">65</text>
<text x="72.5" y="1002.3" fill="#ff0000">66</text>
<text x="72.5" y="997.9" fill="#000000">67</text>
<text x="72.5" y="993.5" fill="#000000">68</text>
<text x="72.5" y="989.1" fill="#ff0000">69</text>
<text x="72.5" y="984.8" fill="#000000">70</text>
<text x="72.5" y="980.4" fill="#0000ff">71</text>
<text x="72.5" y="976.0" fill="#000000">72</text>
<text x="72.5" y="971.6" fill="#0000ff">73</text>
<text x="72.5" y="967.2" fill="#000000">74</text>
<text x="72.5" y="962.8" fill="#000000">75</text>
<text x="72.5" y="958.5" fill="#0000ff">76</text>
<text x="72.5" y="954.1" fill="#0000ff">77</text>
<text x="72.5" y="949.7" fill="#000000">78</text>
<text x="72.5" y="945.3" fill="#0000ff">79</text>
<text x="72.5" y="940.9" fill="#000000">80</text>
<text x="72.5" y="936.5" fill="#000000">81</text>
<text x="72.5" y="932.2" fill="#000000">82</text>
<text x="72.5" y="927.8" fill="#ff0000">83</text>
<text x="72.5" y="923.4" fill="#ffa500">84</text>
<text x="72.5" y="919.0" fill="#ff0000">85</text>
<text x="72.5" y="914.6" fill="#ff0000">86</text>
<text x="72.5" y="910.2" fill="#ff0000">87</text>
<text x="72.5" y="905.9" fill="#000000">88</text>
<text x="72.5" y="901.5" fill="#000000">89</text>
<text x="72.5" y="897.1" fill="#ff0000">90</text>
<text x="72.5" y="892.7" fill="#000000">91</text>
<text x="72.5" y="888.3" fill="#0000ff">92</text>
<text x="72.5" y="883.9" fill="#000000">93</text>
<text x="72.5" y="879.6" fill="#0000ff">94</text>
<text x="72.5" y="875.2" fill="#000000">95</text>
<text x="72.5" y="870.8" fill="#000000">96</text>
<text x="72.5" y="866.4" fill="#0000ff">97</text>
<text x="72.5" y="862.0" fill="#000000">98</text>
<text x="72.5" y="857.6" fill="#0000ff">99</text>
<text x="72.5" y="853.3" fill="#0000ff">100</text>
<text x="72.5" y="848.9" fill="#000000">101</text>
<text x="72.5" y="844.5" fill="#ff0000">102</text>
<text x="72.5" y="840.1" fill="#000000">103</text>
<text x="72.5" y="835.7" fill="#000000">104</text>
<text x="72.5" y="831.3" fill="#ff0000">105</text>
<text x="72.5" y="827.0" fill="#ffa500">106</text>
<text x="72.5" y="822.6" fill="#ff0000">107</text>
<text x="72.5" y="818.2" fill="#ff0000">108</text>
<text x="72.5" y="813.8" fill="#ff0000">109</text>
<text x="72.5" y="809.4" fill="#000000">110</text>
<text x="72.5" y="805.0" fill="#000000">111</text>
<text x="72.5" y="800.7" fill="#ff0000">112</text>
<text x="72.5" y="796.3" fill="#000000">113</text>
<text x="72.5" y="791.9" fill="#0000ff">114</text>
<text x="72.5" y="787.5" fill="#000000">115</text>
<text x="72.5" y="783.1" fill="#0000ff">116</text>
<text x="72.5" y="778.7" fill="#000000">117</text>
<text x="72.5" y="774.4" fill="#000000">118</text>
<text x="72.5" y="770.0" fill="#0000ff">119</text>
<text x="72.5" y="765.6" fill="#0000ff">120</text>
<text x="72.5" y="761.2" fill="#000000">121</text>
<text x="72.5" y="756.8" fill="#0000ff">122</text>
<text x="72.5" y="752.4" fill="#000000">123</text>
<text x="72.5" y="748.1" fill="#000000">124</text>
<text x="72.5" y="743.7" fill="#000000">125</text>
<text x="72.5" y="739.3" fill="#ff0000">126</text>
</g>
<g font-size="8.1" text-anchor="end">
<text transform="translate(85.7 1299.3) rotate(-90)" fill="#ff0000">0</text>
<text transform="translate(90.1 1299.3) rotate(-90)" fill="#ffa500">1</text>
<text transform="translate(94.5 1299.3) rotate(-90)" fill="#ff0000">2</text>
<text transform="translate(98.8 1299.3) rotate(-90)" fill="#ff0000">3</text>
<text transform="translate(103.2 1299.3) rotate(-90)" fill="#ff0000">4</text>
<text transform="translate(107.6 1299.3) rotate(-90)" fill="#000000">5</text>
<text transform="translate(112.0 1299.3) rotate(-90)" fill="#000000">6</text>
<text transform="translate(116.4 1299.3) rotate(-90)" fill="#ff0000">7</text>
<text transform="translate(120.8 1299.3) rotate(-90)" fill="#000000">8</text>
<text transform="translate(125.1 1299.3) rotate(-90)" fill="#0000ff">9</text>
<text transform="translate(129.5 1299.3) rotate(-90)" fill="#000000">10</text>
<text transform="translate(133.9 1299.3) rotate(-90)" fill="#0000ff">11</text>
<text transform="translate(138.3 1299.3) rotate(-90)" fill="#000000">12</text>
<text transform="translate(142.7 1299.3) rotate(-90)" fill="#000000">13</text>
<text transform="translate(147.1 1299.3) rotate(-90)" fill="#0000ff">14</text>
<text transform="translate(151.4 1299.3) rotate(-90)" fill="#000000">15</text>
<text transform="translate(155.8 1299.3) rotate(-90)" fill="#0000ff">16</text>
<text transform="translate(160.2 1299.3) rotate(-90)" fill="#0000ff">17</text>
<text transform="translate(164.6 1299.3) rotate(-90)" fill="#000000">18</text>
<text transform="translate(169.0 1299.3) rotate(-90)" fill="#ff0000">19</text>
<text transform="translate(173.4 1299.3) rotate(-90)" fill="#000000">20</text>
<text transform="translate(177.7 1299.3) rotate(-90)" fill="#000000">21</text>
<text transform="translate(182.1 1299.3) rotate(-90)" fill="#ff0000">22</text>
<text transform="translate(186.5 1299.3) rotate(-90)" fill="#ffa500">23</text>
<text transform="translate(190.9 1299.3) rotate(-90)" fill="#ff0000">24</text>
<text transform="translate(195.3 1299.3) rotate(-90)" fill="#ff0000">25</text>
<text transform="translate(199.7 1299.3) rotate(-90)" fill="#ff0000">26</text>
<text transform="translate(204.0 1299.3) rotate(-90)" fill="#000000">27</text>
<text transform="translate(208.4 1299.3) rotate(-90)" fill="#000000">28</text>
<text transform="translate(212.8 1299.3) rotate(-90)" fill="#ff0000">29</text>
<text transform="translate(217.2 1299.3) rotate(-90)" fill="#000000">30</text>
<text transform="translate(221.6 1299.3) rotate(-90)" fill="#0000ff">31</text>
<text transform="translate(225.9 1299.3) rotate(-90)" fill="#000000">32</text>
<text transform="translate(230.3 1299.3) rotate(-90)" fill="#ff0000">33</text>
<text transform="translate(234.7 1299.3) rotate(-90)" fill="#0000ff">34</text>
<text transform="translate(239.1 1299.3) rotate(-90)" fill="#000000">35</text>
<text transform="translate(243.5 1299.3) rotate(-90)" fill="#ff0000">36</text>
<text transform="translate(247.9 1299.3) rotate(-90)" fill="#000000">37</text>
<text transform="translate(252.2 1299.3) rotate(-90)" fill="#000000">38</text>
<text transform="translate(256.6 1299.3) rotate(-90)" fill="#000000">39</text>
<text transform="translate(261.0 1299.3) rotate(-90)" fill="#000000">40</text>
<text transform="translate(265.4 1299.3) rotate(-90)" fill="#000000">41</text>
<text transform="translate(269.8 1299.3) rotate(-90)" fill="#ff0000">42</text>
<text transform="translate(274.2 1299.3) rotate(-90)" fill="#ffa500">43</text>
<text transform="translate(278.5 1299.3) rotate(-90)" fill="#ff0000">44</text>
<text transform="translate(282.9 1299.3) rotate(-90)" fill="#ff0000">45</text>
<text transform="translate(287.3 1299.3) rotate(-90)" fill="#ff0000">46</text>
<text transform="translate(291.7 1299.3) rotate(-90)" fill="#000000">47</text>
<text transform="translate(296.1 1299.3) rotate(-90)" fill="#000000">48</text>
<text transform="translate(300.5 1299.3) rotate(-90)" fill="#ff0000">49</text>
<text transform="translate(304.8 1299.3) rotate(-90)" fill="#000000">50</text>
<text transform="translate(309.2 1299.3) rotate(-90)" fill="#0000ff">51</text>
<text transform="translate(313.6 1299.3) rotate(-90)" fill="#000000">52</text>
<text transform="translate(318.0 1299.3) rotate(-90)" fill="#ff0000">53</text>
<text transform="translate(322.4 1299.3) rotate(-90)" fill="#0000ff">54</text>
<text transform="translate(326.8 1299.3) rotate(-90)" fill="#000000">55</text>
<text transform="translate(331.1 1299.3) rotate(-90)" fill="#0000ff">56</text>
<text transform="translate(335.5 1299.3) rotate(-90)" fill="#000000">57</text>
<text transform="translate(339.9 1299.3) rotate(-90)" fill="#000000">58</text>
<text transform="translate(344.3 1299.3) rotate(-90)" fill="#000000">59</text>
<text transform="translate(348.7 1299.3) rotate(-90)" fill="#000000">60</text>
<text transform="translate(353.1 1299.3) rotate(-90)" fill="#000000">61</text>
<text transform="translate(357.4 1299.3) rotate(-90)" fill="#ff0000">62</text>
<text transform="translate(361.8 1299.3) rotate(-90)" fill="#ffa500">63</text>
<text transform="translate(366.2 1299.3) rotate(-90)" fill="#ff0000">64</text>
<text transform="translate(370.6 1299.3) rotate(-90)" fill="#ff0000">65</text>
<text transform="translate(375.0 1299.3) rotate(-90)" fill="#ff0000">66</text>
<text transform="translate(379.4 1299.3) rotate(-90)" fill="#000000">67</text>
<text transform="translate(383.7 1299.3) rotate(-90)" fill="#000000">68</text>
<text transform="translate(388.1 1299.3) rotate(-90)" fill="#ff0000">69</text>
<text transform="translate(392.5 1299.3) rotate(-90)" fill="#000000">70</text>
<text transform="translate(396.9 1299.3) rotate(-90)" fill="#0000ff">71</text>
<text transform="translate(401.3 1299.3) rotate(-90)" fill="#000000">72</text>
<text transform="translate(405.7 1299.3) rotate(-90)" fill="#0000ff">73</text>
<text transform="translate(410.0 1299.3) rotate(-90)" fill="#000000">74</text>
<text transform="translate(414.4 1299.3) rotate(-90)" fill="#000000">75</text>
<text transform="translate(418.8 1299.3) rotate(-90)" fill="#0000ff">76</text>
<text transform="translate(423.2 1299.3) rotate(-90)" fill="#0000ff">77</text>
<text transform="translate(427.6 1299.3) rotate(-90)" fill="#000000">78</text>
<text transform="translate(432.0 1299.3) rotate(-90)" fill="#0000ff">79</text>
<text transform="translate(436.3 1299.3) rotate(-90)" fill="#000000">80</text>
<text transform="translate(440.7 1299.3) rotate(-90)" fill="#000000">81</text>
<text transform="translate(445.1 1299.3) rotate(-90)" fill="#000000">82</text>
<text transform="translate(449.5 1299.3) rotate(-90)" fill="#ff0000">83</text>
<text transform="translate(453.9 1299.3) rotate(-90)" fill="#ffa500">84</text>
<text transform="translate(458.3 1299.3) rotate(-90)" fill="#ff0000">85</text>
<text transform="translate(462.6 1299.3) rotate(-90)" fill="#ff0000">86</text>
<text transform="translate(467.0 1299.3) rotate(-90)" fill="#ff0000">87</text>
<text transform="translate(471.4 1299.3) rotate(-90)" fill="#000000">88</text>
<text transform="translate(475.8 1299.3) rotate(-90)" fill="#000000">89</text>
<text transform="translate(480.2 1299.3) rotate(-90)" fill="#ff0000">90</text>
<text transform="translate(484.6 1299.3) rotate(-90)" fill="#000000">91</text>
<text transform="translate(488.9 1299.3) rotate(-90)" fill="#0000ff">92</text>
<text transform="translate(493.3 1299.3) rotate(-90)" fill="#000000">93</text>
<text transform="translate(497.7 1299.3) rotate(-90)" fill="#0000ff">94</text>
<text transform="translate(502.1 1299.3) rotate(-90)" fill="#000000">95</text>
<text transform="translate(506.5 1299.3) rotate(-90)" fill="#000000">96</text>
<text transform="translate(510.8 1299.3) rotate(-90)" fill="#0000ff">97</text>
<text transform="translate(515.2 1299.3) rotate(-90)" fill="#000000">98</text>
<text transform="translate(519.6 1299.3) rotate(-90)" fill="#0000ff">99</text>
<text transform="translate(524.0 1299.3) rotate(-90)" fill="#0000ff">100</text>
<text transform="translate(528.4 1299.3) rotate(-90)" fill="#000000">101</text>
<text transform="translate(532.8 1299.3) rotate(-90)" fill="#ff0000">102</text>
<text transform="translate(537.1 1299.3) rotate(-90)" fill="#000000">103</text>
<text transform="translate(541.5 1299.3) rotate(-90)" fill="#000000">104</text>
<text transform="translate(545.9 1299.3) rotate(-90)" fill="#ff0000">105</text>
<text transform="translate(550.3 1299.3) rotate(-90)" fill="#ffa500">106</text>
<text transform="translate(554.7 1299.3) rotate(-90)" fill="#ff0000">107</text>
<text transform="translate(559.1 1299.3) rotate(-90)" fill="#ff0000">108</text>
<text transform="translate(563.4 1299.3) rotate(-90)" fill="#ff0000">109</text>
<text transform="translate(567.8 1299.3) rotate(-90)" fill="#000000">110</text>
<text transform="translate(572.2 1299.3) rotate(-90)" fill="#000000">111</text>
<text transform="translate(576.6 1299.3) rotate(-90)" fill="#ff0000">112</text>
<text transform="translate(581.0 1299.3) rotate(-90)" fill="#000000">113</text>
<text transform="translate(585.4 1299.3) rotate(-90)" fill="#0000ff">114</text>
<text transform="translate(589.7 1299.3) rotate(-90)" fill="#000000">115</text>
<text transform="translate(594.1 1299.3) rotate(-90)" fill="#0000ff">116</text>
<text transform="translate(598.5 1299.3) rotate(-90)" fill="#000000">117</text>
<text transform="translate(602.9 1299.3) rotate(-90)" fill="#000000">118</text>
<text transform="translate(607.3 1299.3) rotate(-90)" fill="#0000ff">119</text>
<text transform="translate(611.7 1299.3) rotate(-90)" fill="#0000ff">120</text>
<text transform="translate(616.0 1299.3) rotate(-90)" fill="#000000">121</text>
<text transform="translate(620.4 1299.3) rotate(-90)" fill="#0000ff">122</text>
<text transform="translate(624.8 1299.3) rotate(-90)" fill="#000000">123</text>
<text transform="translate(629.2 1299.3) rotate(-90)" fill="#000000">124</text>
<text transform="translate(633.6 1299.3) rotate(-90)" fill="#000000">125</text>
<text transform="translate(638.0 1299.3) rotate(-90)" fill="#ff0000">126</text>
</g>
<g font-size="14">
<text x="48.4" y="1293.8" text-anchor="end" fill="#ff0000">0</text>
<text transform="translate(87.8 1323.2) rotate(-90)" text-anchor="end" fill="#ff0000">0</text>
<text x="48.4" y="1206.1" text-anchor="end" fill="#000000">20</text>
<text transform="translate(175.5 1323.2) rotate(-90)" text-anchor="end" fill="#000000">20</text>
<text x="48.4" y="1118.5" text-anchor="end" fill="#000000">40</text>
<text transform="translate(263.1 1323.2) rotate(-90)" text-anchor="end" fill="#000000">40</text>
<text x="48.4" y="1030.8" text-anchor="end" fill="#000000">60</text>
<text transform="translate(350.8 1323.2) rotate(-90)" text-anchor="end" fill="#000000">60</text>
<text x="48.4" y="943.1" text-anchor="end" fill="#000000">80</text>
<text transform="translate(438.4 1323.2) rotate(-90)" text-anchor="end" fill="#000000">80</text>
<text x="48.4" y="855.5" text-anchor="end" fill="#0000ff">100</text>
<text transform="translate(526.1 1323.2) rotate(-90)" text-anchor="end" fill="#0000ff">100</text>
<text x="48.4" y="767.8" text-anchor="end" fill="#0000ff">120</text>
<text transform="translate(613.8 1323.2) rotate(-90)" text-anchor="end" fill="#0000ff">120</text>
</g>
<rect x="247.2" y="1032.3" width="4.4" height="4.4" fill="none" stroke="#000" stroke-width="1.3"/>
<rect x="334.8" y="1032.3" width="4.4" height="4.4" fill="none" stroke="#000" stroke-width="1.3"/>
<rect x="247.2" y="1119.9" width="4.4" height="4.4" fill="none" stroke="#000" stroke-width="1.3"/>
<rect x="334.8" y="1119.9" width="4.4" height="4.4" fill="none" stroke="#000" stroke-width="1.3"/>
<text x="-0.6" y="36.1" font-size="48.3" font-weight="bold">A</text>
<text x="670.2" y="36.1" font-size="48.3" font-weight="bold">B</text>
<text x="-0.9" y="705.1" font-size="48.3" font-weight="bold">D</text>
<text x="670.2" y="705.1" font-size="48.3" font-weight="bold">E</text>
<text x="1340.3" y="705.1" font-size="48.3" font-weight="bold">F</text>
<text x="1340.2" y="36.4" font-size="48.3" font-weight="bold" textLength="30" lengthAdjust="spacingAndGlyphs">C</text>
<text x="359.3" y="55.5" font-size="39.4" font-weight="bold" text-anchor="middle">CGACGT</text>
<text x="359.6" y="724.5" font-size="39.4" font-weight="bold" text-anchor="middle">GT(5mC)AGA</text>
<g font-size="12.7" text-anchor="middle">
<text x="1292.0" y="324.5" fill="#ff0000">0</text>
<text x="1106.4" y="467.5" fill="#ffa500">1</text>
<text x="809.6" y="388.9" fill="#ff0000">2</text>
<text x="1298.0" y="333.0" fill="#ff0000">3</text>
<text x="989.9" y="83.0" fill="#ff0000">4</text>
<text x="852.7" y="208.7" fill="#000000">5</text>
<text x="830.0" y="292.5" fill="#000000">6</text>
<text x="975.4" y="573.1" fill="#ff0000">7</text>
<text x="1167.4" y="525.5" fill="#000000">8</text>
<text x="913.6" y="324.1" fill="#0000ff">9</text>
<text x="1138.0" y="279.1" fill="#000000">10</text>
<text x="1202.4" y="183.5" fill="#ff0000">11</text>
<text x="1027.5" y="243.4" fill="#0000ff">12</text>
<text x="1077.6" y="378.5" fill="#000000">13</text>
<text x="1086.8" y="326.5" fill="#0000ff">14</text>
<text x="883.4" y="391.1" fill="#000000">15</text>
<text x="891.0" y="381.9" fill="#000000">16</text>
<text x="907.6" y="487.1" fill="#000000">17</text>
<text x="1080.4" y="201.5" fill="#000000">18</text>
<text x="1187.8" y="392.4" fill="#ff0000">19</text>
<text x="1096.0" y="442.5" fill="#ffa500">20</text>
<text x="787.0" y="410.5" fill="#ff0000">21</text>
<text x="1267.9" y="345.5" fill="#ff0000">22</text>
<text x="966.0" y="103.0" fill="#ff0000">23</text>
<text x="821.4" y="216.4" fill="#000000">24</text>
<text x="855.6" y="286.5" fill="#000000">25</text>
<text x="999.6" y="578.1" fill="#ff0000">26</text>
<text x="1149.6" y="568.1" fill="#000000">27</text>
<text x="987.0" y="303.1" fill="#0000ff">28</text>
<text x="993.6" y="376.5" fill="#000000">29</text>
<text x="993.6" y="433.5" fill="#0000ff">30</text>
<text x="978.3" y="206.1" fill="#000000">31</text>
<text x="966.3" y="234.0" fill="#000000">32</text>
<text x="989.0" y="461.5" fill="#0000ff">33</text>
<text x="1038.0" y="390.5" fill="#000000">34</text>
<text x="1100.4" y="343.9" fill="#0000ff">35</text>
<text x="1014.3" y="243.4" fill="#0000ff">36</text>
<text x="1167.0" y="272.5" fill="#000000">37</text>
<text x="1217.4" y="156.5" fill="#ff0000">38</text>
<text x="898.0" y="504.9" fill="#000000">39</text>
<text x="1085.0" y="190.5" fill="#000000">40</text>
<text x="1192.3" y="418.4" fill="#ff0000">41</text>
<text x="1088.0" y="458.5" fill="#ffa500">42</text>
<text x="790.0" y="399.5" fill="#ff0000">43</text>
<text x="1239.6" y="343.6" fill="#ff0000">44</text>
<text x="970.6" y="113.8" fill="#ff0000">45</text>
<text x="824.5" y="201.8" fill="#000000">46</text>
<text x="850.4" y="276.1" fill="#000000">47</text>
<text x="990.0" y="564.9" fill="#ff0000">48</text>
<text x="1161.0" y="568.5" fill="#000000">49</text>
<text x="976.4" y="305.5" fill="#0000ff">50</text>
<text x="999.4" y="369.9" fill="#000000">51</text>
<text x="986.6" y="425.9" fill="#0000ff">52</text>
<text x="951.4" y="249.2" fill="#000000">53</text>
<text x="1052.0" y="381.5" fill="#000000">54</text>
<text x="1097.5" y="329.5" fill="#0000ff">55</text>
<text x="1002.6" y="406.9" fill="#0000ff">56</text>
<text x="1006.6" y="382.1" fill="#000000">57</text>
<text x="995.0" y="418.5" fill="#0000ff">58</text>
<text x="955.3" y="240.8" fill="#000000">59</text>
<text x="912.0" y="506.1" fill="#000000">60</text>
<text x="1067.6" y="197.5" fill="#000000">61</text>
<text x="1200.9" y="403.4" fill="#ff0000">62</text>
<text x="1115.0" y="450.5" fill="#ffa500">63</text>
<text x="810.0" y="408.5" fill="#ff0000">64</text>
<text x="1251.7" y="351.3" fill="#ff0000">65</text>
<text x="989.4" y="111.5" fill="#ff0000">66</text>
<text x="810.8" y="208.3" fill="#000000">67</text>
<text x="843.0" y="284.5" fill="#000000">68</text>
<text x="981.4" y="583.5" fill="#ff0000">69</text>
<text x="1155.6" y="534.5" fill="#000000">70</text>
<text x="928.0" y="322.9" fill="#0000ff">71</text>
<text x="1150.4" y="288.9" fill="#000000">72</text>
<text x="1188.0" y="175.1" fill="#ff0000">73</text>
<text x="1013.8" y="254.5" fill="#0000ff">74</text>
<text x="1073.4" y="368.1" fill="#000000">75</text>
<text x="1099.4" y="319.9" fill="#0000ff">76</text>
<text x="895.0" y="396.9" fill="#000000">77</text>
<text x="902.0" y="387.9" fill="#000000">78</text>
<text x="919.4" y="490.9" fill="#000000">79</text>
<text x="1073.6" y="186.5" fill="#000000">80</text>
<text x="1187.1" y="403.1" fill="#ff0000">81</text>
<text x="1109.0" y="440.5" fill="#ffa500">82</text>
<text x="800.4" y="415.5" fill="#ff0000">83</text>
<text x="1262.2" y="355.3" fill="#ff0000">84</text>
<text x="977.9" y="104.7" fill="#ff0000">85</text>
<text x="810.0" y="219.8" fill="#000000">86</text>
<text x="847.4" y="298.5" fill="#000000">87</text>
<text x="1001.6" y="565.1" fill="#ff0000">88</text>
<text x="1161.6" y="559.5" fill="#000000">89</text>
<text x="974.0" y="296.1" fill="#0000ff">90</text>
<text x="1010.4" y="369.5" fill="#000000">91</text>
<text x="975.0" y="425.5" fill="#0000ff">92</text>
<text x="967.7" y="201.0" fill="#000000">93</text>
<text x="954.0" y="229.2" fill="#000000">94</text>
<text x="976.0" y="460.5" fill="#0000ff">95</text>
<text x="1036.4" y="379.9" fill="#000000">96</text>
<text x="1111.4" y="336.9" fill="#0000ff">97</text>
<text x="1026.7" y="254.9" fill="#0000ff">98</text>
<text x="1157.0" y="264.5" fill="#000000">99</text>
<text x="1206.0" y="149.5" fill="#ff0000">100</text>
<text x="909.0" y="513.5" fill="#000000">101</text>
<text x="1076.6" y="215.5" fill="#000000">102</text>
<text x="1201.4" y="392.4" fill="#ff0000">103</text>
<text x="1102.4" y="452.1" fill="#ffa500">104</text>
<text x="801.6" y="403.1" fill="#ff0000">105</text>
<text x="1257.7" y="339.5" fill="#ff0000">106</text>
<text x="984.8" y="93.2" fill="#ff0000">107</text>
<text x="854.3" y="200.7" fill="#000000">108</text>
<text x="1098.6" y="198.9" fill="#000000">109</text>
<text x="965.4" y="584.9" fill="#ff0000">110</text>
<text x="1168.0" y="535.1" fill="#000000">111</text>
<text x="920.6" y="316.1" fill="#0000ff">112</text>
<text x="1151.6" y="279.5" fill="#000000">113</text>
<text x="1200.0" y="174.1" fill="#ff0000">114</text>
<text x="979.6" y="191.6" fill="#0000ff">115</text>
<text x="1172.4" y="260.9" fill="#000000">116</text>
<text x="1217.0" y="146.1" fill="#ff0000">117</text>
<text x="863.6" y="491.1" fill="#000000">118</text>
<text x="868.6" y="484.5" fill="#000000">119</text>
<text x="906.4" y="375.1" fill="#000000">120</text>
<text x="893.0" y="518.9" fill="#000000">121</text>
<text x="1110.4" y="202.9" fill="#000000">122</text>
<text x="954.0" y="591.1" fill="#ff0000">123</text>
</g>
<g font-size="12.7" text-anchor="middle">
<text x="885.4" y="1114.5" fill="#ff0000">0</text>
<text x="1000.0" y="1111.1" fill="#ffa500">1</text>
<text x="952.0" y="1062.5" fill="#ff0000">2</text>
<text x="887.4" y="1102.9" fill="#ff0000">3</text>
<text x="801.6" y="1041.9" fill="#ff0000">4</text>
<text x="910.6" y="765.5" fill="#000000">5</text>
<text x="793.6" y="917.5" fill="#000000">6</text>
<text x="990.4" y="1246.1" fill="#ff0000">7</text>
<text x="1143.0" y="1116.9" fill="#000000">8</text>
<text x="1017.0" y="985.5" fill="#0000ff">9</text>
<text x="1061.0" y="940.1" fill="#000000">10</text>
<text x="1038.6" y="881.5" fill="#0000ff">11</text>
<text x="995.4" y="801.5" fill="#000000">12</text>
<text x="989.4" y="842.9" fill="#000000">13</text>
<text x="1037.4" y="850.9" fill="#0000ff">14</text>
<text x="1111.0" y="965.5" fill="#000000">15</text>
<text x="1179.8" y="975.7" fill="#0000ff">16</text>
<text x="972.4" y="858.5" fill="#0000ff">17</text>
<text x="1186.6" y="861.9" fill="#000000">18</text>
<text x="1291.0" y="1013.9" fill="#ff0000">19</text>
<text x="1087.4" y="1152.9" fill="#000000">20</text>
<text x="823.6" y="866.5" fill="#000000">21</text>
<text x="906.6" y="960.9" fill="#ff0000">22</text>
<text x="986.6" y="1105.9" fill="#ffa500">23</text>
<text x="943.4" y="1040.9" fill="#ff0000">24</text>
<text x="904.0" y="1101.5" fill="#ff0000">25</text>
<text x="813.0" y="1032.9" fill="#ff0000">26</text>
<text x="926.0" y="771.5" fill="#000000">27</text>
<text x="799.0" y="901.9" fill="#000000">28</text>
<text x="1006.0" y="1240.9" fill="#ff0000">29</text>
<text x="1134.4" y="1122.9" fill="#000000">30</text>
<text x="1038.0" y="1028.9" fill="#0000ff">31</text>
<text x="1196.4" y="858.5" fill="#000000">32</text>
<text x="1276.4" y="1022.5" fill="#ff0000">33</text>
<text x="1004.0" y="792.1" fill="#0000ff">34</text>
<text x="1174.6" y="854.5" fill="#000000">35</text>
<text x="1298.6" y="1020.5" fill="#ff0000">36</text>
<text x="1083.0" y="1054.5" fill="#000000">37</text>
<text x="1076.0" y="1057.0" fill="#000000">38</text>
<text x="1070.4" y="1040.9" fill="#000000">39</text>
<text x="1079.0" y="1162.5" fill="#000000">40</text>
<text x="828.0" y="886.9" fill="#000000">41</text>
<text x="894.4" y="969.5" fill="#ff0000">42</text>
<text x="998.0" y="1096.9" fill="#ffa500">43</text>
<text x="953.0" y="1047.1" fill="#ff0000">44</text>
<text x="904.0" y="1119.9" fill="#ff0000">45</text>
<text x="815.0" y="1048.1" fill="#ff0000">46</text>
<text x="925.0" y="757.1" fill="#000000">47</text>
<text x="806.0" y="908.5" fill="#000000">48</text>
<text x="1003.6" y="1250.9" fill="#ff0000">49</text>
<text x="1145.6" y="1107.5" fill="#000000">50</text>
<text x="1044.0" y="1025.1" fill="#0000ff">51</text>
<text x="1198.6" y="849.1" fill="#000000">52</text>
<text x="1277.0" y="1032.1" fill="#ff0000">53</text>
<text x="974.0" y="867.5" fill="#0000ff">54</text>
<text x="1126.4" y="977.5" fill="#000000">55</text>
<text x="1167.5" y="970.5" fill="#0000ff">56</text>
<text x="1088.0" y="1051.5" fill="#000000">57</text>
<text x="1092.0" y="1059.5" fill="#000000">58</text>
<text x="1077.0" y="1044.9" fill="#000000">59</text>
<text x="1075.0" y="1150.1" fill="#000000">60</text>
<text x="818.6" y="885.1" fill="#000000">61</text>
<text x="901.6" y="951.5" fill="#ff0000">62</text>
<text x="989.6" y="1091.5" fill="#ffa500">63</text>
<text x="946.4" y="1071.5" fill="#ff0000">64</text>
<text x="908.0" y="1086.1" fill="#ff0000">65</text>
<text x="804.0" y="1028.9" fill="#ff0000">66</text>
<text x="932.6" y="763.5" fill="#000000">67</text>
<text x="789.0" y="906.5" fill="#000000">68</text>
<text x="994.6" y="1237.5" fill="#ff0000">69</text>
<text x="1147.6" y="1132.9" fill="#000000">70</text>
<text x="1014.4" y="995.5" fill="#0000ff">71</text>
<text x="1045.6" y="941.5" fill="#000000">72</text>
<text x="1037.0" y="891.5" fill="#0000ff">73</text>
<text x="1024.0" y="893.1" fill="#000000">74</text>
<text x="1123.4" y="964.9" fill="#000000">75</text>
<text x="1176.0" y="964.7" fill="#0000ff">76</text>
<text x="1088.0" y="936.1" fill="#0000ff">77</text>
<text x="1079.6" y="943.5" fill="#000000">78</text>
<text x="1041.4" y="871.9" fill="#0000ff">79</text>
<text x="978.6" y="833.5" fill="#000000">80</text>
<text x="1090.0" y="1167.5" fill="#000000">81</text>
<text x="834.0" y="862.9" fill="#000000">82</text>
<text x="912.6" y="970.1" fill="#ff0000">83</text>
<text x="989.0" y="1116.5" fill="#ffa500">84</text>
<text x="961.0" y="1062.1" fill="#ff0000">85</text>
<text x="901.0" y="1110.5" fill="#ff0000">86</text>
<text x="805.0" y="1053.1" fill="#ff0000">87</text>
<text x="916.0" y="751.5" fill="#000000">88</text>
<text x="802.6" y="924.5" fill="#000000">89</text>
<text x="996.4" y="1259.5" fill="#ff0000">90</text>
<text x="1157.6" y="1111.1" fill="#000000">91</text>
<text x="1011.0" y="979.5" fill="#0000ff">92</text>
<text x="1055.0" y="947.5" fill="#000000">93</text>
<text x="1063.0" y="846.1" fill="#0000ff">94</text>
<text x="1004.4" y="807.1" fill="#000000">95</text>
<text x="995.0" y="839.5" fill="#000000">96</text>
<text x="1026.6" y="847.5" fill="#0000ff">97</text>
<text x="1095.0" y="958.9" fill="#000000">98</text>
<text x="1156.6" y="963.5" fill="#0000ff">99</text>
<text x="985.0" y="865.1" fill="#0000ff">100</text>
<text x="1185.9" y="849.1" fill="#000000">101</text>
<text x="1291.0" y="1027.5" fill="#ff0000">102</text>
<text x="1071.6" y="1174.1" fill="#000000">103</text>
<text x="805.4" y="872.1" fill="#000000">104</text>
<text x="891.0" y="978.9" fill="#ff0000">105</text>
<text x="1014.0" y="1096.9" fill="#ffa500">106</text>
<text x="942.4" y="1052.5" fill="#ff0000">107</text>
<text x="912.0" y="1133.5" fill="#ff0000">108</text>
<text x="825.0" y="1038.5" fill="#ff0000">109</text>
<text x="912.4" y="775.5" fill="#000000">110</text>
<text x="833.0" y="899.5" fill="#000000">111</text>
<text x="1018.0" y="1252.9" fill="#ff0000">112</text>
<text x="1134.0" y="1111.5" fill="#000000">113</text>
<text x="1029.0" y="984.5" fill="#0000ff">114</text>
<text x="1060.0" y="929.9" fill="#000000">115</text>
<text x="1054.6" y="917.5" fill="#0000ff">116</text>
<text x="1042.0" y="908.5" fill="#000000">117</text>
<text x="1112.0" y="978.1" fill="#000000">118</text>
<text x="1168.6" y="980.5" fill="#0000ff">119</text>
<text x="1096.4" y="928.1" fill="#0000ff">120</text>
<text x="1086.6" y="923.9" fill="#000000">121</text>
<text x="1079.0" y="913.5" fill="#0000ff">122</text>
<text x="1065.6" y="901.9" fill="#000000">123</text>
<text x="1098.0" y="1145.5" fill="#000000">124</text>
<text x="1106.4" y="1139.5" fill="#000000">125</text>
<text x="1010.6" y="1227.1" fill="#ff0000">126</text>
</g>
<text x="1041.5" y="636" font-size="38.8" text-anchor="middle">tSNE-1</text>
<text x="1041" y="1305.3" font-size="38.8" text-anchor="middle">tSNE-1</text>
<text transform="translate(743.5 332.1) rotate(-90)" font-size="39.8" text-anchor="middle">tSNE-2</text>
<text transform="translate(744.8 1001.9) rotate(-90)" font-size="39.8" text-anchor="middle">tSNE-2</text>
<text x="1063" y="1057.4" font-size="19.6" font-weight="bold">38, Me(T)</text>
<text x="1044.4" y="1067" font-size="19.8" font-weight="bold">58, Me(5mC)</text>
<g fill="none" stroke-width="1.25" stroke-linecap="butt">
<path stroke="#ff8000" d="M1616.5 588.1L1625.8 590.7M1609.2 584.1L1600.3 581.9M1608.2 588.0L1599.3 585.7M1611.4 591.7L1609.3 600.0M1613.8 582.3L1616.0 574.2M1556.8 486.0L1552.5 479.1M1542.0 477.0L1537.0 480.3M1544.2 480.4L1539.2 483.7M1556.1 470.3L1560.6 467.4M1546.3 469.7L1542.1 463.7M1570.5 361.2L1572.8 352.7M1568.0 344.5L1561.5 342.9M1567.0 348.3L1560.5 346.7M1580.5 349.8L1587.0 351.5M1575.3 343.3L1577.5 335.3M1628.5 276.2L1634.1 273.3M1639.8 264.4L1636.1 257.4M1636.3 266.2L1632.5 259.2M1642.9 274.7L1646.5 282.0M1647.1 266.7L1652.3 264.0M1730.0 262.5L1736.1 264.7M1746.3 263.0L1749.4 255.2M1742.6 261.6L1745.6 253.8M1740.8 271.7L1737.8 279.5M1749.1 269.6L1755.0 272.0M1808.5 328.5L1811.6 336.4M1823.2 339.4L1826.5 338.1M1821.8 335.7L1825.0 334.4M1804.3 344.5L1800.8 345.8M1815.2 345.8L1818.2 353.5"/>
<path stroke="#ff0d0d" d="M1625.8 590.7L1635.1 593.3M1600.3 581.9L1591.4 579.6M1599.3 585.7L1590.4 583.5M1609.3 600.0L1607.2 608.3M1616.0 574.2L1618.2 566.1M1615.5 557.5L1610.0 552.0M1619.9 511.8L1628.5 508.5M1632.2 502.3L1631.9 493.5M1577.5 496.8L1570.5 497.2M1561.1 492.9L1556.8 486.0M1676.8 486.3L1678.3 495.0M1680.8 485.7L1682.2 494.4M1537.0 480.3L1532.0 483.6M1539.2 483.7L1534.2 487.0M1560.6 467.4L1565.1 464.5M1542.1 463.7L1537.9 457.7M1536.9 448.3L1540.6 440.8M1518.7 405.3L1511.9 404.9M1504.0 399.9L1501.7 392.0M1554.3 377.7L1560.5 376.1M1568.2 369.7L1570.5 361.2M1414.1 316.1L1407.2 315.8M1413.9 320.1L1407.0 319.8M1561.5 342.9L1555.0 341.3M1560.5 346.7L1554.0 345.1M1587.0 351.5L1593.5 353.2M1577.5 335.3L1579.7 327.3M1576.3 317.9L1571.5 313.0M1560.5 267.5L1555.8 261.7M1555.1 252.3L1559.5 245.7M1605.2 275.2L1609.9 278.2M1622.9 279.1L1628.5 276.2M1636.1 257.4L1632.3 250.4M1632.5 259.2L1628.8 252.2M1646.5 282.0L1650.1 289.3M1652.3 264.0L1657.5 261.3M1664.2 253.3L1664.7 244.7M1691.4 205.8L1692.7 197.3M1699.9 191.6L1706.7 190.5M1715.4 244.5L1716.7 253.3M1723.9 260.3L1730.0 262.5M1764.3 175.1L1768.7 182.0M1767.7 172.9L1772.1 179.8M1749.4 255.2L1752.4 247.4M1745.6 253.8L1748.7 246.0M1737.8 279.5L1734.8 287.3M1755.0 272.0L1760.9 274.4M1773.2 272.3L1778.0 268.4M1824.7 262.1L1829.4 259.0M1841.9 259.5L1846.4 263.1M1812.1 305.4L1807.4 311.2M1805.4 320.6L1808.5 328.5M1962.3 273.0L1966.2 270.5M1960.2 269.6L1964.1 267.1M1826.5 338.1L1829.7 336.8M1825.0 334.4L1828.3 333.1M1800.8 345.8L1797.4 347.1M1818.2 353.5L1821.3 361.2M1832.2 367.3L1836.3 367.9M1872.2 398.3L1876.1 399.3M1885.4 406.3L1885.8 415.4M1830.9 418.4L1826.9 418.6M1894.8 474.3L1892.0 475.8M1896.6 477.9L1893.8 479.3M1963.8 481.0L1967.8 483.5M1966.0 477.6L1970.0 480.1"/>
<path stroke="#000000" d="M1610.0 552.0L1604.5 546.5M1601.8 537.9L1606.2 521.3M1611.3 515.1L1619.9 511.8M1631.9 493.5L1631.6 484.7M1627.5 479.0L1612.5 475.2M1602.9 478.3L1594.1 491.3M1594.7 500.7L1603.7 511.9M1584.5 496.4L1577.5 496.8M1635.3 476.9L1641.7 471.8M1664.3 468.1L1670.1 470.2M1675.4 477.6L1676.8 486.3M1679.3 477.0L1680.8 485.7M1682.5 467.9L1687.0 464.3M1695.5 442.8L1694.3 434.3M1691.2 443.4L1690.2 435.9M1699.4 424.9L1703.8 421.3M1687.1 427.1L1675.1 422.5M1662.9 424.7L1653.7 432.3M1664.9 428.7L1657.2 435.0M1648.7 441.7L1650.0 450.3M1540.6 440.8L1544.3 433.3M1543.6 423.9L1535.0 410.7M1525.5 405.7L1518.7 405.3M1501.7 392.0L1499.4 384.1M1504.5 375.1L1514.1 368.9M1526.6 369.3L1535.6 376.3M1539.8 385.7L1533.8 401.3M1548.1 379.3L1554.3 377.7M1491.5 376.8L1485.7 374.4M1462.2 376.9L1457.5 380.0M1445.1 379.7L1440.5 376.0M1447.0 375.7L1443.2 372.6M1434.8 355.0L1437.8 347.1M1446.1 342.7L1459.9 343.3M1447.3 338.4L1459.1 339.0M1467.7 348.3L1469.9 356.5M1469.4 338.9L1473.7 332.3M1474.5 309.3L1470.6 302.3M1470.7 311.4L1467.3 305.3M1471.2 292.9L1475.7 286.3M1461.5 297.2L1455.0 296.8M1434.7 307.3L1430.4 313.9M1421.0 316.4L1414.1 316.1M1420.8 320.4L1413.9 320.1M1429.8 323.3L1437.2 337.7M1571.5 313.0L1566.7 308.1M1563.3 298.7L1567.7 282.7M1565.2 273.3L1560.5 267.5M1559.5 245.7L1563.9 239.1M1573.5 236.2L1586.1 239.6M1592.8 246.1L1593.8 263.3M1587.5 270.6L1575.5 275.4M1600.5 272.2L1605.2 275.2M1565.1 229.7L1562.0 221.9M1544.0 206.0L1537.5 204.3M1530.8 197.9L1530.3 189.3M1535.0 196.7L1534.6 189.1M1542.1 171.3L1548.1 169.0M1556.3 161.9L1562.3 145.7M1560.7 162.4L1566.0 148.1M1560.1 136.3L1555.5 130.8M1570.5 139.9L1577.3 138.8M1599.1 147.0L1603.8 152.7M1595.8 149.7L1599.8 154.6M1605.8 162.1L1602.8 170.2M1584.8 185.0L1578.1 186.0M1584.2 180.7L1578.4 181.6M1567.7 182.3L1558.5 171.3M1568.5 191.7L1564.3 198.2M1664.7 244.7L1665.2 236.1M1671.9 228.0L1682.9 222.4M1690.1 214.3L1691.4 205.8M1706.7 190.5L1713.5 189.4M1722.4 193.1L1730.0 207.7M1727.6 217.1L1718.2 226.3M1706.9 227.8L1695.9 222.2M1714.1 235.7L1715.4 244.5M1722.3 183.7L1726.0 176.4M1745.3 163.4L1752.1 162.9M1759.9 168.2L1764.3 175.1M1763.3 166.0L1767.7 172.9M1761.1 157.7L1764.8 150.9M1763.5 127.9L1759.1 121.1M1759.9 130.2L1756.0 124.3M1758.5 111.7L1762.3 104.7M1749.5 116.8L1736.1 117.6M1727.2 122.7L1719.9 137.3M1730.6 125.5L1724.2 138.3M1720.6 146.7L1724.8 153.2M1778.0 268.4L1782.8 264.5M1795.1 262.3L1806.9 266.9M1819.9 265.2L1824.7 262.1M1846.4 263.1L1850.9 266.6M1855.1 276.0L1848.9 291.7M1838.0 295.9L1829.7 295.5M1819.3 290.3L1814.7 274.1M1816.8 299.7L1812.1 305.4M1863.4 269.6L1869.7 268.0M1887.1 252.2L1889.9 244.5M1898.2 240.0L1905.1 240.3M1899.0 244.4L1904.9 244.6M1922.0 253.6L1924.2 261.7M1919.0 270.9L1910.0 277.0M1920.6 275.0L1913.3 280.0M1897.6 276.8L1893.0 273.1M1903.7 286.2L1904.0 294.8M1916.6 314.1L1922.2 316.9M1918.5 310.2L1923.2 312.6M1929.0 324.8L1929.5 333.2M1935.2 315.9L1939.9 312.9M1950.5 292.1L1950.2 283.2M1957.6 276.0L1962.3 273.0M1955.4 272.7L1960.2 269.6M1943.5 275.3L1932.0 269.6M1836.3 367.9L1840.5 368.6M1851.4 374.7L1857.5 390.3M1868.4 397.3L1872.2 398.3M1885.8 415.4L1886.1 424.4M1877.2 432.4L1870.5 434.9M1857.4 433.5L1848.0 422.2M1847.2 412.8L1856.1 399.7M1834.9 418.1L1830.9 418.4M1893.9 433.8L1897.5 436.1M1908.2 456.5L1907.8 465.3M1897.6 472.9L1894.8 474.3M1899.4 476.4L1896.6 477.9M1914.9 474.7L1918.8 477.2M1941.8 478.2L1944.5 476.8M1959.8 478.5L1963.8 481.0M1962.0 475.1L1966.0 477.6M1953.6 467.4L1954.2 450.3M1963.5 441.0L1970.0 437.8M1947.5 440.9L1939.9 435.7M1944.3 443.9L1938.3 439.8M1923.9 435.5L1920.9 437.0"/>
<path stroke="#3333ff" d="M1641.7 471.8L1648.1 466.7M1655.9 465.0L1664.3 468.1M1687.0 464.3L1691.5 460.7M1696.7 451.3L1695.5 442.8M1692.3 450.9L1691.2 443.4M1703.8 421.3L1708.2 417.7M1650.0 450.3L1651.3 458.9M1485.7 374.4L1479.9 372.0M1466.9 373.8L1462.2 376.9M1440.5 376.0L1435.9 372.3M1443.2 372.6L1439.3 369.6M1431.8 362.9L1434.8 355.0M1469.9 356.5L1472.1 364.7M1473.7 332.3L1478.0 325.7M1478.4 316.3L1474.5 309.3M1474.1 317.5L1470.7 311.4M1475.7 286.3L1480.2 279.7M1455.0 296.8L1448.5 296.4M1439.0 300.7L1434.7 307.3M1562.0 221.9L1558.9 214.1M1550.5 207.7L1544.0 206.0M1530.3 189.3L1529.8 180.7M1534.6 189.1L1534.2 181.5M1536.1 173.6L1542.1 171.3M1555.5 130.8L1550.9 125.3M1577.3 138.8L1584.1 137.7M1594.4 141.3L1599.1 147.0M1591.7 144.8L1595.8 149.7M1602.8 170.2L1599.8 178.3M1591.5 184.0L1584.8 185.0M1589.9 179.9L1584.2 180.7M1564.3 198.2L1560.1 204.7M1726.0 176.4L1729.7 169.1M1738.5 163.9L1745.3 163.4M1764.8 150.9L1768.5 144.1M1767.9 134.7L1763.5 127.9M1763.8 136.2L1759.9 130.2M1762.3 104.7L1766.1 97.7M1724.8 153.2L1729.0 159.7M1869.7 268.0L1875.9 266.3M1884.2 259.9L1887.1 252.2M1905.1 240.3L1912.0 240.6M1904.9 244.6L1910.8 244.8M1919.8 245.5L1922.0 253.6M1893.0 273.1L1888.3 269.3M1904.0 294.8L1904.3 303.4M1911.0 311.3L1916.6 314.1M1913.8 307.9L1918.5 310.2M1929.5 333.2L1929.9 341.7M1939.9 312.9L1944.6 309.8M1950.9 300.9L1950.5 292.1M1897.5 436.1L1901.2 438.3M1908.6 447.7L1908.2 456.5M1918.8 477.2L1922.8 479.7M1939.0 479.7L1941.8 478.2M1920.9 437.0L1917.9 438.5"/>
</g>
<g font-size="10" text-anchor="middle">
<text x="1639.0" y="598.0" fill="#ff0d0d">0</text>
<text x="1612.6" y="590.6" fill="#ff8000">1</text>
<text x="1587.0" y="584.2" fill="#ff0d0d">2</text>
<text x="1606.0" y="616.6" fill="#ff0d0d">3</text>
<text x="1619.4" y="565.0" fill="#ff0d0d">4</text>
<text x="1600.6" y="546.2" fill="#000000">5</text>
<text x="1607.4" y="520.2" fill="#000000">6</text>
<text x="1632.4" y="510.6" fill="#ff0d0d">7</text>
<text x="1631.4" y="483.6" fill="#000000">8</text>
<text x="1652.0" y="467.2" fill="#3333ff">9</text>
<text x="1676.6" y="476.2" fill="#000000">10</text>
<text x="1681.0" y="503.0" fill="#ff0d0d">11</text>
<text x="1697.4" y="459.6" fill="#3333ff">12</text>
<text x="1693.6" y="433.2" fill="#000000">13</text>
<text x="1714.0" y="416.6" fill="#3333ff">14</text>
<text x="1668.6" y="423.6" fill="#000000">15</text>
<text x="1648.0" y="440.6" fill="#000000">16</text>
<text x="1606.0" y="477.2" fill="#000000">17</text>
<text x="1591.0" y="499.6" fill="#000000">18</text>
<text x="1564.0" y="501.2" fill="#ff0d0d">19</text>
<text x="1549.6" y="478.0" fill="#ff8000">20</text>
<text x="1526.6" y="493.2" fill="#ff0d0d">21</text>
<text x="1571.6" y="464.0" fill="#ff0d0d">22</text>
<text x="1534.6" y="456.6" fill="#ff0d0d">23</text>
<text x="1546.6" y="432.2" fill="#000000">24</text>
<text x="1532.0" y="409.6" fill="#000000">25</text>
<text x="1505.4" y="408.2" fill="#ff0d0d">26</text>
<text x="1498.0" y="383.0" fill="#000000">27</text>
<text x="1473.4" y="373.0" fill="#3333ff">28</text>
<text x="1451.0" y="388.0" fill="#000000">29</text>
<text x="1430.0" y="371.2" fill="#3333ff">30</text>
<text x="1439.6" y="346.0" fill="#000000">31</text>
<text x="1466.4" y="347.2" fill="#000000">32</text>
<text x="1481.0" y="324.6" fill="#3333ff">33</text>
<text x="1468.0" y="301.2" fill="#000000">34</text>
<text x="1483.4" y="278.6" fill="#3333ff">35</text>
<text x="1442.0" y="299.6" fill="#3333ff">36</text>
<text x="1427.4" y="322.2" fill="#000000">37</text>
<text x="1400.6" y="321.2" fill="#ff0d0d">38</text>
<text x="1520.6" y="368.2" fill="#000000">39</text>
<text x="1541.6" y="384.6" fill="#000000">40</text>
<text x="1567.0" y="378.0" fill="#ff0d0d">41</text>
<text x="1574.0" y="351.6" fill="#ff8000">42</text>
<text x="1548.0" y="345.2" fill="#ff0d0d">43</text>
<text x="1600.0" y="358.6" fill="#ff0d0d">44</text>
<text x="1581.0" y="326.2" fill="#ff0d0d">45</text>
<text x="1562.0" y="307.0" fill="#000000">46</text>
<text x="1569.0" y="281.6" fill="#000000">47</text>
<text x="1552.0" y="260.6" fill="#ff0d0d">48</text>
<text x="1567.0" y="238.0" fill="#000000">49</text>
<text x="1557.0" y="213.0" fill="#3333ff">50</text>
<text x="1531.0" y="206.2" fill="#000000">51</text>
<text x="1529.6" y="179.6" fill="#3333ff">52</text>
<text x="1554.6" y="170.2" fill="#000000">53</text>
<text x="1564.0" y="144.6" fill="#000000">54</text>
<text x="1547.0" y="124.2" fill="#3333ff">55</text>
<text x="1590.6" y="140.2" fill="#3333ff">56</text>
<text x="1607.6" y="161.0" fill="#000000">57</text>
<text x="1598.0" y="186.6" fill="#3333ff">58</text>
<text x="1571.6" y="190.6" fill="#000000">59</text>
<text x="1592.6" y="245.0" fill="#000000">60</text>
<text x="1594.0" y="271.6" fill="#000000">61</text>
<text x="1616.4" y="286.0" fill="#ff0d0d">62</text>
<text x="1640.6" y="273.6" fill="#ff8000">63</text>
<text x="1628.0" y="250.2" fill="#ff0d0d">64</text>
<text x="1652.4" y="297.6" fill="#ff0d0d">65</text>
<text x="1664.0" y="261.6" fill="#ff0d0d">66</text>
<text x="1665.4" y="235.0" fill="#000000">67</text>
<text x="1689.4" y="222.6" fill="#000000">68</text>
<text x="1693.4" y="196.2" fill="#ff0d0d">69</text>
<text x="1720.0" y="192.0" fill="#000000">70</text>
<text x="1732.0" y="168.0" fill="#3333ff">71</text>
<text x="1758.6" y="166.0" fill="#000000">72</text>
<text x="1773.4" y="189.2" fill="#ff0d0d">73</text>
<text x="1771.0" y="143.0" fill="#3333ff">74</text>
<text x="1756.0" y="120.0" fill="#000000">75</text>
<text x="1768.6" y="96.6" fill="#3333ff">76</text>
<text x="1729.6" y="121.6" fill="#000000">77</text>
<text x="1717.6" y="145.6" fill="#000000">78</text>
<text x="1732.4" y="216.0" fill="#000000">79</text>
<text x="1713.4" y="234.6" fill="#000000">80</text>
<text x="1717.4" y="261.6" fill="#ff0d0d">81</text>
<text x="1742.6" y="270.6" fill="#ff8000">82</text>
<text x="1752.4" y="245.6" fill="#ff0d0d">83</text>
<text x="1733.0" y="295.6" fill="#ff0d0d">84</text>
<text x="1767.4" y="280.6" fill="#ff0d0d">85</text>
<text x="1788.6" y="263.4" fill="#000000">86</text>
<text x="1813.4" y="273.0" fill="#000000">87</text>
<text x="1835.9" y="258.4" fill="#ff0d0d">88</text>
<text x="1856.9" y="274.9" fill="#000000">89</text>
<text x="1882.4" y="268.2" fill="#3333ff">90</text>
<text x="1891.7" y="243.4" fill="#000000">91</text>
<text x="1918.5" y="244.4" fill="#3333ff">92</text>
<text x="1925.5" y="270.0" fill="#000000">93</text>
<text x="1903.5" y="285.1" fill="#000000">94</text>
<text x="1904.5" y="311.7" fill="#3333ff">95</text>
<text x="1928.7" y="323.7" fill="#000000">96</text>
<text x="1930.2" y="350.0" fill="#3333ff">97</text>
<text x="1951.1" y="309.2" fill="#3333ff">98</text>
<text x="1950.0" y="282.1" fill="#000000">99</text>
<text x="1972.5" y="267.7" fill="#ff0d0d">100</text>
<text x="1847.1" y="300.0" fill="#000000">101</text>
<text x="1820.6" y="298.6" fill="#000000">102</text>
<text x="1803.6" y="319.5" fill="#ff0d0d">103</text>
<text x="1813.4" y="344.7" fill="#ff8000">104</text>
<text x="1838.1" y="335.0" fill="#ff0d0d">105</text>
<text x="1788.3" y="354.1" fill="#ff0d0d">106</text>
<text x="1823.1" y="369.5" fill="#ff0d0d">107</text>
<text x="1849.6" y="373.6" fill="#000000">108</text>
<text x="1859.3" y="398.6" fill="#000000">109</text>
<text x="1885.2" y="405.2" fill="#ff0d0d">110</text>
<text x="1886.3" y="432.7" fill="#000000">111</text>
<text x="1908.8" y="446.6" fill="#3333ff">112</text>
<text x="1907.6" y="473.6" fill="#000000">113</text>
<text x="1883.8" y="485.8" fill="#ff0d0d">114</text>
<text x="1930.1" y="488.0" fill="#3333ff">115</text>
<text x="1953.4" y="475.7" fill="#000000">116</text>
<text x="1976.4" y="490.1" fill="#ff0d0d">117</text>
<text x="1954.4" y="449.2" fill="#000000">118</text>
<text x="1979.1" y="436.8" fill="#000000">119</text>
<text x="1933.0" y="434.6" fill="#000000">120</text>
<text x="1861.4" y="441.8" fill="#000000">121</text>
<text x="1844.0" y="421.1" fill="#000000">122</text>
<text x="1817.8" y="422.8" fill="#ff0d0d">123</text>
</g>
<g fill="none" stroke-width="1.25" stroke-linecap="butt">
<path stroke="#ff8000" d="M1838.3 806.4L1846.9 809.5M1831.1 801.8L1822.3 798.9M1829.9 805.6L1821.1 802.7M1836.0 800.3L1838.7 792.2M1832.7 809.7L1829.9 817.7M1838.5 895.3L1842.4 902.3M1837.6 908.6L1832.3 911.4M1839.4 912.2L1834.1 915.0M1851.5 903.5L1856.8 900.7M1847.6 911.7L1851.5 918.8M1814.5 1018.6L1811.9 1026.6M1816.2 1035.5L1822.1 1037.5M1817.6 1031.7L1823.4 1033.8M1803.9 1029.1L1797.4 1026.8M1808.6 1036.0L1805.7 1043.7M1749.7 1098.8L1743.3 1101.2M1737.1 1109.2L1740.6 1116.9M1740.8 1107.6L1744.2 1115.2M1735.0 1099.0L1732.1 1091.5M1730.3 1106.6L1724.9 1109.0M1647.8 1105.2L1642.1 1102.5M1631.5 1103.2L1628.0 1110.3M1635.1 1105.0L1631.6 1112.1M1637.8 1094.7L1641.3 1087.2M1629.1 1096.3L1623.6 1093.7M1574.8 1032.6L1572.4 1024.5M1561.4 1020.4L1557.5 1021.5M1562.4 1024.2L1558.5 1025.3M1580.1 1017.1L1583.8 1016.0M1569.6 1015.1L1567.2 1006.9"/>
<path stroke="#ff0d0d" d="M1846.9 809.5L1855.5 812.6M1822.3 798.9L1813.5 796.0M1821.1 802.7L1812.3 799.8M1838.7 792.2L1841.4 784.1M1829.9 817.7L1827.1 825.7M1821.5 831.2L1812.2 833.0M1777.3 864.6L1768.5 867.4M1764.5 873.3L1764.3 882.1M1818.8 883.1L1825.5 883.4M1834.6 888.3L1838.5 895.3M1664.0 928.9L1659.5 934.7M1667.1 931.3L1662.7 937.1M1832.3 911.4L1827.0 914.2M1834.1 915.0L1828.8 917.8M1856.8 900.7L1862.1 897.9M1851.5 918.8L1855.4 925.9M1855.1 935.3L1851.0 942.0M1870.2 978.7L1876.9 979.6M1884.2 985.1L1885.6 993.5M1831.7 1003.6L1825.1 1004.8M1817.1 1010.6L1814.5 1018.6M1902.3 1050.6L1897.6 1053.8M1904.6 1054.0L1899.8 1057.1M1972.2 1048.7L1977.7 1051.2M1973.8 1045.1L1979.3 1047.6M1822.1 1037.5L1827.9 1039.6M1823.4 1033.8L1829.3 1035.8M1797.4 1026.8L1790.9 1024.6M1805.7 1043.7L1802.7 1051.4M1804.9 1060.8L1809.8 1066.4M1817.5 1113.0L1821.8 1119.4M1821.4 1128.8L1816.9 1134.8M1773.1 1101.8L1768.7 1098.5M1756.0 1096.3L1749.7 1098.8M1785.2 1185.4L1778.9 1184.1M1784.4 1189.4L1778.1 1188.0M1740.6 1116.9L1744.0 1124.5M1744.2 1115.2L1747.7 1122.9M1732.1 1091.5L1729.2 1083.9M1724.9 1109.0L1719.5 1111.4M1712.4 1119.0L1711.3 1127.4M1681.8 1164.1L1679.7 1172.5M1672.1 1177.8L1665.3 1178.3M1661.2 1124.2L1660.4 1115.7M1653.5 1107.9L1647.8 1105.2M1628.0 1110.3L1624.5 1117.4M1631.6 1112.1L1628.1 1119.2M1641.3 1087.2L1644.8 1079.7M1623.6 1093.7L1618.1 1091.1M1605.1 1092.4L1600.5 1095.5M1553.5 1097.9L1548.1 1100.8M1536.7 1099.7L1531.8 1095.0M1569.3 1055.2L1574.1 1050.1M1577.2 1040.7L1574.8 1032.6M1417.3 1076.2L1414.2 1077.9M1419.3 1079.8L1416.2 1081.5M1557.5 1021.5L1553.6 1022.6M1558.5 1025.3L1554.6 1026.4M1583.8 1016.0L1587.5 1014.9M1567.2 1006.9L1564.8 998.7M1554.3 992.0L1550.4 991.1M1516.7 958.0L1513.1 956.7M1504.2 948.7L1504.5 939.9M1559.1 941.3L1563.5 941.4"/>
<path stroke="#000000" d="M1812.2 833.0L1802.9 834.8M1797.3 840.3L1791.7 855.9M1786.1 861.8L1777.3 864.6M1764.3 882.1L1764.1 890.9M1767.9 896.9L1782.5 901.8M1792.6 899.3L1802.0 887.3M1802.3 877.9L1793.3 865.3M1812.1 882.8L1818.8 883.1M1760.1 898.0L1752.8 902.6M1741.3 923.4L1741.3 932.5M1734.7 939.2L1728.3 941.1M1732.5 935.3L1727.1 937.0M1707.7 934.0L1703.3 927.7M1703.8 918.3L1713.4 906.3M1701.1 914.8L1709.4 904.4M1723.7 903.7L1729.3 905.6M1715.1 896.9L1711.8 889.3M1693.2 875.2L1686.5 874.3M1692.6 879.5L1686.9 878.7M1678.0 868.7L1674.7 861.0M1676.4 878.1L1671.7 884.2M1668.5 907.3L1671.7 914.9M1668.4 923.1L1664.0 928.9M1671.6 925.5L1667.1 931.3M1680.1 920.4L1693.5 922.2M1851.0 942.0L1846.9 948.7M1846.6 958.1L1854.4 972.3M1863.5 977.8L1870.2 978.7M1885.6 993.5L1887.0 1002.0M1881.3 1010.2L1871.1 1015.8M1859.4 1014.6L1849.9 1006.0M1847.1 996.6L1854.6 981.7M1838.2 1002.4L1831.7 1003.6M1894.3 1009.7L1899.9 1012.4M1913.4 1031.5L1914.2 1040.1M1907.1 1047.5L1902.3 1050.6M1909.3 1050.8L1904.6 1054.0M1921.2 1047.9L1926.7 1050.4M1949.8 1048.8L1954.5 1045.8M1966.7 1046.2L1972.2 1048.7M1968.3 1042.6L1973.8 1045.1M1960.6 1036.8L1959.0 1019.0M1965.1 1009.9L1974.4 1003.7M1952.1 1011.3L1941.1 1006.1M1949.4 1014.7L1940.2 1010.5M1928.1 1007.4L1923.3 1010.6M1809.8 1066.4L1814.6 1072.1M1817.0 1081.5L1811.7 1097.2M1813.2 1106.6L1817.5 1113.0M1816.9 1134.8L1812.4 1140.7M1802.4 1143.2L1789.5 1139.0M1783.1 1132.1L1783.6 1114.5M1790.2 1107.9L1803.6 1103.8M1777.5 1105.1L1773.1 1101.8M1810.2 1150.1L1812.6 1158.2M1806.9 1180.6L1802.2 1185.5M1791.5 1186.8L1785.2 1185.4M1790.7 1190.7L1784.4 1189.4M1799.1 1194.9L1801.6 1203.1M1818.5 1219.3L1824.9 1220.9M1819.6 1215.1L1825.0 1216.5M1832.9 1227.3L1835.4 1235.3M1836.0 1217.9L1845.8 1207.7M1856.9 1204.6L1869.9 1207.8M1849.0 1198.3L1844.0 1182.0M1844.6 1198.6L1840.2 1184.2M1836.1 1175.7L1829.4 1174.2M1711.3 1127.4L1710.2 1135.9M1703.1 1143.3L1691.5 1148.3M1683.9 1155.7L1681.8 1164.1M1665.3 1178.3L1658.5 1178.9M1650.0 1174.8L1643.4 1159.5M1647.1 1150.1L1656.7 1142.1M1668.9 1141.3L1678.5 1147.1M1662.0 1132.7L1661.2 1124.2M1649.1 1184.2L1645.0 1190.8M1643.3 1214.6L1646.6 1222.5M1643.0 1231.9L1638.3 1235.8M1639.4 1229.2L1635.5 1232.5M1616.7 1237.4L1611.9 1234.4M1598.9 1232.3L1585.7 1236.3M1596.7 1228.5L1585.4 1231.9M1578.2 1242.9L1576.4 1251.3M1574.4 1233.5L1569.8 1228.8M1563.5 1206.8L1565.6 1198.7M1567.7 1207.8L1569.5 1200.7M1573.3 1192.0L1579.3 1190.1M1601.6 1195.3L1606.4 1199.8M1598.7 1198.5L1602.7 1202.3M1610.3 1209.2L1606.5 1225.7M1617.9 1203.9L1624.7 1203.2M1600.5 1095.5L1595.9 1098.6M1582.9 1099.9L1571.9 1094.5M1558.9 1095.0L1553.5 1097.9M1531.8 1095.0L1526.9 1090.3M1524.3 1080.9L1531.3 1066.3M1542.7 1062.8L1550.9 1063.8M1561.0 1069.7L1564.4 1086.7M1564.5 1060.3L1569.3 1055.2M1515.5 1086.8L1509.0 1088.1M1490.0 1103.0L1486.3 1110.7M1477.5 1114.4L1471.0 1113.4M1477.2 1110.0L1471.7 1109.2M1455.3 1098.2L1453.6 1089.7M1459.1 1081.6L1470.1 1075.8M1458.0 1077.3L1467.2 1072.5M1481.6 1077.1L1486.3 1081.5M1476.7 1067.7L1477.0 1058.9M1465.9 1038.7L1460.9 1035.8M1463.7 1042.4L1459.6 1040.0M1454.5 1027.3L1454.7 1018.4M1447.9 1035.4L1442.7 1038.2M1430.5 1058.0L1430.2 1066.9M1420.4 1074.5L1417.3 1076.2M1422.4 1078.1L1419.3 1079.8M1437.9 1076.3L1446.1 1081.1M1550.4 991.1L1546.5 990.2M1535.9 983.5L1530.9 967.3M1520.3 959.3L1516.7 958.0M1504.5 939.9L1504.8 931.1M1514.1 923.8L1521.5 921.6M1533.8 923.7L1542.4 936.3M1542.1 945.7L1532.9 957.9M1554.7 941.2L1559.1 941.3M1498.7 921.7L1494.2 918.4M1470.7 914.2L1467.1 915.3M1454.7 913.3L1450.3 907.0M1457.7 910.0L1453.8 904.5M1450.8 885.5L1455.3 879.7M1458.1 870.3L1454.9 852.7M1462.2 868.5L1459.3 852.9M1444.9 844.9L1441.5 843.8M1459.7 843.3L1464.3 839.5M1487.1 835.5L1490.5 836.7M1485.6 839.5L1488.1 840.4M1500.5 844.7L1502.1 853.0M1494.5 875.0L1489.7 879.3M1491.6 871.8L1487.6 875.4M1475.3 880.8L1468.1 878.2M1484.2 888.7L1483.9 897.2"/>
<path stroke="#3333ff" d="M1752.8 902.6L1745.4 907.2M1741.4 914.3L1741.3 923.4M1728.3 941.1L1721.9 943.0M1727.1 937.0L1721.6 938.6M1712.1 940.3L1707.7 934.0M1729.3 905.6L1737.6 908.3M1711.8 889.3L1708.4 881.7M1699.8 876.1L1693.2 875.2M1698.2 880.2L1692.6 879.5M1674.7 861.0L1671.4 853.3M1671.7 884.2L1667.0 890.3M1665.3 899.7L1668.5 907.3M1899.9 1012.4L1905.6 1015.1M1912.6 1022.8L1913.4 1031.5M1926.7 1050.4L1932.2 1053.0M1945.2 1051.8L1949.8 1048.8M1923.3 1010.6L1918.6 1013.8M1812.6 1158.2L1814.9 1166.3M1811.6 1175.7L1806.9 1180.6M1801.6 1203.1L1804.1 1211.3M1812.1 1217.7L1818.5 1219.3M1814.1 1213.7L1819.6 1215.1M1835.4 1235.3L1837.9 1243.3M1829.4 1174.2L1822.7 1172.6M1645.0 1190.8L1640.9 1197.3M1640.0 1206.7L1643.3 1214.6M1638.3 1235.8L1633.6 1239.7M1635.5 1232.5L1631.6 1235.8M1621.5 1240.4L1616.7 1237.4M1576.4 1251.3L1574.6 1259.7M1569.8 1228.8L1565.1 1224.2M1561.5 1214.8L1563.5 1206.8M1565.9 1214.9L1567.7 1207.8M1579.3 1190.1L1585.3 1188.2M1596.8 1190.9L1601.6 1195.3M1594.6 1194.7L1598.7 1198.5M1624.7 1203.2L1631.5 1202.6M1509.0 1088.1L1502.5 1089.3M1493.7 1095.3L1490.0 1103.0M1471.0 1113.4L1464.5 1112.4M1471.7 1109.2L1466.1 1108.3M1457.0 1106.7L1455.3 1098.2M1486.3 1081.5L1491.0 1085.9M1477.0 1058.9L1477.3 1050.1M1470.9 1041.6L1465.9 1038.7M1467.9 1044.8L1463.7 1042.4M1454.7 1018.4L1454.9 1009.5M1442.7 1038.2L1439.9 1039.7M1430.8 1049.1L1430.5 1058.0M1494.2 918.4L1489.7 915.1M1474.3 913.1L1470.7 914.2M1450.3 907.0L1445.9 900.7M1453.8 904.5L1450.0 899.1M1446.3 891.3L1450.8 885.5M1441.5 843.8L1438.1 842.7M1464.3 839.5L1468.9 835.7M1483.7 834.3L1487.1 835.5M1483.2 838.7L1485.6 839.5M1502.1 853.0L1503.7 861.3M1499.3 870.7L1494.5 875.0M1495.7 868.2L1491.6 871.8M1483.9 897.2L1483.6 905.7"/>
</g>
<g font-size="10" text-anchor="middle">
<text x="1859.4" y="817.6" fill="#ff0d0d">0</text>
<text x="1834.4" y="808.6" fill="#ff8000">1</text>
<text x="1809.0" y="800.2" fill="#ff0d0d">2</text>
<text x="1843.0" y="783.0" fill="#ff0d0d">3</text>
<text x="1825.4" y="834.0" fill="#ff0d0d">4</text>
<text x="1799.0" y="839.2" fill="#000000">5</text>
<text x="1790.0" y="864.2" fill="#000000">6</text>
<text x="1764.6" y="872.2" fill="#ff0d0d">7</text>
<text x="1764.0" y="899.2" fill="#000000">8</text>
<text x="1741.5" y="913.2" fill="#3333ff">9</text>
<text x="1741.2" y="940.8" fill="#000000">10</text>
<text x="1715.4" y="948.6" fill="#3333ff">11</text>
<text x="1700.0" y="926.6" fill="#000000">12</text>
<text x="1717.2" y="905.2" fill="#000000">13</text>
<text x="1706.3" y="880.6" fill="#3333ff">14</text>
<text x="1680.0" y="877.0" fill="#000000">15</text>
<text x="1669.4" y="852.2" fill="#3333ff">16</text>
<text x="1663.4" y="898.6" fill="#3333ff">17</text>
<text x="1673.6" y="923.2" fill="#000000">18</text>
<text x="1657.5" y="944.2" fill="#ff0d0d">19</text>
<text x="1789.0" y="907.6" fill="#000000">20</text>
<text x="1805.6" y="886.2" fill="#000000">21</text>
<text x="1832.0" y="887.2" fill="#ff0d0d">22</text>
<text x="1845.0" y="910.6" fill="#ff8000">23</text>
<text x="1821.4" y="923.0" fill="#ff0d0d">24</text>
<text x="1868.6" y="898.0" fill="#ff0d0d">25</text>
<text x="1858.0" y="934.2" fill="#ff0d0d">26</text>
<text x="1844.0" y="957.0" fill="#000000">27</text>
<text x="1857.0" y="980.6" fill="#000000">28</text>
<text x="1883.4" y="984.0" fill="#ff0d0d">29</text>
<text x="1887.8" y="1010.3" fill="#000000">30</text>
<text x="1912.1" y="1021.7" fill="#3333ff">31</text>
<text x="1914.7" y="1048.4" fill="#000000">32</text>
<text x="1892.2" y="1063.4" fill="#ff0d0d">33</text>
<text x="1938.7" y="1059.7" fill="#3333ff">34</text>
<text x="1961.0" y="1045.1" fill="#000000">35</text>
<text x="1985.0" y="1055.9" fill="#ff0d0d">36</text>
<text x="1958.6" y="1017.9" fill="#000000">37</text>
<text x="1980.9" y="1002.9" fill="#000000">38</text>
<text x="1934.6" y="1006.7" fill="#000000">39</text>
<text x="1864.6" y="1022.9" fill="#000000">40</text>
<text x="1844.7" y="1004.9" fill="#000000">41</text>
<text x="1818.6" y="1009.5" fill="#ff0d0d">42</text>
<text x="1810.4" y="1034.9" fill="#ff8000">43</text>
<text x="1835.1" y="1043.6" fill="#ff0d0d">44</text>
<text x="1784.4" y="1026.0" fill="#ff0d0d">45</text>
<text x="1800.9" y="1059.7" fill="#ff0d0d">46</text>
<text x="1818.6" y="1080.4" fill="#000000">47</text>
<text x="1810.1" y="1105.5" fill="#000000">48</text>
<text x="1824.9" y="1127.7" fill="#ff0d0d">49</text>
<text x="1808.9" y="1149.0" fill="#000000">50</text>
<text x="1816.2" y="1174.6" fill="#3333ff">51</text>
<text x="1797.6" y="1193.8" fill="#000000">52</text>
<text x="1772.0" y="1188.2" fill="#ff0d0d">53</text>
<text x="1805.6" y="1219.6" fill="#3333ff">54</text>
<text x="1831.4" y="1226.2" fill="#000000">55</text>
<text x="1839.4" y="1251.6" fill="#3333ff">56</text>
<text x="1850.4" y="1206.6" fill="#000000">57</text>
<text x="1876.4" y="1213.0" fill="#000000">58</text>
<text x="1842.6" y="1180.9" fill="#000000">59</text>
<text x="1783.0" y="1140.4" fill="#000000">60</text>
<text x="1783.7" y="1113.4" fill="#000000">61</text>
<text x="1762.5" y="1097.4" fill="#ff0d0d">62</text>
<text x="1736.8" y="1107.3" fill="#ff8000">63</text>
<text x="1748.0" y="1132.0" fill="#ff0d0d">64</text>
<text x="1727.4" y="1082.8" fill="#ff0d0d">65</text>
<text x="1713.0" y="1117.9" fill="#ff0d0d">66</text>
<text x="1709.6" y="1144.2" fill="#000000">67</text>
<text x="1685.0" y="1154.6" fill="#000000">68</text>
<text x="1678.6" y="1180.8" fill="#ff0d0d">69</text>
<text x="1652.0" y="1183.1" fill="#000000">70</text>
<text x="1638.0" y="1205.6" fill="#3333ff">71</text>
<text x="1648.6" y="1230.8" fill="#000000">72</text>
<text x="1628.0" y="1248.0" fill="#3333ff">73</text>
<text x="1605.4" y="1234.0" fill="#000000">74</text>
<text x="1579.2" y="1241.8" fill="#000000">75</text>
<text x="1573.6" y="1268.0" fill="#3333ff">76</text>
<text x="1560.3" y="1223.1" fill="#3333ff">77</text>
<text x="1566.8" y="1197.6" fill="#000000">78</text>
<text x="1591.8" y="1189.8" fill="#3333ff">79</text>
<text x="1611.4" y="1208.1" fill="#000000">80</text>
<text x="1641.4" y="1158.4" fill="#000000">81</text>
<text x="1662.4" y="1141.0" fill="#000000">82</text>
<text x="1660.0" y="1114.6" fill="#ff0d0d">83</text>
<text x="1635.6" y="1103.0" fill="#ff8000">84</text>
<text x="1624.0" y="1126.6" fill="#ff0d0d">85</text>
<text x="1647.0" y="1078.6" fill="#ff0d0d">86</text>
<text x="1611.6" y="1091.6" fill="#ff0d0d">87</text>
<text x="1589.4" y="1106.6" fill="#000000">88</text>
<text x="1565.4" y="1095.0" fill="#000000">89</text>
<text x="1541.6" y="1108.0" fill="#ff0d0d">90</text>
<text x="1522.0" y="1089.2" fill="#000000">91</text>
<text x="1496.0" y="1094.2" fill="#3333ff">92</text>
<text x="1484.0" y="1119.0" fill="#000000">93</text>
<text x="1458.0" y="1115.0" fill="#3333ff">94</text>
<text x="1452.6" y="1088.6" fill="#000000">95</text>
<text x="1476.6" y="1076.0" fill="#000000">96</text>
<text x="1477.4" y="1049.0" fill="#3333ff">97</text>
<text x="1454.4" y="1035.6" fill="#000000">98</text>
<text x="1455.0" y="1008.4" fill="#3333ff">99</text>
<text x="1431.0" y="1048.0" fill="#3333ff">100</text>
<text x="1430.0" y="1075.2" fill="#000000">101</text>
<text x="1406.6" y="1088.0" fill="#ff0d0d">102</text>
<text x="1533.6" y="1065.2" fill="#000000">103</text>
<text x="1560.0" y="1068.6" fill="#000000">104</text>
<text x="1578.6" y="1049.0" fill="#ff0d0d">105</text>
<text x="1571.0" y="1023.4" fill="#ff8000">106</text>
<text x="1545.0" y="1030.6" fill="#ff0d0d">107</text>
<text x="1596.6" y="1015.8" fill="#ff0d0d">108</text>
<text x="1563.4" y="997.6" fill="#ff0d0d">109</text>
<text x="1537.4" y="991.8" fill="#000000">110</text>
<text x="1529.4" y="966.2" fill="#000000">111</text>
<text x="1504.0" y="957.0" fill="#ff0d0d">112</text>
<text x="1505.0" y="930.0" fill="#000000">113</text>
<text x="1483.4" y="914.0" fill="#3333ff">114</text>
<text x="1458.0" y="921.6" fill="#000000">115</text>
<text x="1442.6" y="899.6" fill="#3333ff">116</text>
<text x="1459.0" y="878.6" fill="#000000">117</text>
<text x="1454.0" y="851.6" fill="#000000">118</text>
<text x="1429.0" y="843.2" fill="#3333ff">119</text>
<text x="1474.6" y="834.6" fill="#3333ff">120</text>
<text x="1499.6" y="843.6" fill="#000000">121</text>
<text x="1504.6" y="869.6" fill="#3333ff">122</text>
<text x="1484.4" y="887.6" fill="#000000">123</text>
<text x="1530.6" y="922.6" fill="#000000">124</text>
<text x="1545.6" y="944.6" fill="#000000">125</text>
<text x="1572.6" y="945.2" fill="#ff0d0d">126</text>
</g>
<defs><linearGradient id="cb" x1="0" x2="1" y1="0" y2="0"><stop offset="0.0000" stop-color="#0014a0"/><stop offset="0.1250" stop-color="#0046ff"/><stop offset="0.2500" stop-color="#00a0ff"/><stop offset="0.3750" stop-color="#50ffff"/><stop offset="0.5000" stop-color="#a5f8aa"/><stop offset="0.6250" stop-color="#ffff50"/><stop offset="0.7500" stop-color="#ffa500"/><stop offset="0.8750" stop-color="#ff5000"/><stop offset="1.0000" stop-color="#a10c00"/></linearGradient></defs>
<rect x="1765.1" y="670.7" width="134.9" height="31.1" fill="url(#cb)"/>
<text x="1832" y="661.4" font-size="26.6" font-weight="bold" text-anchor="middle">r(Pearson)</text>
<g font-size="25.7" text-anchor="middle"><text x="1763.4" y="733">-1</text><text x="1832" y="733">0</text><text x="1897.9" y="733">1</text></g>
<rect x="1952.2" y="643.7" width="15" height="12.4" fill="#000000"/>
<text x="1985" y="656.5" font-size="18">C</text>
<rect x="1952.2" y="668.1" width="15" height="12.4" fill="#0f32ff"/>
<text x="1985" y="680.9" font-size="18">N</text>
<rect x="1952.2" y="692.3" width="15" height="12.4" fill="#ff2800"/>
<text x="1985" y="705.1" font-size="18">O</text>
<rect x="1952.2" y="716.5" width="15" height="12.4" fill="#ffa500"/>
<text x="1985" y="729.3" font-size="18">P</text>
</svg></body></html>
